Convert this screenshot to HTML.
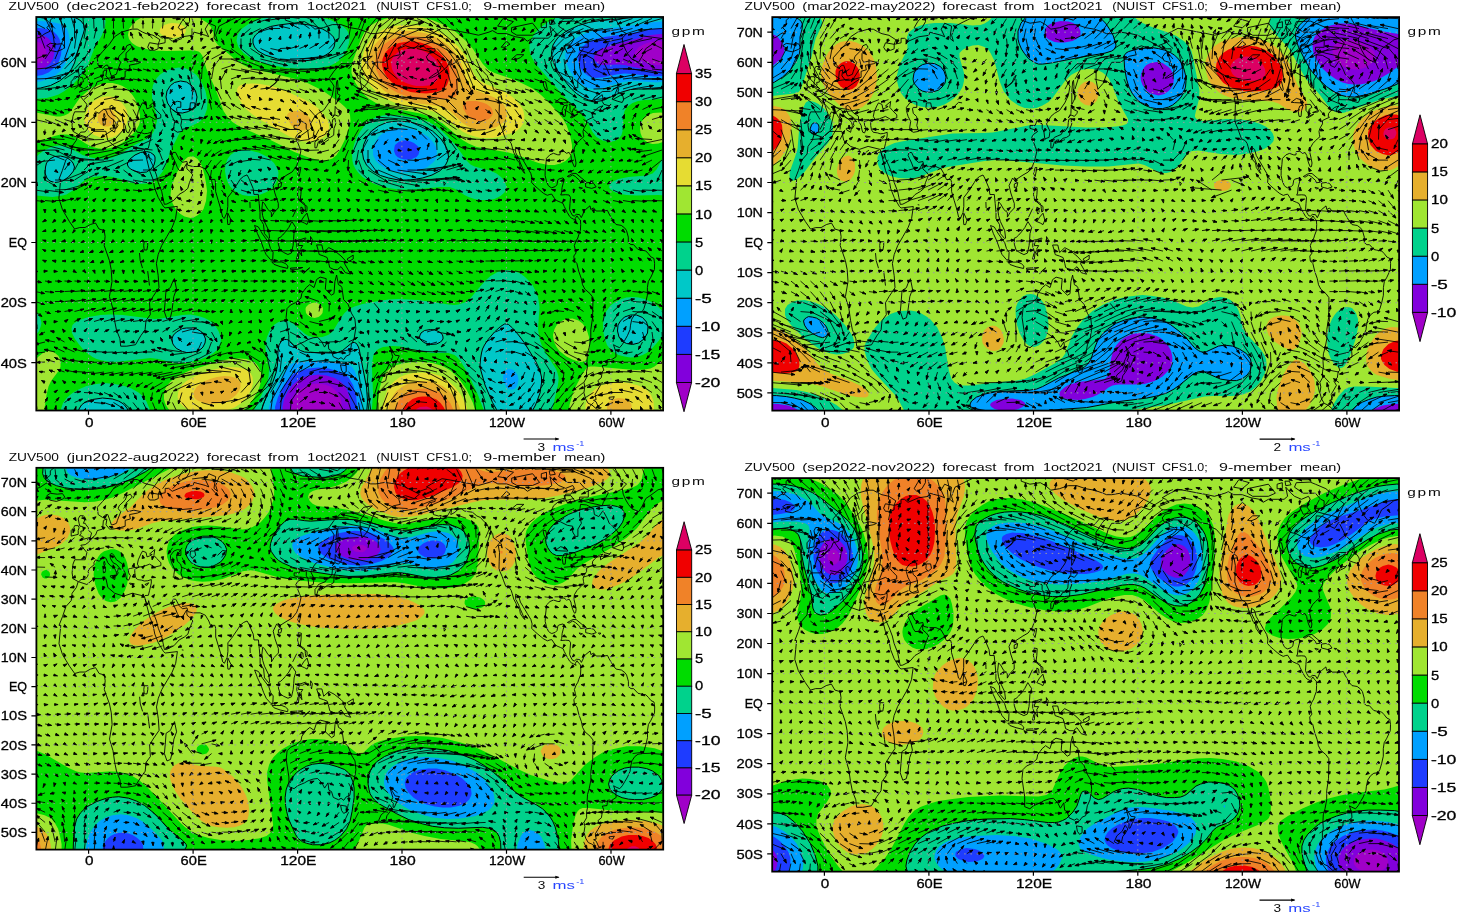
<!DOCTYPE html>
<html lang="en"><head><meta charset="utf-8"><title>ZUV500 forecast from 1oct2021 (NUIST CFS1.0; 9-member mean)</title>
<style>html,body{margin:0;padding:0;background:#fff}body{width:1459px;height:913px;overflow:hidden}svg{display:block}text{font-family:"Liberation Sans", sans-serif}.t{fill:#0a0a0a}.a,.c{stroke:#000;stroke-width:.3px}</style></head>
<body>
<svg width="1459" height="913" viewBox="0 0 1459 913" font-family='"Liberation Sans", sans-serif'>
<defs><clipPath id="cp"><rect x="36.3" y="17" width="626.8" height="393.5"/></clipPath></defs>
<g transform="translate(0 0)">
<g clip-path="url(#cp)">
<rect x="34.3" y="15" width="630.8" height="397.5" fill="#a000c8"/><path d="M30.5 11l638 0l0 33l-4-2l-4-1l-4 0l-6 1l-6 2l-5.5 3l-3.5 4l-1 2l0.5 2l3.5 4l6 3l6 2l5.5 1l4.5 0l4-1l4-2.5l0 353.5l-328 0l1-6l0-6l-1-4.5l-3-5.5l-3-3.5l-4-3l-6-2l-6-1l-6 0.5l-6 2l-5.5 3l-4 4l-2.5 4l-2.5 6l-0.5 6l1 6l-262 0l0-350l6-1l3-1l3-2l3-4l1-4l-1-4l-1-2.5l-2-2l-2-1.5l-4-1.5l-6-0.5z" fill="#8200dc" fill-rule="evenodd"/><path d="M30.5 11l638 0l0 24l-8-1l-10 1l-44 12l-5.5 2l-3.5 2l-2 2l-1.5 4l0.5 3l2 2.5l2 1.5l4 1l16-0.5l6 0.5l22 5l8 1l8-0.5l6-1.5l0 346l-319 0l1-8l-0.5-8l-2.5-8l-3-5.5l-4-4l-6-3.5l-8-2.5l-8-1l-8 1l-6.5 1.5l-5.5 3l-6 5l-4.5 6l-4 8l-1.5 8l0.5 8l-252.5 0l0-344l6-0.5l4-1l4-1.5l4-3l2-2l2.5-4l1-4l0.5-4l-1-4l-1-3.5l-4-5l-4-2.5l-4-1l-10-0.5z" fill="#1e3cff" fill-rule="evenodd"/><path d="M30.5 11l638 0l0 17l-8 0l-8 1l-26 5l-22 3l-8.5 2l-7.5 3l-6 4.5l-3.5 4.5l-1.5 6l1 6.5l1.5 3.5l2.5 4l2 2l4 3l6 2l8-0.5l14-3l8-1l8 0.5l22 2.5l8-0.5l6-1l0 340l-312.5 0l1-10l-1-10l-3-10l-4.5-7.5l-4-3.5l-7.5-3l-8.5-2.5l-10-1l-10 1l-8 2l-6 2.5l-4.5 4l-6 8l-6 12l-3 10l0.5 8l-245 0l0-338.5l6-0.5l6-1l6-2.5l4.5-3.5l4-4l2-4l2-6l0.5-6l-1-6l-1-4l-2.5-4l-2.5-2.5l-4-2.5l-6-1.5l-6-0.5l-8 0zM402.5 140.5l-4 1.5l-3.5 3l-0.5 2l-0.5 4l1.5 4l2 2l3 1.5l4 1l4 0l3.5-0.5l4.5-2l2-2.5l1-3.5l-1-4l-2-2l-2.5-2l-3.5-1.5l-4-1z" fill="#00a0ff" fill-rule="evenodd"/><path d="M30.5 11l638 0l0 10l-14 1l-26 4l-26 3l-10 2l-10 3.5l-8 4.5l-4.5 4l-3.5 6l-1.5 6l0.5 4l1.5 6l3 6l4 6l4.5 5l4 3l4 2.5l4 1l4 0.5l6-0.5l18-5.5l8-1.5l8-0.5l22 1.5l12-1.5l0 334l-307 0l0.5-12l-1-12l-4-14l-2.5-6.5l-2-3l-2-2l-4-1.5l-20-2.5l-10-0.5l-20 1.5l-4 1l-4 3l-6 9l-10.5 21.5l-3 10l-0.5 8l-238 0l0-333l10-0.5l7.5-2.5l6.5-3l6-5l4-6l2.5-6l2-8l0.5-12l-1-6l-1.5-4l-2.5-2.5l-4-2.5l-6-1.5l-6-1l-8-0.5l-10 1zM394.5 128.5l-6 2l-6 3l-4 3.5l-4 6l-1.5 6l0 6l3 6l4 4l6.5 4l5.5 2l6.5 1l8 0.5l8-1l8-2l5-2.5l5-4l2-2l2-4l0.5-6l-1-4l-1.5-3l-2.5-3l-3.5-4l-8-5l-8-3l-10-1zM506.5 370l-2.5 3l-1 4l0.5 4l1 2.5l2 3.5l2 2l2 0.5l2 0l2-0.5l2-2l1.5-4l0.5-4l-1-4l-3-4l-2-1.5l-2-0.5l-2 0z" fill="#00c8c8" fill-rule="evenodd"/><path d="M30.5 11l638 0l0 2.5l-12 1l-28 3.5l-28 2.5l-12 2l-10 3l-12 5.5l-8 6l-3 4l-2.5 4l-1 4l-0.5 4l1 6l2 6l4.5 8l7.5 10l5 6l5 4.5l6 4l6 2.5l8 1.5l6-1l18-8l10-3l8-0.5l20 0l10-1l0 327l-140 0l4-4.5l3-5.5l4.5-12l1.5-10l0-6l-1-4l-2-6l-3-6l-11-18l-6-8l-6-7l-4-3.5l-2-0.5l-2 0l-4 2.5l-6 5.5l-6 7l-4 6l-2 4l-1 4l-1 6l-0.5 6l1 6l4 14l7.5 17.5l4 7l3.5 5.5l-133.5 0l1-14l-1-14l-7-36l-1-4l-2-3.5l-2-1l-2 0l-2 1.5l-8 6.5l-6 2.5l-6 0l-20-0.5l-6-0.5l-4-1.5l-4-2.5l-8-8l-2-0.5l-2 0l-3 1.5l-2.5 4l-1 6l-0.5 14l-1.5 8l-3.5 10l-9.5 22l-1.5 6l-0.5 4l-133.5 0l0.5-2l-0.5-4l-3-4l-2.5-2l-3.5-2l-6-2l-10-1l-10 1.5l-5 1.5l-3.5 2l-2.5 2l-2.5 4l-0.5 3l0 3l-48 0l0-326l10-1l10-2.5l9-4.5l7.5-6l4.5-6l3-6l5-18l4-12l1-4l-0.5-4l-3-4l-3-2l-5.5-2.5l-8-2l-10-1l-12 0l-12 1zM140.5 152.5l-5.5 2.5l-5 4l-2.5 4l0 2l1 2l2 2l4 2l6 1.5l6-0.5l4.5-3l3-4l1-4l0-4l-1-2l-3.5-2.5l-4-1zM180.5 81l-6 1.5l-4 3l-3.5 5.5l-1 6l1.5 6l4 6l5 3.5l6 0.5l6-1.5l4-2.5l2-2.5l1.5-3.5l1-6l-1.5-6l-2.5-4l-2-2l-4.5-3zM278.5 25l-8 1.5l-6 2.5l-4 2l-5 4l-2.5 4l0 4l1.5 4l3.5 4l7 4l12.5 4l13 2l12 0l10-1l10-3l6.5-4l3.5-3.5l1.5-2.5l0.5-2l0.5-4l-1.5-4l-4-4l-7-4l-10-3.5l-10-1.5l-12-0.5zM386.5 122.5l-8 3.5l-7 5l-4.5 6l-3.5 8l-1 8l1 6l3 6l6 6l8 4.5l8 2.5l10 2l12 0l12-2l9.5-3l8.5-4.5l5-5.5l2-4l1-4l-0.5-4l-1-4l-2-4l-4-6l-8.5-8l-10-5.5l-12-3.5l-12-1l-6 0.5zM630.5 315l-6 2l-4 4l-2.5 4l-0.5 6l1.5 6l3 4l4.5 2.5l6 1l6-1.5l5.5-4l3.5-6l0.5-6l-1.5-5l-4-4.5l-6-2.5zM54.5 156.5l-4.5 2.5l-3.5 4l-1 4l-0.5 6l1.5 4l1 2l2.5 2l4.5 1.5l4-0.5l4-1l6-4l5-6l1-4l-1.5-4l-2.5-3l-4-2.5l-6-1.5zM182.5 328.5l-6 3.5l-3 3l-1 2l-0.5 2l0.5 4l1 2l3 3.5l6 3l4 1l4 0l7-1.5l3.5-2l2-2l2-4l0.5-4l-1.5-4l-3.5-4l-4-2l-4-1l-6 0zM424.5 330.5l-3.5 2.5l-1 2l-0.5 2l0.5 2l2 2l3 2l5.5 1.5l6-0.5l4-2l1-1l1.5-2l0-2l-0.5-2l-1.5-2l-3.5-2l-3-1l-4-0.5z" fill="#00d28c" fill-rule="evenodd" stroke="#000" stroke-width="1"/><path d="M99 11l476 0l-10.5 3l-10 4.5l-8 4.5l-6 4.5l-5.5 5.5l-3.5 6l-2 6l0 6l2 6l5 8l28 32l18.5 18l4 6l5.5 11l4 5l6 3.5l6 1.5l6-1l4-2l3-4l1-4l1-16l1-4l2.5-4l5.5-4l5.5-2l6.5-1l24-1.5l0 53.5l-5 5l-7 12.5l-4 4l-6 2l-18 1.5l-10 2l-4.5 2l-3 2l-1.5 2l-0.5 2l1 2l4.5 3l4 1.5l8 1.5l10 0.5l22-0.5l10 1l0 219l-117.5 0l6.5-28l1-6l0-4l-1-4l-1.5-4l-11.5-18l-3-6l-2-6l-1.5-10l1.5-22l-1.5-10l-2.5-6l-3-6l-3.5-4l-4-4l-4.5-3.5l-4-1.5l-4-1.5l-6-0.5l-8 1.5l-8 4.5l-6 5.5l-14 16.5l-6 4.5l-6 2l-4 0.5l-6-0.5l-30-4.5l-20-1l-10 0.5l-10 1.5l-16 3l-8 2.5l-6 3l-4 3.5l-4 5.5l-6 10l-3.5 4.5l-3 2l-5.5 2l-8 0.5l-6-1.5l-4-2.5l-10-9l-6-3.5l-4-0.5l-6 1.5l-4 2.5l-2.5 2.5l-2.5 4l-2.5 6l-1.5 6l0 6l3.5 18l0 4l-0.5 6l-1.5 6l-3.5 8l-12 24l-101 0l-1-6l-3-7.5l-4-5.5l-4-3.5l-8-4.5l-8-2.5l-8-1.5l-10-1l-8 1l-10 2l-8 3.5l-6 3.5l-5 4l-4.5 6l-2 6l-0.5 6l-30 0l0-72l8.5-12l1.5-4l1-4l-1-4l-2-4l-3-4l-5-5l0-111l22 2l10-1.5l4-1l5.5-3.5l10.5-9l4-3l4-1.5l6-1l8-0.5l8 1l8 2l10 3.5l8 1.5l8-0.5l6-2l6-4.5l4.5-6l3-6l4.5-14l9-18l5-4l12-5.5l4-2.5l4-5l2.5-7l0.5-8l-2-10l-3.5-8l-5.5-8l-6-4.5l-6-2.5l-6-0.5l-8 1.5l-6 2.5l-5 3.5l-3.5 4l-3 6l-1 6l0 6l1 6l3.5 12l0.5 6l-1 4l-2 6l-2.5 4l-3 3l-14 7l-16 10l-6 2.5l-6 1l-10 0l-8-1.5l-6-2l-12-7l-6-2l-6-0.5l-6 1l-8 3.5l-6.5 5l-3 4l-4.5 9.5l0-69.5l16-1l6-1.5l6-2l6-3.5l6-4.5l5.5-5.5l5.5-6l6.5-10l6-16l8-14l3-8l0.5-6l-1-4l-2-3zM280.5 15l-12 1.5l-12 3.5l-8 4l-7 5l-4 6l-1 6l2 6l5 6l5 3.5l4 2.5l14 5l20 4l18 1l14-1l12-2.5l4-2l4-2.5l4-4l2.5-4l2-4l2-6l0.5-4l-0.5-4l-1.5-4l-1.5-2l-5.5-4.5l-10-4.5l-16-4l-18-1.5zM388.5 115l-6 0.5l-6 1.5l-4 2l-4 2.5l-4 4l-4 5.5l-3.5 6l-2.5 6l-1.5 6l-1 6l0.5 6l1 4l2 4l3 4l4 4l4 2.5l8 4.5l6 2l8 2l10 1.5l14 0l28-2.5l9 0l5.5 2l9.5 6l4 2l6 2l6 1l8 0l6-1l6-3l4-3.5l1.5-3.5l0-4l-1.5-4l-3.5-4l-4.5-3.5l-5.5-2.5l-16.5-4.5l-4-2l-4-4l-9.5-13.5l-7-8l-8-8l-7.5-6l-8-4l-10-3l-14-2.5zM632.5 297l-6 0.5l-6 2l-6 3l-4 3l-4 5.5l-2 4l-1 4l-0.5 6l0.5 8l1.5 6l2 6l3 4l4.5 3.5l4 2.5l6 1.5l6 1l6-0.5l6-2l4-2l5-4l7-8l6-8l3-6l0.5-4l-0.5-4l-2-4l-5-6l-4.5-4l-5.5-3.5l-6-2.5l-6-1.5zM100.5 315l-12 2l-10 3.5l-4 2.5l-2 2l-1 4l0.5 4l3 6l4.5 6l5 6l8 6l4 2l6 1.5l8 1.5l10-0.5l30-3.5l8 1l16 4l6 0l8-0.5l12-3l10-4.5l3-2l4.5-4l1-2l1.5-4l0.5-4l-1-4l-1.5-4l-2.5-4l-3.5-4l-4-3l-4-2l-6-2l-8-1.5l-8 0.5l-22 3.5l-6 0.5l-32-4l-12-0.5zM238.5 150.5l-4 1.5l-4 3l-3 4l-2 6l-0.5 6l1 6l2 6l2.5 4l4 3.5l4 2.5l4 2l6 1l6 0l6-1.5l6-2.5l4.5-3l5-6l2-6l0.5-4l-1-4l-3.5-6l-6.5-6l-9-4.5l-10-2.5l-6 0zM383 347l9.5-1l8 0.5l24 5.5l8 1l16 0l6 2l2.5 2l3.5 4l8 13.5l9.5 20.5l7.5 20l-114 0l1.5-22l-1-24l0.5-8.5l1-5.5l3-4.5l2-1.5z" fill="#00dc00" fill-rule="evenodd"/><path d="M158 13l12.5-1l10 0.5l10 2l10 4l7 4.5l3.5 4l2 4l2 10l3 4l18.5 15.5l6 4l6 3l6 1.5l41 10l12 4l15 7.5l18 12.5l4.5 4l3.5 4l1.5 4l0.5 6l-2 8l-4 11.5l-4 8l-4 6.5l-4 3.5l-6 2l-8-0.5l-10-2.5l-14-5.5l-24-12l-25.5-11l-8-4l-4.5-3l-5-5l-4-6l-8-22l-9-20l-4-13l-2-3l-2-1.5l-4-1l-4 0l-24 0.5l-14-0.5l-12-3l-4-1.5l-4.5-3l-3-4l-1-4l1-6l3.5-5l4-3.5l6-3.5l8-2.5zM392.5 17l14-1l14 1.5l12 2.5l14 6l10 6.5l9.5 8.5l7 8l9.5 14.5l6 6.5l6 3l18 6l10 4.5l10 5l8 6l8 7.5l8 9l6.5 8l3.5 6l3.5 10l2 10l0 6l-1 4l-1.5 2l-4 4l-5 2.5l-6 1.5l-6 0l-10-2l-21.5-8l-8.5-2.5l-26-4.5l-6-1l-8-3.5l-6-3.5l-20.5-17l-9.5-5.5l-12-4l-24.5-4.5l-11.5-3l-8.5-3l-7.5-4.5l-4-3.5l-5-6l-4-6l-2.5-6l-1.5-4l0-4l0.5-4l1.5-6l7.5-20l3-6l2.5-4l4-3.5l6-3.5l8-3zM108 83l4.5 0l6 1.5l4 1.5l4 2.5l6 6.5l2.5 4l2.5 6l2.5 10l0 6l-1 4l-3.5 6l-3.5 4l-4.5 4l-5.5 4l-5.5 3l-6 2l-6 1l-6-0.5l-6-1.5l-6-3l-12-7.5l-4-1.5l-4-0.5l-6 0l-6 1.5l-18 6l-6 1.5l0-31l8 0.5l18 3.5l4 0l4-1l4-2l2-2l8.5-12.5l4-4l5.5-4.5l4-3l6-2.5l4-1.5zM653 113l7.5-0.5l8 1l0 26.5l-10 3.5l-6 0.5l-3.5-1l-2.5-1.5l-2-1.5l-2.5-3l-1.5-4l-0.5-4l0.5-4l1.5-4l2.5-3.5l2-1.5l4-2zM188 157l2.5-0.5l4 0.5l3 2l3 4l2 4.5l2 7.5l1.5 8l1 8l-1 10l-2.5 8l-3 4l-2.5 2l-3.5 2l-4 1l-6-1.5l-4-2.5l-3.5-3l-2.5-4l-2-4l-2-8l0.5-4l1-6l4.5-11.5l6-11l2-2.5zM312 303l2.5-0.5l4 1l2 1.5l2 2l0.5 2l-0.5 4l-1.5 2l-2.5 2l-4 1l-4-1l-3-2l-1.5-2l-0.5-4l0.5-2l2.5-2.5zM566 319l6.5-0.5l6 2l4 3l4 5.5l2.5 8l0.5 10l-1 6l-1 4l-1 2.5l-2 2l-4 0.5l-4-1l-4-1.5l-6-3l-7-5.5l-3-4l-2-4l-1-4l-0.5-4l1.5-6l2-3.5l2-2.5l4-2.5zM43 353l5.5-2l4 0.5l2.5 1.5l3.5 3l1.5 3l0.5 4l0 4l-2 4l-7.5 10l-2.5 5.5l-2 8.5l-3 20l-13 0l0-50.5l8-8zM668.5 354l0 61l-99.5 0l0.5-10l3.5-12l3.5-8l6-11l4-6l1.5-1l2.5-0.5l4 0l34 3l8 0.5l8-0.5l6-1l4-2l4-3zM229 359l11.5-0.5l6 0.5l4 1.5l6 3.5l2 3l2 4l1 4l0 4l-1.5 6l-1.5 5l-6 10.5l-4 5l-4 4l-8 5.5l-62 0l-4.5-4l-3-4l-2-4l-1-4l0-4l0.5-4l1.5-4l5-6l7.5-5l10-5l28-9zM404.5 363l14-1.5l14 1.5l10 3l8 4.5l8 7.5l8 11.5l6.5 13.5l3.5 12l-100 0l3-26l2-8l2.5-6l2.5-3.5l4-3.5l6-3z" fill="#a0e632" fill-rule="evenodd"/><path d="M164.5 25l4-1.5l4-0.5l6 0.5l3.5 1.5l2.5 2l1 2l0.5 2l-1 2l-1.5 2l-4.5 2l-6.5 1l-6-1l-4.5-2l-2-2l-0.5-2l0.5-2l1.5-2zM402.5 25l14 0.5l12 2.5l6 2l8 4l10 7l6 6l5 6l3.5 6l7.5 16l4 5l6 3.5l16 6.5l6 3l6 4l6 6l3 4l2 4l1 6l-1 6l-2.5 4l-4.5 4l-4.5 2l-11.5 3.5l-8 1.5l-6 0l-6 0l-6-1.5l-6-2l-6-3l-6-4.5l-12-10l-6-3.5l-8-3l-24-4.5l-11-3l-11-5l-8-6l-5-5l-4.5-6l-3.5-6l-1-4l-1-4l0-6l2.5-10l3-6l3.5-5.5l4-4l4-3l4-2.5l6-2.5l6-1.5zM240.5 85l4-1l8-0.5l8 0.5l8 1.5l8 2l9.5 3.5l20.5 9.5l6 3.5l6 4.5l4 4.5l3 4l2.5 4l1 4l0 4l-1.5 4l-3 3.5l-4 2.5l-4 1.5l-6 1l-6 0l-6-1l-10-4.5l-29.5-17l-6.5-4.5l-6.5-5.5l-4.5-6l-2.5-4l-1.5-4l-0.5-6l1.5-2.5zM102 97l4.5-0.5l4 0l4 1l4 2.5l3.5 3l3 4l2 4l0.5 4l0 4l-0.5 4l-3 6l-3.5 3.5l-4 3l-4 2l-4 0.5l-4 0.5l-4-1l-6.5-2.5l-3.5-3l-3-3l-3-6l0-4l0.5-4l3.5-8l3-4l3-2.5l4-2zM229.5 367l9 0.5l6 1.5l3.5 2l2.5 2l2 4l0.5 6l-1 4l-1.5 4l-4 7l-6 5.5l-6 4l-8 3l-10 2l-10 0.5l-8-0.5l-8-2l-6.5-3.5l-4-4l-1.5-3l-1-3l1-6l3.5-6l4.5-4l10-5.5l11.5-4.5l12.5-3zM413.5 373l9-0.5l10 1l8 2.5l8 5l6.5 6l6 8l5 10l2.5 10l-87 0l1.5-10l2-8l2-6l3.5-6l4-4l5.5-4l6.5-2.5zM608.5 383l10-1l10 1l10 2.5l7 3.5l3 2.5l2.5 3.5l2.5 6l0.5 8l-1.5 6l-66 0l-1-4l0-6l2-6l2-4l3.5-4l5-4l4.5-2z" fill="#e6dc32" fill-rule="evenodd"/><path d="M402 31l12.5 0l12 2.5l12 5l10 7l6 6.5l4.5 7l3.5 8l4.5 14l3.5 5.5l3 2.5l3 1.5l18 7l5.5 3.5l4 4l2 4l0.5 6l-1 4l-3 4l-6 4l-8 2.5l-8 0.5l-8-1.5l-6-3l-4-2.5l-12-11.5l-6-3.5l-6-2l-24-3l-12-3l-6-2.5l-6-3l-6-3.5l-4-4l-7-8l-4-8l-1-8l0-4l1.5-6l4.5-8l3.5-4l4.5-3.5l8-4l6-1.5zM104 109l2.5-0.5l4 0.5l2.5 2l2.5 4l0 4l-1 3.5l-3 2.5l-3 1.5l-4 0l-2-1l-2-1l-2.5-3.5l-0.5-4l1-3l2-3zM292.5 111l6 0l4 1l4 2.5l2.5 2.5l1.5 2l1 4l-1 4l-2 2l-4 1.5l-4 0l-4.5-1.5l-5-4l-3.5-6l-0.5-4l1.5-2zM217 377l7.5-1l6 0.5l4 1l4 2.5l2 3l0 4l-1.5 4l-3 4l-5 4l-4 2l-6.5 2l-4 0.5l-6 0.5l-6-1l-6-2l-3-2l-1.5-2l-0.5-4l1-2.5l2-3.5l5-4l3.5-2l5-2zM422 381l8.5 0.5l6 2l6 2.5l6 4.5l4 4.5l4.5 6l2.5 6l2 8l-74 0l1-8l2-6l3-6l3-4l6-4.5l6-3l6-1.5zM614 399l4.5-1l4 0.5l2.5 0.5l3.5 2l2 2l1 2l0 4l-1 2l-2 2.5l-3.5 1.5l-12 0l-2.5-1.5l-2.5-2.5l-1-2l0-4l1-2l2-2z" fill="#e6af2d" fill-rule="evenodd"/><path d="M398.5 37l6-1l6 0l8 0.5l6 1.5l6 2.5l6 3l5 3.5l4.5 4l3.5 4l3.5 6l3.5 10l1 6l0.5 8l-0.5 6l-1 4.5l-2 1.5l-2 1l-10 1l-16 0l-12-1l-8-2l-8.5-3l-7-4l-6.5-5.5l-5-6.5l-3.5-8l-1-8l1.5-6l3-6l5-5l6-4zM467.5 101l9 0l6 1.5l4 1.5l4 3l1.5 2l1 4l-0.5 2l-1.5 2l-2 2l-4.5 2l-6 0l-7-2l-4.5-4l-3.5-6l-0.5-4l0.5-2zM418 389l6.5-0.5l6 1l6 1.5l6 3.5l4.5 4.5l3.5 4.5l2.5 5.5l1.5 6l-60.5 0l1-6l1.5-4l2-4l3-4l7-5l4-1.5z" fill="#f08228" fill-rule="evenodd"/><path d="M399 43l9.5-1.5l6 0l6 1l6 2l5 2.5l8.5 6l3.5 4l2.5 4l2.5 5.5l1 4.5l0 6l-1 4l-1.5 4l-1.5 2l-5 3.5l-6 2l-8 1l-8-0.5l-8-1l-8-3l-7.5-4l-4.5-4l-4-4.5l-3-5.5l-1.5-6l0.5-6l2.5-6l3.5-4l5.5-4zM418 397l4.5-0.5l6 0l4 1.5l4 1.5l4 3.5l3 4l2 4l1 4l-44.5 0l1.5-6l4-6l5-4z" fill="#f00000" fill-rule="evenodd"/><path d="M406 49l8.5-0.5l8 2l6 3l6 5l2 2.5l2 4l1.5 6l-1 6l-2.5 4l-4 3l-4 1.5l-6 0.5l-6 0l-4.5-1l-6-2l-4-2l-5-4l-3-4l-2-4l-1-6l1-4l2.5-3.5l2.5-2.5l3.5-2zM420 407l6.5-0.5l4 1.5l3.5 3l1.5 4l-22.5 0l2-4l1.5-2z" fill="#dc0063" fill-rule="evenodd"/><path transform="scale(.5)" d="M73 811l1 7l-5 0zl-3 14M93 811l1 8l-5-1zl-3 14M112 811l1 8l-4-1zl-2 14M132 812l1 7l-5-1zl-3 13M152 813l0 8l-4-1zl-3 12M171 817l0 7l-4-1zl-3 8M192 822l-4 6l-3-3zM210 830l-5-5l4-2zM230 836l-4-6l4-1zl-3-11M249 840l-3-6l5-1zl-2-15M269 842l-3-7l4-1zl-3-17M290 841l-4-6l4-1zl-4-16M312 841l-5-5l4-2zl-7-16M336 842l-6-4l4-3zl-11-17M363 842l-6-3l3-3zl-18-17M391 840l-7-1l2-4zl-27-15M418 836l-7 0l1-5zl-34-11M443 830l-7 1l0-4zl-40-5M466 823l-7 3l0-5zl-43 2M487 817l-7 4l-1-5zl-44 8M504 811l-6 5l-2-5zl-42 14M516 805l-5 5l-2-4zl-34 20M525 796l-3 7l-3-3zl-24 29M535 786l-1 8l-4-2zl-14 39M547 781l2 8l-5-1zl-6 44M564 786l2 7l-5 0zl-4 39M583 799l2 8l-5-1zl-3 26M604 814l-1 8l-4-2zl-5 11M625 825l-7 3l0-5zM645 829l-8-1l3-4zl-7-4M662 835l-5-5l5-2zl-4-10M679 849l-3-7l5 0zl-1-24M697 868l-2-7l4 0zl0-43M716 884l-3-8l5 1zl1-59M735 889l-2-7l5 0zl1-64M755 887l-2-7l5 0zl1-62M775 878l-2-7l4 0zl1-53M794 868l-2-7l5 1zl1-43M813 857l-2-7l5 0zl2-32M832 842l-2-7l5 1zl2-17M849 824l7 0l-1 4zM870 806l4 7l-5 0zl4 19M890 791l3 7l-5 1zl3 34M909 783l3 7l-4 1zl4 42M928 782l3 7l-4 1zl4 43M947 787l3 7l-4 1zl5 38M965 797l4 6l-5 1zl6 28M983 808l5 5l-4 2zl8 17M1001 819l7 2l-2 4zl10 6M1020 828l6-4l1 5zl10-3M1040 835l3-6l3 3zl10-10M1060 839l2-7l4 3zl9-14M1080 841l1-7l5 2zl9-16M1101 842l1-8l4 2zl8-17M1122 841l0-7l5 2zl6-16M1143 841l0-7l4 1zl5-16M1163 840l0-7l5 1zl4-15M1184 838l-1-8l5 2zl3-13M1204 834l0-7l4 1zl2-9M1224 830l1-7l4 2zM1243 821l6 4l-4 3zM1263 817l4 6l-4 2zl2 8M1281 813l5 6l-5 1zl4 12M1300 811l4 6l-4 1zl4 14M1318 810l5 5l-5 2zl6 15M72 794l1 7l-4-1zl-2 11M95 795l-1 7l-4-2zl-5 10M118 795l-3 7l-3-3zl-8 10M142 796l-5 6l-2-4zl-13 9M165 798l-5 5l-2-4zl-16 7M188 801l-6 4l-1-5zl-20 4M210 807l-7 1l0-4zl-22-2M230 813l-7 0l1-5zl-22-8M248 818l-7-2l2-4zl-21-13M264 821l-7-3l4-3zl-17-16M280 823l-7-4l4-3zl-14-18M295 823l-5-5l4-2zl-9-18M313 825l-5-5l5-2zl-8-20M334 829l-5-6l5-2zl-9-24M357 830l-5-5l4-2zl-12-25M382 827l-6-4l4-3zl-18-22M406 820l-7-2l2-4zl-22-15M428 812l-7 0l1-4zl-25-7M451 805l-7 3l0-5zl-28 0M475 799l-6 3l-1-4zl-32 6M501 790l-6 5l-1-5zl-39 15M525 779l-5 6l-3-5zl-43 26M543 766l-4 7l-3-4zl-42 39M556 757l-2 7l-4-3zl-35 48M568 756l-1 7l-5-2zl-27 49M582 764l-1 7l-4-2zl-22 41M598 778l-2 7l-4-3zl-18 27M615 793l-4 6l-3-4zl-16 12M632 803l-7 3l0-4zl-13 2M650 807l-8 1l1-5zl-12-2M670 813l-7-2l2-4zl-12-8M690 826l-5-5l4-2zl-12-21M709 843l-4-6l4-1zl-12-38M727 859l-4-7l5 0zl-10-54M742 865l-3-7l5 0zl-6-60M756 861l-2-7l5 0zl0-56M769 852l-1-7l5 1zl7-47M783 843l0-8l4 2zl12-38M797 832l2-7l4 3zl18-27M813 819l5-6l3 4zl21-14M832 803l7-2l-1 5zl22 2M852 787l7 3l-3 3zl22 18M874 774l6 5l-4 3zl19 31M897 767l5 6l-5 2zl16 38M920 766l4 6l-4 2zl12 39M941 771l5 6l-5 2zl11 34M962 780l5 6l-5 1zl9 25M981 791l6 4l-4 3zl10 14M1000 802l8 0l-2 4zl11 3M1019 811l5-5l3 4zl11-6M1039 818l2-7l4 3zl11-13M1058 822l2-7l4 3zl11-17M1078 824l1-7l5 2zl11-19M1098 824l1-7l4 2zl11-19M1117 824l2-7l4 2zl11-19M1136 823l2-7l4 3zl12-18M1155 822l2-7l4 3zl12-17M1173 820l3-7l4 3zl14-15M1192 816l4-6l3 4zl14-11M1211 811l6-5l1 4zl15-6M1230 804l8-2l-1 5zl16 1M1251 798l7 1l-2 4zl14 7M1271 793l7 3l-3 4zl14 12M1293 790l6 4l-4 3zl11 15M1314 789l6 5l-4 2zl10 16M66 778l6 4l-4 3zl4 7M91 779l1 7l-4-1zM115 780l-4 6l-3-3zl-5 5M138 781l-5 5l-2-4zl-9 4M162 783l-7 3l-1-4zl-13 2M185 786l-8 2l1-5zl-17-1M206 789l-7 1l1-5zl-18-4M226 793l-8-1l2-4zl-18-8M243 796l-7-2l3-4zl-16-11M258 798l-6-4l4-3zl-11-13M273 799l-5-5l4-3zl-7-14M288 800l-4-7l5-1zl-2-15M302 802l-1-7l5 1zl3-17M318 807l-1-7l5 1zl7-22M335 810l0-7l5 2zl10-25M357 808l-1-7l5 1zl7-23M381 800l-1-7l4 1zl3-15M405 791l-4-6l5-1zM428 785l-7 2l0-4zM448 782l-5 5l-2-4zl-5 3M474 776l-4 6l-3-4zl-12 9M501 764l-3 6l-4-3zl-19 21M528 748l-2 7l-4-3zl-27 37M553 735l-2 7l-4-3zl-32 50M573 731l-1 7l-4-2zl-32 54M590 739l-1 7l-4-2zl-30 46M606 753l-2 7l-4-3zl-26 32M622 767l-4 7l-3-4zl-23 18M638 778l-6 4l-2-4zl-19 7M655 785l-7 2l0-5zl-17 0M676 793l-7-1l2-4zl-18-8M697 804l-7-3l4-3zl-19-19M715 819l-5-5l4-2zl-18-34M731 832l-5-6l5-1zl-14-47M744 836l-4-7l5-1zl-8-51M753 830l-2-7l5 0zl3-45M762 821l0-7l4 1zl14-36M771 813l3-7l4 3zl24-28M783 804l5-5l3 4zl32-19M798 794l6-4l1 4zl36-9M815 781l8-1l-1 4zl39 4M836 769l8 0l-2 5zl38 16M860 759l7 2l-3 4zl33 26M885 753l7 4l-4 3zl28 32M910 753l6 4l-4 3zl22 32M934 757l6 5l-4 2zl18 28M957 765l6 4l-4 3zl14 20M978 774l7 3l-3 3zl13 11M998 784l7-2l0 5zl13 1M1017 793l5-6l2 4zl13-8M1036 800l3-7l4 3zl14-15M1056 804l2-7l4 2zl13-19M1075 805l2-7l4 3zl14-20M1094 806l2-8l4 3zl15-21M1112 805l3-7l4 3zl16-20M1130 804l3-7l3 4zl18-19M1146 803l4-7l3 4zl21-18M1163 800l4-5l3 4zl24-15M1180 797l5-5l2 4zl26-12M1197 791l7-4l1 5zl29-6M1217 785l7-2l0 4zl29 0M1238 779l7-1l-1 5zl27 6M1260 775l8 0l-2 5zl25 10M1284 772l7 2l-2 4zl20 13M1309 771l6 3l-3 3zl15 14M59 761l7 0l-1 5zl11 4M83 761l7 1l-2 5zl7 4M105 761l7 3l-3 4zM125 761l7 3l-3 4zM144 763l7 0l-1 4zM163 766l6-4l2 4zM183 769l4-7l3 4zM202 771l3-7l4 3zl6-6M220 773l3-7l4 3zl7-8M237 774l4-7l3 4zl10-9M254 774l4-6l3 3zl12-9M272 774l4-6l3 4zl14-9M288 775l4-5l3 4zl17-10M301 779l5-6l2 4zl24-14M313 784l4-6l3 4zl32-19M327 786l4-6l3 4zl37-21M347 782l5-5l2 4zl37-17M373 775l6-5l2 5zl30-10M402 767l7-3l0 5zl21-2M428 763l7-2l-1 5zl15 2M449 758l8 1l-3 4zl13 7M471 748l6 5l-4 3zl11 17M497 735l4 6l-5 1zl4 30M527 721l1 7l-4 0zl-6 44M556 714l0 8l-4-2zl-15 51M582 719l-1 7l-4-2zl-22 46M605 731l-2 7l-4-3zl-25 34M627 744l-5 6l-3-4zl-28 21M645 754l-5 5l-2-5zl-26 11M664 763l-6 3l-1-5zl-26 2M685 772l-8 1l1-5zl-27-7M703 781l-7-2l2-4zl-25-16M716 792l-6-4l4-3zl-19-27M728 804l-4-6l4-1zl-11-39M739 804l-2-6l4-1zl-3-39M747 796l0-7l5 1zl9-31M754 788l3-7l4 3zl22-23M763 781l6-5l2 4zl32-16M775 775l6-4l1 5zl40-10M789 768l7-3l1 5zl45-3M807 760l7-2l0 5zl47 5M828 751l8 0l-2 4zl46 14M853 744l7 1l-2 4zl40 21M878 740l7 2l-2 4zl35 25M905 740l6 3l-3 3zl27 25M930 743l7 3l-4 4zl22 22M954 749l6 3l-3 3zl17 16M976 757l7 1l-2 4zl15 8M996 765l7-2l1 4zl15 0M1016 774l5-6l3 4zl14-9M1036 780l3-7l3 3zl14-15M1056 784l2-7l4 3zl13-19M1075 786l2-7l4 2zl14-21M1095 786l2-7l4 2zl14-21M1113 785l2-7l4 2zl15-20M1130 783l3-7l3 4zl18-18M1145 781l4-6l3 4zl22-16M1159 778l6-5l2 4zl28-13M1174 775l6-5l2 5zl32-10M1191 770l6-3l1 4zl35-5M1209 765l7-2l0 5zl37 0M1230 761l7-2l0 5zl35 4M1254 758l7-1l-1 5zl31 7M1280 756l7 0l-2 4zl24 9M1306 754l7 2l-2 4zl18 11M54 746l6-3l1 5zl16-2M78 743l7-1l-1 4zl12 1M98 740l7 0l-2 5zl12 4M115 739l7 0l-2 5zl14 5M130 740l7 0l-1 4zl19 4M146 743l7-2l0 5zl22 1M164 746l6-3l1 5zl24-2M182 748l6-3l1 5zl26-4M200 749l7-3l1 4zl27-5M219 750l7-4l1 5zl28-6M239 750l6-4l1 5zl27-6M259 750l6-4l1 5zl27-6M278 749l7-3l0 5zl27-5M295 750l6-4l1 5zl30-6M306 752l6-3l1 4zl39-8M313 756l6-4l1 5zl51-12M322 759l6-4l1 5zl62-15M341 758l6-4l1 5zl62-14M362 753l6-3l1 5zl61-9M388 747l7-3l0 5zl55-3M413 740l7-1l0 4zl49 4M438 733l7-1l-1 5zl44 11M466 723l7 2l-3 4zl35 21M498 712l6 5l-4 2zl23 32M532 704l3 7l-4 1zl9 40M564 707l1 7l-4 0zl-4 37M596 718l-1 7l-4-2zl-16 26M628 727l-5 6l-2-4zl-29 17M654 734l-6 5l-2-5zl-35 10M675 743l-7 2l0-5zl-37 1M694 751l-7 1l1-5zl-36-7M708 754l-7 1l1-5zl-30-10M715 761l-7-3l3-3zl-18-17M722 776l-3-7l5-1zl-5-32M734 774l-2-7l5 1zl2-30M744 763l1-7l4 3zl12-19M752 756l5-5l3 4zl24-12M763 752l6-4l1 5zl32-8M776 748l7-3l0 5zl39-4M792 744l7-3l0 5zl42 0M810 739l7-2l-1 5zl44 5M831 733l8 0l-2 4zl43 11M855 729l8 0l-2 5zl38 15M881 726l7 2l-2 4zl32 18M907 726l7 2l-2 4zl25 18M933 728l7 3l-3 3zl19 16M958 732l6 3l-3 3zl13 12M981 738l7 2l-3 4zl10 6M1002 746l7-4l0 5zl9-2M1023 753l3-7l3 3zl7-9M1043 759l1-7l4 2zl7-15M1064 764l0-7l4 1zl5-20M1086 766l-2-7l5 1zl3-22M1107 766l-2-7l5 0zl2-22M1126 763l-2-7l5 1zl2-19M1142 760l0-7l5 1zl6-16M1156 757l3-7l3 3zl11-13M1168 754l5-5l2 4zl19-10M1181 751l6-4l1 5zl25-7M1195 747l7-3l0 5zl31-3M1212 744l7-2l0 5zl34 0M1232 743l7-2l-1 4zl33 1M1255 742l8-2l-1 5zl30 2M1282 741l8-1l-1 5zl22 3M1310 740l7 0l-1 4zl14 4M50 730l6-4l1 5zl20-6M73 725l7-3l0 5zl17-1M92 719l8 0l-2 4zl18 5M109 715l7 1l-2 4zl20 9M124 716l8 0l-2 5zl25 8M140 720l8-2l-1 5zl28 4M158 723l7-2l0 5zl30 1M176 725l7-2l0 4zl32-1M195 727l7-3l1 5zl32-3M216 728l6-4l1 5zl31-4M236 728l7-3l1 4zl30-4M257 728l7-4l0 5zl29-4M277 726l7-3l1 5zl28-2M295 724l7-2l0 4zl30 0M307 723l8-3l-1 5zl38 1M316 725l7-2l0 4zl48-1M326 731l6-3l1 5zl58-7M341 737l6-4l1 5zl62-13M360 737l7-4l1 5zl63-13M381 732l6-3l1 5zl62-8M404 727l7-3l0 5zl58-3M429 721l7-2l0 5zl53 3M458 715l7-1l-1 4zl43 9M490 705l7 2l-3 4zl31 19M520 696l6 4l-4 3zl21 28M550 699l5 5l-5 2zl10 25M586 713l-1 7l-4-2zl-6 11M625 719l-6 4l-1-5zl-26 5M657 720l-7 3l0-5zl-38 4M680 724l-7 2l0-5zl-42 0M698 728l-7 2l0-5zl-40-4M709 725l-7 3l0-5zl-31-1M714 729l-7 0l1-4zl-17-5M721 748l-4-6l5-1zl-4-24M733 747l-2-7l5 1zl3-23M744 734l4-6l3 4zl12-10M756 728l7-4l1 5zl20-4M770 726l7-3l0 5zl25-2M785 724l7-3l-1 5zl30 0M800 721l7-2l0 5zl34 3M817 718l7-1l0 5zl37 6M839 716l7-1l-1 5zl35 8M865 714l7 0l-2 4zl28 10M892 712l7 1l-2 4zl21 12M919 711l6 3l-3 3zl13 13M945 711l5 5l-4 3zl7 13M970 714l3 7l-5 1zl1 10M993 719l0 7l-5-2zM1016 725l-7 1l0-4zM1037 732l-6-4l3-3zl-7-8M1059 739l-6-5l4-2zl-9-15M1081 745l-6-5l5-3zl-12-21M1104 748l-6-5l4-2zl-15-24M1127 747l-6-4l4-3zl-18-23M1147 742l-6-3l3-3zl-19-18M1163 736l-7-2l3-4zl-15-12M1175 731l-6-3l3-3zl-8-7M1185 729l0-7l5 1zM1196 725l7-3l0 5zl10-1M1207 723l7-2l0 5zl19 1M1221 723l7-2l0 4zl25 1M1239 725l7-3l0 5zl26-1M1262 728l6-4l1 5zl23-4M1288 729l6-4l2 4zl16-5M1315 727l6-4l2 4zl9-3M47 715l5-5l2 4zl23-11M69 707l6-3l1 5zl21-3M88 699l8-1l-1 5zl22 5M108 694l7 1l-2 4zl21 10M127 694l7 1l-2 4zl22 10M146 697l7 0l-1 5zl22 7M165 701l8-2l-1 5zl23 3M185 703l7-2l0 5zl23 1M205 705l7-3l0 5zl22-1M225 706l7-3l1 5zl22-2M246 706l7-3l0 5zl20-2M267 706l7-3l0 5zl19-2M286 704l7-3l0 5zl19 0M303 699l7-1l-1 5zl22 5M314 695l8 0l-2 4zl31 9M325 698l7-1l-1 5zl39 6M340 710l6-4l1 5zl44-6M363 720l5-5l2 5zl40-16M389 722l5-5l2 4zl34-18M413 717l6-5l1 4zl30-13M435 711l6-4l1 5zl27-7M456 707l7-3l1 5zl26-3M480 703l7-2l-1 5zl21 1M504 694l7 2l-2 4zl17 10M528 682l6 5l-4 3zl13 22M553 688l5 6l-4 2zl7 16M585 709l-7-3l3-4zl-5-5M620 714l-7-1l2-5zl-21-10M650 707l-7 2l1-5zl-31-3M673 705l-7 3l1-5zl-35-1M691 706l-7 2l0-5zl-33-2M705 698l-7 4l-1-5zl-27 6M715 699l-6 4l-1-4zl-18 5M725 721l-5-5l4-2zl-8-17M735 722l-2-7l5 0zl1-18M748 709l5-6l2 4zl8-5M763 704l7-2l0 4zl13 0M778 702l7-2l0 5zl17 2M792 699l7-1l-1 5zl23 5M801 696l7-1l-1 5zl33 8M810 697l8-1l-1 4zl44 7M833 702l7-2l0 5zl41 2M867 703l8-2l-1 4zl26 1M902 698l7 1l-2 5zl11 6M931 695l3 7l-4 0zl1 9M958 694l-2 7l-4-2zl-6 10M983 695l-4 7l-3-4zl-12 9M1007 699l-6 4l-1-4zl-16 5M1030 704l-7 3l0-5zl-19 0M1052 711l-7 0l1-5zl-22-7M1074 718l-8-1l3-4zl-24-14M1096 725l-7-2l3-4zl-27-21M1119 730l-7-3l3-4zl-30-26M1142 728l-7-2l2-4zl-33-24M1162 721l-7-1l2-4zl-34-17M1178 711l-7 1l1-5zl-30-7M1190 704l-7 2l0-4zl-23 0M1201 700l-6 4l-2-4zl-14 4M1210 698l-1 7l-5-2zl-4 6M1220 697l6 4l-3 3zl6 7M1231 700l8-1l-2 5zl15 4M1247 707l7-4l0 5zl18-3M1268 714l5-6l3 5zl17-10M1293 718l3-7l3 3zl11-14M1317 715l2-8l4 3zl7-11M50 698l4-6l3 4zl20-14M70 689l6-4l1 5zl20-5M91 680l7-1l-1 5zl19 4M113 675l8 2l-3 4zl16 9M137 675l7 2l-3 4zl12 9M159 677l7 2l-3 4zl9 7M181 679l7 2l-2 4zl7 5M202 681l7 1l-2 4zM222 683l7-1l-1 4zM241 684l7-3l1 5zM261 685l6-4l2 5zM281 685l6-4l1 5zM301 681l7 2l-2 4zM321 675l5 5l-4 2zl4 9M339 670l5 5l-5 2zl6 14M356 675l7 3l-4 4zl8 9M374 691l5-6l2 4zl10-7M394 705l1-7l4 2zl9-21M414 708l1-8l4 2zl9-24M435 701l0-8l5 2zl8-17M454 694l3-7l3 3zl8-10M474 690l4-6l3 3zl8-6M494 686l6-4l1 4zl7-2M516 678l6 4l-3 3zl5 6M542 667l2 7l-5-1zl-1 17M569 674l-3 7l-4-3zl-9 10M594 697l-7-3l4-4zl-14-13M617 701l-7-3l3-4zl-18-17M638 691l-7 0l2-5zl-19-7M659 686l-7 2l0-5zl-21-2M677 683l-7 3l0-5zl-19 1M695 675l-5 5l-2-4zl-17 9M715 675l-5 5l-2-4zl-18 9M729 694l-7-3l3-4zl-12-10M738 695l-3-6l4-1zl-2-11M750 685l7-4l1 5zM767 682l7-1l-1 5zl9 2M784 680l8 0l-2 4zl11 4M801 674l7 2l-3 4zl14 10M815 667l7 3l-3 4zl19 17M830 673l8 1l-2 4zl24 11M853 690l6-4l1 4zl21-6M882 694l4-6l3 3zl11-10M912 689l-1-7l4 1zM940 678l-5 6l-2-3zl-8 6M965 675l-5 6l-2-4zl-13 9M989 675l-5 6l-2-5zl-18 9M1013 678l-6 4l-2-5zl-22 6M1035 683l-7 2l0-4zl-24 1M1057 689l-7 1l1-5zl-27-5M1078 697l-7-1l2-4zl-28-13M1098 704l-7-2l3-4zl-29-20M1118 709l-7-3l3-3zl-29-25M1136 707l-6-3l3-3zl-27-23M1154 698l-7-1l2-5zl-26-14M1171 686l-7 2l1-5zl-23-2M1187 677l-6 5l-1-5zl-20 7M1202 673l-4 6l-3-4zl-15 11M1216 671l-2 7l-4-3zl-10 13M1228 670l1 8l-4-1zl-2 14M1241 676l6 5l-4 2zl5 8M1257 687l6-5l2 5zl8-3M1277 699l1-7l4 2zl8-15M1298 704l0-7l5 1zl6-20M1319 700l0-7l4 1zl5-16M60 679l2-7l4 2zl10-15M79 670l5-6l2 5zl11-6M101 662l7-1l-1 5zl9 2M125 658l6 4l-4 3zl4 6M150 656l1 8l-5-1zl-1 8M174 657l-3 7l-3-3zl-6 7M197 658l-5 6l-2-4zl-9 6M218 659l-5 5l-2-4zl-10 5M239 660l-6 5l-1-5zl-12 4M259 662l-7 3l-1-5zl-12 2M278 662l-7 4l0-5zl-12 2M297 663l-7 3l0-5zl-11 1M317 660l-7 5l-1-5zl-12 4M339 655l-5 6l-2-4zl-14 9M366 651l-5 6l-3-4zl-21 13M393 656l-6 4l-2-5zl-29 8M414 669l-7 1l0-4zl-30-5M426 682l-7-3l3-3zl-23-18M434 684l-5-5l4-3zl-11-20M444 678l-3-7l5-1zl-1-14M459 672l0-8l5 2zl3-8M476 668l4-6l3 3zl6-4M496 666l6-5l2 4zM519 659l5 5l-5 2zM548 652l-2 7l-4-3zl-7 12M579 658l-6 4l-1-4zl-19 6M601 675l-8-1l3-4zl-21-11M615 678l-7-3l3-3zl-16-14M633 670l-8-1l2-4zl-14-6M651 664l-7 2l0-5zl-13 0M667 660l-6 5l-2-5zl-9 4M686 654l-3 7l-4-3zl-8 10M710 654l-4 6l-3-4zl-13 10M728 666l-8 1l1-5zl-11-2M737 669l-3-7l4-1zM751 662l7 0l-2 4zM768 660l8 1l-3 4zl8 4M788 659l7 2l-2 4zl7 5M812 655l5 6l-5 2zl3 9M845 651l-3 7l-4-3zl-11 13M879 656l-6 4l-1-4zl-25 8M901 669l-8 1l1-5zl-27-5M910 672l-7-1l2-5zl-17-8M922 664l-7 2l0-5zl-9 0M941 658l-4 6l-3-4zl-9 6M964 655l-4 6l-3-4zl-12 9M987 654l-5 6l-3-4zl-16 10M1008 656l-5 5l-2-5zl-17 8M1029 660l-6 4l-1-5zl-18 4M1050 666l-7 2l1-5zl-20-2M1070 674l-7-1l2-5zl-20-10M1088 680l-7-3l3-3zl-19-16M1102 684l-6-5l4-2zl-13-20M1116 681l-5-5l4-2zl-7-17M1131 672l-5-6l5-1zl-3-8M1150 659l-1 7l-4-2zM1170 653l1 8l-5-2zl-3 11M1192 649l0 7l-4-2zl-5 15M1214 646l-1 7l-4-2zl-8 18M1233 646l0 7l-4-2zl-7 18M1252 653l-1 7l-4-2zl-6 11M1271 667l-7-1l2-5zl-6-3M1290 681l-5-7l5-1zl-5-17M1307 686l-3-7l5 0zl-3-22M1325 682l-3-7l5 0zl-1-18M74 657l-4-6l4-2zl-4-14M91 649l-4-6l5-1zM115 643l-7 3l0-5zM136 639l-4 6l-3-4zl-7 4M161 637l-5 6l-2-5zl-12 6M185 637l-6 5l-1-5zl-17 6M208 637l-6 4l-2-4zl-20 6M229 637l-6 5l-1-5zl-21 6M249 638l-6 4l-1-5zl-22 5M268 639l-6 4l-1-5zl-21 4M286 640l-6 3l-1-4zl-20 3M304 640l-6 4l-1-5zl-18 3M323 640l-7 3l-1-4zl-18 3M345 637l-6 5l-2-5zl-20 6M371 635l-6 5l-1-5zl-26 8M398 638l-6 3l-1-4zl-34 5M419 645l-7 2l0-5zl-35-2M430 651l-7 1l1-5zl-27-8M437 652l-8-2l3-4zl-14-9M445 649l-5-5l5-2zl-2-6M458 647l4-7l3 4zM477 645l6-4l1 4zM496 644l7-3l0 5zM518 639l6 4l-4 3zM547 637l-3 6l-4-3zl-6 6M576 640l-6 4l-1-5zl-16 3M597 650l-7 0l1-5zl-17-7M617 656l-7-2l3-4zl-18-13M646 650l-7 1l1-5zl-27-7M666 636l-6 4l-2-4zl-28 7M670 631l-3 7l-4-3zl-12 12M682 633l-1 7l-4-2zl-4 10M704 634l-2 7l-4-2zl-7 9M723 640l-5 6l-2-5zl-6 3M736 638l3 7l-5 0zM752 639l7 4l-4 3zM771 639l7 3l-4 4zM791 640l7 2l-3 4zM813 639l5 5l-5 2zM840 640l-5 6l-2-4zl-6 3M867 641l-6 4l-1-5zl-13 2M888 643l-7 3l0-5zl-14 0M903 643l-7 3l0-5zl-10 0M919 640l-5 5l-2-4zl-6 3M939 636l-3 7l-4-3zl-7 7M960 633l-2 7l-4-3zl-8 10M980 631l-2 7l-4-2zl-9 12M999 633l-2 7l-4-3zl-8 10M1019 637l-5 7l-3-4zl-8 6M1038 644l-7 2l1-5zl-8-1M1058 650l-7-3l3-3zl-8-7M1074 654l-5-5l4-2zl-5-11M1087 656l-1-8l4 1zl2-13M1098 653l4-7l3 4zl11-10M1112 646l6-3l1 4zl16-3M1131 638l7 0l-1 5zl17 5M1155 632l7 3l-3 4zl12 11M1183 628l4 6l-5 1zl4 15M1210 625l1 7l-4-1zl-4 18M1238 625l-2 7l-4-2zl-12 18M1264 632l-5 6l-2-4zl-18 11M1286 646l-7 1l0-4zl-21-3M1304 658l-7-2l3-4zl-19-15M1318 663l-6-4l4-3zl-14-20M1332 660l-5-5l4-2zl-8-17M84 633l-7-2l3-4zl-14-10M101 627l-7 0l2-4zl-11-4M122 623l-7 2l0-4zl-12 0M145 620l-7 4l-1-5zl-16 3M168 618l-6 4l-1-4zl-19 5M191 617l-6 4l-2-4zl-23 6M212 616l-6 5l-1-5zl-24 7M233 616l-6 4l-1-4zl-25 7M253 617l-7 4l-1-5zl-26 6M271 617l-6 4l-1-5zl-24 6M289 618l-7 4l-1-5zl-23 5M306 618l-6 4l-2-4zl-20 5M323 618l-6 5l-1-5zl-18 5M342 618l-6 4l-1-4zl-17 5M363 618l-6 4l-1-5zl-18 5M385 618l-6 4l-1-4zl-21 5M404 621l-7 3l0-5zl-20 2M419 623l-7 2l0-5zl-16 0M431 623l-7 3l0-5zl-8 0M447 621l-5 5l-2-4zM462 618l3 7l-5 0zM479 619l6 4l-4 3zM499 618l5 6l-4 2zM521 618l2 7l-5 0zM545 619l-3 6l-4-3zM569 620l-6 5l-1-5zl-9 3M588 627l-7-1l2-4zl-8-4M604 637l-4-6l4-1zl-5-14M623 633l-5-5l4-2zl-4-10M641 608l1 8l-4-1zl-3 15M659 602l2 7l-4-1zl-1 21M679 611l2 7l-5-1zl-1 12M701 615l-1 8l-4-3zl-4 8M721 618l-3 7l-3-3zl-4 5M739 619l-2 7l-4-3zM758 618l0 8l-5-2zM778 619l-1 7l-4-3zM799 620l-4 6l-3-4zM820 622l-6 4l-2-5zM840 623l-7 3l0-5zM860 623l-7 3l0-5zM880 623l-7 3l0-5zl-6 0M900 622l-7 4l-1-5zl-7 1M920 619l-5 6l-3-4zl-7 4M940 616l-4 6l-3-3zl-8 7M959 612l-2 7l-4-2zl-7 11M978 610l-1 7l-4-2zl-7 13M995 611l0 8l-4-2zl-4 12M1014 617l-1 7l-5-2zl-3 6M1035 624l-7 1l1-5zM1051 628l-4-6l5-1zM1068 630l-1-7l5 0zl1-7M1082 629l4-6l3 3zl7-6M1094 626l7-4l1 5zl15-3M1109 621l7-1l0 4zl19 2M1129 617l7 0l-1 4zl19 6M1153 613l7 2l-3 4zl14 10M1180 611l6 5l-4 2zl7 12M1210 609l1 7l-5-1zl-4 14M1241 609l-4 7l-3-4zl-15 14M1270 615l-6 4l-1-4zl-24 8M1295 625l-8 2l1-5zl-30-2M1312 634l-7 0l1-4zl-27-11M1325 638l-7-2l3-4zl-21-15M1337 636l-6-3l3-4zl-13-13M89 609l-7 0l2-4zl-19-6M107 606l-7 1l1-5zl-17-3M127 603l-6 2l-1-5zl-17 0M149 601l-7 3l0-5zl-20 2M171 599l-6 4l-1-5zl-22 4M192 598l-6 4l-1-5zl-24 5M213 598l-6 3l-1-4zl-25 5M233 597l-6 4l-1-4zl-25 6M252 597l-6 4l-1-4zl-25 6M270 598l-6 4l-1-5zl-23 5M288 598l-6 4l-1-5zl-22 5M305 598l-6 4l-1-4zl-19 5M323 598l-7 4l-1-4zl-18 5M340 598l-6 5l-1-5zl-15 5M359 598l-6 5l-1-5zl-14 5M378 598l-6 5l-1-5zl-14 5M396 598l-5 5l-2-5zl-12 5M414 599l-5 5l-2-5zl-11 4M432 599l-6 5l-2-4zl-9 4M450 599l-5 6l-2-5zl-7 4M469 599l-5 6l-3-4zl-7 4M488 600l-5 5l-2-4zl-6 3M508 600l-6 5l-2-4zl-7 3M528 600l-6 5l-2-4zl-7 3M548 600l-5 5l-2-5zl-7 3M569 600l-6 5l-2-5zl-9 3M586 603l-7 2l0-4zM593 609l3-7l3 4zl6-6M592 607l7-3l1 5zl27-4M610 593l7 0l-2 5zl28 10M647 590l6 4l-3 3zl11 13M680 596l0 7l-5-1zl-2 7M704 599l-5 6l-3-4zl-7 4M724 601l-6 4l-1-5zl-7 2M744 602l-6 3l-1-5zl-8 1M765 602l-7 3l0-5zl-9 1M786 604l-8 1l1-4zl-10-1M806 605l-7 1l1-5zl-11-2M827 605l-8 1l1-4zl-12-2M847 606l-8 1l2-5zl-13-3M867 606l-8 1l1-5zl-13-3M886 605l-7 1l1-4zl-12-2M906 604l-7 2l0-5zl-13-1M925 602l-6 3l-1-5zl-12 1M945 598l-6 5l-2-4zl-13 5M964 594l-5 6l-2-4zl-12 9M982 591l-3 7l-3-3zl-11 12M1000 593l-3 6l-3-3zl-9 10M1018 599l-4 5l-3-4zl-7 4M1037 606l-8-1l2-4zl-7-3M1054 609l-6-4l4-3zl-4-6M1071 609l-4-6l5-1zl-2-6M1085 607l3-7l4 3zM1101 603l7-2l0 4zl8 0M1117 600l8-1l-2 5zl11 3M1137 598l7 0l-2 5zl11 5M1159 596l7 3l-3 3zl8 7M1184 595l5 6l-5 1zl3 8M1212 594l-2 7l-4-2zl-6 9M1241 595l-5 5l-2-4zl-15 8M1269 598l-6 4l-1-5zl-23 5M1294 605l-8 2l1-5zl-29-2M1312 611l-8 0l1-5zl-27-8M1325 613l-7-1l2-4zl-21-10M1339 612l-7-2l2-4zl-15-9M89 587l-7 1l1-5zl-19-4M108 585l-7 1l0-4zl-18-2M128 583l-7 2l0-4zl-18 0M149 582l-7 3l0-5zl-20 1M170 581l-7 3l-1-5zl-21 2M190 581l-7 3l0-5zl-22 2M209 580l-6 3l-1-4zl-21 3M229 580l-7 3l-1-4zl-21 3M247 580l-6 4l-1-5zl-20 3M266 580l-7 4l-1-5zl-19 3M284 580l-7 4l0-5zl-18 3M302 580l-6 4l-1-5zl-16 3M320 580l-6 4l-1-5zl-15 3M339 580l-6 3l-1-4zl-14 3M358 579l-6 4l-2-4zl-13 4M377 579l-6 4l-1-4zl-13 4M396 579l-5 4l-2-4zl-12 4M416 579l-6 4l-1-4zl-13 4M435 579l-6 4l-1-4zl-12 4M455 580l-6 4l-1-5zl-12 3M475 580l-7 4l-1-5zl-13 3M494 581l-6 3l-1-5zl-12 2M514 581l-7 3l0-4zl-13 2M533 581l-6 3l-1-4zl-12 2M553 581l-7 3l-1-4zl-12 2M572 581l-7 4l-1-5zl-12 2M590 582l-7 3l-1-5zl-10 1M605 583l-7 2l0-5zM614 583l6-3l1 5zM634 580l7 2l-2 4zM663 580l-5 6l-3-5zM685 583l-7 2l0-5zl-7 0M706 584l-7 1l1-4zl-9-1M727 585l-7 1l1-5zl-10-2M748 586l-8 0l2-4zl-12-3M769 587l-8 0l2-5zl-13-4M790 588l-8 0l2-5zl-14-5M811 589l-8-1l2-4zl-16-6M831 589l-7 0l2-5zl-16-6M851 589l-7 0l2-4zl-17-6M871 589l-7 0l1-4zl-17-6M891 589l-8 0l2-5zl-17-6M910 588l-8 0l2-5zl-17-5M929 586l-7 1l0-5zl-16-3M948 583l-7 2l0-5zl-16 0M968 579l-6 4l-1-5zl-16 4M988 576l-5 5l-2-5zl-17 7M1008 577l-5 4l-2-4zl-17 6M1028 582l-7 3l-1-5zl-17 1M1045 588l-8 0l2-5zl-15-5M1061 591l-7-2l3-4zl-11-8M1076 590l-7-4l4-3zl-7-7M1092 587l-6-4l4-3zM1103 582l8-1l-1 4zM1124 579l7 3l-3 4zM1144 579l7 3l-4 4zM1165 578l5 5l-4 2zM1188 578l1 7l-5-1zM1212 578l-4 7l-3-4zl-6 5M1237 579l-6 5l-1-5zl-11 4M1262 581l-6 3l-1-4zl-16 2M1285 585l-7 1l0-4zl-20-2M1304 587l-8 1l1-5zl-19-4M1320 589l-7-1l1-4zl-16-6M1336 588l-7 0l2-5zl-12-5M83 565l-7 1l1-5zl-13-3M103 564l-7 2l0-5zl-13-2M123 563l-7 2l0-5zl-13-1M143 563l-8 2l1-5zl-14-1M162 563l-7 2l0-5zl-13-1M181 563l-7 2l1-5zl-13-1M200 563l-7 2l1-5zl-12-1M219 563l-7 2l1-5zl-11-1M238 564l-7 1l0-5zl-11-2M257 563l-7 2l0-5zl-10-1M276 563l-7 2l0-5zl-10-1M295 563l-7 2l0-5zl-9-1M315 562l-7 3l0-5zl-10 0M334 561l-6 4l-1-5zl-9 1M354 561l-6 3l-1-4zl-9 1M375 560l-7 4l-1-5zl-11 2M395 560l-6 4l-1-5zl-11 2M415 560l-6 4l-1-5zl-12 2M435 561l-6 3l-1-5zl-12 1M456 561l-7 3l-1-5zl-13 1M475 562l-6 2l-1-4zl-13 0M495 562l-7 3l0-5zl-13 0M515 562l-7 3l0-5zl-14 0M534 562l-7 3l0-5zl-13 0M553 562l-7 3l0-5zl-12 0M572 563l-7 2l0-5zl-12-1M591 563l-7 2l0-5zl-11-1M609 563l-7 2l0-5zl-10-1M628 564l-8 1l1-5zl-9-2M647 564l-8 1l1-5zl-9-2M666 565l-7 0l1-4zl-8-3M686 566l-7 0l2-5zl-8-4M706 567l-7-1l2-4zl-9-5M726 568l-7-1l3-4zl-9-6M747 569l-7-2l2-4zl-11-7M768 570l-8-2l3-4zl-12-8M789 570l-8-1l3-4zl-13-8M809 571l-7-2l2-4zl-14-9M830 571l-8-2l3-4zl-15-9M850 571l-7-1l2-5zl-16-9M870 571l-8-1l3-5zl-16-9M889 570l-7-1l2-4zl-15-8M908 570l-7-1l2-5zl-15-8M928 568l-8 0l2-5zl-15-6M947 566l-7 1l1-5zl-15-4M968 563l-7 2l0-5zl-16-1M990 560l-7 3l0-4zl-19 2M1012 561l-7 3l0-5zl-21 1M1032 564l-7 2l0-5zl-21-2M1049 568l-8 0l2-4zl-19-6M1063 570l-7-1l2-5zl-13-8M1078 568l-8-2l3-4zl-9-6M1093 565l-7-1l3-4zM1113 560l-5 5l-2-4zM1127 557l4 6l-5 2zM1146 558l5 5l-5 2zM1166 557l4 7l-5 1zM1187 557l2 7l-5 0zM1210 558l-3 7l-3-3zM1231 560l-6 5l-2-4zM1252 561l-6 4l-1-5zl-6 1M1273 563l-7 2l0-5zl-8-1M1292 564l-7 1l1-5zl-7-2M1310 564l-7 0l1-4zM1329 565l-8-1l3-4zM76 543l-7 2l0-5zM95 542l-7 3l0-5zM115 543l-7 2l0-5zM134 543l-7 1l1-4zM153 545l-7-1l2-5zM172 546l-7-4l4-3zM190 547l-5-6l5-1zM208 547l-3-6l5-1zM227 548l-2-7l4-1zM247 548l-3-8l5 1zM267 547l-3-6l4-1zM289 547l-6-5l4-2zM310 544l-7 0l1-5zM330 542l-7 3l0-5zM350 541l-7 4l0-5zM370 541l-7 4l0-5zM391 541l-7 4l0-5zl-7 1M411 541l-6 4l-1-5zl-8 1M432 541l-7 3l0-4zl-9 1M452 542l-7 3l0-5zl-9 0M472 542l-7 3l0-5zl-10 0M492 542l-7 3l0-5zl-10 0M512 542l-7 3l0-5zl-11 0M532 542l-7 3l0-5zl-11 0M552 542l-7 3l0-5zl-11 0M572 542l-7 3l0-5zl-12 0M591 543l-7 2l0-5zl-11-1M611 543l-7 2l0-5zl-12-1M630 544l-7 1l1-4zl-11-2M649 545l-7 1l1-5zl-11-3M668 546l-7 0l2-5zl-10-4M687 547l-7-1l2-4zl-9-5M706 548l-7-2l3-4zl-9-6M726 548l-7-2l2-4zl-9-6M745 549l-7-2l3-4zl-9-7M765 549l-7-2l3-4zl-9-7M785 549l-7-2l3-4zl-9-7M806 549l-8-2l3-4zl-11-7M826 549l-8-2l3-4zl-11-7M846 549l-8-2l3-4zl-12-7M866 549l-8-1l3-5zl-12-7M885 549l-7-2l2-4zl-11-7M905 548l-7-1l2-4zl-12-6M925 547l-7 0l1-4zl-12-5M945 546l-7 0l1-4zl-13-4M966 544l-7 2l1-5zl-14-2M988 542l-7 3l0-5zl-17 0M1010 542l-7 3l0-5zl-19 0M1030 544l-7 1l0-4zl-19-2M1047 545l-7 1l1-4zl-17-3M1063 545l-8 1l1-5zl-13-3M1078 544l-8 1l1-5zl-9-2M1094 542l-7 3l0-5zM1112 538l-3 7l-3-3zM1128 537l3 7l-5 0zM1146 537l5 6l-5 2zM1165 537l5 6l-4 2zM1185 538l5 5l-4 2zM1204 538l5 5l-4 2zM1224 538l5 5l-4 2zM1243 538l6 5l-5 2zM1262 538l6 4l-4 3zM1281 539l7 3l-4 3zM1300 539l7 2l-2 4zM1319 540l7 1l-2 4zM67 518l6 3l-3 4zM85 520l8 1l-3 4zM104 521l8-1l-1 5zM124 522l7-2l0 4zM143 523l6-3l1 4zM161 524l6-4l2 4zl7-2M181 525l5-5l2 5zl7-3M200 526l5-6l2 5zl8-4M220 526l5-6l2 5zl7-4M240 525l6-5l2 4zl7-3M261 524l5-5l2 5zM281 524l6-5l1 5zM300 523l7-4l1 5zM320 522l7-2l0 4zM349 519l-5 6l-2-4zM369 521l-6 4l-1-5zM389 521l-7 4l0-5zM409 521l-7 4l-1-5zM429 521l-7 4l0-5zM449 521l-7 3l0-4zl-6 1M470 521l-7 3l0-4zl-8 1M491 521l-7 3l-1-5zl-9 1M512 521l-7 3l0-5zl-11 1M533 521l-6 3l-1-5zl-12 1M555 521l-7 3l0-5zl-14 1M577 521l-7 3l0-5zl-17 1M599 522l-7 2l0-4zl-19 0M620 523l-7 2l0-5zl-21-1M640 523l-7 2l0-4zl-21-1M659 524l-7 2l1-5zl-21-2M678 525l-7 1l0-5zl-20-3M696 525l-8 1l1-4zl-18-3M713 526l-7 0l1-4zl-16-4M731 526l-8 0l2-4zl-14-4M749 525l-8 1l1-5zl-13-3M767 525l-8 1l2-5zl-11-3M786 525l-8 0l2-4zl-10-3M805 525l-8 0l2-4zl-10-3M824 525l-7 0l1-4zl-9-3M844 525l-7 0l1-4zl-10-3M865 525l-8 0l1-4zl-11-3M885 525l-7 0l1-4zl-11-3M905 525l-7 1l1-5zl-12-3M926 524l-7 1l1-4zl-13-2M947 524l-7 1l0-5zl-15-2M968 523l-7 2l0-5zl-16-1M989 522l-6 2l-1-4zl-18 0M1010 521l-7 3l0-5zl-19 1M1030 521l-7 3l0-5zl-19 1M1048 521l-6 3l-1-5zl-18 1M1065 521l-6 3l-1-5zl-15 1M1082 520l-7 4l0-5zl-13 2M1098 519l-6 5l-1-5zl-9 3M1115 519l-5 5l-2-4zl-6 3M1133 518l-4 7l-3-4zM1150 517l-1 8l-4-3zM1168 517l1 7l-4-1zM1186 517l4 6l-5 1zM1204 516l5 6l-4 2zM1222 516l6 4l-4 3zl4 6M1240 516l6 3l-3 3zl6 6M1258 515l7 3l-3 4zl7 7M1276 515l7 3l-3 4zl9 7M1295 516l7 2l-3 4zl9 6M1313 516l8 1l-3 5zl11 6M66 498l7 3l-3 4zM85 499l7 1l-2 4zM103 501l7-1l-1 4zl7 1M122 502l7-3l0 5zl7 0M140 503l7-3l1 4zl9-1M160 505l6-5l1 5zl8-3M179 505l6-5l1 5zl9-3M199 505l5-4l2 4zl9-3M219 505l6-5l1 5zl8-3M239 505l6-5l2 4zl8-3M260 504l6-4l1 4zl6-2M280 503l6-4l1 5zM300 503l7-4l1 5zM320 502l6-3l1 5zM339 503l7-4l1 5zM359 503l6-4l2 5zM388 505l-7-2l3-4zM409 502l-7 2l0-5zM428 502l-7 2l0-4zM448 501l-7 3l0-4zM470 501l-7 3l-1-5zl-8 1M492 500l-6 4l-1-5zl-10 2M515 500l-6 3l-1-4zl-14 2M539 500l-6 3l-1-5zl-18 2M564 500l-7 3l0-5zl-23 2M588 501l-6 2l-1-4zl-28 1M612 501l-6 3l-1-5zl-32 1M635 502l-7 2l0-4zl-36 0M657 503l-7 2l0-5zl-38-1M676 503l-7 2l0-4zl-38-1M694 503l-8 3l1-5zl-36-1M710 503l-7 2l0-4zl-32-1M725 503l-7 2l0-5zl-28-1M740 503l-7 2l0-5zl-23-1M756 502l-7 2l0-4zl-20 0M772 502l-7 2l0-5zl-16 0M789 501l-7 3l0-5zl-13 1M807 501l-6 3l-1-5zl-12 1M826 501l-6 3l-1-5zl-11 1M846 501l-7 3l0-5zl-12 1M867 501l-7 3l-1-5zl-13 1M888 501l-7 3l0-5zl-14 1M909 501l-7 3l0-5zl-16 1M931 501l-7 3l0-5zl-18 1M953 501l-7 3l0-5zl-21 1M975 501l-7 2l0-4zl-23 1M997 500l-7 3l0-5zl-26 2M1018 500l-7 3l0-5zl-27 2M1038 500l-7 3l0-5zl-27 2M1057 500l-7 3l0-5zl-27 2M1075 500l-7 3l0-5zl-25 2M1092 500l-7 3l0-5zl-23 2M1109 500l-7 3l-1-5zl-20 2M1125 500l-7 3l0-5zl-16 2M1141 499l-6 4l-1-5zl-13 3M1158 499l-6 4l-2-4zl-10 3M1174 498l-5 6l-2-5zl-7 4M1191 498l-3 6l-4-3zM1208 497l0 7l-4-1zM1225 496l4 7l-5 1zM1242 496l6 5l-4 2zl4 6M1260 495l6 4l-4 3zl5 7M1278 495l7 3l-4 4zl7 7M1296 495l7 3l-3 4zl8 7M1315 496l7 2l-3 4zl9 6M67 478l6 3l-3 4zM85 480l7 0l-1 4zM104 482l7-3l0 5zM123 483l7-4l1 5zM143 485l5-6l2 5zl6-3M162 485l5-5l2 4zl6-3M182 486l4-6l3 4zl6-4M202 486l4-6l3 4zl6-4M222 485l4-6l3 4zl5-3M242 485l4-6l3 4zM261 484l5-5l2 4zM280 484l6-5l2 4zM300 484l6-5l1 5zM319 483l6-4l1 5zM339 484l6-5l1 5zM359 484l6-5l1 4zM379 484l5-5l2 4zM399 484l5-5l2 4zM423 487l-2-7l4 0zM448 482l-7 2l0-5zM469 481l-7 3l0-5zl-7 1M493 481l-7 3l0-5zl-11 1M518 480l-7 3l0-4zl-17 2M544 481l-7 2l0-4zl-23 1M570 481l-7 3l0-5zl-29 1M597 482l-7 2l0-5zl-37 0M622 482l-7 3l0-5zl-42 0M646 483l-7 2l0-5zl-47-1M668 483l-7 2l0-4zl-49-1M687 483l-7 2l0-4zl-49-1M704 483l-7 2l0-5zl-46-1M719 482l-7 3l0-5zl-41 0M733 482l-7 2l0-5zl-36 0M746 481l-7 3l0-5zl-29 1M760 481l-7 2l0-5zl-24 1M775 480l-7 3l0-5zl-19 2M791 480l-7 3l0-5zl-15 2M808 480l-7 3l0-5zl-13 2M826 480l-6 3l-1-5zl-11 2M846 480l-7 3l0-4zl-12 2M867 480l-7 3l-1-5zl-13 2M888 480l-7 3l0-5zl-14 2M911 480l-7 3l-1-5zl-18 2M934 480l-7 3l-1-5zl-21 2M957 480l-7 3l0-5zl-25 2M980 480l-7 3l0-5zl-28 2M1002 481l-7 2l0-5zl-31 1M1024 481l-7 2l0-4zl-33 1M1045 481l-7 3l0-5zl-34 1M1064 482l-7 2l0-4zl-34 0M1082 483l-7 2l0-5zl-32-1M1100 483l-8 2l1-5zl-31-1M1116 483l-7 2l0-5zl-27-1M1132 483l-7 2l0-5zl-23-1M1148 483l-7 2l0-5zl-20-1M1163 483l-7 2l1-5zl-15-1M1179 482l-7 2l0-5zl-12 0M1196 481l-7 3l-1-5zl-9 1M1212 480l-6 4l-1-4zM1231 479l-5 6l-3-4zM1247 477l0 7l-4-1zM1263 477l5 5l-4 2zM1282 477l6 4l-4 3zM1301 478l6 3l-3 4zM1320 479l7 2l-3 4zM65 460l8-1l-1 5zM85 463l6-4l1 4zM105 464l5-6l2 5zM125 465l4-6l3 3zM145 466l3-7l3 3zM165 466l2-7l4 3zM185 466l2-7l4 2zM205 466l1-7l4 2zM225 466l0-7l5 1zM245 466l0-7l4 1zM265 466l-1-7l5 1zM284 466l0-7l5 2zM303 466l1-7l4 2zM322 465l2-7l4 4zM341 465l3-7l4 4zM360 465l4-7l3 4zM380 465l4-7l3 4zM400 465l3-7l3 4zM422 467l-1-8l5 1zM447 464l-7-1l2-5zM468 462l-7 2l0-5zM492 461l-7 3l0-5zl-10 0M516 461l-7 3l0-5zl-15 0M542 462l-7 2l0-5zl-21-1M567 462l-7 2l0-4zl-26-1M593 463l-7 2l0-5zl-33-2M618 464l-7 2l0-5zl-38-3M641 464l-7 2l1-5zl-42-3M663 464l-7 2l0-5zl-44-3M682 463l-7 2l0-4zl-44-2M699 463l-7 2l0-5zl-41-2M714 462l-7 2l0-4zl-36-1M728 461l-7 3l0-5zl-31 0M741 461l-7 2l0-4zl-24 0M755 460l-7 3l0-5zl-19 1M769 460l-6 3l-1-5zl-13 1M785 460l-7 3l0-4zl-9 1M802 460l-7 4l0-5zl-7 1M820 460l-6 4l-1-5zM840 460l-7 4l-1-5zM860 460l-6 4l-1-5zl-6 1M882 460l-7 4l0-5zl-8 1M905 460l-7 3l-1-4zl-12 1M928 460l-7 3l0-5zl-15 1M952 461l-7 2l-1-5zl-20 0M975 461l-7 3l0-5zl-23 0M998 462l-7 2l0-5zl-27-1M1020 463l-7 2l0-5zl-29-2M1041 464l-7 2l0-5zl-30-3M1061 465l-8 1l1-4zl-31-4M1079 466l-7 1l1-5zl-29-5M1097 466l-7 1l0-4zl-28-5M1114 467l-8 1l1-5zl-25-6M1130 467l-7 0l1-4zl-21-6M1146 467l-7 0l1-5zl-18-6M1162 466l-7 0l1-4zl-14-5M1179 466l-8-1l2-4zl-12-5M1195 465l-7-1l2-4zl-8-4M1212 465l-7-2l2-4zl-6-4M1230 464l-7-2l3-4zM1250 465l-7-3l3-4zM1268 466l-6-5l4-2zM1287 466l-5-5l4-2zM1306 466l-4-6l4-1zM1326 466l-5-5l5-2zM65 443l6-5l2 5zM85 444l5-6l3 4zM105 445l4-7l3 4zM125 445l4-7l3 4zM145 445l3-7l4 3zM165 446l2-8l4 3zM186 446l0-7l5 1zM207 446l-2-7l5 1zM229 446l-5-6l5-1zM249 446l-5-5l4-3zM269 445l-6-4l4-3zM289 445l-6-4l4-3zM308 446l-5-5l4-2zM324 446l-1-7l5 1zM340 443l5-5l2 5zM359 443l6-5l1 5zM378 445l4-6l3 4zl6-4M398 446l4-7l3 4zl5-5M421 446l1-7l4 2zM444 446l-4-6l4-1zM467 443l-7 0l1-5zM489 442l-7 2l0-5zl-7-1M512 442l-8 2l1-5zl-11-1M535 442l-7 2l0-5zl-14-1M558 442l-7 2l0-4zl-17-1M581 443l-7 2l0-5zl-21-2M604 443l-7 2l0-5zl-24-2M626 443l-8 2l1-5zl-27-2M646 443l-7 2l0-5zl-27-2M665 442l-7 2l0-4zl-27-1M682 442l-7 2l0-5zl-24-1M698 441l-7 2l0-4zl-20 0M713 440l-7 3l0-5zl-16 1M727 440l-6 3l-1-5zl-10 1M742 440l-6 4l-1-5zM761 439l-5 5l-3-4zM771 438l7 2l-2 4zM790 440l7-1l-1 5zM810 440l7-1l-1 5zM829 440l7-1l0 5zM849 440l7-1l-1 5zM870 438l6 3l-3 3zM898 440l-6 4l-1-5zM919 441l-7 3l0-5zM943 441l-7 3l0-5zl-11 0M966 442l-7 2l0-5zl-14-1M989 443l-7 1l0-4zl-18-2M1010 443l-7 2l1-5zl-19-2M1031 444l-7 2l0-5zl-20-3M1050 445l-7 1l1-4zl-20-4M1069 446l-8 1l2-5zl-19-5M1086 447l-7 0l2-5zl-17-6M1104 447l-8 0l2-5zl-15-6M1121 448l-8-2l3-4zl-12-7M1138 448l-7-2l2-4zl-10-7M1155 448l-7-3l3-4zl-7-7M1172 447l-6-4l4-3zl-5-6M1190 447l-5-5l4-2zl-3-6M1209 446l-5-5l4-2zM1228 446l-5-6l5-1zM1247 446l-4-6l5-1zM1267 446l-5-6l5-1zM1287 446l-5-5l4-2zM1307 445l-6-4l4-3zM1328 445l-7-3l3-4zM69 426l0-8l4 2zM90 426l-3-7l5 0zM112 426l-5-6l4-2zM132 425l-6-4l4-3zM149 426l-3-7l5 0zM165 425l3-7l3 3zM183 424l5-6l3 4zM213 420l-7 4l-1-5zM232 421l-7 2l0-4zM252 422l-8 1l1-5zM271 423l-7-1l2-4zM290 424l-7-2l3-4zM304 416l4 6l-4 1zM321 418l7 2l-3 4zM338 417l7 1l-2 5zl7 4M354 419l7-1l-1 5zl10 2M372 423l6-3l1 4zl12-2M394 427l4-6l3 4zl9-6M418 427l2-6l4 3zl5-6M442 426l-2-7l5 0zM467 423l-7-1l2-4zM489 421l-7 2l0-4zl-7 0M511 421l-7 2l0-4zl-10 0M532 421l-7 2l0-5zl-11 0M552 421l-7 2l0-5zl-11 0M572 421l-7 2l0-5zl-12 0M592 421l-7 2l0-4zl-12 0M611 421l-7 2l0-5zl-12 0M630 420l-6 3l-1-5zl-11 1M649 420l-7 3l0-5zl-11 1M666 419l-6 4l-1-5zl-8 2M683 419l-6 5l-1-5zM701 417l-3 7l-4-4zM714 417l6 4l-4 3zM731 419l8 0l-2 5zM749 420l7-1l-1 4zl7 1M767 420l7-2l-1 5zl9 1M785 420l7-2l0 5zl10 1M804 420l7-2l0 5zl11 1M825 420l7-2l-1 5zl9 1M846 420l7-2l0 5zl8 1M868 421l7-2l0 4zM888 421l7-2l0 4zM918 421l-7 2l0-5zM939 422l-8 1l1-5zl-7-1M962 422l-7 2l0-5zl-10-1M984 422l-7 2l0-5zl-13-1M1005 422l-8 2l1-5zl-14-1M1024 422l-7 2l0-5zl-13-1M1042 423l-7 1l1-5zl-12-2M1060 423l-8 1l1-5zl-10-2M1077 424l-8 0l2-5zl-8-3M1094 425l-7-3l3-3zM1112 425l-6-4l4-3zM1130 426l-5-6l5-1zM1148 426l-3-7l5 0zM1168 426l-3-7l5 0zM1188 426l-4-6l5-1zM1209 426l-5-6l4-2zM1230 425l-7-4l4-3zM1251 425l-7-2l3-4zl-5-4M1272 425l-7-2l2-4zl-7-4M1293 424l-8 0l2-5zl-8-3M1313 424l-7 0l1-5zl-9-3M1334 423l-7 1l1-5zl-10-2M89 403l-7 2l0-5zl-19-2M111 403l-7 2l1-5zl-21-2M132 401l-7 2l0-5zl-22 0M148 397l-6 4l-1-5zl-19 4M161 396l-6 5l-2-5zl-12 5M175 396l-5 6l-2-4zl-7 5M192 397l-4 7l-3-4zM211 397l-3 7l-3-4zM232 398l-5 6l-3-4zM252 399l-6 5l-2-5zM272 400l-7 3l-1-4zM291 400l-6 3l-1-4zM309 397l-3 7l-4-3zM324 394l3 6l-4 1zl1 7M338 392l6 4l-4 3zl7 9M354 395l8 1l-3 4zl10 6M373 402l7-3l0 5zl11-1M395 409l3-7l4 4zl8-8M420 411l0-8l4 1zl3-10M446 408l-5-5l4-2zl-3-7M472 405l-8-1l2-4zl-10-4M496 403l-7 1l0-5zl-14-2M518 400l-7 3l0-5zl-17 1M537 399l-6 3l-1-5zl-16 2M555 398l-6 3l-1-4zl-14 3M572 397l-6 5l-2-5zl-12 4M589 398l-6 4l-2-4zl-9 3M606 398l-5 5l-2-5zl-7 3M624 398l-5 5l-2-4zM642 397l-3 7l-3-4zM660 396l0 7l-5-2zM676 396l4 6l-4 1zM693 397l7 3l-3 4zM712 399l7 0l-2 5zM731 400l8-1l-1 4zM751 400l7-2l0 5zM770 401l7-3l0 5zM790 401l7-3l0 5zM810 399l7 0l-1 5zM830 399l7 0l-2 5zM849 400l7-1l-1 4zM875 406l-4-6l4-2zM898 403l-8-1l3-4zM918 402l-7 1l1-5zM941 403l-7 0l1-4zl-9-2M963 402l-7 2l1-5zl-11-1M984 401l-7 2l0-4zl-13 0M1004 400l-7 3l0-5zl-13 1M1022 399l-7 4l-1-5zl-11 2M1039 399l-7 4l-1-5zl-9 2M1055 399l-6 4l-1-4zM1074 399l-5 5l-2-5zM1092 397l-2 7l-4-3zM1104 404l5-6l2 4zM1125 405l2-7l4 2zM1148 406l-3-7l5 0zM1171 405l-7-4l4-3zM1194 405l-7-1l3-4zl-7-4M1220 406l-8-1l2-4zl-14-5M1245 405l-7 1l1-5zl-19-4M1270 405l-7 1l1-5zl-24-4M1293 403l-7 2l0-5zl-28-2M1314 402l-7 2l0-5zl-29-1M1334 402l-7 2l0-5zl-30-1M1355 402l-7 2l0-5zl-31-1M97 384l-7 2l0-5zl-27-4M127 385l-8 2l1-5zl-37-5M154 378l-7 3l0-5zl-44 2M169 369l-6 4l-1-5zl-40 11M176 366l-5 6l-3-5zl-27 14M184 370l-4 6l-3-4zl-16 10M199 374l-5 6l-2-4zl-11 6M217 377l-6 5l-2-5zl-9 3M237 379l-6 3l-1-4zl-10 1M260 381l-7 2l0-5zl-13-1M284 382l-7 2l0-5zl-18-2M306 379l-7 3l0-5zl-20 1M321 375l-6 4l-1-4zl-16 5M333 370l-2 7l-4-3zl-8 10M345 369l2 7l-4-1zl0 11M361 373l5 6l-4 2zl3 7M380 384l4-6l3 3zM402 392l-1-7l4 0zl1-12M426 395l-4-6l5-1zl-3-15M452 393l-6-4l4-3zl-9-13M477 390l-7-2l3-4zl-15-10M502 386l-8 0l2-4zl-20-6M524 382l-7 2l0-5zl-23-2M542 378l-6 3l-1-5zl-21 2M559 375l-6 5l-2-5zl-18 5M574 375l-5 5l-2-5zl-14 5M590 375l-5 6l-3-5zl-10 5M606 376l-4 6l-3-4zl-7 4M623 377l-3 6l-4-4zM641 376l-1 7l-5-2zM659 375l1 8l-5-1zM676 375l4 7l-4 1zM700 376l-1 7l-5-2zM722 383l-8-1l2-4zM748 384l-8 0l2-4zl-12-4M777 385l-8 1l1-5zl-21-5M805 385l-7 1l1-4zl-29-5M830 383l-7 2l1-5zl-35-3M851 381l-7 2l0-5zl-36-1M867 379l-6 3l-1-5zl-33 1M881 379l-7 3l-1-5zl-27 1M893 381l-7 2l0-5zl-19-1M907 383l-7 1l1-5zl-14-3M925 384l-8 0l2-4zl-12-4M944 385l-8 0l2-5zl-12-5M964 384l-8 0l1-4zl-12-4M983 382l-7 1l0-4zl-12-2M1001 379l-7 4l0-5zl-10 1M1018 377l-5 5l-2-4zl-7 3M1035 376l-4 7l-3-4zM1051 376l1 7l-5-2zM1068 375l4 7l-5 1zM1085 377l7 3l-3 3zM1103 379l8 0l-1 4zM1124 383l5-5l2 4zM1147 386l-1-8l4 1zM1170 386l-5-5l4-2zM1194 387l-6-3l3-3zl-7-7M1219 388l-7-1l2-4zl-13-8M1244 388l-7-1l1-4zl-18-8M1268 386l-7 1l1-5zl-22-6M1291 383l-7 2l0-5zl-26-3M1313 381l-8 2l1-4zl-28-1M1334 381l-7 3l0-5zl-30-1M1360 385l-8 1l1-5zl-36-5M75 372l-5-6l4-2zl-5-12M113 373l-7-1l2-4zl-23-13M148 361l-7 2l0-5zl-38-1M171 343l-6 5l-2-4zl-42 17M184 338l-5 6l-2-4zl-35 22M197 346l-5 5l-2-4zl-29 14M214 353l-6 4l-1-4zl-26 7M233 358l-7 3l0-5zl-25 2M253 362l-7 2l0-5zl-26-2M277 367l-7 1l1-5zl-30-7M304 367l-7 1l1-4zl-38-7M327 360l-7 3l0-5zl-41 0M338 350l-6 4l-1-4zl-33 10M343 344l-3 7l-4-4zl-18 16M352 346l-1 7l-5-2zl-7 14M367 353l0 8l-5-2zl-3 7M386 365l-5-6l5-1zM406 375l-4-6l5-1zl-3-15M427 379l-4-6l5-1zl-4-19M449 378l-4-6l4-1zl-6-18M472 375l-6-4l4-3zl-10-15M495 370l-7-2l3-4zl-13-10M516 364l-7 1l1-5zl-15-4M535 358l-6 4l-1-5zl-14 2M553 355l-6 5l-2-5zl-12 5M569 353l-4 7l-3-4zl-9 7M585 354l-3 7l-3-3zl-5 6M602 356l-1 7l-5-3zM619 355l2 7l-5 0zM636 356l5 5l-4 2zM653 358l8 1l-2 4zM677 365l-1-7l4 1zM704 366l-7-3l3-3zl-7-6M736 371l-7-1l2-5zl-19-11M772 375l-7-1l2-4zl-36-15M808 375l-7 0l1-4zl-52-15M839 372l-8 1l1-5zl-63-12M859 366l-7 2l0-5zl-64-6M879 361l-7 2l0-5zl-64-1M898 357l-7 2l0-4zl-64 3M913 354l-6 3l-1-4zl-59 6M919 355l-7 4l-1-5zl-45 5M923 359l-7 3l0-5zl-30 1M930 363l-7 1l1-4zl-17-3M942 365l-7-1l2-4zl-10-5M958 365l-7-2l3-4zl-6-5M976 363l-7-2l2-4zM995 356l-3 7l-4-3zM1008 356l6 5l-5 2zM1026 355l6 4l-3 3zl4 5M1044 355l6 3l-3 3zl6 5M1062 356l7 1l-2 4zl7 4M1081 357l7 0l-1 5zl8 3M1101 360l7-2l-1 5zl8 0M1121 362l6-4l1 5zl7-2M1141 364l4-5l3 4zl7-4M1160 366l4-6l3 4zl7-6M1179 368l3-7l4 4zl8-8M1197 368l4-6l3 4zl9-8M1215 368l4-6l3 4zl11-8M1233 366l5-5l2 5zl13-6M1252 364l6-4l2 5zl13-4M1274 363l6-4l1 5zl11-3M1300 367l2-7l4 2zl4-7M1332 374l-6-5l5-2zl-8-14M63 358l0-8l5 2zl7-18M90 361l-3-7l5 0zl0-21M116 345l-7-2l3-4zl-6-5M140 324l-2 7l-4-3zl-11 16M161 318l-1 7l-4-2zl-12 22M181 327l-3 6l-3-3zl-13 13M201 335l-6 5l-2-5zl-13 5M220 339l-7 3l-1-5zl-12 1M239 345l-7 0l2-5zl-12-5M264 353l-7-3l2-4zl-17-13M291 353l-8-1l3-4zl-25-13M314 340l-7 2l0-5zl-28 0M328 323l-4 6l-3-3zl-23 17M337 317l-1 8l-4-3zl-12 23M349 322l0 8l-4-1zl-4 18M365 334l2 7l-5-1zl-1 6M384 346l-3-7l5 0zM402 356l-2-7l5 0zl1-16M420 360l-1-7l4 1zl3-20M438 360l-1-7l5 1zl5-20M457 357l0-7l4 1zl5-17M477 352l0-7l5 2zl5-12M496 345l3-6l4 3zl5-5M516 339l7-1l-1 5zM535 334l7 4l-4 3zl6 6M554 333l6 3l-3 4zl6 7M572 334l7 2l-3 4zl8 6M590 335l7 1l-2 5zl9 5M608 337l7 0l-1 4zl11 3M627 339l7-2l0 5zl11 1M648 342l6-4l1 5zl10-2M673 347l2-7l4 3zl5-7M704 355l-5-6l4-2zl-7-15M740 362l-7-3l4-4zl-23-22M776 364l-7-1l2-4zl-40-24M807 361l-8 0l2-5zl-51-21M832 355l-8 0l1-4zl-56-15M853 348l-7 1l1-5zl-58-8M875 341l-7 2l0-5zl-60-1M895 334l-6 3l-1-4zl-61 6M912 329l-6 4l-1-5zl-58 11M922 327l-6 4l-1-4zl-48 13M926 330l-6 5l-1-5zl-33 10M929 336l-6 4l-1-4zl-16 4M937 342l-7 0l1-5zM948 343l4-6l3 4zM963 341l6-3l1 5zl8-1M979 338l7-1l0 5zl12 2M997 336l7 0l-1 4zl14 4M1015 334l7 1l-1 4zl15 6M1034 334l7 1l-1 4zl16 6M1054 336l7-1l-1 5zl15 4M1074 338l7-1l-1 4zl15 2M1095 340l7-2l0 5zl14 0M1116 343l6-4l1 5zl12-3M1136 344l6-4l2 4zl12-4M1157 345l5-5l2 4zl10-5M1176 346l5-6l2 5zl11-6M1194 346l6-5l2 4zl12-6M1212 345l6-4l1 4zl14-5M1229 345l6-5l2 5zl17-5M1247 344l7-4l1 5zl18-4M1267 345l6-4l2 5zl18-5M1289 352l4-6l3 3zl15-12M1314 363l1-7l4 2zl10-23M51 334l4-6l3 4zl19-14M62 338l5-6l2 4zl28-18M74 324l6-3l1 5zl36-4M91 305l7 0l-2 5zl38 15M111 300l7 1l-2 4zl38 20M128 307l8 0l-2 5zl40 13M143 315l7-2l-1 5zl45 5M159 320l7-2l0 5zl49 0M180 328l7-3l1 4zl47-8M205 338l6-5l2 4zl42-18M231 337l6-5l2 4zl35-17M257 321l7-2l0 4zl29-1M286 304l7 2l-3 4zl19 16M316 297l5 6l-4 1zl9 23M341 301l4 7l-5 1zl4 19M360 313l6 5l-4 2zl4 7M379 326l3-7l3 3zl5-6M396 334l1-7l4 2zl7-14M411 338l2-7l4 2zl12-18M426 338l3-7l4 3zl17-18M442 335l4-6l3 4zl20-15M458 331l6-6l2 5zl24-11M476 324l7-3l1 4zl25-4M496 318l7-2l-1 5zl25 2M516 314l7-1l-1 5zl25 6M536 312l7 0l-1 5zl24 8M555 313l8-1l-1 5zl25 7M575 314l7-1l-1 5zl24 6M594 316l7-1l0 5zl25 4M615 319l7-2l0 5zl23 1M638 324l7-4l1 5zl20-4M665 332l4-7l3 4zl13-12M696 341l-2-7l5 1zl1-21M727 348l-4-6l4-1zl-10-28M756 347l-6-4l4-3zl-20-27M780 340l-7-3l3-3zl-24-20M799 331l-8-1l2-4zl-23-11M816 325l-7 1l1-5zl-21-5M837 321l-7 2l0-5zl-22-1M861 315l-6 4l-1-5zl-27 5M883 307l-5 5l-2-4zl-29 13M900 301l-4 6l-3-4zl-26 19M910 301l-3 7l-3-3zl-17 19M917 307l0 7l-4-1zl-4 13M925 314l7 3l-3 3zl7 6M936 318l7-1l0 4zl16 2M951 318l7-1l0 4zl20 2M969 317l7-2l-1 5zl22 3M988 315l7-1l-1 5zl23 5M1008 314l8-1l-2 5zl22 6M1029 314l7 0l-1 4zl21 6M1050 316l7-1l-1 5zl19 4M1071 318l7-1l0 4zl18 2M1092 321l7-3l0 5zl17-1M1114 323l6-4l1 5zl14-3M1136 324l6-4l1 4zl12-4M1159 325l4-6l3 5zl8-5M1181 325l4-7l3 4zl6-5M1202 324l4-7l3 4zM1221 322l5-5l2 4zM1238 322l6-4l1 4zl8-2M1254 322l6-4l1 5zl11-2M1269 324l6-4l1 4zl16-4M1284 330l5-5l2 4zl20-10M1298 341l3-6l3 4zl26-21M40 307l7-4l1 5zl30-7M50 310l6-4l2 4zl40-10M62 301l7-3l0 5zl48-1M82 288l7 0l-1 4zl47 12M106 284l7 0l-1 4zl43 16M125 287l8 0l-2 4zl43 13M139 293l7-2l-1 5zl49 7M153 300l7-2l0 5zl55 0M171 310l6-3l1 4zl56-10M190 319l6-5l2 5zl57-19M208 318l6-5l2 5zl58-18M231 306l6-3l1 5zl55-6M266 296l8-2l-1 5zl39 4M311 288l7 3l-3 4zl14 12M343 283l3 6l-5 1zl2 17M362 292l4 6l-4 1zl2 8M379 304l4-7l3 4zl5-4M395 311l2-7l4 2zl8-11M409 313l3-6l4 3zl14-13M423 313l4-6l3 4zl20-13M436 311l6-5l2 4zl26-11M451 306l6-3l1 4zl31-6M467 301l7-2l0 4zl34-1M485 296l8-1l-1 4zl36 4M505 293l7-1l-1 5zl36 7M524 291l8 0l-1 4zl36 9M543 292l7-1l-1 4zl37 8M561 294l8-1l-1 4zl38 6M584 297l7-1l0 4zl35 3M609 301l7-3l1 5zl29-1M635 306l6-4l2 4zl23-6M661 314l4-6l3 4zl17-14M687 324l0-7l5 2zl10-24M712 329l-1-7l4 1zl5-29M736 326l-2-7l5 0zl0-26M760 317l-4-7l5-1zl-4-17M782 307l-6-4l3-3zl-6-7M803 302l-7 0l1-4zl-8-2M823 300l-7 2l0-5zl-8 0M841 295l-4 6l-3-4zl-7 5M858 286l0 7l-4-1zl-4 14M873 277l3 7l-5 0zl1 23M887 275l4 6l-5 1zl6 25M898 279l6 5l-4 2zl15 21M910 288l8 1l-3 4zl22 12M925 294l7-1l-1 5zl27 6M942 296l7-1l0 4zl29 4M963 296l7-1l0 4zl28 4M986 296l7-2l0 5zl25 4M1010 295l7-1l-1 5zl20 5M1032 296l8-1l-1 5zl18 4M1054 297l8-1l-1 5zl15 3M1076 300l7-3l0 5zl13 0M1098 302l6-4l1 5zl11-2M1119 304l6-5l2 4zl9-4M1142 306l3-7l4 3zl6-6M1166 307l-1-8l5 1zl1-7M1191 306l-6-5l4-3zl-4-6M1213 303l-8-1l3-5zl-7-3M1231 299l-6 3l-1-5zM1243 295l6 5l-4 2zM1255 296l7 0l-1 5zl10 4M1264 298l7-2l0 5zl21 2M1273 304l7-3l0 5zl31-4M1283 314l6-5l2 5zl41-14M41 284l6-4l1 5zl29-5M54 288l6-4l1 5zl36-9M71 284l7-4l1 5zl39-5M95 277l7-2l-1 4zl34 2M120 271l7 0l-1 4zl29 8M139 269l7 0l-1 4zl29 10M152 271l7-1l-1 5zl36 8M165 280l7-3l0 5zl43-1M183 292l6-5l1 5zl44-13M204 299l6-5l2 4zl43-20M225 297l6-5l2 5zl41-18M248 291l6-4l2 4zl38-12M279 291l5-5l2 4zl26-12M315 283l6-5l1 5zl10-4M346 266l2 8l-5-1zl-1 13M369 271l-2 8l-4-3zl-5 8M388 283l-7-3l3-4zM402 287l-1-8l5 1zl1-8M414 288l4-7l3 4zl9-9M427 287l5-5l2 4zl16-8M440 285l6-4l1 5zl22-6M454 282l7-3l0 5zl28-3M469 278l7-2l0 5zl32 1M485 275l8-2l-1 5zl36 4M503 273l8-2l-1 5zl38 6M521 271l8-1l-1 5zl39 8M537 270l7-1l-1 5zl43 9M553 275l7-1l0 4zl46 4M580 284l7-3l1 5zl39-5M613 287l6-4l2 4zl25-8M643 289l4-5l3 4zl15-10M666 296l2-8l4 3zl12-17M686 303l1-7l4 2zl11-24M704 308l0-8l5 2zl13-29M722 305l2-7l4 2zl14-26M744 297l2-7l4 3zl12-18M768 289l3-7l3 3zl8-10M791 282l4-6l3 4zM810 277l7 1l-2 4zM824 271l7 3l-3 3zl10 8M837 262l6 3l-3 4zl17 17M851 254l6 3l-4 4zl23 25M866 251l6 3l-3 4zl27 28M881 255l7 3l-2 3zl32 24M897 264l7 0l-2 5zl35 15M914 272l7-1l-1 5zl38 7M935 278l7-2l-1 4zl36 1M960 280l7-2l0 5zl31-1M988 281l7-3l1 5zl23-2M1016 280l7-2l1 4zl14-1M1042 280l7-3l0 5zl8-1M1065 282l5-6l2 5zM1087 284l0-7l5 1zM1109 285l-3-7l5-1zM1131 287l-5-6l5-1zl-3-8M1154 289l-6-5l4-2zl-6-10M1177 291l-6-4l3-3zl-10-12M1200 289l-7-2l3-4zl-13-10M1221 283l-7 1l1-5zl-15-4M1237 276l-6 4l-1-4zl-11 3M1250 272l-1 7l-5-2zl-4 7M1258 269l6 4l-4 3zl7 10M1265 269l7 1l-2 4zl20 10M1271 277l7-2l0 5zl33 2M1281 288l7-4l1 5zl43-9M73 264l-6-5l5-2zM89 270l-2-7l5 1zl1-11M106 269l0-7l5 1zl4-10M124 264l3-6l4 3zl5-5M142 257l8 0l-2 4zl7 2M157 249l7 3l-4 4zl11 10M168 249l8 1l-3 4zl20 10M182 260l7-3l0 5zl26-1M202 275l4-6l3 4zl25-16M226 283l2-7l4 4zl21-24M251 281l2-7l4 3zl15-22M275 276l1-7l4 2zl11-17M297 277l1-7l4 2zl8-18M319 271l1-7l4 2zl6-12M348 255l-3 7l-3-3zM378 255l-6 5l-1-5zl-14 4M399 260l-8 2l1-5zl-15-1M411 261l-7 1l1-5zl-8-2M420 263l2-7l4 3zM432 261l6-3l1 4zl11-2M444 260l7-3l0 5zl18-1M458 258l7-2l0 5zl24 1M473 255l7-1l-1 5zl28 4M489 254l7-1l0 4zl32 5M508 253l7-1l-1 5zl33 6M527 251l8-1l-1 5zl33 8M546 248l7 0l-1 5zl34 11M566 259l7-2l0 5zl33 0M595 276l4-6l3 4zl24-17M628 278l1-8l4 3zl10-19M656 274l-2-7l5 1zl2-15M677 275l-2-7l5 0zl1-16M693 279l-1-7l5 1zl4-20M704 282l1-7l4 2zl13-23M714 282l3-7l4 4zl22-23M727 277l5-5l2 4zl29-18M743 270l6-4l2 4zl33-11M761 263l7-3l1 5zl34-4M779 256l7-2l-1 5zl36 3M795 248l8 0l-2 4zl39 11M813 240l8 1l-2 4zl41 19M834 233l7 2l-2 4zl40 26M856 231l7 2l-3 4zl37 28M876 234l7 2l-3 4zl37 25M893 241l8 1l-2 5zl39 18M912 252l7-1l-1 5zl40 7M935 262l7-3l0 5zl36-3M963 269l6-5l2 5zl28-10M995 271l4-6l3 3zl16-12M1025 269l1-7l4 2zl5-10M1053 267l-5-6l4-1zl-3-8M1077 266l-7-3l3-3zl-8-7M1099 267l-7-3l3-3zl-10-8M1121 268l-7-2l3-4zl-12-9M1142 270l-7-2l3-4zl-14-11M1163 273l-7-3l3-4zl-15-14M1183 274l-7-3l3-4zl-16-15M1201 271l-7-3l3-3zl-14-12M1218 263l-8 0l2-4zl-12-4M1233 255l-4 5l-3-4zl-7 4M1249 249l0 7l-4-2zl-3 10M1265 244l3 7l-5 0zl0 15M1281 243l4 7l-4 1zl4 16M1297 251l7 4l-4 3zl7 8M1314 263l5-4l2 4zl10-4M104 247l-7 0l1-4zl-34-8M121 252l-7-1l2-4zl-31-13M136 250l-7 0l1-5zl-26-11M149 245l-7 0l1-5zl-20-6M163 235l-7 5l-1-5zl-14 4M177 226l-2 7l-4-2zl-9 13M192 226l0 7l-4-1zl-4 13M213 238l-7 4l-1-5zM228 257l-3-7l5 0zl-1-18M248 266l-3-7l5 0zl-1-27M269 264l-3-7l4 0zl-3-25M290 258l-4-6l5-1zl-4-19M310 257l-4-6l4-2zl-5-18M330 254l-4-6l4-1zl-5-15M358 246l-7-1l2-5zl-13-7M387 240l-7 2l0-5zl-23-1M405 235l-6 4l-1-5zl-21 4M415 232l-5 6l-2-4zl-12 7M423 232l2 7l-4 0zl0 7M432 233l8 2l-3 4zl11 6M445 233l7 0l-1 5zl17 6M459 233l7-1l-1 5zl23 6M475 232l8 0l-1 4zl26 7M494 233l7-1l-1 5zl27 6M515 235l8-1l-1 4zl26 4M540 235l8-1l-1 5zl20 4M570 234l7 1l-2 4zl10 5M600 245l-3-6l4-1zM625 262l-4-6l4-2zl-6-23M644 262l-4-6l5-1zl-6-23M665 256l-5-6l4-2zl-7-17M683 253l-4-5l4-2zl-5-14M698 253l-3-7l5 0zl-1-14M709 253l1-7l4 2zl8-14M716 253l4-6l3 4zl20-14M722 251l5-5l2 5zl34-12M729 246l7-3l0 4zl47-7M739 240l7-2l0 4zl56-1M752 234l8-2l-1 5zl63 5M771 228l8-1l-1 5zl63 11M796 223l8-1l-2 5zl58 16M826 217l7 1l-2 4zl48 22M856 213l7 2l-3 4zl37 26M883 213l7 3l-3 4zl30 26M907 220l7 2l-3 4zl25 19M929 232l7 0l-1 5zl23 7M953 247l5-5l2 4zl18-8M979 256l2-7l4 3zl12-17M1007 259l-1-7l5 1zl4-20M1034 256l-4-6l5-1zl-4-17M1060 252l-7-4l4-3zl-10-13M1083 249l-7-2l3-4zl-14-10M1105 249l-8-2l3-4zl-16-10M1126 250l-7-2l3-4zl-17-11M1148 252l-7-2l2-4zl-20-13M1168 253l-7-2l3-4zl-20-14M1186 252l-7-2l3-4zl-19-13M1200 248l-7-2l3-4zl-13-9M1214 241l-8 0l1-4zl-8-2M1229 234l-1 7l-4-2zM1249 229l0 8l-5-2zl-3 10M1272 226l-1 8l-4-3zl-7 13M1299 226l-3 6l-3-3zl-14 13M1327 232l-6 4l-2-4zl-23 7M1350 241l-8 2l1-5zl-26-2M97 226l-7 1l1-5zl-27-7M113 228l-7 0l2-5zl-23-9M128 226l-7 0l1-5zl-18-7M144 220l-7 2l0-5zl-15-1M163 212l-6 5l-2-4zl-14 7M184 204l-3 6l-3-3zl-16 15M208 204l-4 6l-3-4zl-20 15M231 216l-7 3l0-4zl-23 3M249 233l-7-2l3-4zl-22-14M264 242l-6-4l3-3zl-17-23M277 240l-5-5l4-2zl-11-21M294 236l-5-5l4-2zl-8-17M313 236l-5-6l4-2zl-8-17M336 236l-6-5l4-2zl-11-17M361 231l-7-2l3-4zl-16-12M385 219l-7 2l0-5zl-21 0M400 206l-4 6l-3-4zl-16 13M410 198l0 8l-4-2zl-7 21M419 199l4 6l-5 1zl4 20M430 203l6 4l-4 3zl13 16M444 206l7 2l-2 4zl18 13M462 207l7 2l-2 4zl20 12M481 209l8 1l-2 5zl20 10M503 213l8 0l-2 4zl18 6M527 217l7-1l0 4zl14 2M554 221l6-5l1 5zl6-2M585 223l-7-3l3-3zl-5-4M615 230l-7-2l2-4zl-16-11M635 237l-6-3l3-3zl-16-18M649 237l-6-5l4-3zl-11-18M664 232l-5-5l4-2zl-6-13M680 229l-4-6l5-2zl-2-10M696 226l-1-7l4 1zl1-7M708 224l5-6l3 4zl9-5M717 221l7-3l1 5zl19-2M722 218l7-3l0 5zl34 1M724 213l8-1l-1 4zl52 6M732 210l7-1l-1 4zl63 9M751 210l8-2l-1 5zl64 9M771 210l7-2l0 5zl63 9M791 208l7-1l-1 5zl63 11M817 205l7-1l-1 5zl57 14M854 200l8 1l-2 5zl39 19M892 198l7 3l-4 4zl21 21M927 202l5 6l-5 1zl5 17M957 213l-3 7l-3-4zl-5 6M982 227l-7-2l3-4zl-11-8M1004 238l-6-5l4-3zl-13-19M1024 240l-6-5l4-2zl-13-21M1043 237l-6-4l4-3zl-13-18M1063 232l-6-3l3-4zl-13-13M1084 228l-7-1l2-4zl-15-9M1105 228l-7-1l2-5zl-16-9M1127 230l-7-2l2-4zl-18-11M1150 232l-8-2l3-4zl-22-13M1171 232l-7-2l2-4zl-23-13M1191 228l-8 0l2-4zl-24-9M1207 222l-8 1l1-4zl-20-3M1221 215l-7 4l-1-4zl-15 4M1236 211l-4 6l-3-4zl-10 8M1255 209l-3 7l-4-3zl-9 10M1278 209l-4 7l-3-4zl-13 10M1304 210l-5 5l-2-4zl-19 9M1330 213l-6 4l-1-4zl-26 6M1351 217l-7 3l0-5zl-27 2M91 202l-8 1l1-4zl-21-3M107 202l-7 1l1-5zl-17-3M123 199l-7 2l0-5zl-13 0M140 195l-6 5l-2-5zl-11 4M160 190l-4 6l-3-4zl-11 9M185 184l-4 7l-3-4zl-17 15M213 185l-5 5l-3-4zl-25 14M238 193l-7 4l-1-5zl-30 6M256 205l-7 1l1-5zl-29-6M268 212l-7-2l3-4zl-21-13M279 212l-6-3l3-4zl-13-13M293 211l-6-5l5-3zl-7-12M310 213l-4-6l4-1zl-5-14M330 216l-5-6l5-2zl-5-17M350 210l-5-5l4-2zl-5-11M369 194l-3 6l-3-3zl-5 5M386 175l2 8l-5-1zl-2 24M401 166l3 7l-5 0zl2 33M415 167l4 6l-4 2zl8 32M431 174l6 5l-5 2zl12 25M451 180l5 5l-4 2zl11 19M472 184l6 5l-4 3zl10 15M495 189l6 4l-4 3zl6 10M519 194l5 5l-5 2zM546 199l-8 2l1-5zM568 204l-7-2l2-4zl-8-5M592 207l-7-2l2-4zl-12-8M614 209l-7-2l3-4zl-15-10M631 210l-6-3l3-3zl-12-11M646 209l-6-5l4-2zl-8-10M660 206l-4-6l5-2zl-2-7M675 203l1-7l5 2zM690 200l7-4l0 5zl7-1M702 195l7-1l-1 5zl15 4M709 188l8 0l-2 5zl27 11M712 181l8 0l-2 5zl44 18M715 176l8 1l-2 4zl61 23M734 180l7 0l-1 4zl61 19M752 185l8-1l-1 4zl63 14M771 189l7-1l0 4zl63 10M790 192l7-2l0 5zl64 7M815 194l7-2l0 5zl59 5M854 193l7-1l-1 5zl39 6M897 192l8 1l-2 4zl16 7M940 193l-4 6l-3-4zl-8 6M977 198l-7 2l0-4zl-25 1M1003 206l-8 0l2-4zl-32-7M1021 212l-8-1l2-4zl-30-13M1035 214l-7-2l2-4zl-24-15M1049 211l-7-2l3-4zl-19-12M1066 207l-8-1l3-4zl-16-8M1084 205l-7-1l2-4zl-15-6M1105 206l-7-1l2-4zl-16-7M1127 209l-7-1l2-4zl-18-10M1151 212l-8-2l3-4zl-23-13M1174 211l-7 0l2-5zl-26-12M1196 206l-7 1l1-5zl-29-7M1215 197l-7 3l0-5zl-28 2M1232 190l-5 4l-2-4zl-26 9M1249 186l-5 6l-2-5zl-23 13M1268 187l-5 6l-3-5zl-22 12M1289 190l-6 4l-2-4zl-24 9M1312 191l-6 5l-2-5zl-27 8M1334 192l-6 4l-1-5zl-30 7M1354 192l-7 4l-1-5zl-30 7M104 178l-7 3l0-5zl-34 0M120 174l-6 4l-1-5zl-30 4M134 171l-6 4l-2-4zl-24 7M147 169l-5 5l-2-4zl-18 9M164 167l-4 6l-3-4zl-15 11M186 166l-4 6l-3-4zl-18 12M211 167l-5 5l-3-4zl-23 11M234 173l-6 3l-1-4zl-26 5M253 179l-7 2l0-4zl-26-1M267 183l-7 1l1-5zl-20-5M280 184l-7 0l2-5zl-14-6M294 185l-7-2l4-4zl-8-7M309 190l-4-6l4-2zl-4-12M324 193l-2-8l5 1zl1-15M340 187l1-8l4 3zl5-9M357 170l6 3l-4 4zl7 8M376 151l4 6l-4 1zl8 27M398 141l3 6l-5 1zl5 37M418 142l4 7l-5 1zl5 36M440 152l3 7l-5 0zl3 26M465 162l1 7l-5-1zl-3 16M491 167l-3 7l-3-3zl-9 11M516 171l-5 5l-3-4zl-15 7M539 176l-6 3l-1-5zl-18 2M562 180l-8 2l1-5zl-21-2M582 184l-7 0l1-4zl-22-6M601 185l-8 0l2-4zl-21-7M618 185l-8 0l2-4zl-19-7M633 184l-7 0l2-5zl-14-6M647 183l-7-1l2-5zl-9-5M663 181l-8-1l3-5zM673 177l7-1l-1 5zM690 174l7 1l-2 4zl7 4M700 165l7 2l-3 4zl17 13M705 154l7 2l-3 4zl31 24M709 145l7 2l-2 4zl47 33M721 145l7 2l-3 4zl55 33M737 151l7 1l-2 4zl58 27M757 160l7-1l-1 5zl58 18M782 168l7-1l-1 5zl52 10M806 176l7-2l0 5zl48 2M833 183l7-3l0 5zl41-5M865 189l6-5l2 5zl28-11M904 192l2-7l4 2zl9-14M944 190l-7-3l4-4zl-12-12M979 187l-8 0l2-4zl-27-9M1004 186l-7 1l1-5zl-33-8M1022 186l-7 1l1-5zl-31-8M1036 186l-7 1l1-5zl-25-8M1051 185l-8 0l2-5zl-21-7M1067 183l-7 1l1-5zl-17-5M1086 183l-7 1l1-5zl-17-5M1107 186l-7 0l2-5zl-18-8M1130 191l-8-2l3-4zl-21-13M1153 195l-7-2l3-4zl-25-17M1177 195l-8-2l3-4zl-29-17M1200 188l-8 0l2-4zl-33-10M1222 177l-7 3l0-5zl-35 1M1243 168l-7 4l-1-4zl-37 10M1263 165l-6 4l-1-4zl-37 13M1284 167l-6 4l-1-4zl-38 11M1307 171l-7 4l-1-5zl-42 7M1330 174l-6 3l-1-5zl-45 4M1353 173l-6 3l-1-5zl-49 5M1373 169l-7 4l-1-5zl-49 9M122 156l-7 3l0-5zl-52 2M137 146l-6 4l-1-4zl-47 12M148 140l-5 5l-2-4zl-38 18M158 139l-4 6l-3-4zl-29 19M171 142l-5 6l-2-4zl-22 16M188 146l-5 5l-2-4zl-20 12M208 150l-5 5l-2-5zl-20 8M230 154l-7 4l-1-5zl-22 4M249 158l-7 2l0-5zl-22 0M266 160l-7 2l1-5zl-19-2M283 161l-7 1l0-5zl-17-3M299 163l-7 0l1-5zl-13-5M314 166l-7-3l4-3zl-9-8M328 168l-4-6l4-1zl-3-10M341 163l2-7l4 3zM358 149l6 5l-4 2zl6 9M380 134l3 6l-4 1zl4 24M405 124l2 7l-5 0zl-2 34M429 125l1 7l-4 0zl-6 33M454 138l-1 8l-5-3zl-11 20M482 151l-6 5l-2-5zl-20 7M510 155l-7 3l0-4zl-28 3M535 157l-7 3l0-5zl-34 1M558 160l-7 2l0-5zl-37-2M579 162l-7 2l1-5zl-38-4M599 163l-8 2l1-5zl-39-5M616 163l-8 1l1-4zl-36-5M631 162l-8 1l1-4zl-32-4M644 160l-7 2l1-5zl-25-2M658 159l-7 2l0-5zl-20-1M671 158l-7 2l0-4zl-13 0M685 155l-6 5l-1-4zl-7 3M697 148l3 7l-5 0zl0 10M707 136l5 5l-5 2zl10 22M715 122l6 5l-5 2zl21 36M726 116l6 4l-4 3zl30 42M744 122l6 4l-4 3zl32 36M768 135l7 2l-4 4zl27 23M794 146l7 2l-2 4zl21 12M819 153l7 0l-1 4zl15 5M840 160l6-4l1 5zl14-2M861 171l3-7l3 3zl13-13M886 183l-1-7l5 1zl7-25M915 190l-3-6l5-1zl-2-32M946 188l-5-6l4-2zl-14-30M973 178l-6-3l3-4zl-21-20M996 169l-7-1l2-4zl-25-11M1014 164l-7 1l1-5zl-23-6M1031 163l-7 1l1-5zl-20-5M1048 163l-7 0l1-4zl-18-5M1067 163l-7 0l1-4zl-17-5M1088 165l-8 0l2-5zl-19-7M1109 170l-7-2l2-4zl-20-12M1131 176l-7-2l3-4zl-22-18M1154 181l-7-3l3-3zl-26-23M1176 181l-7-2l3-4zl-28-23M1199 174l-7-1l2-4zl-32-16M1223 163l-8 1l1-4zl-36-5M1247 153l-7 3l0-5zl-41 5M1271 149l-6 4l-1-5zl-45 9M1296 152l-7 3l0-5zl-50 6M1321 157l-7 3l0-5zl-56 1M1347 160l-7 3l0-5zl-62-2M1368 158l-7 2l0-5zl-64 0M1387 150l-6 3l-1-5zl-63 8M121 134l-6 3l-1-5zl-51 4M137 117l-5 5l-2-4zl-47 21M149 106l-4 7l-3-4zl-39 32M159 106l-3 7l-4-3zl-30 32M171 114l-3 7l-3-4zl-22 24M187 123l-4 6l-3-3zl-19 15M205 131l-5 5l-2-5zl-17 7M225 136l-7 3l0-5zl-17 2M245 139l-7 2l0-5zl-18-1M264 140l-7 2l1-5zl-17-2M283 141l-7 1l0-5zl-17-3M301 142l-7 0l1-4zl-15-4M318 143l-7 0l2-5zl-13-5M333 144l-7-2l3-4zl-8-6M349 140l-7-1l2-4zM367 132l-1 7l-4-2zl-3 6M391 121l-1 8l-4-2zl-7 17M417 112l-1 8l-4-3zl-14 26M444 112l-2 7l-4-3zl-21 26M470 129l-5 4l-2-4zl-27 9M498 144l-8 2l1-5zl-36-6M525 147l-7 1l1-5zl-43-9M552 145l-7 2l0-5zl-51-7M577 146l-7 1l0-4zl-56-8M600 146l-7 1l0-4zl-59-8M620 144l-7 2l1-5zl-60-6M638 141l-7 2l0-5zl-58-3M653 138l-7 2l0-5zl-54 0M667 135l-7 3l0-5zl-48 3M678 133l-6 4l-1-5zl-40 5M689 133l-6 3l-1-5zl-31 5M699 130l-5 5l-2-5zl-21 8M710 122l-3 7l-3-3zl-13 16M721 107l1 8l-5-1zl-4 31M734 95l3 7l-5 0zl2 43M751 94l3 7l-5 0zl5 44M772 106l3 6l-5 1zl4 32M795 122l2 7l-4 0zl0 16M818 134l-2 7l-4-3zM839 136l-6 5l-1-5zM859 143l-7-4l4-3zl-5-5M881 158l-5-6l5-2zl-7-20M904 175l-4-6l5-1zl-11-37M928 184l-5-6l5-1zl-15-46M949 179l-5-5l5-2zl-17-41M969 165l-6-5l4-2zl-17-27M987 152l-7-3l3-4zl-16-14M1005 145l-8-1l2-5zl-14-7M1023 143l-7 0l2-5zl-12-5M1042 144l-7-1l2-5zl-12-6M1062 145l-7-1l3-4zl-12-7M1084 149l-7-2l3-4zl-15-11M1105 155l-7-4l4-3zl-16-17M1126 162l-6-4l4-3zl-17-24M1147 167l-6-4l4-3zl-19-29M1168 168l-6-5l4-2zl-20-30M1190 161l-7-3l4-3zl-23-23M1213 150l-7-1l2-4zl-26-12M1238 140l-7 2l1-4zl-32-2M1264 137l-7 2l0-4zl-38 1M1290 140l-7 2l1-5zl-44-2M1316 147l-7 1l1-5zl-51-9M1342 150l-7 1l1-5zl-57-12M1366 144l-8 2l1-5zl-62-6M1385 129l-7 4l0-5zl-61 9M93 110l-6 5l-2-5zl-23 8M111 87l-2 7l-4-2zl-21 31M129 73l-1 8l-4-2zl-19 45M145 74l0 7l-4-1zl-16 44M163 85l-1 7l-4-2zl-14 33M181 98l-2 7l-4-2zl-13 20M200 109l-4 6l-3-4zl-12 9M219 115l-7 4l-1-5zl-11 3M238 118l-7 2l0-5zl-11 0M257 119l-8 2l1-5zl-10-1M276 120l-8 1l1-5zl-10-2M294 120l-7 0l1-4zl-8-2M313 120l-8 0l2-4zl-8-2M330 120l-7-1l2-4zM350 118l-7 2l0-5zM369 114l-4 6l-3-4zl-5 4M394 109l-4 6l-3-3zl-10 9M421 102l-4 7l-3-4zl-18 16M451 103l-5 5l-3-4zl-28 15M479 118l-7 3l0-5zl-36 0M504 134l-8 0l2-5zl-42-16M528 136l-8 0l2-5zl-46-18M552 134l-7 0l1-5zl-51-16M575 131l-8 1l2-5zl-54-13M595 127l-8 1l1-4zl-54-9M612 122l-7 2l0-5zl-52-4M629 117l-7 3l0-5zl-49 1M646 113l-7 3l0-5zl-47 5M664 109l-7 4l-1-5zl-45 9M680 106l-6 4l-1-5zl-42 12M695 103l-6 5l-2-4zl-37 15M707 100l-4 6l-3-5zl-29 18M720 92l-3 7l-4-4zl-23 26M734 79l-1 7l-4-2zl-17 39M752 69l0 8l-5-2zl-16 49M772 72l0 7l-5-2zl-16 46M792 86l-1 7l-4-2zl-16 32M810 102l-3 7l-3-3zl-15 16M828 114l-7 4l-1-4zl-13 4M847 120l-7 1l1-4zl-13-2M871 131l-7-2l3-4zl-17-13M896 148l-6-4l4-3zl-22-30M919 164l-5-5l4-2zl-26-46M937 170l-5-6l4-2zl-24-52M951 160l-5-5l4-2zl-19-42M963 143l-5-5l4-2zl-11-25M977 130l-5-5l5-2zl-6-12M995 124l-6-5l4-2zl-4-6M1013 123l-5-5l4-3zM1033 124l-5-6l4-2zl-3-6M1053 127l-5-6l5-2zl-3-9M1073 131l-4-6l5-1zl-4-13M1093 137l-4-6l5-1zl-4-19M1113 144l-4-6l5-1zl-4-26M1132 149l-3-6l4-1zl-4-31M1150 150l-3-7l5 0zl-2-32M1170 145l-3-7l5-1zl-3-27M1192 135l-5-6l5-1zl-5-17M1215 126l-7-3l4-3zl-9-8M1240 123l-8 0l2-5zl-14-5M1264 126l-8-1l2-4zl-18-8M1287 133l-7-2l2-4zl-22-15M1309 136l-7-3l3-3zl-24-18M1330 127l-8 0l2-4zl-26-9M1349 108l-6 5l-2-5zl-25 10M54 86l7 2l-3 4zl16 11M77 62l5 6l-5 1zl13 35M103 47l3 7l-4 0zl7 50M129 47l3 7l-5 0zl0 50M154 59l1 7l-5-1zl-5 38M175 72l1 8l-5-2zl-7 25M195 83l-1 7l-4-2zl-7 14M213 89l-2 7l-4-2zl-5 8M230 92l-1 7l-4-2zl-3 5M247 92l2 7l-5 0zM264 93l5 5l-4 2zM282 94l7 3l-4 3zM300 94l7 2l-2 4zl5 3M318 95l7 0l-1 4zl7 2M337 96l7-1l-1 5zl8 1M359 96l7-1l-1 5zM385 92l1 8l-5-2zM412 93l-5 5l-2-4zl-9 4M441 94l-7 4l-1-5zl-18 3M467 105l-7 1l1-5zl-24-8M489 117l-7-2l3-4zl-27-20M508 119l-7-2l3-4zl-26-22M528 115l-7-2l2-4zl-27-18M547 109l-8-1l2-4zl-26-12M564 102l-7 1l1-5zl-23-5M581 96l-7 3l-1-5zl-21 1M597 92l-6 4l-1-4zl-17 5M616 90l-5 5l-2-4zl-17 7M637 87l-5 5l-2-4zl-18 10M658 82l-4 6l-3-3zl-20 15M677 77l-3 7l-3-4zl-19 20M696 71l-2 7l-4-2zl-18 26M715 63l-1 8l-4-3zl-18 34M737 53l-1 8l-4-2zl-20 44M762 47l-1 7l-5-2zl-26 50M787 49l-2 7l-4-2zl-31 48M809 61l-3 7l-3-3zl-33 36M828 77l-4 6l-3-4zl-33 20M847 92l-7 3l0-4zl-32 5M868 105l-8 1l1-5zl-34-8M891 121l-8-2l3-4zl-37-24M912 137l-6-3l3-4zl-38-40M929 147l-6-4l4-3zl-36-50M939 144l-5-5l4-2zl-26-47M946 130l-5-5l5-2zl-14-33M956 115l-4-7l5-1zl-4-18M970 104l-1-7l5 1zl1-7M987 100l4-6l3 4zM1005 100l5-5l3 4zM1024 102l4-6l3 4zl6-5M1043 105l3-7l4 3zl7-8M1062 110l1-7l5 2zl7-13M1080 116l1-7l4 2zl9-19M1098 122l0-7l5 2zl11-25M1114 126l1-7l5 2zl14-29M1131 127l1-7l4 2zl17-30M1148 123l2-7l4 3zl19-26M1166 115l4-7l3 4zl21-18M1187 107l5-5l2 4zl19-10M1208 104l6-5l1 5zl18-7M1229 107l4-5l3 4zl17-10M1248 113l3-6l4 3zl17-16M1266 116l3-7l3 4zl19-19M1284 107l5-5l2 4zl20-10M1304 87l7 1l-2 4zl20 10M31 66l7 0l-1 4zl39 11M58 46l6 3l-3 4zl32 31M89 33l5 5l-4 2zl21 44M120 31l4 7l-5 1zl9 46M149 38l2 7l-4 0zl0 39M173 47l1 8l-4-1zl-5 30M193 55l1 7l-5-1zl-5 22M211 59l1 7l-5-1zl-3 18M227 61l3 7l-5 0zl0 16M244 63l4 6l-5 1zl3 14M261 64l5 6l-5 1zl5 13M278 65l6 5l-4 2zl8 12M295 65l6 4l-3 3zl10 12M309 65l7 2l-3 4zl16 12M323 73l8-1l-1 5zl22 4M346 84l6-5l2 5zl18-7M375 86l3-6l3 3zl9-9M402 83l-1-7l5 1zM426 83l-5-5l4-2zl-3-6M448 89l-5-6l4-2zl-5-12M466 96l-4-7l5-1zl-4-19M482 97l-2-7l4 0zl0-20M500 94l-2-7l5 0zl1-17M519 87l-1-7l5 1zl2-10M538 82l1-7l4 2zM561 72l1 7l-5-1zM582 69l0 8l-4-2zl-2 8M602 68l0 7l-4-1zl-3 9M620 65l2 7l-5 0zl-1 12M638 59l3 7l-5 1zl0 18M657 54l3 7l-5 0zl1 23M679 49l2 7l-5 0zl-1 28M703 44l1 7l-5-1zl-6 33M731 38l0 7l-4-1zl-14 39M762 33l-1 8l-5-3zl-26 44M793 34l-3 7l-3-3zl-37 43M821 43l-4 6l-3-4zl-45 34M845 57l-5 5l-2-5zl-50 20M867 74l-7 2l0-4zl-52 3M887 91l-7 0l1-4zl-53-14M905 106l-7-1l2-4zl-51-29M919 117l-7-3l3-4zl-45-40M928 118l-7-4l4-3zl-35-41M933 109l-6-5l4-2zl-20-32M940 96l-5-6l5-2zl-8-19M952 85l-3-7l5 0zl0-8M967 79l5-5l2 5zM985 77l7-2l0 5zM1003 78l7-3l1 5zl8-1M1022 80l6-5l1 5zl8-3M1040 83l5-6l2 4zl10-6M1058 87l3-6l3 4zl11-10M1074 92l3-6l4 3zl15-15M1090 97l3-7l4 3zl19-20M1105 100l3-7l4 4zl23-23M1120 100l4-6l3 4zl28-23M1135 97l4-6l3 4zl32-20M1151 91l6-5l1 5zl36-14M1169 85l6-3l1 4zl37-8M1188 83l6-4l1 5zl38-6M1206 85l6-4l1 5zl40-8M1223 90l6-4l1 5zl42-13M1239 93l6-4l2 4zl46-16M1257 87l6-4l1 5zl47-10M1279 71l7-2l-1 5zl45 6M28 52l7-2l0 5zl42 5M53 38l7 1l-2 5zl37 19M82 28l7 4l-4 3zl28 29M112 24l5 5l-4 3zl17 33M140 25l4 6l-4 1zl9 32M165 27l3 7l-5 1zl3 30M187 30l3 7l-5 0zl1 27M207 32l3 7l-5 0zl1 25M227 34l2 7l-5 0zl0 23M246 36l3 7l-5 0zl1 21M266 39l3 7l-5 0zl0 18M286 41l2 7l-4 0zl0 16M306 38l2 7l-4 0zl-1 19M327 36l2 7l-5 0zl-2 21M347 52l-1 7l-4-2zM366 76l-3-7l4-1zl-2-19M384 79l-3-7l5 0zl0-22M402 71l-1-7l4 0zl1-14M421 67l-1-7l5 1zl2-10M438 68l1-7l4 1zl5-11M453 71l2-7l4 2zl9-14M467 73l3-7l4 3zl15-16M482 73l4-7l3 4zl19-16M498 69l5-5l2 4zl23-12M517 64l6-5l1 5zl24-7M538 57l7-2l0 5zl22 0M559 52l7-1l-1 5zl21 5M579 47l8 1l-2 5zl20 10M599 43l7 2l-2 4zl20 14M620 38l7 4l-4 3zl18 19M643 35l6 5l-4 2zl15 22M669 34l4 6l-4 2zl9 23M696 35l3 7l-5 0zl1 22M726 34l0 7l-5-2zl-9 23M757 31l-2 7l-4-3zl-21 26M789 31l-4 6l-3-4zl-33 26M818 35l-5 6l-2-5zl-42 22M845 46l-7 4l-1-5zl-50 11M867 59l-7 2l0-4zl-52-2M886 73l-8 0l2-4zl-52-16M899 83l-7-1l2-5zl-45-26M909 86l-7-2l3-4zl-35-29M917 82l-7-3l4-3zl-24-25M926 74l-7-4l4-3zl-13-17M938 66l-6-5l4-3zl-6-9M954 62l-5-5l4-3zM969 62l1-8l4 2zM986 56l7-1l-1 5zM1005 58l7-4l1 5zM1026 60l5-6l2 4zM1044 62l4-7l3 4zl6-5M1061 65l4-7l3 4zl8-8M1078 69l3-7l3 3zl11-12M1093 72l4-7l3 4zl16-15M1108 74l4-7l3 4zl20-17M1122 74l5-6l3 4zl26-17M1137 71l5-5l2 4zl30-14M1153 67l6-4l1 5zl34-10M1169 63l7-3l1 5zl37-6M1187 62l7-3l0 4zl39-5M1205 64l6-4l1 5zl41-7M1222 68l6-4l1 5zl43-11M1238 72l6-4l1 4zl47-15M1256 70l6-4l1 4zl48-13M1277 60l7-3l0 5zl47-3M37 37l6-2l1 4zl33 0M57 30l7-1l-1 5zl33 7M80 24l7 0l-2 5zl30 13M104 19l8 2l-3 4zl25 18M129 16l7 4l-4 3zl20 21M153 14l6 5l-4 3zl15 23M177 14l5 5l-4 2zl11 23M200 14l5 6l-5 2zl8 23M223 16l4 7l-5 1zl4 21M245 19l3 7l-4 0zl2 18M268 23l1 7l-4-1zl-2 14M289 26l1 7l-5-1zl-3 11M312 27l-2 7l-4-3zl-7 10M337 28l-4 6l-3-4zl-12 9M361 38l-8 2l1-5zl-16-1M377 52l-6-4l3-3zl-13-15M389 54l-5-6l5-1zl-5-17M402 50l-1-7l4 0zl1-13M419 47l0-7l5 2zl4-10M436 46l2-7l4 3zl7-9M453 45l3-6l3 3zl9-8M468 46l5-6l2 4zl14-9M483 47l5-6l2 4zl18-10M498 46l5-5l2 5zl23-9M514 45l6-5l1 5zl27-8M531 41l7-3l1 5zl29-4M551 37l7-2l0 5zl29 0M572 33l8-1l-1 4zl27 4M596 30l7-1l-1 5zl23 7M621 27l7 2l-2 4zl17 10M647 27l7 3l-3 4zl11 10M673 29l6 5l-4 2zl5 8M700 31l-1 7l-4-2zl-3 6M725 31l-4 6l-3-4zl-8 6M751 30l-5 5l-2-4zl-15 7M777 29l-6 5l-1-5zl-21 8M803 32l-7 3l-1-4zl-27 5M827 37l-7 3l0-5zl-32 0M848 45l-7 1l1-5zl-33-8M866 52l-8-1l2-5zl-32-15M881 55l-8-2l3-4zl-27-18M894 54l-7-2l3-4zl-20-17M907 51l-6-4l3-3zl-14-14M923 46l-7-3l3-4zl-10-9M940 42l-7-2l3-4zl-8-5M958 40l-7-1l2-4zl-6-3M977 39l-7 0l1-5zM996 38l-7 1l1-5zM1015 39l-7-1l2-4zM1034 41l-7-4l4-3zM1051 42l-4-6l5-1zM1069 44l-2-7l5 0zl0-7M1086 46l0-7l4 1zl3-9M1102 48l1-8l5 3zl7-11M1117 48l3-6l4 3zl11-11M1133 48l4-6l3 4zl15-11M1149 47l5-6l2 4zl18-10M1165 44l6-4l1 4zl22-7M1182 42l6-4l1 5zl24-5M1200 42l6-4l1 5zl26-5M1218 44l6-4l1 4zl28-7M1235 48l6-5l2 4zl30-11M1252 51l6-5l2 4zl33-14M1270 52l5-5l2 4zl34-15M1289 47l6-4l1 5zl35-10" fill="#000" stroke="#000" stroke-width="1.7" stroke-linejoin="miter"/><path d="M78.1 134.3l8.7 3l7-6l12.1 0l1.8 9l6.9 6l8.8 3l8.7-3l12.1 3l0.9 3.1l4.4 18l3.5 9l1.7 9l3.5 9l5.2 9l1.7 1.5l12.2-1.5l-1.7 12.1l-3.5 9l-5.2 9l-5.2 9l-3.5 9l-1.8 9l1.8 12.1l0.8 12l-6 9l-3.5 6l0.8 12l-4.3 6l-0.9 9.1l-4.3 6l-5.3 9l-8.7 1.5l-6.1 0l-0.8-7.5l-3.5-9l-1.8-9.1l-1.7-12l-3.5-12l2.6-15l-0.8-12l-1.8-9.1l-5.2-15l0.9-9l-0.9-6l-5.2-1.5l-3.5-6l-5.2 1.5l-5.2 3l-5.3 0l-5.2 1.5l-5.2-7.5l-3.5-6l-3.5-6l-3.5-11.2l0.9-9.9l0.9-9l-1.8 0l3.5-9l3.5-10.5l5.2-6l0.9-7.6l4.3-6l1.8-6M78.1 134.3l-5.2-3l-0.9-6l0.9-9l1.7-4.5l10.5 0l1.7-7.5l-6.1-7.5l4.4-0.6l3.4-2.4l3.5-4.6l3.5-3l1.7-4.5l5.3-1.5l0.8-9l3.5-1.5l-0.9 6l3.5 4.5l3.5 0l7-1.5l5.2-1.5l0-6l5.2-1.5l-0.9-4.5l7.9-1.5l3.5-1.5l-7-1.5l-6.1 1.5l-1.7-3l0-6l6.1-6l-1.8-3l-3.5 1.5l-1.7 4.5l-6.1 6l-0.9 3l2.6 3l-3.4 9l-0.9 3l-3.5 1.5l-1.7 0l-0.9-3l-2.6-7.5l-1.8 0l-3.4 3l-4.4-3l-0.9-7.5l5.3-6l6.9-7.5l5.2-7.5l7-4.6l10.5-3l5.2 0l5.2 3l3.5 1.5l7 1.6l6.9 4.5l-1.7 4.5l-8.7-1.5l-1.8 4.5l1.8 3l5.2 0l3.5-1.5l0-4.5l6.9-1.5l0-4.5l3.5 0l3.5 3l10.5-4.5l10.4-1.5l0.9-3.1l11.3 3.1l3.5 1.5l-3.5-7.6l3.5-6l6.9 3l-1.7 12.1l3.5 3l-1.8-6l3.5-9.1l8.7-4.5l10.5-5.1M285.3 16.5l0 3.6l8.7 3l10.4-1.5l5.3 3l5.2 4.5l8.7-1.5l8.7-3l8.7 0l8.7 3l8.7 1.5l8.7 3l3.5 1.5l5.2 0l8.7-1.5l10.5 1.5l6.9 1.6l8.7 4.5l8.7 4.5l-5.2 4.5l-8.7-3l-3.5 1.5l-3.4 1.5l1.7 6l-7 1.5l-8.7 6l-8.7 0l-3.5 6l-1.7 6l-3.5 9l-5.2 6l-1.8-9l0-9l7-10.5l5.2-4.5l-8.7 1.5l-5.2 6l-8.7 0l-8.7 0l-7 7.5l-5.2 7.5l3.5 4.5l1.7 3l-1.7 9.1l-3.5 7.5l-5.2 7.5l-5.2 3l-3.5 3l-3.5 6l-0.9 1.5l3.5 7.5l-0.9 6l-4.3 1.5l-0.9-7.5l-1.7-3l0-4.5l-5.3-3l-1.7 4.5l-5.2 0l0 3l5.2 1.5l2.6 1.5l-4.3 3l-1.8 3l3.5 9l1.7 4.6l-1.7 7.5l-2.6 7.5l-4.4 6l-5.2 3l-6.9 4.5l0 3l-3.5-4.5l-3.5 7.5l1.7 7.5l3.5 10.5l0 4.5l-4.3 4.6l-2.6 4.5l0-4.5l-3.5-3l-3.5-6.1l-1.8-1.5l-0.8 7.6l0.8 6l1.8 6l4.3 9l0.9 7.5l-0.9 0.6l-4.3-5.1l-0.9-9l-3.5-6l0-6l-0.8-9.1l-0.9-9l-4.4 0l-0.8-6l-4.4-10.5l-1.7-3l-3.5 1.5l-3.5 3l-1.7 3l-7 10.5l-3.5 4.5l0 9l-0.8 6.1l-2.7 6l-1.7-1.5l-1.7-7.5l-2.7-9.1l-2.6-9l0-9l-0.8-3l-4.4 0l-1.7-4.5l-3.5-6l-5.2-2.4l-7 0l-5.2-1.2l-0.9-3.9l-4.3 0.9l-3.5-3l-3.5-6.9l-2.6 0l-0.9 3l3.5 7.5l1.7 4.5l1.8 3l3.5 0l4-6.9l0.3 5.4l3.5 3l2.3 3l-3.2 7.5l-1.7 6l-3.5 3l-5.2 3l-5.3 6l-6.9 3.6l-2.6 0.3l-1.4-6.9l-1.2-6l-3.5-9l-1.8-7.5l-3.4-9l-3.5-7.5l-0.9-4.5l-0.9 4.5l-1.7-3l-0.9-3M144.8 148.7l3.5-0.3l1.2-5.1l1.7-7.5l0-3.6l-3.5 1.2l-3.5 0.3l-2.6-0.9l-4.3-0.6l-1.8-2.4l-0.8-4.5l0-3.6l4.3-2.4l4.4-0.6l6.1-2.4l5.2 3l6.1-1.5l0-3l-4.4-4.5l-2.6-3l0.9-6l-5.2 4.5l2.6 0.6l-2.6 1.5l-2.6 0.9l-0.9-4.5l-3.5-1.5l-1.7 3l-2.6 6l-0.9 4.5l1.7 3l-5.2 0.6l-3.5 0.9l-2.1 0.6l0.4 3.9l1.7 3l-1.7 4.5l-1.8-0.6l-0.8-2.4l-0.9-4.5l-2.6-4.5l0-4.5l-6.1-4.5l-2.6-4.5l-1.8-2.1l-2.1 1.2l0.4 3.9l2.6 4.5l3.5 1.8l4.3 5.1l-2.6-0.9l-0.8 3l0.8 1.5l-1.7 3l-0.5 0l0.5-3l-0.9-3l-2.6-3l-2.6-1.5l-2.6-3l-1.8-4.5l-2-1.2l-2.3 1.8l-2.6 2.4l-3.5-1.5l-1.7 3l0.3 2.1l-4.7 3.9l-1.4 3l0.5 2.4l-1.2 3l-2.2 2.7l-4.4 0.3l-1.7 2.1M422.8 45.4l7-2.7l3.5-1.5l-3.5-3l-3.5-1.5l5.2-3.1l10.5-5.4l8.7 1.5l12.2 2.4l6.9 1.2l8.7 1.9l10.5-3.1l3.5-1.5l5.2 3l8.7 0l8.7 3.1l8.7 1.5l3.5 3l5.2-3l8.7 0l7 0l3.5-3l-1.8-9.1l5.3 6l3.4 3.1l7 3l7-3l1.7 3l-3.5 6l-5.2 0l-1.7 6l-5.3 1.5l-5.2 4.5l-2.6 6l0.9 3.9l2.6 5.1l6.1 1.5l6.9 3.6l5.3 0.9l0 6l2.6 4.5l2.6 0l0-7.5l3.5-6l-1.8-7.5l0-4.5l0.9-7.5l6.1 0.6l7 3.9l0.8 6l4.4 2.1l3.5-5.1l0.8-0.9l4.4 8.4l1.7 4.5l5.2 4.5l3.5 4.5l0.6 3l-2.3 1.5l-5.2 3.6l-8.7 0.3l-3.5 2.8l-3.5 2.4l-3.5 4.8l1.8-0.3l8.7-6.6l0.8 3.6l-0.8 3l1.7 3l5.2 1.5l1.8-1.5l-1.8 2.4l-4.3 2.1l-4.4 3l0-3l2.6-3l-4.3 1.5l-3.5 3l-2.6 3l-0.4 3l1.3 0.9l-3.5 1.5l-3.5 1.8l0 3.3l-2.6 4.5l-0.9 3l0.4 3l0.5 2.4l-2.6 2.1l-1.8 1.8l-2.6 2.7l-2.6 4.5l-0.5 4.6l1.4 6l0.8 4.5l-0.5 3.6l-1.2 0.3l-1.7-3.9l-1.3-4.5l-0.5-3l-1.7-3l-2.6 0.9l-2.6-2.1l-3.5 0.3l-0.5 3.3l-2.1 0l-4.4-1.5l-3.5 1.5l-3.5 3.6l-0.5 6l-0.7 6l-0.1 5.1l1.3 5.4l1.8 4.5l1.7 1.5l1.8 0.9l3.5-1.2l1.7-1.8l0.9-4.8l0.8-0.9l4.4-1.2l1.2 1.5l-1.2 4.5l-0.9 3.6l-0.5 5.4l-0.9 2.1l4.9-0.3l3.5 0.3l1.4 2.4l-0.5 6l-0.4 6.1l1.2 3l1.8 3l1.7 0.6l2.1-1.8l3.1 0.3l1.8 3l1.7-3.6l0.9-3l1.7-1.5l4.4-3.7l0.8 3.7l2.7-1.6l2.6 3.1l4.3 0l3.5 0l3.5-0.6l1.7 3.6l1.8 3l2.6 4.5l2.6 3l5.2 0.9l3.5 2.7l1.7 2.4l1.8 6.6l0 5.4l2.6 2.1l2.6 0l4.4 4.8l2.6 0.6l5.2 0.9l2.6 2.7l2.6 3.3l3 1.5l0.7 5.1l-0.2 6.1l-3.5 7.5l-2.6 4.5l-0.9 6l0 7.5l-1.7 7.5l-1.8 6l-1.7 3l-4.3 0.6l-3.2 2.4l-2.9 4.5l-1.3 6.1l-0.5 4.5l-2.6 6l-2.6 4.5l-2.6 4.5l-2.6 3l-3.5-1.5l-2.6-1.5l2.2 6.9l0.4 5.1l-3.5 2.4l-5.2 0.6l-0.5 5.4l-4.7 0.6l1.7 4.5l-1.7 1.5l-0.9 6l-3.5 3l2.6 4.6l-2.6 4.5l-2.6 4.5l0.9 5.4l-2.6 0.6l2.6 1.5l2.6 6l2.6 0l-4.4 1.5l-5.2-4.5l-3.5-1.5l-2.6-4.5l-1.7-6l0.9-6l-0.9-4.5l2.6-4.6l0-6l0.9-4.5l-0.4-6l0.4-7.5l1.7-6l1.7-9l0-9l1.8-12.1l0.3-15l0-5.1l-2.9-3.9l-5.2-4.5l-2.3-4.5l-1.2-6l-2.6-7.5l-1.8-7.6l-2.6-3l-0.5-4.5l2.2-3l-0.8-3.6l-0.9-3.9l1.7-4.5l1.8-3l0.9-3l1.7-4.5l0.3-6l-0.3-4.5l-1.7-1.5l-1.8-2.7l-1.7 2.7l0.8 2.1l-2.6-1.5l-2.2-1.2l-1.6-1.5l-2.3-3.9l-1.4-2.7l-1.7-3.4l-1.2-3l-2.6-1.2l-3.5-1.5l-2.3-2.1l-2.9-4.5l-1.8 0.3l-2.6 0.9l-3.5-1.8l-2.6-2.1l-3.5-3l-3.4-3l-2.7-3l0.4-4.5l-1.2-4.5l-3.5-6l-2.6-4.5l-1.8-3l-2.6-4.5l-1.7-6.1l-3-2.1l0 5.2l3 6l1.7 4.5l2.6 6l1.8 4.5l-1.4-1.5l-3-4.5l-0.8-4.5l-2.7-3l-0.8-3l-2.3-4.5l-1.7-6.1l-0.9-3l-2.1-3l-3.5-1.5l-2.2-6l-1.3-3.9l-2.2-5.1l-0.9-3l0.2-7.5l0.3-9l-1.2-7.2l3-0.3l0.8 3l-0.8-4.5l-3.5-3l-4.4-3.1l-0.8-4.5l-3.5-4.5l-1.8-4.5l-4.3-4.5l-2.6-3l-3.5-1.5l-4.4-3.9l-4.3-0.6l-3.5-0.6l-3.5-2.4l-3.5 0.6l-2.6 3l-4.3 2.4l0.9-6l-4.4 7.5l-3.5 3l-3.5 3l-4.3 3l-4.4 2.1l-2.6 0.3l4.4-3.3l3.5-2.1l3.4-3l0.9-3.6l-2.6 0.6l-5.2-1.5l0-3l-5.2-1.5l-1.8-3.9l1.8-2.1l0.8-1.5l6.1-1.5l0-3l-3.5 0l-5.2 0l-3.5-3.3M-12.5 16.5l1.8 3.6l3.5 6l1.7 4.5l5.2 3l-4.3 4.6l0.9 6l2.6 6l2.6 4.5l3.5 4.5l6.9 3l3.5-6l3.5-7.5l5.2-3.6l7-5.4l8.7-2.4l5.2-3.7l5.2-2.4l-3.5-3.6l3.5-3l0-4.5l4.4-3.6M614.3 16.5l1.8 3.6l3.5 6l1.7 4.5l5.2 3l-4.3 4.6l0.9 6l2.6 6l2.6 4.5l3.5 4.5l6.9 3l3.5-6l3.5-7.5l5.2-3.6l7-5.4l8.7-2.4l5.2-3.7l5.2-2.4l-3.5-3.6l3.5-3l0-4.5l4.4-3.6M46.7 45.7l3.5-2.4l7 0.9l5.2-0.6l2.3 3.6l-2.3 2.1l-6.1 2.4l-4.3-0.9l-2.6-0.6l0.8-2.4l-3.5-2.1M79 92.3l4.3-1.6l7-2.1l1.2-4.5l-3-2.4l-0.3-3l-2.3-3l-0.8-1.5l-1.8 0l1.8-4.5l-3.5-0.6l1.7-2.7l-3.5 0l-1.7 3.3l0.9 4.5l0.8 3l2.6 0.3l0.9 2.7l0 1.8l-2.6 0.3l0.3 2.4l-1.5 2.1l2.9 0.9l0.9 0.9l-4.3 3.7M78.1 85.6l-7 1.8l0-5.7l2.6-3l0.9-2.1l3.5 0l0.9 2.1l-0.9 3l0 3.9M314.9 147.8l1.7 0l1.8-6l5.2-0.6l3.5-3l3.4-0.9l3.2-2.1l0.3-6.9l1.8-4.5l-0.9-5.4l-2.1 0.9l-0.5 3l-0.4 4.5l-3.1 4.5l-2.1 0l-1.4 3l-3.5 1.5l-3.4 1.5l-1.8 3l-1.7 2.1l0 5.4M332.3 117.8l2.6-4.5l0.3-6.9l2.3 3l4 1.8l-0.5 2.1l-2.6 3l-3.5-1.5l-2.6 3M335.8 104.3l0-12l0.8-10.6l0.9-1.5l0.5 6l-0.5 7.6l2.6 1.5l-2.6 6l-1.7 3M299.2 167.4l1.7 0l-1.7 9l-1.7-3l1.7-6M278.3 183.9l3.5-1.5l-0.9 4.5l-2.6 0.6l0-3.6M298.3 186.9l3 0.6l-0.4 6.9l-0.8 6l4.3 3l0 1.5l-3.5-3l-2.2-1.5l-1.2-6l0.8-7.5M300.9 221.5l2.7-4.5l3.4-3.9l1.8 6.9l-1.8 4.5l-2.6-1.5l-3.5-1.5M300.9 207l1.8 0.9l0.5 4.6l-1.4 1.5l-0.9-3l0-4M305 204.9l2 1.5l0 4.6l-1.2 0.9l-0.5-3.3l-0.3-3.7M292.6 217l4-8.4M278.3 238l1.8-0.6l2.6-2.4l2.6-3l3.5-4.5l3.1-6l3.8 6l-1.7 6l-0.4 6l-0.5 6l-1.7 7.5l-3.5 1.5l-4.4-2.1l-3.4-2.4l-1.8-6l0-6M254.5 225.4l3.8 1.5l4.3 7.2l6.1 8.4l1.8 6l2.6 3.6l-0.4 7.8l-2.2-0.3l-4.4-5.1l-2.6-6l-2.6-7.5l-3.5-7.5l-2.9-8.1M271.9 262l4.7 0l5.2 0l3.5 1.5l2.6 2.5l-0.4 2.4l-7.4-1.8l-6.1-2.2l-2.1-2.4M296.6 259l1.7-7.5l-1.7-6l0.9-5.4l3.4-0.6l4.4-1.5l0.9 0.6l-3.5 2.4l-3.5 0l-0.9 4.5l4.4 0l-1.8 3l0.9 7.5l-2.6-4.5l-0.9 7.5l-1.7 0M303.6 273.5l6.1-5.7l-3.5 2.7l-2.6 3M290.5 268.1l5.2-0.3l7-0.3l-5.2 1.8l-7 0l0-1.2M310.5 236.5l1.8 3l-0.9 5.4l-0.9-3.9l0-4.5M316.6 244.9l5.2 0l1.8 7.5l5.2-4.8l5.2 2.7l7 5.7l4.3 4.5l-0.8 3l6.1 10.6l-5.3-1.5l-4.3-6l-3.5 3l-3.5 0l-4.3-2.1l-0.9-4l-1.7-6l-3.5-1.5l-4.4-1.5l-0.8-3.6l-1.8-6M347.1 259l6.1-3.9l0 3.9l-4.4 2.4l-1.7-2.4M287 308.6l-0.9 9l2.7 18.1l0 9.9l5.2 2.1l3.5-3l6.9-3l3.5-2.1l5.2-1.8l4.4-0.6l4.3 4.5l2.7 5.4l3.4-5.4l0.9 7.5l2.6 1.5l1.8 6l5.2 2.4l2.6-1.5l2.6 2.1l2.6-3.6l3.5-1.5l1.7-9.9l2.7-6l1.7-10.5l-0.9-9.1l-3.5-6l-3.4-9l-4.4-4.5l-1.7-12l-0.9-1.5l-2.6-1.5l-1.8-9.6l-1.7 6.6l-0.9 12l-2.6 1.5l-6.1-6l0.9-10.5l-6.1-1.5l-3.5 2.4l-2.6 8.1l-4.3-3l-3.5 3l-4.4 6l-0.9 4.5l-5.2 4.5l-5.2 2.4l-3.5 3.6M340.5 364.8l5.7 0.9l0 6l-2.6 1.5l-2.1-3l-1-5.4M389.7 346.2l2.7 4.5l2.6 4.5l4.3 0.6l-2.6 5.4l-2.6 6l-1.2-0.6l0.3-3.9l-2.1-2.1l1.6-3.9l-3-10.5M389.2 364.2l2.8 3.6l-2.3 3.9l-2.9 3.9l-1.1 5.1l-3.8 1.9l-3.5-1.9l2.6-6l5.3-4.5l2.9-6M174.4 278.6l2.1 10.5l-2.7 7.5l-2 15l-1.4 6l-3.5 1.5l-2.6-7.5l0.8-9l0.9-12l4.4-3l1.7-4.5l2.3-4.5M227.8 213.1l3.2 6.9l-1.4 4.5l-1.8 0l-0.5-6l0.5-5.4M567.3 176.4l5.3-3l3.4 0l5.3 4.5l4.8 3.9l-5.7 0.9l-0.9-2.4l-4.3-3.9l-2.6-1.5l-3.5 2.1l-1.8-0.6M585.6 183l4.4-0.6l3.5 0.9l2.6 3.6l-4.4 1.5l-3.5-0.9l-2.6-0.6l0-3.9M579 187.2l3.5 0.9l-2.1 0.9l-1.4-1.8M598.3 187.2l2.6 0.3l-1.4 1.2l-1.2-1.5M170.4 107.3l3.4-4.5l3.5-1.5l3.5 0.6l0 5.4l-3.5 0l-0.8 1.5l0.8 4.5l3.2 3l1.2 4.5l-0.9 4.5l1.8 6l-5.3 0.9l-3.5-2.4l0-3l0.9-5.4l-2.6-5.1l-0.9-3l-0.8-3l0-3M190.4 102.8l4.3 0l0.9 4.5l-3.5 3l-2.1-3l0.4-4.5M269.6 87.7l3.5-3l5.2-4.5l1.8-5.1l-1.8 2.1l-2.6 6l-6.1 4.5M217.4 107.3l5.2-5.1l3.5 0.6M555.2 102.2l5.2-3.9l5.2 1.5l2.3 3l-4 0l-5.3-0.3l-3.4-0.3M563 116.3l2.1 0l0.5-6l1.7-5.4l-3.4 0.9l-1.8 4.5l0.9 6M569.1 104.3l5.2 0l1.7 3l-2.6 1.5l-1.4 3.9l-2-2.4l0-4.5l-0.9-1.5M570.3 117.2l7.5-3.3l-1.8 1.5l-4.3 2.4l-1.4-0.6M576.6 112.4l5.9-2.1l-0.4 1.5l-4.3 0.6l-1.2 0M546.4 90.7l-2.6-4.5l-0.8-4.5l2.6 0l1.7 7.5l-0.9 1.5M501.2 47.2l5.2-6l3.5 3l-5.2 3l-3.5 0M511.6 59.2l5.2-4.5l7 0l-3.5 3l-5.2 2.1l-3.5-0.6M144.2 241.6l3.5 0l0 3.9l-0.8 4.5l-2.7 0l-0.5-4.5l0.5-3.9M139.5 253l0.7 7.5l2.3 7.6M147.7 271.1l0.9 7.5l0.9 6.9M603 53.2l5.3-10.5l-11.4-9.1l-6.9-6l-10.5-4.5l-5.2-2.1l-13.9 0.6l-1.8 4.5l8.7 6l5.3 0l6.9 0l5.3 6.1l3.4 1.5l0 7.5l-8.7 0l0 3l10.5 3l6.9 1.5l5.3 1.5l0.8-3M511.6 27.6l20.9-4.5l7 9l-7 3.1l-15.7 0l-5.2-3.1l0-4.5M497.7 26.1l5.2-7.5l10.5 3l-7 6l-8.7-1.5M563.9 45.7l6.9 0l4.4 6l-7.9 1.5l-3.4-7.5M612.1 99.2l3.1-5.4l2.6-6.4l0.9 1.8l-0.9 3.1l3.5 1.5l1.8 3l0.5 3l-1.4 2.7l-4.4-1.2l-5.7-2.1M186 16.5l-4.3 5.1l-3.5 6l2.6 2.4l5.2-2.4l3.5-6l0-5.1M110.3 128.3l5.2-0.6l-0.9 4.5l-4.3-2.7l0-1.2M103 119.3l2.4 0l-0.3 5.4l-1.8 0.6l-0.3-6M104.2 113.3l0.9 3l-0.9 1.8l-0.7-2.7l0.7-2.1M129.4 135.8l4.9 0.9l-4 0.6l-0.9-1.5M144.8 137.3l3.8-1.8l-1.7 2.7l-2.1-0.9M443.7 181.8l1.8 1.5l-1.3 2.1l-0.5-3.6M320.1 140.3l2.6-0.6l-0.9 2.7l-2.6 0.9l0.9-3M374.1 303.2l5.2 6.3M541.2 23.1l5.2-1.5l0 6l-5.2 0l0-4.5M549.1 20.1l4.3 0l1.8 3.6l-5.3 0.9l-0.8-4.5M555.2 16.5l6.9 2.1l10.5 0l3.4-2.1M609.1 397.3l5.2-0.6l-1.7 3l-3.5-0.9l0-1.5M327.1 16.5l5.2 2.1l5.2 1.5l3.5-3.6M173 34.6l2.6 0.6l-0.9 0.9l-1.7-1.5M181.7 204.6l1.7 0.3M249.9 201.9l0.2 6" fill="none" stroke="#000" stroke-width="0.9" stroke-linejoin="round"/>
<path d="M88.5 19.5V410.5M193 19.5V410.5M297.5 19.5V410.5M401.9 19.5V410.5M506.4 19.5V410.5M610.9 19.5V410.5" stroke="#9a98a4" stroke-width="1" stroke-dasharray="1.5 3.55" fill="none"/><path d="M40.8 62.2H663.1M40.8 122.3H663.1M40.8 182.4H663.1M40.8 242.5H663.1M40.8 302.6H663.1M40.8 362.7H663.1" stroke="#9a98a4" stroke-width="1" stroke-dasharray="1.5 4.75" fill="none"/>
</g>
<rect x="36.3" y="17" width="626.8" height="393.5" fill="none" stroke="#000" stroke-width="1.8"/><text x="84.9" y="426.8" font-size="13" textLength="8.5" lengthAdjust="spacingAndGlyphs" class="a">0</text><text x="180.5" y="426.8" font-size="13" textLength="26.2" lengthAdjust="spacingAndGlyphs" class="a">60E</text><text x="280.1" y="426.8" font-size="13" textLength="36.1" lengthAdjust="spacingAndGlyphs" class="a">120E</text><text x="389.5" y="426.8" font-size="13" textLength="26.2" lengthAdjust="spacingAndGlyphs" class="a">180</text><text x="489" y="426.8" font-size="13" textLength="36.1" lengthAdjust="spacingAndGlyphs" class="a">120W</text><text x="598.4" y="426.8" font-size="13" textLength="26.2" lengthAdjust="spacingAndGlyphs" class="a">60W</text><text x="0.7" y="66.9" font-size="13" textLength="26.2" lengthAdjust="spacingAndGlyphs" class="a">60N</text><text x="0.7" y="127.1" font-size="13" textLength="26.2" lengthAdjust="spacingAndGlyphs" class="a">40N</text><text x="0.7" y="187.2" font-size="13" textLength="26.2" lengthAdjust="spacingAndGlyphs" class="a">20N</text><text x="8.8" y="247.3" font-size="13" textLength="18.1" lengthAdjust="spacingAndGlyphs" class="a">EQ</text><text x="0.7" y="307.4" font-size="13" textLength="26.2" lengthAdjust="spacingAndGlyphs" class="a">20S</text><text x="0.7" y="367.5" font-size="13" textLength="26.2" lengthAdjust="spacingAndGlyphs" class="a">40S</text><path d="M88.5 410.5v4.2M193 410.5v4.2M297.5 410.5v4.2M401.9 410.5v4.2M506.4 410.5v4.2M610.9 410.5v4.2M36.3 62.2h-5M36.3 122.3h-5M36.3 182.4h-5M36.3 242.5h-5M36.3 302.6h-5M36.3 362.7h-5" stroke="#000" stroke-width="1.2" fill="none"/>
<g stroke="#000" stroke-width="0.9" stroke-linejoin="miter"><path d="M676.4 73.7L684 44.5L691.6 73.7Z" fill="#dc0063"/><rect x="676.4" y="73.7" width="15.2" height="28.1" fill="#f00000"/><rect x="676.4" y="101.8" width="15.2" height="28.1" fill="#f08228"/><rect x="676.4" y="129.9" width="15.2" height="28.1" fill="#e6af2d"/><rect x="676.4" y="157.9" width="15.2" height="28.1" fill="#e6dc32"/><rect x="676.4" y="186" width="15.2" height="28.1" fill="#a0e632"/><rect x="676.4" y="214.1" width="15.2" height="28.1" fill="#00dc00"/><rect x="676.4" y="242.1" width="15.2" height="28.1" fill="#00d28c"/><rect x="676.4" y="270.2" width="15.2" height="28.1" fill="#00c8c8"/><rect x="676.4" y="298.3" width="15.2" height="28.1" fill="#00a0ff"/><rect x="676.4" y="326.3" width="15.2" height="28.1" fill="#1e3cff"/><rect x="676.4" y="354.4" width="15.2" height="28.1" fill="#8200dc"/><path d="M676.4 382.5L684 411.7L691.6 382.5Z" fill="#a000c8"/></g><text x="695" y="78.1" font-size="12.3" textLength="16.8" lengthAdjust="spacingAndGlyphs" class="c">35</text><text x="695" y="106.2" font-size="12.3" textLength="16.8" lengthAdjust="spacingAndGlyphs" class="c">30</text><text x="695" y="134.3" font-size="12.3" textLength="16.8" lengthAdjust="spacingAndGlyphs" class="c">25</text><text x="695" y="162.3" font-size="12.3" textLength="16.8" lengthAdjust="spacingAndGlyphs" class="c">20</text><text x="695" y="190.4" font-size="12.3" textLength="16.8" lengthAdjust="spacingAndGlyphs" class="c">15</text><text x="695" y="218.5" font-size="12.3" textLength="16.8" lengthAdjust="spacingAndGlyphs" class="c">10</text><text x="695" y="246.5" font-size="12.3" textLength="8.2" lengthAdjust="spacingAndGlyphs" class="c">5</text><text x="695" y="274.6" font-size="12.3" textLength="8.2" lengthAdjust="spacingAndGlyphs" class="c">0</text><text x="695" y="302.7" font-size="12.3" textLength="16.8" lengthAdjust="spacingAndGlyphs" class="c">-5</text><text x="695" y="330.7" font-size="12.3" textLength="25.4" lengthAdjust="spacingAndGlyphs" class="c">-10</text><text x="695" y="358.8" font-size="12.3" textLength="25.4" lengthAdjust="spacingAndGlyphs" class="c">-15</text><text x="695" y="386.9" font-size="12.3" textLength="25.4" lengthAdjust="spacingAndGlyphs" class="c">-20</text><text x="671.4" y="35.2" font-size="10.6" textLength="35.2" lengthAdjust="spacingAndGlyphs" class="t" letter-spacing="1.2">gpm</text>
<text class="t" y="10" font-size="10.4" xml:space="preserve"><tspan x="8.6" textLength="50.3" lengthAdjust="spacingAndGlyphs">ZUV500</tspan> <tspan x="66.3" textLength="133" lengthAdjust="spacingAndGlyphs">(dec2021-feb2022)</tspan> <tspan x="206.6" textLength="54.1" lengthAdjust="spacingAndGlyphs">forecast</tspan> <tspan x="268" textLength="30.6" lengthAdjust="spacingAndGlyphs">from</tspan> <tspan x="307.1" textLength="59.5" lengthAdjust="spacingAndGlyphs">1oct2021</tspan> <tspan x="376.2" textLength="43" lengthAdjust="spacingAndGlyphs">(NUIST</tspan> <tspan x="426.2" textLength="45.6" lengthAdjust="spacingAndGlyphs">CFS1.0;</tspan> <tspan x="483.2" textLength="73.1" lengthAdjust="spacingAndGlyphs">9-member</tspan> <tspan x="564.1" textLength="41.1" lengthAdjust="spacingAndGlyphs">mean)</tspan></text>
<path d="M523.6 439H558.6" stroke="#000" stroke-width="1.1" fill="none"/><path d="M559.4 439l-4.2 -1.6v3.2z" fill="#000"/><text x="537.6" y="450.7" font-size="11.8" textLength="7.6" lengthAdjust="spacingAndGlyphs" class="t">3</text><text x="552.4" y="450.7" font-size="11.5" fill="#2846ff" textLength="22.4" lengthAdjust="spacingAndGlyphs">ms</text><text x="576.2" y="445.6" font-size="7.4" fill="#2846ff" textLength="8.2" lengthAdjust="spacingAndGlyphs">-1</text>
</g>
<g transform="translate(736 0.1)">
<g clip-path="url(#cp)">
<rect x="34.3" y="15" width="630.8" height="397.5" fill="#a000c8"/><path d="M30.5 11l638 0l0 404l-638 0zM606.5 40.5l-4 1.5l-4 3l-1 2l-1 4l0.5 4l1.5 4l3.5 4l2.5 2l4 2l5.5 2l4.5 0.5l4 0l4-1l4-1.5l4-3l2.5-3l2-4l-0.5-4l-1-2l-4.5-4l-6.5-3.5l-6.5-2.5l-7.5-1z" fill="#8200dc" fill-rule="evenodd"/><path d="M30.5 11l638 0l0 26l-2-1.5l-4-1.5l-18-3l-24-6l-10-1.5l-8 0l-10 2.5l-4 2l-5 3l-5 6l-1.5 4l-0.5 4l0.5 6l2 6l3.5 6l4.5 6l5.5 5l7 5l7 3.5l6 1.5l6 0.5l6 0l7-1.5l7-2l8-4l6-3.5l16-11.5l0 341.5l-12 0.5l-10 1.5l-8.5 3.5l-3.5 3l-2.5 3l-565 0l-2.5-3l-4-3l-8-3.5l-10-1.5l-12-0.5l0-333l9.5-7.5l4.5-4l3.5-6l0.5-4l-2-6l-4-5l-2-2l-4-2l-6-1zM266.5 399l-6 1l-4 2l-1.5 1l-1 2l1.5 2l3 2l4 1l10 1l10-2l4-2l2.5-2l0-2l-2.5-2l-2-1l-8-1.5zM324.5 21l-8 2l-4 2l-2 2l-1 2l-1 4l1.5 4l2 2l6.5 3l4 0.5l6 0l8-1.5l4-2l2.5-2l1.5-2l0-4l-2-4l-2-2l-3.5-2l-4.5-1.5zM402.5 333l-6 1l-7 3l-5 3.5l-4 4.5l-2.5 4l-1.5 4l-1.5 6l-1.5 12l-1 4l-2 2.5l-2 1.5l-4 0.5l-14 1.5l-8 1l-10 3l-4 2.5l-4 3.5l-1 2l0 2l1 1.5l4 2l6 1l8 0.5l6.5-1l7.5-2l4.5-2l7-4l4.5-3.5l4-2l6-1l16 0l10-0.5l10-3l8-4.5l6-6l2-3.5l1.5-4l0.5-4l-0.5-4l-1-4l-2-4l-5-6l-3.5-3l-4-2l-8-2.5zM414.5 63l-4 2l-2 2l-2.5 4l-1.5 6l0.5 4l1.5 4l4 5.5l3 2.5l3 1l6 1.5l6-1.5l4-3l2-2l2.5-4l1-6l-1.5-6.5l-2-3.5l-2-2l-6-4l-6-1z" fill="#00a0ff" fill-rule="evenodd"/><path d="M30.5 11l267.5 0l-7.5 5.5l-5.5 6.5l-1.5 4l-1.5 4l0 4l0 4l1 4l2.5 6l3 4.5l4 5l6 4l4 1.5l4 0l8-1l28-5.5l26.5-4.5l6.5-2l3-2l1-2l0.5-2l-1-4l-2-6l-3.5-6l-4-6l-4-4l-5-4.5l-6-3.5l231 0l-5 2l-6 2.5l-8 6.5l-3 3l-2.5 4l-1.5 4l0 4l1 4l2 6l7 14l4.5 8l6.5 8l10 9.5l8 5.5l6 3l6 1.5l8 0.5l12-2.5l18-5.5l10.5-4l9.5-5l0 315.5l-10 0l-10 0.5l-8 1l-8 2.5l-6 2.5l-6 3.5l-4 4.5l-3 5l-318.5 0l19.5-5l36-2.5l32-6l28-3.5l12-2.5l8-2.5l7.5-4l5.5-4l13-10.5l6-3l2 0l4 0.5l16 7l10 1.5l6 0l6-2l4.5-3.5l3-4l1.5-6l-1-6l-4-5.5l-7-4.5l-7-3l-8-1l-6 1l-12 5.5l-4 0.5l-2-0.5l-2-1l-4-3l-9-10.5l-6.5-6l-8.5-6.5l-6-3l-8-2.5l-6-1.5l-8-0.5l-10 1l-8 2l-8 3l-9 6l-6 6l-4 6l-2.5 6l-4 12l-2.5 4l-4 4l-3.5 2l-22.5 9l-16 8.5l-6 2.5l-10 1.5l-20 0.5l-12 1l-10 2l-8 3l-5 4l-1 2l-0.5 2l0.5 2l4 4l8 4l-161 0l-2.5-4l-4-4l-6-4l-6.5-3l-8-2l-8-1.5l-10-1l-10 0l0-309.5l8-4l8-5l8-7.5l4.5-6.5l3-6l1.5-4l0.5-4l0-12l2-8l0.5-4l-0.5-2l-1-2l-2.5-2l-4-2l-6-1.5l-6-0.5l-16 0.5zM72.5 316.5l-2 1l-2 1.5l-1 2l1 4l2.5 4l5.5 4.5l6 3l4 1l2-0.5l2-1l1.5-3l0-2l-1.5-4l-3-4l-3-2.5l-4-2.5l-4-1zM78.5 122.5l-2 1l-1 1.5l-1.5 4l0.5 2l1 2l1 1l2 0.5l2-1l2-2l0.5-4.5l-0.5-2.5l-2-1.5zM192.5 63l-6 1.5l-4 2.5l-2 2l-2.5 4l-1 6l1 4l1.5 2l3.5 4l3.5 2l4 1l6 0l6-2l3.5-3l3-4l1-6l-2-6l-3.5-4.5l-6-3zM402.5 48.5l-10 3l-2.5 1.5l-1.5 2l-0.5 2l0.5 10l2 12l2.5 8l3 6l4.5 6l4 3.5l4 2.5l6 2.5l6 1l6 0l6-1.5l4-2l5-4l3.5-4l2.5-4l2-6l0.5-6l-0.5-6l-1.5-6l-2.5-6l-3-4l-4-4l-4-2.5l-6-2.5l-6-1.5l-6-1l-6 0.5zM623 11l45.5 0l0 4l-16 0.5l-8-0.5z" fill="#00d28c" fill-rule="evenodd" stroke="#000" stroke-width="1"/><path d="M76.5 11l186 0l-10 10l-4 2.5l-4 1.5l-8 0.5l-22-2.5l-16 0l-8 1l-6 1.5l-6 2.5l-4 3l-2 2l-1.5 4l0.5 10l-1 4l-7 14l-1.5 6l-1 4l0 6l1.5 6l2.5 6l3 4l4.5 4l6 3.5l6 2l6 1l6 0l6-1l6-2l6-3.5l5-4l3.5-4l3.5-6l1.5-6l0-8l-4.5-16l0-4l3-3l4-2.5l6-2l6-0.5l6 2l4 3l2 3l4 8l5 20l4 10l3 4l4 5l8 5.5l6 2.5l6 0.5l6-0.5l6-2.5l6-3.5l4-4l12.5-17l6-6l5.5-3l4-2l6-1l6 0l6 1.5l4 2l3 2.5l3 3l3.5 7l7 18l9 16l0 2l-0.5 2l-1 1l-4 1.5l-6 1l-14 1l-16 0l-46-2.5l-10 0l-38 7.5l-10 0.5l-30 0.5l-46 7l-12 2.5l-9 4l-5 4.5l-3 5.5l0 6l1 3l1.5 3l4.5 4l6 3l8 2l8 0.5l8-0.5l6-1.5l18-7l9-2.5l37-6l12-1l12 0.5l54 5l24 1l22 0l30-3l6 1.5l14 7l4 1l4 0l4-1l4.5-3l4-4l7.5-10l4-3.5l2-0.5l6-0.5l22 3.5l16 1l15-2l7-2l5.5-2l4.5-2.5l3.5-3.5l1.5-2l0.5-4l-1.5-4l-2-2.5l-4-3.5l-6-3l-9-3l-11-1.5l-14-0.5l-22 2l-4-0.5l-4-1.5l-1.5-2l0-2l4-16l0.5-8l-6.5-34l-1.5-6l-2-4l-5-5.5l-8-5.5l-10-4l-16-5.5l-8-3.5l-6-4l-9-8l147.5 0l-4 6l-1.5 4l0 4l1.5 4l17.5 19l5.5 9l8.5 16l3.5 6l14 16l8.5 11.5l4 3.5l2 1.5l4 1l4 0.5l4-1l34-12.5l12-2.5l12-2l0 293.5l-38-2l-12 0l-6 1l-4 2l-6 6.5l-5.5 9l-4 10l-227.5 0l22-4l43-6l38-8.5l8-0.5l20 0l10-1.5l8-3l6-5l4.5-5.5l4-8l1.5-6l0-4l-0.5-4l-1.5-4l-4-6l-15-16l-3-6l-2.5-12l-2-6l-3.5-5.5l-4-3.5l-6-2.5l-4-0.5l-4 0.5l-6 2l-12 7l-6 1l-6-1l-14-6l-10-3l-10-1.5l-10-1l-14 1.5l-14 3l-12 5.5l-10 6l-9 8l-7.5 10l-4.5 8l-6 16l-3 4.5l-7 5.5l-22 12l-9 4l-8 1.5l-48 5l-6 0l-4-0.5l-4-2.5l-3-3.5l-2.5-8l-4-24l-3-10l-5-10l-6.5-7.5l-4-3l-6-3.5l-4-1.5l-6-1l-10 0.5l-6 1.5l-4 1.5l-8 5.5l-4 4l-4.5 5.5l-8.5 14l-1 4l0 4l3 10l4 8l5 6l18.5 20l4 6l5.5 10l3 4l-60.5 0l-3-4l-7.5-6l-11-6l-11-4.5l-8-2.5l-10-2l-30-2.5l0-291l28-3l4-1.5l2.5-3l10.5-32l4-18l6.5-14l0-4l-2-4l-3.5-3.5zM290.5 294.5l-4.5 2.5l-1.5 2l-3 4l-1.5 4l-0.5 4l0.5 8l1 6l2.5 8l5 9l4 3.5l2 1l4 0.5l4-1.5l2-1.5l3-3l2.5-4l1.5-4l1-6l-0.5-10l-2.5-10l-2-4l-3-4l-2-2l-4-2.5l-4-0.5zM610.5 307l-4 1l-2 1l-4 3.5l-2 2.5l-2.5 4l-2.5 6l-1.5 6l-1 6l0.5 10l1 6l2 5l4 6.5l4 3l2 0.5l2-0.5l2-1.5l4-6.5l6.5-18.5l2-8l1-6l0-8l-2-6l-3.5-4.5l-2-1zM74.5 101l-2 0l-2 1l-1 1l-2 4l-2 6l-2 12l-2 24l-2.5 8l-5 14l-0.5 4l0.5 4l0.5 1l2 0.5l2 0l4-2.5l6-6l11-15l12.5-14l3.5-6l1-4l0.5-4l-0.5-6l-1.5-4l-3.5-6l-3-4l-6-5l-4-2zM60.5 300.5l-4 1.5l-5 3l-2.5 4l0 2l0 4l1.5 4l4.5 6l12 12l7.5 6l8 5.5l6 3l6 2l6 1l6-0.5l6-2l4-3l1.5-2l0.5-4l-1.5-6l-3.5-6l-4.5-6l-9.5-10l-9-7l-6-3l-6-2.5l-10-2.5z" fill="#a0e632" fill-rule="evenodd"/><path d="M503.5 37l7 0l6 0.5l10 2.5l6 2.5l4.5 2.5l5 4l4 4l3.5 4l3.5 6l8.5 22l8.5 14l1 4l0 2l-1 2l-1.5 2.5l-4 2.5l-6 0l-6-2l-10-6.5l-6-2l-6-0.5l-20-0.5l-12-2l-6-1.5l-6-2.5l-4-2.5l-4-4l-5.5-7l-1.5-4l-1.5-6l-0.5-6l0-4l3-7.5l4.5-6.5l7.5-5l10-3.5zM110 41l4.5 0l6 1.5l6 3l4 3.5l4 4l3 6l2 6l1 6l0.5 8l-1 6l-1.5 6l-3 6l-4.5 6l-4.5 4l-6 2.5l-4 0.5l-4 0l-4-1.5l-4-2.5l-6-5.5l-5-5.5l-4-6l-3-6l-1.5-6l0-6l1.5-6l2-6l4-7l4-4.5l4-3.5l4-2zM352 81l4.5 1l3.5 3l2 4l0.5 4l-0.5 4l-1.5 4l-4 3.5l-4 1l-4-1l-4-3l-2.5-4.5l-0.5-4l0.5-4l2.5-4l4-3zM30.5 105.5l8 0.5l6 1.5l4 2l3 3.5l2.5 4l1 4l0.5 6l-1 8l-1 6l-2.5 6l-2.5 5.5l-4 5.5l-4 4.5l-4 3l-6 3.5zM648 107l10.5-1.5l10 1l0 54.5l-4 3.5l-6 4l-4 1.5l-6 0.5l-6-0.5l-6-2.5l-6-3.5l-4-3.5l-4-4.5l-3-5l-2-6l-0.5-6l0.5-6l1.5-4l3.5-6l3.5-4l5-4l5.5-3.5l6-2.5zM107.5 157l3-1l2-0.5l2 1l2.5 2.5l1.5 2.5l0.5 3.5l0 6l-1.5 4l-3 4.5l-4 2l-4-0.5l-2-1l-2.5-3l-1-4l0-4l1.5-5.5l2-3.5zM481 181l5.5-1.5l5.5 1.5l2 2l1 2l-0.5 2l-1.5 2l-2.5 1.5l-4 0.5l-4-0.5l-2.5-1.5l-2-2l0-2l0.5-2zM538 317l6.5-1.5l4 0l4 0.5l6 3l4 4l2.5 6l0.5 4l-0.5 4l-2.5 7.5l-2 3l-2 1.5l-2 1l-2 0l-8-3l-8-5.5l-6-6.5l-2-6l0-4l2-4l2-2zM30.5 327l4 0l6 1.5l6 2.5l6 3.5l8 6l7 6.5l5.5 6l9.5 12l4 4l8 4.5l20 7.5l8.5 4l3.5 2l4.5 4l1.5 2l0 2l0 0.5l-1.5 1.5l-2.5 0.5l-8-0.5l-9.5-2l-24.5-8.5l-10-2.5l-10-1.5l-26-1.5l-10-1.5zM252 327l4.5-1.5l4 1l4 3l2 3.5l1.5 6l-0.5 4l-2 4l-3 3l-4 1l-4-0.5l-4-2.5l-2-2l-2-3l-0.5-4l0.5-4.5l2-4.5zM656 327l6.5 0.5l6 1.5l0 52l-16-2.5l-11.5-3.5l-3.5-2l-3-3l-2.5-3l-1.5-4l-0.5-6l1-6l2.5-6l3.5-6l3.5-4.5l6-4.5l4-2zM558.5 360l2-0.5l4 1.5l4 2.5l4.5 5.5l3.5 5.5l2 6.5l0.5 6l-0.5 6l-2 6l-3 6l-4.5 6l-4.5 4l-20 0l-2.5-4l-1-6l-0.5-8l1.5-8l2.5-8l4-8.5l4-6.5zM451 411l15.5-0.5l12 0.5l12 1.5l10 2.5l-76.5 0l12.5-2z" fill="#e6af2d" fill-rule="evenodd"/><path d="M499.5 47l11-1.5l10 1l8 3l8 5l6 7l2 4l2 5.5l0.5 4l-0.5 4l-0.5 2l-1.5 3l-4 3.5l-6 2l-10 1.5l-10 0.5l-8-0.5l-8-2l-6-3l-5-3l-3.5-4l-3.5-6l-0.5-6l0.5-4l3-6l3.5-4l5.5-3.5zM105 63l3.5-1.5l2-0.5l4 0.5l4 2.5l2 2l2 3l1.5 6l-1 6l-2.5 5l-4 3l-4 1l-4-1l-4-2.5l-4-5.5l-1-6l0-4l1.5-4zM30.5 114.5l6 1l3 1.5l2.5 2l2.5 2.5l1.5 3.5l0.5 6l-1 8l-3 6l-3.5 4l-2.5 2.5l-6 3zM650 115l6.5-0.5l4 0l4 1.5l4 2.5l0 27.5l-2.5 3l-3.5 3l-4 2l-4 1l-4 0l-4-1l-6.5-3l-2-2l-3.5-4l-1.5-4l-1-4l0-4l1-4l3.5-6l6-4.5zM38.5 340l6 1l6 2.5l6 5l3.5 4.5l3 6l0.5 6l-1 4l-2 2l-2 1l-8 1.5l-10-0.5l-10-2.5l0-29zM659 341l5.5-1l4 0.5l0 33l-8-2l-7-2.5l-5-4l-2.5-4l-1-2l0-4l2.5-6l5-5z" fill="#f00000" fill-rule="evenodd"/><path d="M505 57l5.5-0.5l5.5 0.5l5 2l2.5 2l3.5 4l2 4l0.5 4l-0.5 2l-1.5 2l-3 2l-4 1.5l-8 0.5l-8-1.5l-6-3.5l-2-2l-1.5-3l-0.5-4l0.5-2l1-2l2.5-2.5l2-1.5zM656.5 127.5l2 1l1.5 2.5l0.5 2l-0.5 2l-1.5 3l-2 1l-4 0.5l-2-0.5l-2-2l-1-2l0-2l0.5-2l1.5-2l3-1.5zM30.5 127.5l2 1.5l1 2l0 2l-1 4l-2 2z" fill="#dc0063" fill-rule="evenodd"/><path transform="scale(.5)" d="M71 820l1 7l-4 0zM87 832l0-7l5 2zl3-7M102 843l1-8l4 2zl8-18M117 850l1-7l4 2zl12-25M133 854l1-7l4 2zl16-29M151 854l1-7l4 3zl17-29M171 852l1-8l4 3zl17-27M193 846l2-7l4 3zl15-21M217 840l2-7l4 3zl10-15M243 834l1-8l4 2zl4-9M270 829l-7-3l4-4zM291 821l-3 6l-3-4zl-5 4M312 816l-2 7l-4-3zl-7 9M329 814l0 8l-5-2zl-4 11M345 817l2 8l-5-1zl0 8M360 822l7 2l-3 4zM380 829l3-6l4 3zM399 830l3-6l3 3zl4-5M417 826l6-3l1 5zl6-1M431 819l7 1l-2 5zl12 6M442 812l7 2l-2 4zl20 13M451 808l8 2l-3 4zl31 17M460 810l8 0l-2 4zl41 15M473 816l7-1l-1 5zl48 9M490 825l7-2l0 5zl51 0M512 834l6-4l1 5zl48-9M537 838l6-5l2 5zl43-13M563 836l6-4l1 4zl36-11M586 831l7-4l1 5zl33-6M607 824l7-2l0 5zl31 1M626 820l7-1l-1 5zl32 5M645 819l7-1l0 5zl33 6M666 821l8-2l-1 5zl31 4M689 822l7-1l-1 4zl28 3M711 824l7-2l-1 5zl25 1M730 825l7-2l0 4zl26 0M747 827l7-3l0 5zl29-2M762 830l7-3l0 4zl33-5M776 833l7-3l1 4zl39-8M791 836l6-4l2 5zl43-11M808 839l6-5l1 5zl46-14M827 839l6-4l2 4zl47-14M849 838l6-4l1 5zl44-13M872 837l7-5l1 5zl41-12M898 834l6-4l1 5zl34-9M924 833l6-5l1 5zl28-8M950 831l7-4l1 5zl21-6M978 830l5-5l2 5zl13-5M1005 830l4-7l3 4zl6-5M1033 830l-6-5l4-2zM1060 830l-8-1l3-4zl-10-5M1087 831l-8 0l2-5zl-18-6M1113 829l-8 1l1-4zl-24-4M1137 823l-7 3l-1-5zl-28 2M1157 814l-5 5l-2-5zl-29 11M1175 807l-4 6l-3-4zl-27 18M1191 804l-3 6l-3-3zl-24 21M1208 804l-3 7l-3-4zl-21 21M1227 805l-3 7l-3-4zl-21 20M1249 804l-4 7l-3-4zl-23 21M1271 803l-3 7l-4-4zl-25 22M1295 804l-5 6l-2-4zl-30 21M1318 807l-5 5l-2-4zl-33 18M1341 814l-6 4l-2-5zl-37 11M1362 823l-7 2l0-4zl-38 2M103 805l-7 2l0-4zl-33 0M121 813l-8 1l1-5zl-31-8M136 821l-7-2l2-4zl-26-16M150 827l-6-4l3-3zl-21-22M165 830l-6-5l4-2zl-16-25M183 830l-6-5l4-2zl-15-25M203 827l-6-4l4-3zl-15-22M225 823l-6-4l3-3zl-17-18M247 816l-7-1l2-4zl-20-11M267 809l-7 1l1-5zl-20-4M284 801l-6 4l-2-5zl-18 4M297 793l-3 7l-4-3zl-11 12M308 788l1 7l-4 0zl-3 17M320 789l4 6l-4 1zl5 16M334 796l7 3l-3 3zl11 9M353 806l6-3l1 5zl11-1M374 815l3-7l4 3zl10-10M398 816l1-7l4 2zl5-11M422 810l-1-7l5 1zM447 800l-3 7l-4-3zl-4 5M472 790l-2 8l-4-3zl-10 15M497 785l-2 7l-4-3zl-15 20M521 786l-3 7l-3-4zl-20 19M545 794l-5 5l-2-4zl-24 11M567 804l-7 3l0-5zl-26 1M585 813l-7 0l1-4zl-25-8M600 816l-7-1l2-4zl-20-11M611 812l-7-1l2-4zl-12-7M619 800l2 7l-4 0zM626 796l7 2l-3 4zl12 9M634 792l7 1l-2 5zl24 13M646 794l8 0l-2 5zl32 11M664 799l7-1l-1 4zl33 6M684 802l8-2l-1 5zl33 3M706 803l7-2l0 5zl30 2M726 803l7-2l0 5zl30 2M744 803l7-2l-1 5zl32 2M760 806l6-2l1 4zl35-1M775 811l7-4l1 5zl40-6M793 816l6-4l1 4zl41-11M812 820l6-5l1 5zl42-15M834 821l5-4l2 4zl40-16M857 821l6-5l2 4zl36-16M882 819l5-5l2 4zl31-14M907 816l5-5l2 4zl25-11M931 813l6-5l2 5zl21-8M955 811l6-4l2 4zl16-6M980 812l5-6l2 4zl11-7M1005 813l2-7l4 3zl6-8M1032 815l-4-7l5 0zl-2-10M1058 817l-6-4l4-3zl-8-12M1083 819l-7-3l4-4zl-14-14M1107 817l-7-2l2-4zl-18-12M1128 809l-7 1l1-4zl-19-4M1147 798l-6 5l-1-5zl-19 7M1164 788l-3 7l-4-3zl-16 17M1180 784l-2 7l-4-2zl-13 21M1198 785l-1 7l-5-2zl-11 20M1219 787l-2 7l-4-2zl-13 18M1245 788l-4 7l-3-4zl-19 17M1273 787l-5 6l-2-4zl-27 18M1302 788l-5 5l-2-5zl-37 17M1332 790l-6 5l-1-5zl-47 15M1360 795l-6 4l-1-5zl-56 10M1386 802l-7 2l0-4zl-62 3M124 789l-8 2l1-5zl-54-4M143 792l-7 2l1-5zl-53-7M159 796l-7 0l1-4zl-49-11M174 799l-7 0l1-5zl-45-14M189 801l-8 0l2-5zl-40-16M203 801l-7 0l2-5zl-35-16M217 799l-8-1l3-4zl-29-14M228 793l-7 0l1-5zl-20-8M237 785l-8 2l1-4zl-10 0M244 777l5 6l-5 2zl3 8M253 770l6 4l-3 3zl13 15M266 765l7 3l-4 4zl20 20M284 764l7 3l-4 4zl21 21M306 769l7 2l-3 4zl19 16M331 778l7 1l-2 4zl14 7M356 790l5-6l2 4zl8-5M381 798l-1-7l5 1zl3-13M407 800l-4-6l5-1zl-4-15M434 796l-7-4l3-3zl-11-11M463 787l-7 2l0-5zl-20-2M495 780l-6 3l-1-5zl-33 5M529 776l-6 3l-1-4zl-47 9M562 776l-6 3l-1-5zl-61 9M585 780l-7 3l0-5zl-64 5M605 784l-7 3l-1-5zl-64 1M624 786l-7 3l0-5zl-64-1M643 784l-7 2l0-5zl-63 1M650 775l-6 4l-1-5zl-51 10M657 765l-5 6l-2-5zl-38 20M665 758l-3 7l-3-4zl-27 27M676 758l-2 7l-4-3zl-18 27M688 764l-1 8l-4-3zl-10 21M702 773l-1 8l-4-2zl-5 12M715 780l5 6l-5 1zM729 783l8-1l-2 5zl7 2M743 783l8-1l-1 5zl13 2M758 784l7-2l0 5zl18 1M774 787l7-3l0 4zl21-2M792 791l6-4l1 5zl23-6M812 796l5-5l2 4zl22-11M834 800l4-7l3 4zl20-15M857 801l3-7l4 4zl17-16M881 800l2-7l4 3zl12-15M903 796l3-7l4 3zl10-11M923 792l4-6l3 4zl9-7M940 789l6-4l2 4zl12-4M956 790l6-5l2 5zl15-5M973 794l6-6l2 5zl18-9M994 799l4-6l3 3zl17-14M1018 804l2-7l4 2zl12-19M1042 806l0-7l5 2zl8-21M1066 807l-1-8l4 1zl3-22M1087 802l-1-7l4 0zl2-17M1107 792l-1-7l5 1zl2-7M1125 778l5 6l-4 2zl3 7M1144 767l3 6l-4 1zl4 18M1162 763l4 6l-5 1zl5 22M1182 765l4 7l-5 1zl5 20M1206 771l3 7l-5 0zl0 14M1235 775l-3 7l-4-3zl-9 10M1267 776l-6 5l-1-4zl-21 9M1301 776l-7 4l-1-4zl-36 9M1334 777l-6 4l-1-5zl-49 8M1366 779l-7 3l0-5zl-62 6M1388 781l-7 3l0-5zl-64 4M131 770l-7 2l0-5zl-61-5M151 767l-7 3l0-5zl-61-2M164 766l-7 2l0-5zl-54-1M171 766l-7 2l0-4zl-42-1M174 767l-7 2l0-5zl-25-2M175 766l-7 1l1-5zl-7-1M177 763l7-1l0 4zl11 2M182 758l8 0l-2 4zl26 7M193 753l7 0l-1 5zl34 12M210 749l7 1l-1 4zl37 16M233 746l7 2l-2 4zl33 19M260 746l7 2l-3 4zl26 19M288 747l7 4l-3 3zl17 18M317 752l6 5l-4 2zl8 13M343 760l4 6l-4 1zM368 770l-6-4l4-3zl-4-5M389 778l-5-5l5-2zl-5-13M409 781l-4-6l4-1zl-6-16M430 779l-5-5l4-2zl-7-14M453 775l-7-4l3-3zl-10-10M478 770l-8 0l2-5zl-16-5M505 767l-7 1l0-4zl-23-2M532 765l-7 2l0-5zl-31 0M558 763l-7 3l0-5zl-37 2M580 762l-6 3l-1-5zl-39 3M601 758l-7 4l-1-5zl-41 7M620 753l-6 4l-1-5zl-40 12M642 745l-5 5l-2-5zl-43 20M666 737l-4 5l-3-4zl-47 28M692 732l-4 6l-3-4zl-54 33M714 734l-5 6l-2-4zl-56 31M737 740l-6 5l-2-5zl-59 25M750 747l-6 5l-1-5zl-53 18M758 753l-6 5l-2-5zl-41 12M763 756l-6 5l-2-5zl-27 9M768 757l-5 6l-2-4zl-12 8M776 759l2 7l-5 0zM787 762l8 0l-2 5zl8 3M802 768l7-4l1 4zl13-3M820 773l5-5l3 4zl14-8M840 778l4-7l3 4zl14-13M862 780l2-7l4 3zl12-15M882 779l3-7l3 3zl11-14M901 775l4-6l3 3zl12-10M917 770l6-5l1 5zl15-5M929 766l7-2l0 4zl23-1M941 768l6-3l1 5zl30-3M955 776l6-5l1 5zl36-11M974 785l5-5l2 4zl37-20M998 792l4-7l3 4zl32-27M1024 793l3-7l4 4zl26-28M1049 790l2-7l4 3zl20-25M1070 783l4-6l3 3zl19-18M1090 772l6-5l1 5zl19-7M1110 759l7 0l-2 4zl18 6M1130 748l7 3l-4 4zl18 17M1150 744l7 4l-4 3zl17 21M1171 748l7 4l-4 3zl16 17M1195 757l7 2l-3 4zl11 8M1221 763l7 0l-1 4zM1256 765l-7 2l0-5zl-10 0M1290 764l-7 2l0-4zl-25 1M1326 763l-7 2l-1-4zl-41 2M1360 761l-7 3l0-5zl-56 4M1388 759l-7 3l0-5zl-64 6M118 749l-7 2l0-5zl-48-5M132 740l-6 3l-1-5zl-42 4M138 732l-5 5l-2-4zl-28 12M138 728l-2 8l-4-2zl-9 16M136 728l6 4l-3 3zl13 16M139 730l7 1l-2 4zl29 14M150 732l7 0l-1 4zl38 12M169 732l8 0l-2 4zl39 12M194 731l8 0l-2 5zl33 13M222 729l7 2l-3 4zl25 15M248 728l7 3l-3 3zl18 16M274 728l6 4l-4 3zl12 16M298 729l5 6l-4 2zl7 15M321 734l5 6l-5 2zl4 10M342 740l6 5l-4 2zM363 751l-1-7l5 1zl1-7M381 759l-1-8l5 1zl3-15M398 761l0-7l4 2zl5-17M414 760l2-7l4 2zl9-16M433 756l2-7l4 3zl10-12M454 752l3-7l4 4zl8-8M477 748l4-6l3 4zM505 740l-3 7l-4-3zM526 740l-4 7l-3-4zl-5 4M549 737l-4 6l-3-3zl-8 7M571 734l-3 6l-4-3zl-11 10M596 731l-4 6l-3-3zl-16 13M626 728l-5 6l-2-4zl-27 16M659 724l-5 5l-3-4zl-40 20M692 721l-5 5l-2-5zl-54 23M718 721l-6 5l-2-5zl-60 23M738 722l-6 5l-2-4zl-60 22M757 722l-5 5l-2-4zl-60 22M768 723l-6 5l-2-5zl-51 21M772 724l-5 5l-2-4zl-36 20M777 725l-4 7l-3-4zl-21 19M783 729l-1 7l-4-2zl-7 15M793 735l4 7l-5 1zl2 9M806 744l7-2l0 5zl9 0M822 752l5-6l2 5zl12-8M840 759l3-7l3 4zl14-15M859 763l2-7l4 3zl15-19M878 762l3-7l3 3zl15-18M896 757l5-6l2 3zl17-13M913 749l7-4l1 5zl19-5M928 743l7-2l0 5zl24 1M943 745l7-3l0 5zl28-1M960 754l6-4l1 5zl31-10M980 767l4-6l3 4zl31-23M1003 776l3-7l3 4zl27-32M1026 778l2-7l4 2zl24-34M1048 773l2-7l4 3zl21-29M1067 765l3-6l3 3zl22-21M1084 754l5-5l2 5zl25-10M1102 742l7-1l0 4zl26 2M1122 732l7 1l-2 4zl26 12M1142 727l7 2l-3 4zl25 17M1161 729l7 2l-2 4zl26 15M1181 739l8-1l-1 5zl25 5M1207 748l6-4l1 5zl19-4M1238 750l4-6l3 4zl8-6M1273 749l-8-2l3-4zl-8-5M1308 748l-8 1l1-5zl-23-4M1341 745l-7 2l0-4zl-37-1M1370 739l-7 3l0-5zl-46 5M85 728l-8 0l2-4zl-15-4M98 713l-2 7l-4-3zl-8 11M108 701l3 7l-5 0zl2 23M115 695l5 5l-4 2zl14 29M122 696l6 3l-3 4zl27 28M133 702l8 1l-3 4zl35 22M152 708l7 1l-2 4zl36 16M177 713l7 0l-1 5zl31 11M204 713l7 1l-2 4zl23 11M228 711l7 2l-2 4zl19 13M250 709l6 3l-3 4zl16 15M269 710l7 3l-3 3zl17 14M289 714l7 1l-2 4zl16 10M309 720l8-1l-2 5zl16 4M329 727l7-4l0 5zl16-3M348 734l5-6l2 4zl16-10M366 738l4-6l3 4zl18-14M384 739l4-6l3 4zl19-15M403 736l5-5l2 4zl20-12M423 732l6-5l2 5zl20-8M447 728l6-4l1 5zl15-4M474 726l7-4l1 5zl8-2M505 721l-3 6l-4-3zM529 717l-3 6l-4-3zl-8 7M550 713l-3 7l-3-3zl-9 11M569 712l-3 7l-3-2zl-9 12M590 714l-4 7l-3-3zl-10 10M617 716l-6 5l-2-4zl-18 8M647 714l-6 5l-2-5zl-28 10M676 709l-6 5l-1-4zl-38 15M701 704l-5 5l-2-4zl-43 20M722 700l-5 5l-2-4zl-44 24M739 697l-5 5l-2-4zl-42 27M752 695l-4 6l-3-4zl-35 29M763 695l-3 7l-4-4zl-27 29M773 698l-2 7l-4-3zl-17 26M785 704l-1 8l-4-2zl-9 20M798 714l0 7l-4-1zl-3 10M809 724l8-2l-1 5zM829 734l1-7l4 2zl5-10M847 742l0-8l5 2zl7-18M866 745l0-7l4 1zl8-21M885 743l1-7l4 2zl8-19M906 737l1-7l4 2zl7-13M927 727l5-5l2 4zM948 720l7 4l-4 3zM968 720l6 4l-4 3zM991 734l-2-7l5 0zl0-10M1011 749l-3-7l5 0zl0-25M1028 759l-2-7l5 0zl2-35M1044 761l-2-7l5 1zl6-37M1058 756l0-8l5 2zl11-32M1071 746l2-6l4 3zl18-22M1083 735l6-5l2 5zl26-11M1097 724l8-2l-1 4zl31 0M1115 713l7 0l-1 5zl33 11M1134 705l7 2l-2 4zl33 19M1152 705l7 1l-2 5zl35 19M1171 716l7-1l-1 5zl35 8M1194 729l7-3l0 4zl32-5M1223 735l5-5l2 4zl23-11M1254 735l3-6l4 3zl11-11M1284 735l-2-8l5 1zl1-11M1311 730l-6-2l3-4zl-7-6M1335 720l-6 5l-1-5zl-11 4M49 707l7-4l1 5zl21-3M63 690l7 1l-2 4zl27 14M76 675l6 2l-3 4zl34 29M86 666l6 3l-3 3zl43 38M96 668l7 2l-3 4zl53 36M110 679l8 0l-2 5zl58 25M136 693l7-1l-1 5zl52 11M167 701l7-2l0 5zl41 3M196 701l7-1l0 4zl31 3M220 698l7-1l-1 5zl27 6M241 695l7 0l-2 5zl25 9M260 696l8 0l-2 4zl26 8M280 699l7-1l0 5zl25 5M301 704l7-2l0 4zl24 0M322 709l6-4l1 5zl23-5M342 713l6-5l2 5zl22-9M363 715l5-5l2 4zl21-11M383 714l5-5l3 4zl20-10M404 711l6-5l2 5zl19-7M427 708l6-4l1 5zl16-4M453 708l5-5l2 5zl9-4M482 710l-3-7l5 0zM514 707l-8 1l1-5zl-13-3M539 697l-5 5l-2-5zl-18 7M556 689l-3 7l-4-4zl-15 15M568 689l-1 7l-4-2zl-8 15M583 695l0 7l-5-1zl-3 9M606 701l-6 5l-1-4zl-7 3M634 700l-6 4l-2-4zl-15 4M661 693l-5 6l-2-5zl-23 11M685 686l-5 6l-3-4zl-27 18M706 680l-4 7l-3-4zl-28 24M725 676l-3 7l-4-3zl-28 28M743 675l-2 6l-4-3zl-26 29M761 675l-2 7l-4-3zl-25 29M779 679l-3 7l-3-3zl-23 25M797 686l-4 7l-3-4zl-21 18M815 695l-6 5l-1-4zl-20 9M832 705l-7 2l1-5zl-17-1M850 713l-8-1l3-4zl-16-9M867 720l-7-4l4-3zl-13-16M884 723l-6-5l5-3zl-10-19M902 721l-5-5l4-2zl-9-17M922 716l-7-4l4-3zl-9-12M943 708l-8 0l2-5zl-11-4M965 704l-7 2l0-4zl-13 0M989 708l-7 1l1-5zl-18-4M1014 719l-8-2l3-4zl-23-15M1033 732l-6-4l4-3zl-22-28M1047 740l-5-5l4-2zl-17-36M1058 741l-4-7l5-1zl-8-37M1070 734l-2-7l4 0zl-1-30M1082 722l0-7l5 2zl7-18M1092 709l6-4l1 4zl17-5M1103 699l7-1l-1 4zl25 5M1118 690l7 1l-2 4zl30 14M1137 682l7 2l-3 4zl30 22M1157 681l7 2l-3 4zl30 23M1176 694l7 0l-1 4zl30 10M1197 711l6-4l1 5zl29-7M1221 720l4-5l3 4zl25-16M1244 721l4-7l3 4zl21-17M1265 718l5-6l3 4zl20-14M1285 712l5-4l2 4zl19-8M1303 701l8-2l-1 5zl21 3M18 682l7-2l0 5zl52 2M28 667l8-1l-2 5zl62 17M51 657l8 1l-2 4zl59 27M72 655l7 1l-2 4zl57 29M89 660l8 0l-2 5zl60 24M105 673l8-2l-1 5zl63 11M132 691l6-3l1 5zl56-7M169 699l6-5l1 5zl39-15M198 694l6-4l1 4zl29-10M221 686l7-3l0 5zl26-2M242 681l7-1l0 5zl24 3M263 680l7-1l0 5zl23 4M285 682l7-2l0 5zl20 2M307 685l6-3l1 5zl18-1M328 688l6-4l1 5zl17-4M349 691l5-5l2 4zl15-7M369 692l5-5l2 4zl15-8M389 692l5-6l3 4zl14-8M410 690l5-5l2 4zl13-6M431 690l5-6l2 5zl12-6M453 692l4-6l3 3zl9-8M478 697l0-8l4 2zl4-13M504 693l-4-6l4-2zl-3-9M528 677l-4 7l-3-4zl-7 7M546 662l0 8l-4-1zl-5 22M560 661l2 7l-4 0zl0 23M576 671l4 6l-4 2zl4 13M600 689l-3-7l5 0zM629 687l-8 0l2-5zl-10-3M658 679l-7 4l-1-5zl-20 5M683 671l-5 5l-2-4zl-25 13M706 665l-4 6l-3-4zl-28 19M729 662l-4 6l-3-4zl-32 22M752 660l-5 6l-2-4zl-35 24M774 660l-4 6l-3-4zl-38 24M796 663l-5 5l-2-4zl-40 21M817 667l-5 5l-2-4zl-41 17M837 674l-7 4l-1-5zl-42 10M854 681l-7 3l0-5zl-39 3M870 689l-7 1l0-5zl-36-5M884 695l-7 0l1-5zl-30-11M898 699l-7-2l2-4zl-24-15M912 699l-7-2l3-4zl-19-15M927 697l-7-3l3-4zl-14-13M943 691l-7-2l2-4zl-11-7M959 689l-7-2l3-4zl-7-5M981 696l-6-4l3-3zl-10-12M1007 707l-6-5l4-2zl-16-23M1031 714l-6-5l4-2zl-20-30M1049 717l-5-5l4-3zl-19-33M1064 716l-5-6l4-2zl-14-32M1080 709l-5-6l4-2zl-11-25M1095 694l-5-4l4-3zl-6-10M1107 679l4 6l-4 1zM1118 671l6 4l-3 3zl10 13M1133 667l7 4l-4 3zl15 17M1153 662l6 5l-4 2zl14 22M1174 662l6 5l-5 2zl13 22M1193 674l7 2l-3 4zl13 10M1210 693l5-6l2 5zl16-9M1227 702l3-6l4 3zl19-18M1243 700l4-6l3 4zl22-16M1255 695l6-5l2 4zl30-11M1266 688l7-3l0 5zl38-4M1278 677l7-1l-1 4zl46 7M10 657l7-2l-1 5zl60 7M28 647l8-1l-2 5zl62 17M50 639l8 1l-2 4zl60 25M71 638l7 0l-2 5zl58 26M87 647l7 0l-1 4zl62 17M129 675l6-4l1 4zl39-11M169 693l1-7l4 3zl19-29M196 693l0-8l5 2zl12-29M215 681l2-7l4 3zl12-17M232 670l6-5l2 4zl15-6M252 664l7-3l0 5zl14 0M273 662l7-2l0 5zl13 2M295 663l7-2l-1 5zl10 1M315 665l7-3l1 4zl10-1M335 669l5-6l3 4zl10-5M355 672l3-7l3 4zl9-8M373 673l4-6l3 3zl11-9M392 672l4-6l3 4zl11-8M411 671l4-6l3 4zl12-7M430 670l5-5l2 4zl13-6M449 672l5-6l3 4zl13-8M467 676l4-7l3 4zl15-12M485 671l5-5l2 4zl16-7M507 655l7 2l-2 4zl14 9M533 639l5 6l-5 2zl8 25M559 637l2 7l-4 0zl1 27M582 651l1 8l-5-1zl-2 13M608 671l-7-3l3-3zl-9-7M637 676l-7-2l3-4zl-18-12M665 667l-7 2l1-5zl-27-3M691 658l-7 3l-1-5zl-33 6M714 651l-6 5l-1-5zl-36 13M737 647l-5 5l-2-4zl-40 17M760 644l-5 5l-2-4zl-43 20M783 643l-5 5l-2-5zl-47 21M805 643l-5 5l-2-4zl-49 21M826 646l-6 5l-1-5zl-50 18M845 652l-6 4l-1-5zl-50 12M862 658l-7 3l0-4zl-47 6M877 665l-7 3l0-5zl-43-1M890 672l-8 1l2-5zl-36-8M902 677l-7-1l2-4zl-28-13M915 679l-8-2l3-4zl-22-15M928 676l-7-3l3-3zl-15-12M940 669l-7-2l2-4zl-8-5M951 669l-1-7l4 0zM969 678l-1-8l5 1zl2-14M996 691l-4-7l5-1zl-5-27M1023 693l-5-5l5-2zl-12-29M1044 691l-5-5l4-2zl-14-27M1060 690l-5-6l5-1zl-10-26M1074 684l-4-6l5-1zl-5-20M1089 670l-2-7l4 0zl0-6M1104 655l6 6l-5 2zl5 9M1121 649l5 5l-4 2zl7 15M1140 648l6 5l-5 3zl8 16M1162 646l5 6l-5 1zl5 18M1185 644l3 7l-5 0zl2 20M1205 653l3 7l-4 0zl1 11M1220 670l3-7l4 4zl6-6M1232 678l3-6l4 3zl14-14M1244 675l5-6l2 5zl21-11M1254 668l7-3l1 5zl31-4M1264 663l7-3l0 5zl40 1M1274 654l7-1l-1 5zl50 10M31 636l7-1l-1 5zl39 7M45 627l7 0l-1 5zl45 16M69 620l7 2l-2 4zl41 23M106 627l7 2l-2 4zl23 16M151 650l-5-6l5-2zl-2-7M188 673l-6-5l4-2zl-20-30M208 680l-6-5l5-2zl-20-37M216 671l-4-6l4-1zl-8-28M224 659l-1-8l5 1zl3-16M239 650l4-7l3 4zl8-7M257 646l7-4l1 4zl9-3M278 645l6-4l1 5zl8-2M299 646l5-5l2 5zl6-3M319 649l4-7l3 4zl6-6M339 651l2-7l4 3zl6-8M358 652l2-7l4 3zl6-9M377 652l2-7l4 3zl7-9M396 650l4-6l3 3zl7-7M416 647l5-5l2 4zl7-4M436 645l6-4l1 5zl7-2M455 646l6-5l2 5zl7-3M471 649l6-6l2 5zl11-6M487 647l6-4l1 4zl14-4M509 637l7 1l-2 4zl12 6M540 625l2 7l-5 0zl1 18M571 622l-1 7l-4-2zl-11 21M599 636l-6 5l-1-5zl-19 7M624 658l-8-1l3-5zl-25-15M647 664l-7-3l3-3zl-28-21M669 652l-7 1l1-5zl-31-9M690 640l-6 3l-1-4zl-32 3M711 633l-6 4l-1-4zl-33 10M733 628l-6 5l-2-4zl-36 15M755 625l-5 5l-3-4zl-38 18M777 624l-5 5l-2-4zl-41 19M800 625l-6 5l-2-5zl-44 18M821 628l-5 5l-2-5zl-45 15M842 633l-6 4l-1-5zl-47 10M860 639l-6 3l-1-5zl-45 4M877 645l-7 2l0-5zl-43-2M892 650l-7 1l1-5zl-38-7M906 653l-7 1l1-5zl-32-10M920 654l-7 0l2-5zl-27-11M935 649l-8 1l2-5zl-22-6M949 640l-6 4l-1-5zl-17 3M964 638l-5 5l-2-4zl-12 5M982 654l-7-3l4-4zl-11-11M1003 671l-5-5l4-2zl-12-28M1023 673l-5-6l5-1zl-12-30M1038 667l-4-6l4-1zl-8-24M1047 664l-1-7l5 0zl3-21M1054 660l3-7l4 3zl15-17M1065 649l6-4l1 5zl24-6M1083 637l8-1l-1 5zl26 6M1108 632l7 1l-2 4zl20 11M1134 631l7 3l-3 4zl14 12M1160 629l5 5l-4 2zl7 14M1186 626l3 7l-5 0zl1 17M1209 632l1 7l-5-1zl-3 11M1227 649l-4-7l5-1zM1239 655l2-7l4 2zl7-12M1252 653l5-6l2 4zl13-10M1266 647l7-4l1 5zl19-4M1281 642l7-2l-1 5zl23 1M1296 635l7 0l-1 4zl28 8M59 619l7 0l-1 5zl11 4M82 614l6 4l-3 3zl8 9M115 614l-1 7l-4-2zl-5 9M156 625l-7 2l0-5zl-27-2M191 643l-8-1l2-5zl-42-20M208 654l-7-3l3-3zl-40-31M211 653l-6-4l4-3zl-23-30M214 644l-5-6l5-1zl-6-21M223 636l0-7l4 1zl4-13M240 632l2-7l4 3zl7-9M261 630l2-7l4 3zl5-7M283 629l1-7l4 2zl3-6M305 629l-2-7l5 0zM327 629l-4-6l4-1zl-2-6M348 629l-5-5l4-2zl-3-6M368 628l-6-4l4-3zl-4-5M388 627l-7-3l3-4zM408 625l-7 0l1-5zM428 622l-6 4l-1-5zM448 621l-6 5l-2-5zM467 622l-6 4l-1-5zM486 626l-7-2l2-4zM502 628l-3-6l4-1zM526 621l-6 5l-2-4zM551 614l-4 6l-3-3zl-10 9M582 609l-4 6l-3-4zl-22 14M610 620l-7 3l0-5zl-30 3M631 638l-7-1l2-4zl-32-15M646 642l-7-2l3-4zl-27-19M662 631l-7 0l1-5zl-24-8M680 619l-6 4l-1-5zl-22 4M700 613l-5 5l-2-5zl-22 10M721 610l-4 5l-3-4zl-24 13M744 609l-5 5l-2-4zl-27 14M768 609l-6 5l-2-4zl-32 14M792 610l-6 5l-2-5zl-36 13M815 613l-6 4l-1-5zl-39 10M838 616l-7 3l-1-4zl-43 7M858 619l-7 3l0-5zl-43 4M877 622l-7 3l0-5zl-43 1M893 625l-7 2l0-5zl-39-2M909 626l-7 2l0-5zl-35-3M924 626l-8 2l1-5zl-31-3M940 622l-7 3l0-5zl-27 1M960 614l-6 5l-2-5zl-28 9M983 614l-6 4l-2-4zl-31 9M1003 631l-7 1l1-5zl-32-8M1016 649l-7-3l4-4zl-25-26M1024 649l-5-5l4-2zl-13-26M1031 641l-2-6l4-1zl-1-18M1038 636l3-7l4 3zl12-13M1045 632l6-5l1 5zl24-9M1057 625l6-3l1 5zl32-2M1077 618l7-1l-1 5zl32 5M1104 615l7 0l-1 5zl24 8M1132 615l7 1l-2 4zl16 8M1160 613l6 4l-4 3zl7 10M1189 611l1 7l-5-1zl-2 12M1216 615l-4 6l-3-3zl-10 8M1237 627l-8 0l2-5zl-11-4M1252 635l-6-5l5-2zl-6-12M1266 634l-3-7l5 0zl-1-11M1283 628l0-7l5 2zM1299 623l7-2l0 5zM1321 616l5 5l-5 2zl3 7M75 600l-5 6l-2-4zM98 601l-6 4l-1-5zl-8 2M130 606l-7 1l0-5zl-20-3M161 615l-8 0l2-5zl-32-12M182 624l-8-2l3-4zl-33-21M192 628l-7-4l4-3zl-24-25M199 625l-6-5l5-2zl-11-22M210 620l-4-7l5 0zl-2-17M227 616l-2-7l5 0zl0-13M248 612l-3-6l5-1zl-1-9M271 610l-6-5l4-2zl-5-7M294 607l-7-1l2-4zl-8-4M317 606l-7 0l1-4zl-12-3M339 605l-7 1l0-5zl-14-2M360 604l-7 2l0-5zl-15-1M379 603l-7 2l0-5zl-15 0M397 602l-7 3l0-5zl-13 1M415 601l-7 4l0-5zl-12 2M433 601l-7 4l-1-5zl-10 2M451 601l-7 4l-1-5zl-8 2M469 603l-7 2l0-4zl-7 0M487 605l-8-1l2-4zM505 607l-7-4l4-3zM526 604l-7 1l1-5zM551 598l-5 5l-2-4zl-10 5M581 593l-5 5l-2-4zl-21 10M610 599l-7 4l-1-5zl-30 4M629 613l-7 0l2-4zl-30-10M642 616l-8-1l3-4zl-23-13M655 608l-8 0l2-5zl-17-5M672 600l-6 4l-1-5zl-14 3M693 596l-6 5l-2-4zl-15 7M715 595l-6 5l-2-5zl-18 8M738 594l-6 5l-2-4zl-21 9M761 594l-6 5l-1-5zl-25 9M784 594l-6 5l-1-5zl-28 9M807 595l-6 4l-1-5zl-31 8M829 595l-6 4l-1-4zl-34 8M849 596l-6 4l-1-5zl-34 7M867 597l-6 4l-1-5zl-33 6M883 599l-6 3l-1-4zl-29 4M899 601l-7 3l0-5zl-25 2M914 602l-7 3l0-5zl-21 1M931 601l-7 3l0-5zl-18 2M954 597l-6 4l-2-4zl-22 6M982 598l-7 4l-1-5zl-30 5M1005 610l-8 1l1-5zl-34-7M1015 621l-7-3l3-3zl-24-18M1020 619l-6-5l4-2zl-9-16M1027 611l0-7l5 2zl3-8M1039 606l6-4l2 4zl11-3M1053 603l7-3l0 5zl16 0M1070 600l7-1l0 4zl19 3M1092 598l7 0l-1 4zl17 5M1117 599l7 0l-1 4zl11 4M1143 600l7 2l-2 4zM1170 599l-2 7l-4-3zM1197 599l-5 5l-2-5zl-10 4M1224 601l-6 3l-1-5zl-18 2M1246 608l-8 1l2-5zl-20-5M1261 613l-7-2l3-4zl-15-10M1274 611l-6-3l3-3zl-9-8M1290 606l-8-2l3-4zM1309 600l-5 6l-2-4zM1329 596l-2 7l-4-3zl-5 7M78 583l-7 2l0-5zl-8 0M101 587l-8 0l2-5zl-11-4M126 592l-8-1l3-4zl-16-9M148 598l-7-2l3-4zl-19-15M166 602l-6-4l3-3zl-17-19M182 602l-6-5l4-2zl-14-19M198 599l-6-5l5-2zl-10-16M217 595l-6-4l4-3zl-9-12M238 591l-7-2l3-4zl-11-8M260 588l-7-1l1-4zl-13-5M282 585l-7 1l0-5zl-16-2M303 582l-7 3l0-5zl-17 1M323 581l-7 3l0-5zl-18 2M342 581l-7 3l0-5zl-17 2M360 581l-7 3l0-5zl-15 2M377 581l-7 3l-1-4zl-13 2M393 581l-7 4l0-5zl-9 2M409 581l-6 4l-2-4zM427 579l-4 7l-3-4zM442 577l3 7l-5 1zM458 580l7 2l-3 4zM477 582l7-2l-1 5zM497 585l5-5l2 4zM526 583l-7 2l0-5zM547 579l-5 6l-2-5zl-6 4M576 576l-5 5l-2-4zl-16 7M605 581l-7 3l0-5zl-25 2M625 590l-7 0l1-4zl-26-7M638 592l-7-1l2-4zl-19-9M651 587l-7 0l1-5zl-13-4M668 582l-7 3l0-5zl-10 1M687 579l-5 5l-2-5zl-9 4M707 578l-5 5l-2-4zl-10 5M728 576l-5 6l-2-4zl-11 7M749 576l-5 5l-3-4zl-13 7M769 575l-5 6l-2-5zl-13 8M790 575l-5 5l-3-4zl-14 8M809 575l-5 5l-2-4zl-14 8M828 575l-5 6l-2-4zl-13 8M846 577l-5 5l-2-4zl-12 6M864 578l-6 5l-2-4zl-10 5M881 580l-6 5l-2-5zl-7 3M898 582l-6 3l-1-4zM918 582l-7 3l0-4zM940 581l-6 4l-1-5zl-8 2M967 580l-6 4l-1-5zl-15 3M991 585l-7 1l0-5zl-20-2M1005 588l-7 0l2-5zl-14-5M1015 586l-7-2l3-4zM1026 580l7 1l-2 5zM1046 579l7 3l-4 4zM1064 578l7 3l-3 4zl5 5M1085 579l7 3l-3 3zM1105 579l6 3l-3 4zM1133 583l-7 2l1-5zM1154 585l-8 0l2-5zM1178 585l-7 1l0-5zl-11-2M1203 583l-7 2l0-4zl-16 0M1228 583l-7 2l0-5zl-22 0M1249 585l-7 2l0-5zl-23-2M1264 587l-7 1l1-5zl-18-4M1277 585l-7 1l1-5zl-12-2M1292 582l-7 3l-1-5zl-7 1M1309 579l-4 6l-3-3zM1329 578l-4 7l-3-4zl-5 5M85 565l-7 1l1-4zl-15-3M105 570l-8-1l2-4zl-15-8M125 574l-7-2l3-4zl-15-12M145 576l-7-3l3-3zl-16-14M164 576l-7-3l4-3zl-15-14M183 574l-7-2l3-4zl-15-12M203 571l-8-1l3-5zl-15-9M223 567l-8 1l2-5zl-15-5M242 564l-7 2l1-5zl-15-2M262 562l-7 3l0-5zl-15 0M280 561l-6 3l-1-5zl-14 1M299 560l-7 4l-1-5zl-13 2M317 561l-7 3l-1-5zl-12 1M334 561l-7 4l-1-5zl-9 1M351 561l-7 4l-1-5zM369 560l-5 5l-2-4zM384 557l2 7l-5 0zM401 558l5 5l-4 2zM420 558l6 4l-4 3zM439 557l6 5l-4 2zl4 5M459 558l6 4l-4 3zM479 558l6 5l-4 2zM501 557l3 7l-5 0zM526 563l-7 2l1-5zM547 563l-7 2l0-5zl-6-1M573 562l-7 3l0-5zl-13 0M598 564l-8 2l1-5zl-18-2M616 568l-7 0l1-4zl-17-6M630 568l-8-1l2-4zl-11-6M643 564l-7 0l2-4zM658 557l2 7l-4 0zM675 558l6 5l-4 2zM692 557l7 4l-4 3zl5 5M710 557l7 3l-3 3zl7 5M729 557l7 2l-3 4zl7 5M748 557l8 2l-3 4zl8 5M768 558l8 2l-3 4zl8 4M789 558l7 2l-3 4zl6 4M809 558l7 3l-3 4zl6 4M830 559l7 2l-3 4zM850 559l7 3l-4 3zM870 558l6 4l-3 3zM890 558l6 5l-4 2zM911 557l4 7l-4 1zM934 558l0 7l-5-2zM957 558l-4 6l-3-3zl-5 4M978 559l-5 5l-2-4zl-7 3M996 560l-5 5l-2-4zM1012 557l0 8l-4-1zM1028 558l5 5l-4 2zM1046 559l7 3l-4 3zM1065 559l7 3l-3 3zM1085 559l7 3l-3 3zM1104 560l7 1l-2 4zM1133 564l-7 0l1-4zM1154 564l-7 1l1-5zl-6-2M1178 564l-7 1l1-4zl-11-2M1203 562l-7 3l0-5zl-16 0M1228 561l-7 3l-1-5zl-22 1M1249 561l-7 3l0-5zl-23 1M1267 562l-7 3l0-5zl-21 0M1283 562l-7 2l-1-4zl-18 0M1298 560l-6 4l-1-5zl-13 2M1315 560l-6 4l-1-5zl-11 2M1333 560l-6 4l-1-4zl-9 2M86 545l-7 1l0-5zl-16-3M104 547l-7 0l1-4zl-14-5M123 549l-8-1l3-4zl-13-7M142 549l-8-1l3-4zl-13-7M161 548l-8-1l3-4zl-12-6M180 546l-7 0l1-4zl-12-4M199 544l-7 1l1-4zl-11-2M218 543l-7 2l0-5zl-10-1M237 542l-7 2l0-4zl-10 0M256 541l-7 3l-1-4zl-9 1M274 541l-7 4l0-5zl-8 1M292 541l-6 4l-1-5zl-6 1M311 541l-7 4l-1-5zM330 540l-6 5l-2-4zM347 538l-1 7l-4-3zM365 537l1 7l-4 0zM383 536l3 7l-5 0zM403 535l3 7l-5 0zl0 7M423 535l2 7l-4 0zl0 7M444 536l1 7l-5-1zl-1 6M465 538l-2 7l-4-3zM487 540l-6 5l-2-4zM508 543l-8 2l1-5zM528 545l-7 0l2-5zl-7-3M549 546l-8-1l2-4zl-8-4M569 545l-7 0l1-4zl-9-3M588 544l-7 1l1-5zl-8-2M604 544l-7 0l1-5zM614 542l7-2l0 5zM632 540l7 0l-2 4zl6 2M646 538l8 0l-2 5zl12 4M662 538l7 0l-1 4zl16 4M679 539l7-1l-1 5zl18 3M696 541l7-2l0 5zl21 1M714 542l7-2l0 4zl22 0M734 543l7-3l0 5zl22-1M755 542l7-2l0 5zl21 0M777 541l7-2l0 5zl18 1M800 540l7-1l-1 4zl15 2M823 538l7 0l-2 5zl11 4M845 536l7 2l-2 4zl9 6M867 535l7 4l-4 3zl7 7M889 535l5 5l-4 2zl4 7M910 535l5 6l-5 2zl3 7M930 536l5 6l-5 2zl2 6M950 537l5 6l-5 2zM969 537l5 6l-4 2zM988 538l6 4l-4 3zM1006 539l7 2l-2 4zM1025 539l7 2l-2 4zM1044 539l8 2l-3 4zl6 3M1064 539l7 2l-3 4zl5 3M1085 539l7 2l-3 4zM1105 538l7 4l-4 3zM1130 538l0 7l-5-2zM1153 541l-6 4l-2-5zM1177 541l-7 3l0-4zl-10 1M1201 541l-6 3l-1-5zl-14 1M1226 541l-7 3l-1-5zl-20 1M1248 541l-7 3l0-5zl-22 1M1268 541l-7 3l0-5zl-22 1M1286 541l-7 2l0-4zl-21 1M1303 540l-7 3l-1-5zl-18 2M1319 539l-6 4l-1-5zl-15 3M1336 539l-6 4l-2-4zl-12 3M76 520l-6 5l-1-5zM95 522l-7 2l0-4zM115 523l-8 1l2-5zM135 524l-8 0l2-5zM155 524l-7 0l1-4zl-6-2M176 524l-8 1l1-5zl-8-2M196 523l-7 2l1-5zl-8-1M217 522l-7 2l0-4zl-9 0M236 522l-6 2l-1-4zl-9 0M256 521l-7 3l0-5zl-9 1M275 521l-7 3l0-5zl-9 1M293 520l-6 4l-1-4zl-7 2M312 520l-6 4l-2-4zl-7 2M330 519l-5 6l-2-4zM348 518l-2 7l-4-3zM366 517l0 7l-4-2zM385 516l1 7l-5-1zM405 516l1 7l-5-1zl-2 6M426 517l-1 7l-5-2zM447 518l-3 6l-4-3zM469 520l-6 4l-1-4zl-7 2M491 522l-6 2l-1-4zl-9 0M513 523l-7 2l0-5zl-12-1M534 524l-8 1l1-5zl-13-2M553 523l-7 2l0-5zl-12-1M571 522l-7 3l1-5zl-11 0M588 521l-6 3l-1-5zl-8 1M604 520l-5 5l-2-4zM617 517l5 6l-5 1zM632 519l7 1l-1 4zl6 3M646 520l7-1l0 5zl12 2M660 522l7-2l0 4zl18 0M675 524l6-3l1 5zl22-2M690 525l7-3l0 5zl27-3M706 526l7-3l1 4zl30-4M724 525l7-3l1 5zl32-3M744 523l7-3l1 5zl32-1M766 520l7-2l0 5zl29 2M789 518l8-2l-1 5zl26 4M813 515l7 0l-1 5zl21 7M837 514l7 1l-2 4zl17 8M860 514l7 1l-2 4zl14 8M882 515l7 2l-2 4zl11 7M904 516l7 2l-3 4zl9 6M925 518l8 1l-3 5zl7 4M947 519l7 2l-2 4zM967 519l7 2l-3 4zM990 517l4 6l-5 1zM1013 518l-1 7l-4-3zM1035 517l-3 6l-3-3zl-5 5M1058 516l-4 6l-3-4zl-8 6M1079 515l-4 6l-3-4zl-10 7M1100 516l-5 6l-2-5zl-11 6M1120 517l-5 5l-2-4zl-11 5M1140 519l-6 4l-1-4zl-12 3M1161 521l-7 3l0-5zl-13 1M1182 523l-8 2l1-5zl-15-1M1202 523l-7 2l1-5zl-15-1M1223 522l-7 3l0-5zl-17 0M1244 521l-7 3l0-5zl-18 1M1263 519l-7 4l0-5zl-17 3M1281 518l-6 4l-2-5zl-16 4M1298 516l-6 5l-1-4zl-13 6M1314 516l-4 6l-3-4zl-10 6M1330 516l-3 7l-3-4zl-6 6M69 497l4 6l-4 1zM93 497l-2 8l-4-3zM115 503l-8 1l1-5zM135 504l-7 0l1-5zl-6-2M158 504l-8 1l1-5zl-9-2M180 503l-8 2l1-5zl-12-1M201 502l-7 2l0-4zl-13 0M221 501l-6 3l-1-5zl-13 1M241 500l-7 3l0-4zl-14 2M259 499l-6 4l-1-5zl-12 3M277 499l-6 4l-1-4zl-11 3M294 500l-6 4l-1-5zl-8 2M310 500l-5 5l-2-5zM329 498l-4 7l-3-4zM342 498l6 4l-4 3zM360 499l7 2l-2 4zM379 499l7 2l-2 4zM399 499l7 2l-3 4zM420 498l6 4l-4 3zM443 497l2 7l-5-1zM467 499l-5 6l-3-4zM491 499l-6 4l-2-4zl-9 3M514 499l-6 4l-1-5zl-13 3M537 500l-7 3l0-5zl-16 2M558 500l-7 3l0-5zl-17 2M578 500l-7 3l-1-5zl-18 2M595 500l-6 3l-1-5zl-15 2M612 500l-7 4l-1-5zl-13 2M626 501l-6 3l-1-5zl-7 1M644 503l-8 1l1-5zM653 503l6-4l1 5zM665 505l6-4l1 4zl13-3M677 505l6-3l1 5zl20-3M689 506l7-4l1 5zl28-4M703 505l7-3l0 5zl33-3M719 503l7-2l0 4zl37-1M737 501l7-2l0 5zl39 1M758 499l7-2l0 5zl37 3M781 497l7-1l-1 4zl34 5M805 496l8-1l-1 5zl29 6M830 496l8-1l-1 5zl24 6M856 496l7 0l-2 5zl18 6M880 497l8 0l-2 5zl13 5M905 498l7 1l-2 4zl8 4M928 498l7 3l-3 4zM955 498l-3 7l-3-4zM980 498l-5 5l-2-4zl-9 4M1007 497l-6 4l-2-4zl-16 5M1033 496l-6 4l-1-5zl-22 6M1059 495l-7 4l-1-5zl-29 7M1083 495l-7 4l-1-5zl-33 7M1104 496l-6 3l-1-4zl-35 6M1124 497l-7 4l-1-5zl-35 5M1141 500l-7 3l0-5zl-32 2M1156 502l-7 2l0-5zl-28 0M1172 503l-7 2l0-5zl-24-1M1187 503l-7 2l1-5zl-20-1M1204 502l-7 2l0-4zl-17 0M1221 500l-6 3l-1-4zl-15 2M1239 498l-6 4l-1-4zl-13 4M1258 496l-6 6l-2-5zl-12 6M1276 496l-5 5l-2-4zl-11 6M1294 496l-5 6l-2-4zl-9 6M1312 497l-5 6l-2-4zl-8 5M1329 500l-5 5l-2-5zM75 479l-5 6l-2-5zM96 482l-7 2l1-5zl-6 0M119 483l-7 1l1-4zl-9-1M141 483l-7 2l1-5zl-12-1M163 483l-7 1l0-4zl-14-1M183 481l-7 3l0-5zl-15 1M203 480l-7 3l0-5zl-15 2M221 479l-6 4l-1-5zl-13 3M239 479l-6 4l-1-5zl-12 3M256 480l-7 4l0-5zl-9 2M272 482l-7 2l0-5zM290 485l-7-3l3-3zM303 486l1-7l4 2zM320 485l4-6l3 4zM337 484l6-4l2 4zl8-2M355 483l7-4l1 5zl9-1M375 480l7-1l0 5zl9 2M396 478l7 1l-2 4zl7 4M418 476l7 4l-4 3zl5 6M441 475l4 7l-5 0zl2 7M465 475l-1 7l-4-2zl-3 7M490 476l-5 6l-3-4zl-8 6M513 477l-5 5l-2-5zl-12 5M536 479l-6 3l-1-4zl-15 3M557 480l-6 3l-1-5zl-16 2M577 481l-7 3l0-5zl-17 1M595 482l-7 2l0-5zl-15 0M612 482l-7 2l0-5zl-13 0M627 482l-7 2l0-5zl-8 0M644 482l-8 2l1-5zM653 483l6-4l1 5zM668 483l7-3l0 4zl10-1M681 483l7-3l0 5zl16-1M695 483l6-3l1 5zl22-1M710 483l6-2l1 4zl26-1M727 483l6-3l1 5zl29-1M746 482l7-3l0 5zl30 0M767 481l7-2l0 4zl28 1M791 479l7-1l-1 4zl24 3M815 478l8-1l-1 5zl19 4M841 478l7-1l-1 5zl13 4M866 478l8 1l-3 4zl8 4M891 477l5 6l-5 1zM917 478l-4 6l-3-3zM942 478l-6 5l-1-5zl-10 4M967 478l-6 4l-1-5zl-15 4M993 477l-6 4l-1-5zl-22 5M1019 477l-6 4l-1-5zl-28 5M1045 477l-7 3l0-4zl-34 5M1070 477l-7 3l0-4zl-40 5M1093 478l-7 3l-1-5zl-43 4M1113 479l-7 3l0-5zl-44 3M1130 480l-6 3l-1-5zl-41 2M1146 481l-7 2l0-4zl-37 1M1160 481l-7 3l0-5zl-32 1M1175 481l-7 3l-1-5zl-27 1M1190 481l-7 2l-1-5zl-23 1M1206 479l-7 4l0-5zl-19 3M1224 478l-7 4l-1-5zl-18 4M1243 478l-7 4l-1-5zl-17 4M1262 478l-6 4l-1-5zl-16 4M1282 479l-7 3l-1-4zl-17 3M1301 481l-7 3l0-5zl-16 1M1320 484l-7 1l1-4zl-16-2M1339 487l-8 0l2-5zl-15-5M78 460l-7 4l0-5zl-8 1M99 461l-7 3l0-5zl-9 0M120 461l-7 3l0-5zl-10 0M140 460l-7 3l0-4zl-11 1M159 460l-6 3l-1-5zl-10 1M178 459l-6 4l-1-5zl-10 2M197 460l-6 3l-1-4zl-9 1M215 461l-7 3l0-5zl-7 0M233 463l-8 0l1-4zM250 465l-6-3l3-4zM268 467l-4-6l4-1zM285 468l-2-7l5 0zl1-7M304 468l-1-7l5 1zl1-7M322 467l1-8l5 3zM341 465l3-7l4 4zM359 460l8-1l-2 5zM382 457l5 5l-5 2zM403 455l3 7l-5 0zl0 6M425 454l1 7l-5-1zl-2 7M447 453l-1 8l-5-3zl-4 8M469 455l-3 6l-4-3zl-7 6M491 456l-5 6l-2-4zl-9 5M512 458l-6 5l-1-5zl-11 3M533 460l-7 3l-1-5zl-12 1M552 460l-7 3l0-4zl-11 1M571 460l-7 3l0-4zl-11 1M589 460l-7 3l-1-4zl-9 1M605 459l-5 5l-2-5zl-6 2M623 458l-4 6l-3-3zM638 456l3 7l-5 0zM653 459l8 1l-2 4zM671 461l7-2l-1 5zl7 0M687 463l7-4l1 5zl10-2M705 464l6-4l2 5zl12-3M724 465l6-4l1 4zl12-4M744 465l6-4l1 4zl12-4M765 464l6-4l1 4zl11-3M787 462l7-3l0 5zl8-1M810 459l7 1l-2 4zM833 456l4 7l-5 1zM857 456l-2 8l-4-3zM880 456l-4 6l-3-3zl-6 5M903 457l-6 5l-2-4zl-10 4M925 458l-6 4l-1-5zl-12 3M947 459l-6 3l-1-4zl-15 2M969 460l-6 3l-1-5zl-17 1M992 461l-7 2l0-4zl-21 0M1015 461l-7 2l-1-4zl-24 0M1037 460l-7 3l0-5zl-26 1M1060 460l-7 3l0-5zl-30 1M1081 459l-6 3l-1-5zl-31 2M1102 458l-7 3l0-4zl-33 3M1121 458l-7 3l0-4zl-32 3M1139 458l-7 3l0-4zl-30 3M1157 459l-7 3l0-5zl-29 2M1175 459l-7 3l0-5zl-27 2M1193 459l-6 3l-1-4zl-26 2M1213 460l-7 3l0-5zl-26 1M1233 461l-7 2l-1-4zl-27 0M1253 462l-7 2l0-5zl-27-1M1273 463l-7 2l0-5zl-27-2M1292 465l-7 2l1-5zl-27-4M1311 467l-7 1l1-5zl-26-6M1329 469l-8 0l2-4zl-25-8M1345 471l-7-1l2-4zl-21-10M75 438l-4 6l-3-4zM95 438l-4 5l-3-4zl-5 3M115 438l-4 5l-3-4zl-5 3M135 439l-6 5l-2-5zM154 440l-6 4l-1-5zM174 441l-7 2l0-4zM194 443l-7 0l1-4zl-6-2M214 445l-7-2l2-4zl-6-4M234 446l-7-2l3-4zl-7-5M253 448l-6-3l3-4zl-6-7M273 448l-7-3l4-3zl-7-7M292 448l-6-4l3-3zl-6-7M312 446l-7-2l3-4zl-7-5M333 443l-8 1l2-5zl-8-2M353 440l-7 3l0-4zl-8 1M373 437l-6 5l-2-4zl-9 4M391 435l-4 6l-3-3zl-7 6M410 434l-3 7l-3-4zl-7 7M429 434l-3 7l-3-3zl-6 7M449 435l-3 6l-4-3zl-6 6M469 436l-4 6l-3-4zl-7 5M489 437l-5 6l-3-4zl-7 4M508 438l-5 5l-2-4zl-7 3M528 438l-5 5l-2-4zl-7 3M547 437l-5 6l-2-4zl-6 4M566 436l-4 7l-3-4zl-6 5M585 436l-3 6l-4-3zl-5 5M603 436l-2 7l-4-3zl-4 5M622 436l-2 8l-4-3zM641 436l-1 8l-4-2zM660 436l0 8l-5-2zM675 446l1-8l5 3zM695 446l1-7l4 2zM715 446l0-7l5 1zM734 446l1-7l4 1zM754 446l1-7l4 2zM772 445l3-7l3 4zM797 436l0 8l-5-2zM817 437l-1 7l-4-3zM838 436l-2 7l-4-3zl-4 5M859 436l-3 7l-3-4zl-5 5M880 437l-5 6l-2-4zl-6 4M901 439l-7 4l-1-4zl-8 2M921 442l-7 2l0-5zl-8-1M942 443l-8 1l1-5zl-10-2M962 444l-7 1l1-5zl-10-3M984 443l-8 2l1-5zl-13-2M1005 442l-7 2l0-5zl-14-1M1027 440l-7 3l0-5zl-16 1M1049 438l-7 3l0-4zl-19 3M1071 436l-6 4l-2-5zl-21 5M1093 435l-7 4l-1-4zl-24 6M1114 436l-6 4l-1-5zl-25 5M1135 437l-7 3l0-4zl-26 4M1156 439l-7 3l0-5zl-28 2M1176 441l-7 2l0-5zl-28 0M1197 442l-7 2l0-4zl-30-1M1217 444l-7 1l0-4zl-30-3M1237 444l-8 2l1-5zl-31-3M1256 445l-7 2l0-5zl-30-4M1274 446l-7 1l1-4zl-28-5M1292 448l-7 0l1-4zl-27-7M1309 450l-7 0l1-5zl-24-9M1326 452l-7-1l2-4zl-22-11M1343 453l-8-2l3-4zl-19-12M73 416l-1 8l-4-2zM96 418l-5 5l-2-4zl-6 3M118 417l-5 5l-2-4zl-8 4M138 419l-7 4l-1-5zl-9 2M157 421l-7 2l0-4zl-8 0M177 423l-7 1l1-5zl-9-2M197 424l-7 0l1-5zl-9-3M217 425l-7-1l1-4zl-9-4M237 425l-7 0l2-5zl-10-4M257 426l-7-1l2-4zl-10-5M277 425l-7 0l2-4zl-11-4M298 424l-7 1l1-5zl-12-3M321 422l-8 2l1-5zl-16-1M344 419l-6 3l-1-5zl-19 2M367 416l-6 4l-1-5zl-22 5M386 413l-5 5l-2-5zl-22 8M402 412l-6 5l-2-4zl-18 9M415 412l-4 6l-3-3zl-12 9M430 413l-3 7l-3-3zl-7 8M447 413l-1 8l-5-3zl-4 8M466 414l-1 7l-4-2zl-4 7M487 414l-2 7l-4-3zl-5 7M508 414l-3 7l-4-3zl-7 7M529 414l-4 7l-3-4zl-8 7M549 415l-4 6l-3-4zl-8 6M569 415l-5 6l-2-4zl-9 6M588 416l-4 5l-3-4zl-8 5M607 417l-5 5l-2-4zl-8 4M625 418l-5 5l-2-4zl-6 3M643 419l-6 5l-1-5zM663 421l-7 2l0-5zM680 426l-5-5l4-3zM694 425l2-7l4 3zM712 424l5-6l3 4zM731 422l7-4l0 5zM751 420l7-1l-1 5zM770 418l8 1l-2 5zM790 417l7 3l-2 3zM811 417l7 3l-4 4zM831 417l6 4l-3 3zM851 417l6 4l-4 3zM878 424l-7-2l2-4zM897 424l-7-2l3-4zM917 425l-7-3l3-4zM939 425l-7-2l2-4zl-7-4M960 423l-7 1l1-5zl-8-2M982 421l-7 2l0-4zl-11 0M1004 419l-7 3l-1-5zl-13 2M1025 416l-6 5l-1-5zl-14 5M1046 414l-5 5l-2-4zl-16 7M1068 414l-6 5l-2-5zl-18 7M1088 415l-5 4l-2-5zl-19 6M1109 416l-6 4l-1-5zl-20 5M1130 418l-7 4l-1-5zl-21 3M1150 420l-7 3l0-5zl-22 1M1170 422l-7 2l0-5zl-22-1M1190 423l-7 2l0-5zl-23-2M1209 423l-7 2l1-5zl-22-2M1229 424l-8 1l1-5zl-23-3M1247 424l-7 1l1-4zl-21-3M1266 425l-8 1l1-5zl-20-4M1284 427l-8 0l2-4zl-19-6M1301 431l-7-1l3-5zl-16-10M1320 436l-7-3l4-4zl-16-15M1340 438l-6-3l3-4zl-16-17M74 404l-6-3l3-3zM100 401l-7 2l0-5zl-10 0M125 396l-6 5l-1-5zl-15 5M144 395l-6 5l-1-5zl-15 6M161 397l-6 5l-2-5zl-12 4M178 399l-7 3l-1-4zl-10 2M193 398l-5 5l-2-4zM209 396l0 7l-4-1zM226 406l-1-7l5 0zM250 405l-6-4l4-3zM272 405l-7-2l3-4zl-6-4M296 404l-8 0l2-5zl-10-3M323 401l-7 2l0-4zl-18 0M352 396l-7 4l0-5zl-27 5M379 391l-6 4l-1-4zl-34 10M400 388l-6 4l-1-4zl-36 13M413 387l-5 5l-2-5zl-29 14M423 387l-4 6l-3-4zl-20 14M435 388l-3 7l-4-3zl-12 13M451 390l-3 7l-3-3zl-8 11M470 391l-3 7l-4-3zl-8 10M490 393l-3 6l-3-3zl-8 8M511 394l-4 6l-3-4zl-10 7M531 396l-5 5l-2-4zl-10 5M551 397l-6 4l-1-4zl-10 4M569 397l-5 5l-2-5zl-9 4M587 397l-5 5l-2-4zl-7 4M604 398l-4 5l-3-4zM621 396l-1 7l-4-2zM636 396l5 5l-4 2zM653 398l7 1l-2 4zM670 399l7-1l-1 5zl8 2M687 399l7-1l0 5zl10 2M705 400l7-2l0 5zl12 1M724 400l7-2l0 5zl12 1M744 400l7-2l0 5zl12 1M764 400l7-2l0 5zl12 1M786 400l7-2l-1 5zl9 1M808 401l7-3l0 5zl7 0M829 402l7-4l0 5zM855 406l-4-7l5 0zM878 403l-7-1l2-4zM898 403l-7-1l1-4zM919 402l-7 1l1-5zl-6-1M939 401l-7 2l0-5zl-7 0M956 398l-4 6l-3-4zM968 396l6 5l-3 3zM994 397l-2 7l-4-3zM1019 395l-5 6l-2-4zl-8 6M1039 394l-4 6l-3-4zl-9 7M1058 394l-4 6l-3-3zl-8 7M1077 395l-4 6l-3-4zl-8 6M1097 396l-5 6l-2-4zl-8 5M1116 397l-5 5l-2-4zl-7 4M1137 398l-7 5l-1-5zl-9 3M1157 399l-7 4l0-5zl-9 2M1178 400l-7 3l-1-5zl-11 1M1199 400l-7 3l-1-5zl-12 1M1219 401l-7 2l0-5zl-13 0M1240 402l-7 2l0-5zl-14-1M1260 405l-7 0l1-4zl-14-4M1280 408l-7-1l2-4zl-15-7M1299 413l-7-2l4-4zl-14-12M1319 419l-6-4l4-3zl-15-18M1342 422l-6-3l4-4zl-18-21M64 385l4-6l3 4zl6-5M94 383l-7-1l3-4zM121 374l-5 5l-2-4zl-11 6M142 368l-4 7l-3-3zl-13 12M156 370l-2 7l-4-3zl-7 10M170 372l1 7l-5-1zl-2 8M180 371l7 4l-4 3zl8 9M188 376l8-1l-2 5zl20 4M206 387l6-4l2 4zl21-7M237 391l3-7l4 3zl10-11M267 388l-3-6l5-1zl-1-8M295 386l-8-2l3-4zl-9-6M323 382l-7 2l1-5zl-18-2M352 377l-6 3l-1-4zl-27 3M379 371l-6 4l-2-4zl-34 9M399 366l-6 5l-2-4zl-35 14M413 365l-5 5l-3-4zl-29 15M424 366l-4 6l-3-4zl-21 14M437 368l-4 6l-3-3zl-14 12M453 371l-4 6l-3-3zl-10 9M471 374l-4 6l-3-4zl-9 6M489 376l-4 6l-3-5zl-7 4M508 378l-5 5l-2-5zl-7 2M526 379l-6 4l-1-4zM545 378l-5 5l-2-4zM561 375l1 8l-5-1zM577 376l6 5l-5 2zM594 375l7 3l-4 4zl5 5M611 375l7 2l-3 4zl8 5M629 375l8 1l-3 5zl9 5M649 376l7 1l-2 4zl9 4M670 378l7 0l-1 4zl8 2M692 380l7-2l-1 5zM712 382l6-4l1 4zM739 385l-6-5l4-2zM761 383l-8-1l3-4zM781 382l-8 0l2-4zM800 381l-7 2l1-5zM820 381l-7 2l1-5zM843 381l-7 2l0-5zl-9-1M865 380l-6 3l-1-5zl-11 0M884 378l-7 4l-1-5zl-10 2M900 379l-6 4l-2-5zl-7 1M918 379l-6 4l-2-4zM930 374l5 6l-5 1zl2 6M921 360l7 2l-2 4zl31 20M908 375l7-2l0 5zl63 5M951 395l6-5l2 5zl40-15M1000 381l7-3l0 5zl11-1M1025 373l6 5l-4 2zl5 7M1044 372l6 4l-4 3zl6 8M1064 372l6 4l-4 3zl5 8M1084 372l6 5l-4 2zl5 8M1106 373l4 6l-4 1zl3 7M1128 374l3 7l-5 0zl0 6M1150 376l-1 7l-4-2zM1173 377l-5 6l-2-4zl-6 3M1196 379l-7 3l-1-4zl-9 1M1218 381l-7 2l0-5zl-12-1M1240 382l-8 2l1-5zl-14-2M1260 384l-8 1l2-5zl-14-4M1278 387l-7-1l2-4zl-13-7M1296 391l-7-3l4-4zl-11-11M1315 397l-6-5l4-3zl-11-17M1337 401l-6-5l4-3zl-13-21M41 364l7-3l1 5zl29-4M72 366l6-5l2 5zl18-6M107 356l6 4l-4 3zM135 346l-1 7l-4-2zl-6 14M153 345l0 7l-4-1zl-4 15M167 347l3 7l-5 1zl1 13M179 344l5 5l-4 2zl9 16M186 349l7 1l-2 4zl22 11M202 371l6-5l2 4zl25-11M235 379l2-8l4 3zl12-19M271 371l-5-5l4-2zl-5-11M301 367l-7-1l1-4zl-15-7M329 363l-7 2l1-5zl-24-3M355 358l-6 3l-1-5zl-30 2M377 352l-6 4l-1-5zl-32 8M394 348l-5 5l-2-5zl-30 12M408 346l-5 6l-2-4zl-24 14M421 348l-5 6l-3-4zl-18 12M435 351l-4 6l-3-3zl-12 9M450 355l-4 6l-3-4zl-7 5M467 357l-4 6l-3-4zM486 358l-5 5l-2-4zM505 357l-3 6l-4-3zM519 355l5 6l-5 2zM538 356l5 4l-4 3zM557 355l6 5l-4 3zM576 354l6 5l-4 2zl4 6M595 354l6 4l-4 3zl4 6M615 354l6 5l-4 3zl4 6M637 355l4 6l-4 2zM662 357l-4 6l-3-4zM686 361l-7 2l0-5zl-8-1M712 362l-7 2l0-5zl-15-2M738 363l-8 2l1-5zl-21-3M762 363l-8 1l1-4zl-26-3M783 361l-8 2l1-4zl-27-1M800 360l-7 2l0-5zl-24 0M816 359l-6 3l-1-5zl-21 1M833 360l-7 3l0-5zl-18 0M855 362l-8 2l1-5zl-21-2M876 359l-7 3l0-5zl-22 1M889 354l-6 5l-2-5zl-15 6M897 355l-2 7l-4-3zM908 358l7 1l-2 4zM931 354l4 7l-5 1zM975 341l-4 6l-3-3zl-23 19M1023 354l-7 3l-1-5zl-52 6M1017 371l-7-1l1-4zl-26-11M1006 357l7 2l-3 4zM1020 349l6 3l-3 3zl10 11M1040 347l6 4l-4 3zl10 13M1061 348l6 4l-4 3zl8 12M1082 349l6 5l-4 2zl7 11M1104 351l6 6l-5 2zl5 9M1127 354l4 6l-5 1zl1 6M1150 356l-1 7l-4-2zM1173 358l-6 5l-2-5zM1195 359l-6 3l-1-4zl-8 1M1216 359l-7 3l0-4zl-10 1M1235 359l-6 3l-1-4zl-9 1M1253 358l-7 5l-1-5zl-7 2M1270 357l-5 6l-3-4zM1280 363l5-6l3 5zM1298 369l2-7l4 3zl6-9M1318 377l0-8l5 2zl6-17M22 348l6-4l1 5zl48-8M55 355l5-5l2 5zl35-15M96 347l5-5l2 4zl14-7M134 331l-1 7l-4-2zl-5 9M159 323l-1 7l-5-2zl-10 17M176 323l-1 7l-4-2zl-8 17M193 317l1 8l-5-1zl-5 23M208 320l3 7l-5 0zl0 20M223 347l2-7l4 2zl4-7M244 361l-1-7l4 0zl3-21M271 354l-5-6l5-2zl-5-14M296 348l-7-2l3-4zl-10-8M321 346l-8-1l2-4zl-16-6M343 341l-7 2l1-5zl-18-1M364 335l-6 4l-2-5zl-19 5M382 330l-5 5l-2-4zl-18 10M400 329l-4 6l-3-4zl-16 11M419 331l-5 5l-3-4zl-16 9M438 333l-5 5l-2-4zl-15 7M458 335l-6 5l-1-5zl-15 5M476 337l-6 4l-1-5zl-14 3M494 337l-6 4l-1-5zl-12 3M512 337l-6 4l-1-4zl-11 3M531 337l-6 4l-1-4zl-10 3M551 337l-6 4l-1-4zl-10 3M572 337l-6 4l-1-5zl-12 3M593 336l-6 5l-1-5zl-13 4M614 337l-7 4l0-5zl-15 3M635 338l-7 3l0-4zl-16 2M656 340l-7 2l0-4zl-18 0M678 341l-7 2l0-4zl-20-1M700 342l-7 2l0-5zl-22-2M722 342l-7 2l0-5zl-25-2M743 341l-7 2l0-4zl-26-1M763 340l-7 2l0-5zl-27 0M781 338l-7 3l0-5zl-25 2M798 336l-7 4l-1-5zl-22 4M813 337l-6 4l-1-5zl-18 3M832 342l-8 2l1-5zl-17-2M855 348l-7 0l2-5zl-21-8M879 341l-7 2l0-5zl-25-1M891 329l-4 6l-3-4zl-17 11M899 330l-2 7l-4-2zl-6 10M911 335l5 6l-5 1zM929 336l6 4l-4 3zM954 334l0 7l-5-1zl-2 6M978 331l-2 7l-4-3zl-7 9M994 329l0 8l-4-1zl-3 11M1008 327l4 6l-5 1zl3 13M1026 326l4 6l-4 1zl4 14M1045 326l5 6l-5 2zl5 14M1064 328l5 6l-4 2zl5 12M1084 331l5 5l-4 2zl5 9M1104 334l6 4l-4 3zl5 6M1125 336l6 4l-4 3zM1145 335l6 6l-5 2zM1168 335l2 7l-5 0zM1189 335l0 8l-5-2zM1209 333l0 8l-5-2zl-3 7M1226 330l3 7l-5 0zl0 10M1241 328l5 6l-5 1zl5 12M1253 328l7 3l-4 4zl12 12M1265 333l7 0l-2 4zl20 7M1280 343l6-3l1 5zl24-3M1301 357l5-6l3 4zl23-17M16 334l6-4l2 5zl54-14M49 347l5-6l2 4zl41-27M91 341l3-7l3 3zl19-21M134 319l-6 4l-1-5zM166 301l-3 7l-3-3zl-17 19M185 296l-2 7l-4-2zl-17 24M202 293l-1 8l-4-3zl-14 27M225 296l-2 7l-4-3zl-17 24M241 320l-7 2l0-5zl-14 0M248 337l-3-7l5 0zl-1-17M259 334l1-7l4 2zl7-14M275 331l3-7l3 4zl11-11M292 329l4-6l3 4zl13-9M311 325l6-5l1 5zl14-5M332 318l8-1l-1 5zl13 2M357 313l7 3l-4 4zl7 7M384 312l2 7l-5 0zl0 8M413 313l-4 6l-3-4zl-10 7M442 315l-6 4l-1-5zl-19 5M468 315l-7 4l-1-5zl-25 5M490 315l-7 3l-1-4zl-28 5M509 316l-7 3l-1-5zl-27 4M527 317l-7 3l0-4zl-26 3M546 319l-7 3l0-5zl-25 1M566 321l-7 2l1-5zl-25-1M587 321l-7 2l0-5zl-27-1M607 321l-7 2l1-5zl-27-1M628 320l-8 3l1-5zl-29 0M647 321l-7 2l0-5zl-28-1M667 321l-7 2l0-5zl-29-1M686 321l-7 2l1-4zl-28-1M706 321l-7 2l0-4zl-28-1M726 321l-7 2l0-5zl-29-1M745 320l-7 2l0-4zl-28 0M764 318l-7 3l0-5zl-28 2M782 317l-6 3l-1-5zl-26 3M800 316l-7 3l-1-5zl-24 4M817 317l-7 3l-1-5zl-22 3M835 324l-8 1l1-5zl-20-4M856 331l-8-1l3-4zl-22-11M876 320l-7 2l0-5zl-22 0M892 301l-3 7l-4-4zl-18 19M906 302l-2 7l-4-3zl-13 18M923 311l-4 6l-3-3zl-10 9M942 314l-5 6l-2-5zl-10 6M962 313l-4 6l-3-4zl-10 7M982 311l-4 6l-3-3zl-11 9M1001 309l-3 7l-4-3zl-10 11M1018 308l-2 8l-4-3zl-7 12M1034 308l0 8l-5-2zl-4 12M1050 310l2 7l-5 0zl0 10M1066 312l5 5l-5 2zl3 8M1083 313l6 4l-3 3zl6 7M1101 315l7 2l-3 4zl8 5M1121 315l7 2l-3 4zl7 5M1142 315l7 3l-3 3zl6 5M1164 313l5 6l-4 2zl3 7M1187 311l2 7l-5 0zl0 9M1208 308l1 7l-4-1zl-2 12M1226 303l2 7l-4 0zl0 17M1240 300l4 6l-5 1zl6 20M1250 299l6 5l-4 2zl15 21M1260 306l7 1l-2 4zl25 14M1274 320l7-3l0 5zl30 0M1296 338l4-6l3 4zl28-18M24 318l6-5l2 4zl46-18M52 334l4-7l3 4zl38-34M88 332l2-7l4 3zl22-32M131 310l-3-6l4-1zl-2-10M171 284l-4 6l-3-4zl-22 16M193 272l-2 6l-4-3zl-25 28M204 272l-1 8l-4-3zl-16 28M222 280l-3 7l-3-3zl-14 20M239 296l-6 4l-2-4zl-12 4M246 309l-2-7l5 1zl1-9M252 310l4-6l3 4zl14-10M262 309l6-5l2 5zl24-9M276 307l6-4l1 5zl29-7M292 303l7-3l1 5zl33-3M313 299l7-3l0 5zl32 1M338 296l7-2l-1 5zl26 4M366 296l7-1l-1 5zl18 4M394 298l7-1l-1 5zl9 2M418 299l7-2l-1 5zM448 298l-6 4l-2-4zM470 298l-7 4l-1-5zl-8 2M492 298l-7 4l0-5zl-10 2M513 300l-7 2l1-4zl-12 0M534 302l-7 1l1-4zl-13-2M554 303l-7 1l1-5zl-13-3M573 302l-7 1l1-5zl-13-2M592 301l-7 2l1-5zl-12-1M611 300l-7 2l0-5zl-12 0M629 300l-7 2l0-5zl-10 0M648 300l-7 2l0-5zl-10 0M667 302l-7 0l1-4zl-9-2M687 303l-8 0l2-5zl-9-3M707 303l-8 0l2-5zl-10-3M727 302l-7 1l1-5zl-10-2M748 300l-7 2l0-5zl-12 0M769 297l-7 4l-1-5zl-13 3M789 295l-6 4l-1-4zl-13 5M809 294l-5 5l-2-5zl-14 6M828 300l-7 2l0-5zl-13 0M843 306l-7-2l3-4zl-9-6M859 295l-4 7l-3-4zl-5 5M879 278l0 7l-4-1zl-5 22M901 281l0 7l-5-2zl-8 19M923 292l-4 6l-3-4zl-10 8M942 297l-6 4l-1-5zl-10 3M962 298l-7 3l0-4zl-10 2M981 297l-6 4l-2-4zl-10 3M999 295l-5 6l-2-4zl-8 5M1016 293l-3 7l-4-3zl-5 7M1032 292l1 7l-5-1zl-2 8M1048 291l4 7l-5 1zl2 9M1064 292l6 4l-4 3zl5 8M1082 293l7 3l-3 3zl7 7M1102 294l7 3l-3 3zl7 6M1124 294l6 4l-4 3zl4 6M1147 294l3 7l-5 0zM1172 293l-2 7l-4-2zl-5 7M1196 291l-4 7l-3-4zl-9 9M1218 287l-3 6l-3-3zl-12 13M1237 280l-1 7l-5-2zl-11 20M1250 273l2 7l-5-1zl-4 27M1260 270l3 7l-4 1zl5 30M1268 277l6 5l-4 3zl17 23M1281 295l7-1l-1 5zl23 5M1300 317l4-6l3 4zl24-17M48 297l4-6l3 4zl22-18M70 316l1-7l4 2zl20-37M95 321l0-7l5 2zl15-42M132 308l-3-7l5-1zl-3-29M175 277l-7 3l0-5zl-26 2M201 250l-4 6l-3-3zl-33 29M208 247l-2 8l-4-3zl-20 32M217 261l-1 7l-4-2zl-9 18M233 274l-3 6l-4-3zl-6 5M243 283l3-7l4 4zM256 283l6-5l2 5zl10-4M269 282l7-4l0 5zl17-3M283 281l7-3l0 5zl22-2M299 279l7-2l0 4zl26 0M317 277l7-2l0 5zl28 2M337 278l7-2l0 4zl27 1M358 280l7-3l0 5zl26-1M377 282l7-3l1 5zl26-3M397 284l7-4l0 5zl26-5M418 283l6-3l1 5zl25-4M441 282l7-3l0 5zl21-3M465 282l7-4l0 5zl17-3M489 282l6-4l1 5zl12-3M512 282l6-4l1 4zl9-3M533 281l6-4l1 5zl8-2M552 280l7-3l1 5zl8-1M571 279l7-2l0 5zl9 0M590 279l7-2l0 5zl9 0M608 281l7-4l0 5zl11-2M626 282l7-4l1 5zl12-3M645 284l5-4l2 4zl13-5M663 285l6-5l2 5zl15-6M683 285l5-5l2 5zl14-6M703 283l6-4l1 5zl14-4M724 280l7-3l0 5zl12-1M747 276l7 0l-2 5zl9 3M770 273l6 3l-4 3zl6 6M793 271l4 6l-5 2zl2 8M813 275l5 5l-5 2zM827 280l7-3l0 5zl7-1M841 274l7 0l-2 5zl13 5M862 265l6 4l-4 3zl12 14M887 270l5 4l-4 3zl6 9M907 279l7-2l0 5zM926 284l4-6l3 4zl6-5M943 285l5-6l2 4zl9-6M961 283l6-5l2 5zl10-4M980 280l7-3l0 5zl11-1M999 276l8 0l-2 4zl12 3M1019 274l8 1l-3 4zl11 5M1040 272l7 3l-3 3zl10 7M1061 273l7 2l-3 4zl8 6M1083 274l7 3l-3 4zl6 5M1105 276l6 3l-3 3zM1131 275l-2 7l-4-2zM1154 279l-7 3l0-5zl-6 0M1180 277l-7 4l-1-5zl-13 2M1204 273l-6 5l-1-5zl-17 6M1227 267l-5 5l-3-4zl-21 12M1246 256l-3 7l-3-3zl-20 23M1262 246l-1 7l-4-2zl-16 33M1274 241l1 7l-5-1zl-9 38M1286 249l2 7l-5 0zl-1 30M1299 270l6 5l-4 2zl5 9M1316 297l1-7l4 2zl8-18M90 276l-7-3l3-3zl-20-17M104 295l-5-6l5-1zl-14-36M117 305l-4-7l5-1zl-7-46M134 300l-3-7l5-1zl-5-41M160 269l-7-3l3-3zl-11-10M183 229l-1 7l-4-2zl-15 30M198 219l1 8l-5-1zl-10 40M211 236l1 7l-5-1zl-3 23M226 250l3 6l-5 1zl1 9M241 256l7 1l-2 4zl6 3M257 257l7-1l-1 5zl9 2M273 258l7-2l0 5zl13 1M290 258l7-2l-1 5zl15 1M307 258l7-2l0 5zl18 1M325 259l7-3l0 5zl20 0M345 259l7-2l0 5zl19 0M365 261l6-3l1 4zl19-2M384 262l6-4l1 5zl19-3M403 262l6-3l1 5zl20-3M423 262l7-3l1 4zl20-3M446 262l6-4l1 5zl16-3M469 261l7-3l1 5zl13-2M493 261l6-4l1 5zl8-2M516 261l6-5l1 5zM536 262l4-6l3 4zM557 264l2-8l4 3zM577 264l1-7l5 2zM596 263l3-7l3 3zM615 263l3-7l3 4zM631 264l5-6l2 4zl7-5M648 264l5-5l2 4zl10-5M664 264l6-5l1 5zl14-5M680 263l7-4l1 5zl17-4M699 261l7-3l1 4zl18-2M721 258l7-2l-1 5zl15 1M743 255l8 0l-2 5zl13 4M767 254l7 1l-2 5zl9 5M792 254l6 5l-4 2zM815 254l2 7l-5 0zM829 259l7-2l0 5zM848 257l7 0l-2 5zl6 2M866 254l7 2l-3 4zl8 5M885 257l8 0l-2 4zl8 2M901 263l6-5l2 5zl12-4M915 266l6-5l2 4zl17-7M930 266l6-4l1 4zl22-7M946 265l6-4l1 5zl25-6M964 262l7-3l1 5zl27-3M985 260l7-3l0 5zl26-1M1007 259l7-2l0 4zl23 0M1031 259l7-3l0 5zl19 0M1054 259l7-2l0 5zl15 0M1076 260l7-3l0 5zl13-1M1098 262l6-4l2 4zl11-3M1122 264l4-6l3 3zl6-5M1149 264l-4-6l5-1zM1176 261l-7 1l1-5zl-9-2M1203 254l-6 5l-1-5zl-16 5M1228 245l-5 6l-2-4zl-22 14M1251 233l-3 7l-3-3zl-25 26M1273 222l-2 7l-4-3zl-27 37M1294 218l-2 7l-4-3zl-29 41M1314 227l-3 7l-4-3zl-29 32M1332 250l-6 5l-1-5zl-28 9M1348 278l-7-2l3-4zl-24-19M129 253l-7 0l1-4zl-59-14M136 266l-7-1l2-4zl-46-27M136 273l-6-4l4-3zl-26-34M133 271l-3-7l5 0zl-4-32M136 247l5-6l2 4zl13-8M151 210l6 5l-4 2zl17 29M174 199l4 5l-4 2zl14 40M193 214l5 4l-4 3zl15 25M209 229l7 1l-2 4zl18 10M226 237l8-2l-1 5zl21 2M246 240l7-3l0 5zl20-1M267 241l6-3l1 4zl19-2M287 241l7-3l1 4zl18-2M309 240l7-3l0 5zl16-1M333 240l7-3l0 5zl12-1M357 239l7-2l0 4zl7 0M379 237l7 0l-2 5zM403 234l3 6l-5 1zM425 234l-1 8l-4-2zM447 237l-5 5l-2-4zM467 240l-7 1l1-5zM488 241l-7 0l2-4zl-6-2M511 243l-8-1l2-4zl-10-4M533 244l-7 0l2-5zl-12-5M555 245l-8 0l2-5zl-14-6M575 245l-7 0l2-5zl-15-6M595 244l-8 0l2-5zl-15-5M612 243l-7 0l1-5zl-13-4M628 241l-7 1l1-5zl-9-2M643 241l-7 0l2-5zM654 243l4-7l3 3zM670 238l8-1l-1 4zl8 1M684 238l7-2l0 5zl13 1M704 240l7-3l0 5zl13-1M729 240l7-3l1 4zl7-1M751 239l7-2l0 4zM782 240l-7 1l0-5zM809 241l-7 1l1-4zl-14-2M836 241l-8 2l1-5zl-21-2M858 240l-7 2l0-5zl-24-1M875 236l-7 3l0-4zl-21 3M889 233l-5 5l-2-5zl-15 6M902 234l-5 6l-3-4zl-9 5M908 236l7 2l-2 4zM921 242l6-4l2 4zl11-3M933 245l6-5l1 5zl19-6M947 246l6-4l1 5zl24-7M963 247l6-4l1 4zl28-8M982 247l6-4l1 4zl29-8M1003 247l6-4l1 4zl27-8M1025 246l6-4l1 5zl25-7M1047 244l6-4l1 5zl22-5M1066 242l7-3l1 5zl23-3M1086 242l7-3l1 5zl23-3M1110 245l5-4l2 4zl18-6M1139 247l3-7l4 4zl9-8M1171 244l-6-4l4-3zM1203 237l-7 3l0-5zl-16 2M1232 227l-5 6l-2-5zl-26 12M1260 217l-4 6l-3-4zl-34 22M1288 208l-4 6l-3-4zl-42 31M1317 204l-5 6l-2-4zl-52 35M1343 213l-5 5l-2-5zl-58 26M1365 232l-7 3l0-5zl-61 7M1379 254l-8 1l2-5zl-55-15M134 222l-7 2l0-4zl-64-3M142 230l-7 1l1-5zl-52-11M138 232l-7 0l2-5zl-28-13M131 230l-4-6l5-1zl-2-11M127 216l7-2l-1 5zl22 3M136 193l7 2l-3 4zl32 26M155 185l7 3l-4 4zl33 34M173 197l7 2l-2 4zl35 22M190 214l8-2l-1 5zl37 5M212 224l6-3l1 4zl35-5M237 227l6-5l1 5zl29-8M262 225l7-4l1 4zl24-6M288 222l7-3l1 4zl17-3M316 221l6-4l1 5zl9-2M344 224l-2-7l5 0zM374 218l-7 3l0-5zl-10 1M401 215l-7 4l-1-5zl-17 4M422 212l-5 5l-2-5zl-19 7M440 213l-6 4l-1-4zl-17 6M456 216l-6 4l-1-5zl-13 3M474 220l-7 2l0-5zl-12-1M493 224l-7-1l2-4zl-11-5M513 227l-7-2l3-4zl-12-8M534 228l-7-2l3-4zl-13-9M555 228l-7-2l3-4zl-14-9M576 226l-7-1l2-4zl-16-7M595 223l-7 1l1-5zl-15-4M613 220l-7 2l1-5zl-14-1M630 217l-6 4l-1-5zl-11 2M646 216l-6 5l-1-5zl-8 3M660 213l0 7l-4-1zM670 210l7 4l-4 3zl8 9M681 215l8-1l-2 5zl16 4M704 226l5-6l2 4zl13-7M737 228l-3-7l5 0zl-1-9M768 225l-8-1l3-4zl-12-6M797 225l-8 1l2-5zl-21-6M826 227l-8 0l2-5zl-31-8M854 225l-7 1l0-5zl-39-6M877 219l-7 2l0-5zl-43 0M894 211l-6 4l-1-5zl-40 8M905 206l-5 5l-2-4zl-31 13M913 207l-5 6l-3-4zl-20 12M919 212l-3 7l-4-3zl-6 7M926 219l7-3l0 5zM936 224l6-4l1 4zl16-5M947 228l6-5l2 4zl24-9M960 229l6-4l2 4zl31-10M976 230l6-4l1 4zl35-11M995 230l6-5l2 5zl35-11M1018 227l6-4l2 5zl32-8M1042 222l7-3l0 5zl27-3M1065 217l8-2l-1 5zl24 2M1088 218l7-2l0 4zl21 1M1114 225l6-5l1 4zl14-6M1145 232l-1-7l5 1zl3-13M1178 232l-6-4l4-3zl-11-13M1211 225l-7 0l1-4zl-24-6M1241 215l-7 3l0-5zl-35 4M1269 205l-6 4l-1-4zl-43 14M1297 197l-5 5l-2-5zl-51 22M1324 193l-5 5l-2-4zl-59 26M1346 199l-6 4l-2-4zl-61 20M1368 210l-7 3l-1-5zl-64 9M1383 223l-8 2l1-5zl-59-4M124 190l-7 4l-1-5zl-54 9M128 194l-7 3l0-5zl-38 5M128 195l-6 4l-1-5zl-18 4M127 194l5 5l-4 2zM128 188l7 1l-2 4zl21 11M136 175l7 2l-3 4zl32 24M150 169l7 3l-3 4zl38 30M165 180l8 1l-2 4zl43 19M184 198l7-2l0 4zl43 1M208 210l6-4l1 4zl39-11M235 212l6-5l1 4zl31-13M263 208l6-5l1 4zl23-9M290 204l6-4l2 4zl15-5M320 204l3-6l3 3zl5-5M351 205l-7-3l4-3zl-6-6M382 203l-7 1l1-5zl-18-4M409 197l-7 2l0-4zl-25 2M428 190l-5 4l-2-4zl-25 9M441 188l-5 6l-2-5zl-18 11M453 192l-5 6l-2-4zl-10 7M467 199l-7 2l1-5zM484 204l-5-5l5-2zM504 207l-4-6l4-1zl-3-8M525 209l-5-6l5-2zl-4-10M547 209l-6-5l4-3zl-6-10M569 206l-7-2l3-4zl-9-7M591 203l-8-1l2-4zl-11-4M611 199l-7 2l0-5zl-12 0M630 196l-6 4l-2-5zl-11 3M648 194l-5 5l-2-4zl-10 5M664 187l-1 7l-4-2zl-6 12M675 179l4 7l-5 0zl3 20M687 189l7 3l-3 4zl10 10M710 212l1-8l4 3zl7-13M741 215l-4-6l5-1zl-5-16M771 209l-7-2l3-4zl-15-10M798 208l-7 0l2-5zl-22-9M825 211l-7-1l2-4zl-30-12M852 208l-8 1l1-5zl-37-9M874 199l-7 3l0-5zl-40 0M891 188l-6 4l-2-4zl-37 11M901 180l-4 6l-3-4zl-27 19M909 180l-3 7l-4-3zl-16 19M915 186l1 8l-4-2zl-2 13M922 193l8 1l-3 5zl10 6M929 197l7-2l-1 5zl23 2M934 199l7-2l0 4zl37 0M942 200l7-2l0 5zl49-1M954 203l7-3l0 5zl57-4M972 206l7-4l1 5zl58-7M998 206l7-3l0 5zl52-7M1029 203l7-3l1 5zl40-4M1065 199l6-3l1 5zl24 0M1100 200l6-3l1 4zl9-1M1133 210l-5-6l5-2zl-5-11M1163 219l-6-4l4-3zl-15-20M1191 220l-7-3l3-4zl-24-21M1216 211l-7 0l2-5zl-29-12M1241 200l-8 2l1-5zl-35-1M1264 190l-6 4l-1-5zl-38 9M1288 181l-6 5l-2-4zl-42 18M1312 176l-5 5l-3-4zl-47 23M1334 177l-5 5l-2-5zl-49 22M1351 183l-6 4l-1-4zl-47 16M1363 191l-7 4l-1-5zl-39 8M107 163l-6 5l-2-4zl-37 15M116 165l-5 5l-2-4zl-26 13M123 166l-3 6l-4-3zl-13 12M129 165l2 7l-5 0zl0 13M134 160l6 4l-4 3zl15 18M142 151l7 3l-4 3zl26 27M154 147l7 3l-3 3zl34 31M169 158l8 1l-3 5zl39 20M188 179l7-2l0 4zl39-1M210 194l5-5l2 5zl37-16M234 197l5-5l2 4zl32-19M259 193l5-5l2 4zl27-15M284 191l5-6l3 4zl21-13M311 194l3-7l4 3zl14-16M340 197l0-7l4 1zl5-19M370 193l-5-6l5-1zl-6-15M396 180l-7 1l0-4zl-12-2M415 165l-2 7l-4-3zl-12 13M430 159l0 7l-5-1zl-7 19M444 163l2 7l-5 0zl-1 15M459 172l6 6l-5 2zl3 6M477 181l5-6l3 4zM499 186l0-7l4 1zl2-8M521 190l-2-7l4 0zl0-12M544 191l-4-6l4-1zl-3-13M566 189l-5-5l4-2zl-6-11M588 185l-7-2l3-4zl-8-7M608 180l-7 1l1-5zl-9-2M628 176l-6 4l-1-5zl-9 2M648 171l-5 6l-2-3zl-10 7M667 161l-1 7l-4-2zl-9 17M687 149l0 8l-5-2zl-9 29M707 162l-1 7l-5-2zl-10 16M727 191l-7-4l4-3zl-10-13M746 197l-5-5l4-3zl-10-19M766 190l-6-4l4-3zl-10-12M789 192l-7-4l3-3zl-13-14M812 197l-7-4l4-3zl-17-19M835 195l-7-3l3-3zl-20-17M856 183l-7 1l1-5zl-22-5M874 167l-5 6l-2-5zl-20 11M888 155l-1 7l-4-2zl-14 23M901 151l0 8l-5-1zl-8 27M911 154l3 7l-5 0zl2 24M917 157l6 5l-3 2zl15 21M921 158l7 2l-2 4zl31 20M926 159l7 1l-2 4zl45 19M935 165l7-1l-1 5zl56 13M951 173l7-2l0 5zl60 5M971 182l7-3l0 5zl59-4M994 189l7-3l1 4zl56-11M1023 193l6-4l1 4zl46-15M1059 194l5-5l2 4zl30-16M1101 196l0-7l5 2zl8-18M1139 201l-5-5l4-2zl-11-23M1169 204l-6-4l4-3zl-21-26M1191 201l-7-3l4-4zl-24-23M1210 191l-8-1l3-4zl-23-13M1229 180l-8 2l1-5zl-23-2M1248 170l-5 5l-2-5zl-22 8M1269 162l-5 6l-2-4zl-23 16M1290 157l-4 7l-3-4zl-25 21M1310 156l-4 7l-3-4zl-25 22M1327 159l-3 6l-3-4zl-23 19M1342 163l-4 6l-3-4zl-18 15M99 140l-4 6l-3-4zl-29 18M113 140l-4 6l-3-4zl-23 18M123 138l-2 7l-4-3zl-13 20M132 135l1 7l-5 0zl-3 23M139 130l5 6l-5 1zl10 28M149 123l5 5l-4 3zl19 35M162 123l6 4l-4 3zl26 35M179 137l7 3l-3 3zl29 21M197 162l6-3l1 4zl30-4M215 180l5-6l2 4zl32-22M235 184l4-6l3 3zl31-26M256 180l4-7l3 4zl30-22M278 177l4-6l3 4zl27-19M300 180l4-6l3 4zl25-22M323 184l3-7l3 3zl22-26M347 177l3-6l3 3zl17-19M370 159l7-3l0 5zl14-1M393 139l5 5l-4 2zl10 19M415 131l4 6l-4 1zl8 27M436 136l4 7l-4 1zl7 22M457 149l6 5l-5 2zl5 9M477 161l5-6l3 4zM499 168l-1-7l5 1zl2-10M519 173l-1-7l4 1zl2-15M539 175l-2-7l5 0zl2-17M560 173l-2-7l4 0zl0-15M580 167l-3-6l5-1zl0-9M602 162l-6-4l4-3zM621 153l-1 8l-4-3zM642 147l0 8l-4-2zl-4 11M666 138l-1 8l-4-2zl-8 20M694 129l-1 8l-4-3zl-16 29M724 140l-5 6l-3-4zl-27 18M742 164l-7 1l1-5zl-25-6M753 171l-7-2l3-4zl-17-13M767 169l-7-3l4-3zl-11-11M784 175l-5-5l4-2zl-8-17M803 181l-5-6l5-1zl-8-23M821 178l-4-5l4-2zl-6-20M840 164l-7-4l4-3zl-6-6M858 144l0 7l-4-1zl-4 14M877 128l1 7l-5 0zl-3 30M894 121l2 7l-5 0zl-1 37M908 119l4 7l-5 1zl5 39M919 118l4 6l-4 2zl13 40M928 119l5 4l-4 3zl24 39M939 126l7 3l-4 3zl32 32M956 139l7 1l-2 4zl35 19M978 152l7-1l-1 5zl33 6M999 162l7-3l1 5zl31-4M1018 170l6-4l2 4zl32-12M1038 180l4-6l3 4zl31-22M1064 188l3-7l3 3zl25-30M1097 194l0-8l5 2zl12-36M1131 193l-3-7l5 0zl-3-35M1159 187l-4-5l4-2zl-11-29M1180 179l-6-5l4-3zl-13-21M1198 169l-7-3l4-4zl-11-11M1216 160l-7 1l0-5zl-10-2M1235 151l-4 7l-3-4zl-9 7M1254 145l-2 7l-4-3zl-8 13M1273 140l0 7l-5-2zl-8 18M1293 137l0 7l-5-2zl-8 21M1312 136l0 7l-4-2zl-8 22M1331 135l0 8l-5-2zl-7 23M93 118l-4 7l-3-4zl-23 20M110 114l-3 7l-4-3zl-20 24M123 109l-1 8l-5-2zl-13 29M133 105l1 8l-5-1zl-4 33M143 102l3 7l-4 1zl6 36M156 100l5 6l-5 2zl12 38M174 105l5 5l-4 2zl14 33M195 122l6 4l-4 3zl13 16M214 146l5-6l2 4zl13-8M231 163l2-7l4 2zl16-25M248 166l2-7l4 2zl18-28M265 159l4-6l3 3zl21-21M284 155l4-6l3 3zl21-17M301 157l4-7l3 4zl24-19M317 159l4-6l3 4zl28-21M333 153l5-5l2 4zl31-15M352 137l7-2l0 5zl32 1M375 120l8 2l-3 4zl28 18M402 114l7 4l-4 3zl21 24M429 120l6 4l-4 3zl14 18M453 133l8 1l-3 4zl9 5M475 144l4-7l3 4zl7-6M494 151l1-7l5 2zl7-13M513 155l1-8l4 3zl8-17M531 155l2-7l4 2zl10-17M551 152l2-7l4 3zl9-14M572 146l3-7l4 4zl8-8M594 138l7-3l0 5zM619 132l2 7l-5 0zM644 127l-1 7l-4-2zl-6 11M671 123l-3 6l-3-3zl-13 15M701 119l-4 6l-3-4zl-23 19M731 125l-5 4l-2-4zl-34 13M752 137l-7 2l0-4zl-35 1M764 142l-7 1l1-5zl-28-4M777 144l-8 0l2-4zl-21-6M790 151l-7-3l3-4zl-14-13M802 156l-4-5l4-2zl-7-18M814 153l-2-7l5 0zl1-15M827 139l7-3l1 4zl7-1M844 120l5 5l-4 2zl10 18M863 105l5 6l-5 1zl11 33M884 97l4 7l-5 1zl9 41M904 94l4 6l-5 1zl9 44M923 90l4 7l-5 1zl9 48M940 91l4 7l-5 1zl12 47M957 102l5 6l-5 2zl14 36M974 119l7 4l-4 3zl17 19M993 135l7-2l-1 5zl18 3M1012 142l7-4l1 5zl18-4M1032 147l5-5l2 4zl18-9M1054 160l2-7l4 2zl15-22M1078 175l0-7l4 1zl11-37M1104 185l-2-7l5 0zl5-47M1129 183l-3-7l5 0zl-1-45M1151 173l-3-7l4-1zl-3-35M1169 161l-3-7l5 0zl-2-23M1187 152l-3-8l5 1zl0-14M1204 143l1-7l4 2zM1221 135l7 1l-2 4zM1238 126l6 5l-4 2zl8 12M1256 119l5 6l-4 2zl9 19M1275 115l5 6l-4 1zl10 23M1297 112l4 6l-5 1zl7 26M1318 109l4 6l-5 1zl6 29M82 100l-2 7l-4-2zl-12 18M103 93l-1 7l-5-2zl-13 25M120 84l0 8l-5-2zl-10 34M135 80l1 7l-5-1zl-6 38M150 80l2 7l-4 0zl-1 38M170 83l2 7l-5 0zl-2 35M193 91l1 7l-5-1zl-5 27M216 106l-2 7l-4-3zl-8 12M237 125l-8-3l3-3zl-10-7M252 138l-4-6l5-2zl-5-20M266 138l-2-7l5 0zl0-20M281 132l0-8l4 2zl5-14M296 127l3-6l4 3zl9-9M311 128l4-6l3 4zl14-10M324 131l4-6l3 4zl21-13M336 129l6-5l2 4zl28-11M353 119l7-3l0 5zl31-1M375 109l8 0l-2 4zl28 9M402 105l7 1l-3 4zl21 13M428 109l8 2l-3 4zl15 9M452 117l7-2l0 5zl10 1M473 124l4-6l3 4zl9-6M492 129l3-7l3 3zl9-11M511 132l2-7l4 2zl10-14M531 133l2-7l4 2zl10-15M553 131l1-7l4 2zl7-13M576 128l0-8l5 2zl4-10M602 122l-6-4l4-3zM630 117l-7 3l-1-5zl-11 1M657 113l-6 4l-1-5zl-19 5M684 110l-6 4l-1-4zl-26 8M711 108l-6 4l-1-5zl-33 10M736 108l-6 4l-1-5zl-39 10M756 110l-7 4l-1-5zl-39 8M770 111l-6 4l-1-5zl-34 7M782 114l-6 3l-1-5zl-26 4M792 119l-7 2l1-5zl-16-1M800 125l-6-5l4-2zl-5-7M807 124l4-6l3 3zl8-6M817 115l8-1l-1 5zl17 3M832 102l7 2l-3 4zl22 16M852 91l6 4l-3 3zl22 27M876 85l5 5l-4 2zl17 33M901 81l5 6l-5 1zl12 37M929 75l3 7l-5 1zl3 43M955 72l2 8l-5-1zl-3 46M978 79l1 7l-5-1zl-7 39M995 93l2 7l-5-1zl-4 25M1010 108l3 7l-5 0zl1 10M1026 120l5-5l2 4zM1049 131l-2-7l5 0zl1-13M1074 148l-3-7l4-1zl-5-30M1097 165l-3-7l4-1zl-8-47M1115 174l-3-7l5-1zl-6-56M1129 170l-2-7l4 0zl-1-52M1141 158l-1-8l5 1zl7-40M1155 146l0-8l5 2zl12-28M1169 135l3-6l4 3zl18-17M1184 125l6-4l1 4zl22-7M1199 114l7-1l0 4zl27 4M1215 104l7 1l-2 4zl31 14M1232 97l7 2l-3 4zl33 21M1252 94l7 2l-3 4zl33 24M1275 93l7 3l-3 4zl29 25M1300 90l7 4l-4 3zl24 28M71 87l2 7l-5-1zl-1 10M94 77l1 7l-5-1zl-4 20M116 64l1 8l-5-1zl-6 33M137 58l1 8l-4-1zl-8 39M159 60l0 7l-4-1zl-10 37M182 66l-1 7l-4-2zl-14 31M206 74l-3 7l-4-3zl-18 23M228 86l-5 6l-2-4zl-20 11M247 100l-7 1l0-4zl-20-3M261 109l-7-3l3-4zl-14-12M273 110l-5-5l4-3zl-7-13M287 106l-3-6l4-1zl-1-9M302 104l1-7l4 2zl3-7M318 105l3-6l4 3zl7-8M334 108l4-7l3 4zl11-11M351 107l4-6l3 4zl13-10M370 102l6-4l1 4zl14-5M392 95l8-1l-1 5zl11 2M417 91l7 4l-4 3zl6 6M441 92l4 6l-4 1zM462 92l2 7l-4 0zM482 103l-3-7l5 0zM501 104l-2-7l5 0zl0-7M520 109l-2-7l5 0zl1-12M540 113l-2-7l5 0zl1-16M563 115l-4-6l5-1zl-3-18M587 115l-5-6l4-2zl-7-18M612 111l-6-3l3-4zl-13-14M639 106l-8-1l2-4zl-20-9M665 100l-8 2l1-5zl-27-3M689 94l-7 3l0-4zl-31 3M712 89l-7 4l-1-5zl-34 8M732 85l-6 5l-2-5zl-35 12M749 82l-5 6l-2-5zl-32 15M764 81l-5 6l-3-4zl-28 16M777 84l-5 5l-3-4zl-21 13M787 89l-4 6l-3-4zl-11 8M798 93l-2 7l-4-3zM806 98l7-3l0 5zl9-1M818 94l7-1l-1 5zl16 3M834 87l7 1l-2 4zl20 10M855 79l7 3l-4 4zl19 18M879 75l6 5l-4 2zl14 22M906 72l4 6l-5 2zl7 25M935 67l2 7l-5 0zl-3 30M966 62l0 7l-5-2zl-14 35M996 62l-2 7l-4-3zl-25 35M1022 70l-4 7l-3-4zl-31 27M1042 85l-6 5l-2-4zl-31 12M1060 103l-7 1l0-5zl-30-6M1078 121l-7-3l3-4zl-28-24M1094 138l-6-4l4-3zl-25-41M1105 151l-4-6l4-1zl-16-54M1111 154l-2-7l5 0zl-2-57M1116 147l-1-7l5 1zl12-50M1123 136l2-7l4 3zl25-39M1134 126l4-7l3 4zl33-29M1148 115l5-5l2 4zl39-18M1162 104l7-4l0 5zl44-7M1178 92l7-2l-1 5zl48 5M1194 82l8 0l-2 5zl52 15M1213 77l8 1l-2 4zl52 20M1234 78l8 0l-2 5zl51 19M1258 80l7 0l-1 4zl46 17M1283 76l8 2l-2 4zl41 21M75 72l-3 7l-4-3zl-5 5M99 61l-1 7l-4-2zl-9 16M124 46l-1 7l-4-2zl-14 31M147 37l-1 8l-4-2zl-18 40M167 39l-1 7l-4-2zl-18 38M187 46l-2 7l-4-2zl-19 31M206 56l-3 7l-3-3zl-18 21M225 67l-5 6l-3-4zl-17 10M241 77l-7 3l0-5zl-14 0M256 84l-7-2l3-4zl-9-7M269 86l-4-6l4-1zl-3-9M285 86l-2-8l5 1zl1-9M302 85l0-7l5 2zl3-8M321 87l0-8l5 2zl4-10M340 88l0-8l5 2zl5-11M359 87l1-8l5 3zl5-10M380 82l2-7l4 3zl4-5M399 75l7 1l-2 4zM425 72l0 7l-5-2zM447 70l-1 7l-5-2zl-4 7M467 71l-2 7l-4-3zl-5 6M487 75l-6 5l-2-4zM505 82l-6-4l4-3zM524 89l-4-6l5-1zl-3-12M543 96l-3-6l5-1zl-2-19M564 101l-4-7l5-1zl-4-24M585 101l-4-6l5-1zl-5-24M608 98l-5-5l4-2zl-9-21M632 92l-7-4l4-3zl-13-15M655 83l-7 0l1-4zl-17-6M678 75l-7 3l0-5zl-20 2M699 67l-5 5l-2-4zl-21 10M719 61l-4 6l-3-4zl-22 16M738 57l-4 7l-3-4zl-21 20M755 56l-3 7l-3-3zl-19 21M772 59l-3 7l-4-4zl-16 18M788 64l-3 7l-4-4zl-12 13M802 70l-3 7l-3-4zl-7 7M817 72l-1 8l-4-2zM832 73l5 5l-4 2zM849 68l6 5l-5 3zl5 9M869 64l5 6l-5 1zl5 13M890 62l4 6l-5 1zl3 15M912 61l3 7l-5 0zl1 16M934 61l2 7l-5-1zl-2 16M959 59l0 8l-5-2zl-7 18M986 60l-3 6l-3-3zl-15 17M1012 65l-4 5l-3-4zl-21 12M1036 75l-7 3l0-5zl-25 2M1055 90l-7-1l2-4zl-25-13M1069 105l-6-5l4-2zl-19-28M1079 117l-4-7l5-1zl-10-40M1085 123l-1-7l4 0zl4-46M1091 122l0-7l5 2zl18-45M1099 118l2-7l4 3zl29-41M1110 111l3-6l3 3zl38-34M1123 104l5-6l3 4zl44-27M1138 94l6-4l2 4zl49-17M1154 83l7-3l1 5zl52-6M1172 73l7-2l0 5zl54 4M1191 64l7-1l-1 5zl55 13M1212 60l7 0l-1 5zl53 17M1234 62l8 0l-2 4zl51 15M1258 65l8-1l-2 5zl46 12M1284 61l8 1l-2 4zl40 16M77 59l-7 0l1-4zl-7-2M102 47l-4 6l-3-3zl-12 10M126 29l-2 7l-4-3zl-16 28M147 15l0 8l-5-2zl-18 42M166 14l-1 7l-4-1zl-17 43M183 23l-1 7l-4-1zl-15 34M200 36l-2 7l-4-2zl-12 21M217 48l-3 7l-3-4zl-9 9M235 57l-7 2l0-4zl-8 0M252 62l-7-3l4-3zl-5-5M269 63l-5-5l5-2zl-3-6M286 63l-3-7l5 0zM304 63l-1-8l5 1zM322 63l1-7l4 2zl3-6M339 64l3-7l4 3zl6-7M357 63l4-6l3 3zl7-6M375 61l5-5l2 4zl9-4M394 57l7-2l0 4zl9 0M414 53l7 1l-1 4zl9 4M435 51l7 3l-3 3zl8 6M456 52l7 3l-3 3zl6 5M476 56l8-1l-1 5zM496 62l3-6l4 3zl5-5M516 70l0-8l4 2zl5-13M535 77l-1-8l5 2zl6-20M554 82l-1-7l5 1zl6-25M574 84l-1-7l5 1zl6-27M595 82l-1-8l5 1zl4-25M618 76l-2-7l4 0zl1-19M641 67l-4-6l5-1zl-3-10M664 57l-7 2l0-4zl-6 0M688 48l-4 6l-3-3zl-10 9M710 40l-2 7l-4-3zl-13 17M732 36l-2 7l-4-3zl-15 21M753 34l-2 7l-4-3zl-17 23M774 35l-3 7l-4-3zl-18 22M793 39l-3 7l-4-4zl-17 18M811 44l-4 6l-3-3zl-16 13M827 48l-4 6l-3-4zl-12 9M843 49l-4 7l-3-4zl-9 8M859 48l-1 8l-4-3zl-5 9M876 47l1 8l-5-2zl-2 10M893 47l3 7l-5 0zl0 10M911 49l4 6l-5 1zl2 8M928 51l6 4l-4 3zl4 6M945 53l8 2l-3 4zl7 4M964 56l8-1l-1 4zl7 1M985 60l5-5l2 4zl6-3M1005 66l2-7l4 2zl6-9M1024 74l0-8l5 2zl6-17M1041 82l0-8l5 2zl9-25M1056 88l0-7l5 2zl13-31M1069 92l2-7l4 2zl20-35M1083 94l2-8l4 3zl26-37M1098 93l2-7l4 3zl30-36M1113 90l3-7l3 4zl35-33M1128 84l4-6l3 4zl39-27M1143 75l6-5l2 5zl44-18M1160 64l6-3l1 5zl46-7M1177 54l7-2l0 5zl49 3M1196 46l7-1l-1 4zl50 11M1216 43l8-1l-2 5zl49 14M1239 46l7-1l-1 5zl46 11M1263 50l7-1l-1 5zl41 7M1288 49l8-1l-1 5zl36 8M52 41l7-4l1 4zl18-4M70 31l7 0l-1 4zl20 6M91 14l6 4l-4 3zl19 23M115 0l5 6l-5 2zl14 37M141-2l4 6l-5 1zl8 39M167 6l3 7l-5 0zl1 31M191 19l1 7l-4-1zl-3 18M213 30l-2 7l-4-3zl-5 7M233 36l-7 3l0-5zM252 39l-7-1l1-4zM271 39l-7-1l2-4zM291 39l-8-1l2-4zM307 42l-4-6l4-2zM320 39l6-5l2 4zM339 39l6-5l1 5zM355 40l6-5l2 5zl9-3M372 39l6-3l1 4zl12-2M389 38l7-3l0 5zl14-1M408 36l7-2l0 5zl15 1M428 35l7-2l-1 5zl15 2M448 35l8-1l-1 4zl14 2M469 37l7-2l0 4zl13 0M490 42l5-5l2 4zl11-5M510 48l3-7l4 4zl11-11M530 55l1-7l4 2zl11-18M549 62l1-8l4 2zl11-25M569 65l0-7l5 2zl11-28M589 65l0-7l5 1zl10-28M611 61l0-8l4 2zl8-24M633 52l0-8l5 2zl5-15M656 42l0-8l5 2zM680 29l0 8l-4-2zl-2 8M704 19l0 8l-5-2zl-7 18M727 13l0 7l-5-2zl-10 24M750 10l-1 7l-5-2zl-14 27M771 11l-1 7l-5-3zl-15 26M791 14l-2 7l-4-2zl-15 23M809 20l-2 7l-4-4zl-14 17M826 25l-3 6l-4-3zl-11 12M842 28l-3 7l-3-3zl-8 9M858 31l-2 7l-4-3zl-4 6M874 32l2 7l-5-1zM890 32l6 5l-4 2zM908 34l7 1l-2 5zM925 35l8-1l-1 5zl7 2M943 37l7-3l0 5zl9 0M962 40l6-5l1 5zl9-3M981 43l5-6l2 4zl10-6M1001 48l3-7l3 3zl10-11M1021 53l1-7l4 2zl9-16M1040 59l0-7l5 2zl10-22M1058 65l0-8l5 2zl11-28M1075 69l1-7l4 2zl14-32M1091 72l1-7l5 2zl18-35M1107 72l1-7l4 2zl21-35M1121 68l3-6l3 3zl27-31M1135 62l4-6l3 3zl32-25M1149 52l6-5l1 5zl38-15M1164 41l7-3l0 5zl42-4M1180 30l7-1l0 5zl46 7M1198 23l7-1l-1 5zl48 14M1216 21l7 0l-1 4zl49 16M1234 25l8 0l-1 4zl51 12M1252 33l7-2l0 5zl52 4M1270 35l7-2l0 4zl54 2" fill="#000" stroke="#000" stroke-width="1.7" stroke-linejoin="miter"/><path d="M78.1 134.3l8.7 3l7-6l12.1 0l1.8 9l6.9 6l8.8 3l8.7-3l12.1 3l0.9 3.1l4.4 18l3.5 9l1.7 9l3.5 9l5.2 9l1.7 1.5l12.2-1.5l-1.7 12.1l-3.5 9l-5.2 9l-5.2 9l-3.5 9l-1.8 9l1.8 12.1l0.8 12l-6 9l-3.5 6l0.8 12l-4.3 6l-0.9 9.1l-4.3 6l-5.3 9l-8.7 1.5l-6.1 0l-0.8-7.5l-3.5-9l-1.8-9.1l-1.7-12l-3.5-12l2.6-15l-0.8-12l-1.8-9.1l-5.2-15l0.9-9l-0.9-6l-5.2-1.5l-3.5-6l-5.2 1.5l-5.2 3l-5.3 0l-5.2 1.5l-5.2-7.5l-3.5-6l-3.5-6l-3.5-11.2l0.9-9.9l0.9-9l-1.8 0l3.5-9l3.5-10.5l5.2-6l0.9-7.6l4.3-6l1.8-6M78.1 134.3l-5.2-3l-0.9-6l0.9-9l1.7-4.5l10.5 0l1.7-7.5l-6.1-7.5l4.4-0.6l3.4-2.4l3.5-4.6l3.5-3l1.7-4.5l5.3-1.5l0.8-9l3.5-1.5l-0.9 6l3.5 4.5l3.5 0l7-1.5l5.2-1.5l0-6l5.2-1.5l-0.9-4.5l7.9-1.5l3.5-1.5l-7-1.5l-6.1 1.5l-1.7-3l0-6l6.1-6l-1.8-3l-3.5 1.5l-1.7 4.5l-6.1 6l-0.9 3l2.6 3l-3.4 9l-0.9 3l-3.5 1.5l-1.7 0l-0.9-3l-2.6-7.5l-1.8 0l-3.4 3l-4.4-3l-0.9-7.5l5.3-6l6.9-7.5l5.2-7.5l7-4.6l10.5-3l5.2 0l5.2 3l3.5 1.5l7 1.6l6.9 4.5l-1.7 4.5l-8.7-1.5l-1.8 4.5l1.8 3l5.2 0l3.5-1.5l0-4.5l6.9-1.5l0-4.5l3.5 0l3.5 3l10.5-4.5l10.4-1.5l0.9-3.1l11.3 3.1l3.5 1.5l-3.5-7.6l3.5-6l6.9 3l-1.7 12.1l3.5 3l-1.8-6l3.5-9.1l8.7-4.5l10.5-5.1M285.3 16.5l0 3.6l8.7 3l10.4-1.5l5.3 3l5.2 4.5l8.7-1.5l8.7-3l8.7 0l8.7 3l8.7 1.5l8.7 3l3.5 1.5l5.2 0l8.7-1.5l10.5 1.5l6.9 1.6l8.7 4.5l8.7 4.5l-5.2 4.5l-8.7-3l-3.5 1.5l-3.4 1.5l1.7 6l-7 1.5l-8.7 6l-8.7 0l-3.5 6l-1.7 6l-3.5 9l-5.2 6l-1.8-9l0-9l7-10.5l5.2-4.5l-8.7 1.5l-5.2 6l-8.7 0l-8.7 0l-7 7.5l-5.2 7.5l3.5 4.5l1.7 3l-1.7 9.1l-3.5 7.5l-5.2 7.5l-5.2 3l-3.5 3l-3.5 6l-0.9 1.5l3.5 7.5l-0.9 6l-4.3 1.5l-0.9-7.5l-1.7-3l0-4.5l-5.3-3l-1.7 4.5l-5.2 0l0 3l5.2 1.5l2.6 1.5l-4.3 3l-1.8 3l3.5 9l1.7 4.6l-1.7 7.5l-2.6 7.5l-4.4 6l-5.2 3l-6.9 4.5l0 3l-3.5-4.5l-3.5 7.5l1.7 7.5l3.5 10.5l0 4.5l-4.3 4.6l-2.6 4.5l0-4.5l-3.5-3l-3.5-6.1l-1.8-1.5l-0.8 7.6l0.8 6l1.8 6l4.3 9l0.9 7.5l-0.9 0.6l-4.3-5.1l-0.9-9l-3.5-6l0-6l-0.8-9.1l-0.9-9l-4.4 0l-0.8-6l-4.4-10.5l-1.7-3l-3.5 1.5l-3.5 3l-1.7 3l-7 10.5l-3.5 4.5l0 9l-0.8 6.1l-2.7 6l-1.7-1.5l-1.7-7.5l-2.7-9.1l-2.6-9l0-9l-0.8-3l-4.4 0l-1.7-4.5l-3.5-6l-5.2-2.4l-7 0l-5.2-1.2l-0.9-3.9l-4.3 0.9l-3.5-3l-3.5-6.9l-2.6 0l-0.9 3l3.5 7.5l1.7 4.5l1.8 3l3.5 0l4-6.9l0.3 5.4l3.5 3l2.3 3l-3.2 7.5l-1.7 6l-3.5 3l-5.2 3l-5.3 6l-6.9 3.6l-2.6 0.3l-1.4-6.9l-1.2-6l-3.5-9l-1.8-7.5l-3.4-9l-3.5-7.5l-0.9-4.5l-0.9 4.5l-1.7-3l-0.9-3M144.8 148.7l3.5-0.3l1.2-5.1l1.7-7.5l0-3.6l-3.5 1.2l-3.5 0.3l-2.6-0.9l-4.3-0.6l-1.8-2.4l-0.8-4.5l0-3.6l4.3-2.4l4.4-0.6l6.1-2.4l5.2 3l6.1-1.5l0-3l-4.4-4.5l-2.6-3l0.9-6l-5.2 4.5l2.6 0.6l-2.6 1.5l-2.6 0.9l-0.9-4.5l-3.5-1.5l-1.7 3l-2.6 6l-0.9 4.5l1.7 3l-5.2 0.6l-3.5 0.9l-2.1 0.6l0.4 3.9l1.7 3l-1.7 4.5l-1.8-0.6l-0.8-2.4l-0.9-4.5l-2.6-4.5l0-4.5l-6.1-4.5l-2.6-4.5l-1.8-2.1l-2.1 1.2l0.4 3.9l2.6 4.5l3.5 1.8l4.3 5.1l-2.6-0.9l-0.8 3l0.8 1.5l-1.7 3l-0.5 0l0.5-3l-0.9-3l-2.6-3l-2.6-1.5l-2.6-3l-1.8-4.5l-2-1.2l-2.3 1.8l-2.6 2.4l-3.5-1.5l-1.7 3l0.3 2.1l-4.7 3.9l-1.4 3l0.5 2.4l-1.2 3l-2.2 2.7l-4.4 0.3l-1.7 2.1M422.8 45.4l7-2.7l3.5-1.5l-3.5-3l-3.5-1.5l5.2-3.1l10.5-5.4l8.7 1.5l12.2 2.4l6.9 1.2l8.7 1.9l10.5-3.1l3.5-1.5l5.2 3l8.7 0l8.7 3.1l8.7 1.5l3.5 3l5.2-3l8.7 0l7 0l3.5-3l-1.8-9.1l5.3 6l3.4 3.1l7 3l7-3l1.7 3l-3.5 6l-5.2 0l-1.7 6l-5.3 1.5l-5.2 4.5l-2.6 6l0.9 3.9l2.6 5.1l6.1 1.5l6.9 3.6l5.3 0.9l0 6l2.6 4.5l2.6 0l0-7.5l3.5-6l-1.8-7.5l0-4.5l0.9-7.5l6.1 0.6l7 3.9l0.8 6l4.4 2.1l3.5-5.1l0.8-0.9l4.4 8.4l1.7 4.5l5.2 4.5l3.5 4.5l0.6 3l-2.3 1.5l-5.2 3.6l-8.7 0.3l-3.5 2.8l-3.5 2.4l-3.5 4.8l1.8-0.3l8.7-6.6l0.8 3.6l-0.8 3l1.7 3l5.2 1.5l1.8-1.5l-1.8 2.4l-4.3 2.1l-4.4 3l0-3l2.6-3l-4.3 1.5l-3.5 3l-2.6 3l-0.4 3l1.3 0.9l-3.5 1.5l-3.5 1.8l0 3.3l-2.6 4.5l-0.9 3l0.4 3l0.5 2.4l-2.6 2.1l-1.8 1.8l-2.6 2.7l-2.6 4.5l-0.5 4.6l1.4 6l0.8 4.5l-0.5 3.6l-1.2 0.3l-1.7-3.9l-1.3-4.5l-0.5-3l-1.7-3l-2.6 0.9l-2.6-2.1l-3.5 0.3l-0.5 3.3l-2.1 0l-4.4-1.5l-3.5 1.5l-3.5 3.6l-0.5 6l-0.7 6l-0.1 5.1l1.3 5.4l1.8 4.5l1.7 1.5l1.8 0.9l3.5-1.2l1.7-1.8l0.9-4.8l0.8-0.9l4.4-1.2l1.2 1.5l-1.2 4.5l-0.9 3.6l-0.5 5.4l-0.9 2.1l4.9-0.3l3.5 0.3l1.4 2.4l-0.5 6l-0.4 6.1l1.2 3l1.8 3l1.7 0.6l2.1-1.8l3.1 0.3l1.8 3l1.7-3.6l0.9-3l1.7-1.5l4.4-3.7l0.8 3.7l2.7-1.6l2.6 3.1l4.3 0l3.5 0l3.5-0.6l1.7 3.6l1.8 3l2.6 4.5l2.6 3l5.2 0.9l3.5 2.7l1.7 2.4l1.8 6.6l0 5.4l2.6 2.1l2.6 0l4.4 4.8l2.6 0.6l5.2 0.9l2.6 2.7l2.6 3.3l3 1.5l0.7 5.1l-0.2 6.1l-3.5 7.5l-2.6 4.5l-0.9 6l0 7.5l-1.7 7.5l-1.8 6l-1.7 3l-4.3 0.6l-3.2 2.4l-2.9 4.5l-1.3 6.1l-0.5 4.5l-2.6 6l-2.6 4.5l-2.6 4.5l-2.6 3l-3.5-1.5l-2.6-1.5l2.2 6.9l0.4 5.1l-3.5 2.4l-5.2 0.6l-0.5 5.4l-4.7 0.6l1.7 4.5l-1.7 1.5l-0.9 6l-3.5 3l2.6 4.6l-2.6 4.5l-2.6 4.5l0.9 5.4l-2.6 0.6l2.6 1.5l2.6 6l2.6 0l-4.4 1.5l-5.2-4.5l-3.5-1.5l-2.6-4.5l-1.7-6l0.9-6l-0.9-4.5l2.6-4.6l0-6l0.9-4.5l-0.4-6l0.4-7.5l1.7-6l1.7-9l0-9l1.8-12.1l0.3-15l0-5.1l-2.9-3.9l-5.2-4.5l-2.3-4.5l-1.2-6l-2.6-7.5l-1.8-7.6l-2.6-3l-0.5-4.5l2.2-3l-0.8-3.6l-0.9-3.9l1.7-4.5l1.8-3l0.9-3l1.7-4.5l0.3-6l-0.3-4.5l-1.7-1.5l-1.8-2.7l-1.7 2.7l0.8 2.1l-2.6-1.5l-2.2-1.2l-1.6-1.5l-2.3-3.9l-1.4-2.7l-1.7-3.4l-1.2-3l-2.6-1.2l-3.5-1.5l-2.3-2.1l-2.9-4.5l-1.8 0.3l-2.6 0.9l-3.5-1.8l-2.6-2.1l-3.5-3l-3.4-3l-2.7-3l0.4-4.5l-1.2-4.5l-3.5-6l-2.6-4.5l-1.8-3l-2.6-4.5l-1.7-6.1l-3-2.1l0 5.2l3 6l1.7 4.5l2.6 6l1.8 4.5l-1.4-1.5l-3-4.5l-0.8-4.5l-2.7-3l-0.8-3l-2.3-4.5l-1.7-6.1l-0.9-3l-2.1-3l-3.5-1.5l-2.2-6l-1.3-3.9l-2.2-5.1l-0.9-3l0.2-7.5l0.3-9l-1.2-7.2l3-0.3l0.8 3l-0.8-4.5l-3.5-3l-4.4-3.1l-0.8-4.5l-3.5-4.5l-1.8-4.5l-4.3-4.5l-2.6-3l-3.5-1.5l-4.4-3.9l-4.3-0.6l-3.5-0.6l-3.5-2.4l-3.5 0.6l-2.6 3l-4.3 2.4l0.9-6l-4.4 7.5l-3.5 3l-3.5 3l-4.3 3l-4.4 2.1l-2.6 0.3l4.4-3.3l3.5-2.1l3.4-3l0.9-3.6l-2.6 0.6l-5.2-1.5l0-3l-5.2-1.5l-1.8-3.9l1.8-2.1l0.8-1.5l6.1-1.5l0-3l-3.5 0l-5.2 0l-3.5-3.3M-12.5 16.5l1.8 3.6l3.5 6l1.7 4.5l5.2 3l-4.3 4.6l0.9 6l2.6 6l2.6 4.5l3.5 4.5l6.9 3l3.5-6l3.5-7.5l5.2-3.6l7-5.4l8.7-2.4l5.2-3.7l5.2-2.4l-3.5-3.6l3.5-3l0-4.5l4.4-3.6M614.3 16.5l1.8 3.6l3.5 6l1.7 4.5l5.2 3l-4.3 4.6l0.9 6l2.6 6l2.6 4.5l3.5 4.5l6.9 3l3.5-6l3.5-7.5l5.2-3.6l7-5.4l8.7-2.4l5.2-3.7l5.2-2.4l-3.5-3.6l3.5-3l0-4.5l4.4-3.6M46.7 45.7l3.5-2.4l7 0.9l5.2-0.6l2.3 3.6l-2.3 2.1l-6.1 2.4l-4.3-0.9l-2.6-0.6l0.8-2.4l-3.5-2.1M79 92.3l4.3-1.6l7-2.1l1.2-4.5l-3-2.4l-0.3-3l-2.3-3l-0.8-1.5l-1.8 0l1.8-4.5l-3.5-0.6l1.7-2.7l-3.5 0l-1.7 3.3l0.9 4.5l0.8 3l2.6 0.3l0.9 2.7l0 1.8l-2.6 0.3l0.3 2.4l-1.5 2.1l2.9 0.9l0.9 0.9l-4.3 3.7M78.1 85.6l-7 1.8l0-5.7l2.6-3l0.9-2.1l3.5 0l0.9 2.1l-0.9 3l0 3.9M314.9 147.8l1.7 0l1.8-6l5.2-0.6l3.5-3l3.4-0.9l3.2-2.1l0.3-6.9l1.8-4.5l-0.9-5.4l-2.1 0.9l-0.5 3l-0.4 4.5l-3.1 4.5l-2.1 0l-1.4 3l-3.5 1.5l-3.4 1.5l-1.8 3l-1.7 2.1l0 5.4M332.3 117.8l2.6-4.5l0.3-6.9l2.3 3l4 1.8l-0.5 2.1l-2.6 3l-3.5-1.5l-2.6 3M335.8 104.3l0-12l0.8-10.6l0.9-1.5l0.5 6l-0.5 7.6l2.6 1.5l-2.6 6l-1.7 3M299.2 167.4l1.7 0l-1.7 9l-1.7-3l1.7-6M278.3 183.9l3.5-1.5l-0.9 4.5l-2.6 0.6l0-3.6M298.3 186.9l3 0.6l-0.4 6.9l-0.8 6l4.3 3l0 1.5l-3.5-3l-2.2-1.5l-1.2-6l0.8-7.5M300.9 221.5l2.7-4.5l3.4-3.9l1.8 6.9l-1.8 4.5l-2.6-1.5l-3.5-1.5M300.9 207l1.8 0.9l0.5 4.6l-1.4 1.5l-0.9-3l0-4M305 204.9l2 1.5l0 4.6l-1.2 0.9l-0.5-3.3l-0.3-3.7M292.6 217l4-8.4M278.3 238l1.8-0.6l2.6-2.4l2.6-3l3.5-4.5l3.1-6l3.8 6l-1.7 6l-0.4 6l-0.5 6l-1.7 7.5l-3.5 1.5l-4.4-2.1l-3.4-2.4l-1.8-6l0-6M254.5 225.4l3.8 1.5l4.3 7.2l6.1 8.4l1.8 6l2.6 3.6l-0.4 7.8l-2.2-0.3l-4.4-5.1l-2.6-6l-2.6-7.5l-3.5-7.5l-2.9-8.1M271.9 262l4.7 0l5.2 0l3.5 1.5l2.6 2.5l-0.4 2.4l-7.4-1.8l-6.1-2.2l-2.1-2.4M296.6 259l1.7-7.5l-1.7-6l0.9-5.4l3.4-0.6l4.4-1.5l0.9 0.6l-3.5 2.4l-3.5 0l-0.9 4.5l4.4 0l-1.8 3l0.9 7.5l-2.6-4.5l-0.9 7.5l-1.7 0M303.6 273.5l6.1-5.7l-3.5 2.7l-2.6 3M290.5 268.1l5.2-0.3l7-0.3l-5.2 1.8l-7 0l0-1.2M310.5 236.5l1.8 3l-0.9 5.4l-0.9-3.9l0-4.5M316.6 244.9l5.2 0l1.8 7.5l5.2-4.8l5.2 2.7l7 5.7l4.3 4.5l-0.8 3l6.1 10.6l-5.3-1.5l-4.3-6l-3.5 3l-3.5 0l-4.3-2.1l-0.9-4l-1.7-6l-3.5-1.5l-4.4-1.5l-0.8-3.6l-1.8-6M347.1 259l6.1-3.9l0 3.9l-4.4 2.4l-1.7-2.4M287 308.6l-0.9 9l2.7 18.1l0 9.9l5.2 2.1l3.5-3l6.9-3l3.5-2.1l5.2-1.8l4.4-0.6l4.3 4.5l2.7 5.4l3.4-5.4l0.9 7.5l2.6 1.5l1.8 6l5.2 2.4l2.6-1.5l2.6 2.1l2.6-3.6l3.5-1.5l1.7-9.9l2.7-6l1.7-10.5l-0.9-9.1l-3.5-6l-3.4-9l-4.4-4.5l-1.7-12l-0.9-1.5l-2.6-1.5l-1.8-9.6l-1.7 6.6l-0.9 12l-2.6 1.5l-6.1-6l0.9-10.5l-6.1-1.5l-3.5 2.4l-2.6 8.1l-4.3-3l-3.5 3l-4.4 6l-0.9 4.5l-5.2 4.5l-5.2 2.4l-3.5 3.6M340.5 364.8l5.7 0.9l0 6l-2.6 1.5l-2.1-3l-1-5.4M389.7 346.2l2.7 4.5l2.6 4.5l4.3 0.6l-2.6 5.4l-2.6 6l-1.2-0.6l0.3-3.9l-2.1-2.1l1.6-3.9l-3-10.5M389.2 364.2l2.8 3.6l-2.3 3.9l-2.9 3.9l-1.1 5.1l-3.8 1.9l-3.5-1.9l2.6-6l5.3-4.5l2.9-6M174.4 278.6l2.1 10.5l-2.7 7.5l-2 15l-1.4 6l-3.5 1.5l-2.6-7.5l0.8-9l0.9-12l4.4-3l1.7-4.5l2.3-4.5M227.8 213.1l3.2 6.9l-1.4 4.5l-1.8 0l-0.5-6l0.5-5.4M567.3 176.4l5.3-3l3.4 0l5.3 4.5l4.8 3.9l-5.7 0.9l-0.9-2.4l-4.3-3.9l-2.6-1.5l-3.5 2.1l-1.8-0.6M585.6 183l4.4-0.6l3.5 0.9l2.6 3.6l-4.4 1.5l-3.5-0.9l-2.6-0.6l0-3.9M579 187.2l3.5 0.9l-2.1 0.9l-1.4-1.8M598.3 187.2l2.6 0.3l-1.4 1.2l-1.2-1.5M170.4 107.3l3.4-4.5l3.5-1.5l3.5 0.6l0 5.4l-3.5 0l-0.8 1.5l0.8 4.5l3.2 3l1.2 4.5l-0.9 4.5l1.8 6l-5.3 0.9l-3.5-2.4l0-3l0.9-5.4l-2.6-5.1l-0.9-3l-0.8-3l0-3M190.4 102.8l4.3 0l0.9 4.5l-3.5 3l-2.1-3l0.4-4.5M269.6 87.7l3.5-3l5.2-4.5l1.8-5.1l-1.8 2.1l-2.6 6l-6.1 4.5M217.4 107.3l5.2-5.1l3.5 0.6M555.2 102.2l5.2-3.9l5.2 1.5l2.3 3l-4 0l-5.3-0.3l-3.4-0.3M563 116.3l2.1 0l0.5-6l1.7-5.4l-3.4 0.9l-1.8 4.5l0.9 6M569.1 104.3l5.2 0l1.7 3l-2.6 1.5l-1.4 3.9l-2-2.4l0-4.5l-0.9-1.5M570.3 117.2l7.5-3.3l-1.8 1.5l-4.3 2.4l-1.4-0.6M576.6 112.4l5.9-2.1l-0.4 1.5l-4.3 0.6l-1.2 0M546.4 90.7l-2.6-4.5l-0.8-4.5l2.6 0l1.7 7.5l-0.9 1.5M501.2 47.2l5.2-6l3.5 3l-5.2 3l-3.5 0M511.6 59.2l5.2-4.5l7 0l-3.5 3l-5.2 2.1l-3.5-0.6M144.2 241.6l3.5 0l0 3.9l-0.8 4.5l-2.7 0l-0.5-4.5l0.5-3.9M139.5 253l0.7 7.5l2.3 7.6M147.7 271.1l0.9 7.5l0.9 6.9M603 53.2l5.3-10.5l-11.4-9.1l-6.9-6l-10.5-4.5l-5.2-2.1l-13.9 0.6l-1.8 4.5l8.7 6l5.3 0l6.9 0l5.3 6.1l3.4 1.5l0 7.5l-8.7 0l0 3l10.5 3l6.9 1.5l5.3 1.5l0.8-3M511.6 27.6l20.9-4.5l7 9l-7 3.1l-15.7 0l-5.2-3.1l0-4.5M497.7 26.1l5.2-7.5l10.5 3l-7 6l-8.7-1.5M563.9 45.7l6.9 0l4.4 6l-7.9 1.5l-3.4-7.5M612.1 99.2l3.1-5.4l2.6-6.4l0.9 1.8l-0.9 3.1l3.5 1.5l1.8 3l0.5 3l-1.4 2.7l-4.4-1.2l-5.7-2.1M186 16.5l-4.3 5.1l-3.5 6l2.6 2.4l5.2-2.4l3.5-6l0-5.1M110.3 128.3l5.2-0.6l-0.9 4.5l-4.3-2.7l0-1.2M103 119.3l2.4 0l-0.3 5.4l-1.8 0.6l-0.3-6M104.2 113.3l0.9 3l-0.9 1.8l-0.7-2.7l0.7-2.1M129.4 135.8l4.9 0.9l-4 0.6l-0.9-1.5M144.8 137.3l3.8-1.8l-1.7 2.7l-2.1-0.9M443.7 181.8l1.8 1.5l-1.3 2.1l-0.5-3.6M320.1 140.3l2.6-0.6l-0.9 2.7l-2.6 0.9l0.9-3M374.1 303.2l5.2 6.3M541.2 23.1l5.2-1.5l0 6l-5.2 0l0-4.5M549.1 20.1l4.3 0l1.8 3.6l-5.3 0.9l-0.8-4.5M555.2 16.5l6.9 2.1l10.5 0l3.4-2.1M609.1 397.3l5.2-0.6l-1.7 3l-3.5-0.9l0-1.5M327.1 16.5l5.2 2.1l5.2 1.5l3.5-3.6M173 34.6l2.6 0.6l-0.9 0.9l-1.7-1.5M181.7 204.6l1.7 0.3M249.9 201.9l0.2 6" fill="none" stroke="#000" stroke-width="0.9" stroke-linejoin="round"/>
<path d="M88.5 19.5V410.5M193 19.5V410.5M297.5 19.5V410.5M401.9 19.5V410.5M506.4 19.5V410.5M610.9 19.5V410.5" stroke="#9a98a4" stroke-width="1" stroke-dasharray="1.5 3.55" fill="none"/><path d="M40.8 32.1H663.1M40.8 62.2H663.1M40.8 92.3H663.1M40.8 122.3H663.1M40.8 152.4H663.1M40.8 182.4H663.1M40.8 212.5H663.1M40.8 242.5H663.1M40.8 272.6H663.1M40.8 302.6H663.1M40.8 332.7H663.1M40.8 362.7H663.1M40.8 392.8H663.1" stroke="#9a98a4" stroke-width="1" stroke-dasharray="1.5 4.75" fill="none"/>
</g>
<rect x="36.3" y="17" width="626.8" height="393.5" fill="none" stroke="#000" stroke-width="1.8"/><text x="84.9" y="426.8" font-size="13" textLength="8.5" lengthAdjust="spacingAndGlyphs" class="a">0</text><text x="180.5" y="426.8" font-size="13" textLength="26.2" lengthAdjust="spacingAndGlyphs" class="a">60E</text><text x="280.1" y="426.8" font-size="13" textLength="36.1" lengthAdjust="spacingAndGlyphs" class="a">120E</text><text x="389.5" y="426.8" font-size="13" textLength="26.2" lengthAdjust="spacingAndGlyphs" class="a">180</text><text x="489" y="426.8" font-size="13" textLength="36.1" lengthAdjust="spacingAndGlyphs" class="a">120W</text><text x="598.4" y="426.8" font-size="13" textLength="26.2" lengthAdjust="spacingAndGlyphs" class="a">60W</text><text x="0.7" y="36.9" font-size="13" textLength="26.2" lengthAdjust="spacingAndGlyphs" class="a">70N</text><text x="0.7" y="66.9" font-size="13" textLength="26.2" lengthAdjust="spacingAndGlyphs" class="a">60N</text><text x="0.7" y="97" font-size="13" textLength="26.2" lengthAdjust="spacingAndGlyphs" class="a">50N</text><text x="0.7" y="127.1" font-size="13" textLength="26.2" lengthAdjust="spacingAndGlyphs" class="a">40N</text><text x="0.7" y="157.1" font-size="13" textLength="26.2" lengthAdjust="spacingAndGlyphs" class="a">30N</text><text x="0.7" y="187.2" font-size="13" textLength="26.2" lengthAdjust="spacingAndGlyphs" class="a">20N</text><text x="0.7" y="217.2" font-size="13" textLength="26.2" lengthAdjust="spacingAndGlyphs" class="a">10N</text><text x="8.8" y="247.3" font-size="13" textLength="18.1" lengthAdjust="spacingAndGlyphs" class="a">EQ</text><text x="0.7" y="277.3" font-size="13" textLength="26.2" lengthAdjust="spacingAndGlyphs" class="a">10S</text><text x="0.7" y="307.4" font-size="13" textLength="26.2" lengthAdjust="spacingAndGlyphs" class="a">20S</text><text x="0.7" y="337.4" font-size="13" textLength="26.2" lengthAdjust="spacingAndGlyphs" class="a">30S</text><text x="0.7" y="367.5" font-size="13" textLength="26.2" lengthAdjust="spacingAndGlyphs" class="a">40S</text><text x="0.7" y="397.5" font-size="13" textLength="26.2" lengthAdjust="spacingAndGlyphs" class="a">50S</text><path d="M88.5 410.5v4.2M193 410.5v4.2M297.5 410.5v4.2M401.9 410.5v4.2M506.4 410.5v4.2M610.9 410.5v4.2M36.3 32.1h-5M36.3 62.2h-5M36.3 92.3h-5M36.3 122.3h-5M36.3 152.4h-5M36.3 182.4h-5M36.3 212.5h-5M36.3 242.5h-5M36.3 272.6h-5M36.3 302.6h-5M36.3 332.7h-5M36.3 362.7h-5M36.3 392.8h-5" stroke="#000" stroke-width="1.2" fill="none"/>
<g stroke="#000" stroke-width="0.9" stroke-linejoin="miter"><path d="M676.4 143.9L684 114.7L691.6 143.9Z" fill="#dc0063"/><rect x="676.4" y="143.9" width="15.2" height="28.1" fill="#f00000"/><rect x="676.4" y="172" width="15.2" height="28.1" fill="#e6af2d"/><rect x="676.4" y="200" width="15.2" height="28.1" fill="#a0e632"/><rect x="676.4" y="228.1" width="15.2" height="28.1" fill="#00d28c"/><rect x="676.4" y="256.2" width="15.2" height="28.1" fill="#00a0ff"/><rect x="676.4" y="284.2" width="15.2" height="28.1" fill="#8200dc"/><path d="M676.4 312.3L684 341.5L691.6 312.3Z" fill="#a000c8"/></g><text x="695" y="148.3" font-size="12.3" textLength="16.8" lengthAdjust="spacingAndGlyphs" class="c">20</text><text x="695" y="176.4" font-size="12.3" textLength="16.8" lengthAdjust="spacingAndGlyphs" class="c">15</text><text x="695" y="204.4" font-size="12.3" textLength="16.8" lengthAdjust="spacingAndGlyphs" class="c">10</text><text x="695" y="232.5" font-size="12.3" textLength="8.2" lengthAdjust="spacingAndGlyphs" class="c">5</text><text x="695" y="260.6" font-size="12.3" textLength="8.2" lengthAdjust="spacingAndGlyphs" class="c">0</text><text x="695" y="288.6" font-size="12.3" textLength="16.8" lengthAdjust="spacingAndGlyphs" class="c">-5</text><text x="695" y="316.7" font-size="12.3" textLength="25.4" lengthAdjust="spacingAndGlyphs" class="c">-10</text><text x="671.4" y="35.2" font-size="10.6" textLength="35.2" lengthAdjust="spacingAndGlyphs" class="t" letter-spacing="1.2">gpm</text>
<text class="t" y="10" font-size="10.4" xml:space="preserve"><tspan x="8.6" textLength="50.3" lengthAdjust="spacingAndGlyphs">ZUV500</tspan> <tspan x="66.3" textLength="133" lengthAdjust="spacingAndGlyphs">(mar2022-may2022)</tspan> <tspan x="206.6" textLength="54.1" lengthAdjust="spacingAndGlyphs">forecast</tspan> <tspan x="268" textLength="30.6" lengthAdjust="spacingAndGlyphs">from</tspan> <tspan x="307.1" textLength="59.5" lengthAdjust="spacingAndGlyphs">1oct2021</tspan> <tspan x="376.2" textLength="43" lengthAdjust="spacingAndGlyphs">(NUIST</tspan> <tspan x="426.2" textLength="45.6" lengthAdjust="spacingAndGlyphs">CFS1.0;</tspan> <tspan x="483.2" textLength="73.1" lengthAdjust="spacingAndGlyphs">9-member</tspan> <tspan x="564.1" textLength="41.1" lengthAdjust="spacingAndGlyphs">mean)</tspan></text>
<path d="M523.6 439H558.6" stroke="#000" stroke-width="1.1" fill="none"/><path d="M559.4 439l-4.2 -1.6v3.2z" fill="#000"/><text x="537.6" y="450.7" font-size="11.8" textLength="7.6" lengthAdjust="spacingAndGlyphs" class="t">2</text><text x="552.4" y="450.7" font-size="11.5" fill="#2846ff" textLength="22.4" lengthAdjust="spacingAndGlyphs">ms</text><text x="576.2" y="445.6" font-size="7.4" fill="#2846ff" textLength="8.2" lengthAdjust="spacingAndGlyphs">-1</text>
</g>
<g transform="translate(0.1 451.3) scale(1 0.9703)">
<g clip-path="url(#cp)">
<rect x="34.3" y="15" width="630.8" height="397.5" fill="#a000c8"/><path d="M30.5 11l638 0l0 404l-638 0zM354.5 97l-2.5 2l0.5 2l2 2l2 0.5l6 0.5l2-1l2-2l0-2l-2.5-2l-1.5-0.5l-4-0.5z" fill="#8200dc" fill-rule="evenodd"/><path d="M30.5 11l638 0l0 404l-638 0zM348.5 89l-6 2l-3 2l-2.5 2l-2 4l1 4l1.5 2l6 4l5.5 2l5.5 1l10 0l4.5-1l5-2l3-2l3-4l0.5-2l-1-4l-3-3.5l-4-2.5l-6-2.5l-6-0.5l-6 0z" fill="#1e3cff" fill-rule="evenodd"/><path d="M30.5 11l638 0l0 404l-527 0l1.5-4l0-4l-0.5-2.5l-2.5-3.5l-3.5-3l-4-2.5l-4-1.5l-6-1l-4 0.5l-4 1l-4 2l-3 2.5l-3 4l-1.5 4l-0.5 4l0.5 4l-72.5 0zM346.5 83l-8 1.5l-6.5 2.5l-5.5 3l-5 3l-1.5 2l-2 4l1 4l1.5 2l5 4l3.5 2l9.5 3.5l10 2.5l12 1l10-1.5l11-3.5l7-4l2-2l3-4l0-2l-0.5-2l-3-4l-5-4l-8.5-4.5l-6-2.5l-8-1.5l-8-0.5zM428.5 92.5l-5.5 2.5l-4.5 4l-1 2l0.5 2l1 2l2 2l3.5 2l6 1.5l6-0.5l3.5-1l3-2l1.5-2l1.5-4l-1-4l-1.5-2l-3-2l-4-1l-4 0zM428.5 327l-8 1l-6 2l-5 3l-3.5 4l-1.5 4l1 6l3 5l5 5l6 4l7 3l8 2l8 1l8 0l8-1.5l6-2.5l4.5-4l2-4l0.5-2l-0.5-4l-3-6l-6-6l-6.5-4l-10-4l-9-2z" fill="#00a0ff" fill-rule="evenodd"/><path d="M30.5 11l39.5 0l-2 2l-2 4l1 4l1.5 2l2.5 2l5.5 2l6 1.5l8 0.5l14-1l14-4l6-3l6.5-4l4.5-4l1-2l175 0l0.5 2l2.5 2.5l4 1.5l6 0.5l4-0.5l4-1.5l2-2.5l0.5-2l333.5 0l0 404l-122 0l-2-10l-3.5-8l-4.5-4.5l-2-1l-4-1l-4 0.5l-2 1l-2 2l-2 3l-3 8l-1.5 10l-355 0l2.5-6l0.5-4l-1-2l-2.5-4l-10-10.5l-8-7l-6-3.5l-8-3l-8-1l-8 1l-6 2l-7 4l-5 5l-4 6l-3 7l-1.5 8l-0.5 8l-55 0zM344.5 77l-10 1.5l-10 2l-18 5l-8 3l-4 2.5l-1.5 2l-1 4l1 4l2.5 4l5.5 4l13 6l10.5 3l12 3l10 1.5l10 0.5l8 0l8-1l22-5.5l6-1l8 0.5l18 4.5l6 1l6-0.5l8-2.5l5.5-3.5l3.5-4l3-6l0.5-4l-0.5-4l-2-6l-4-4l-4-2.5l-4-1l-6-1l-7.5 0.5l-20.5 5.5l-8 0.5l-8-1.5l-17.5-6.5l-10.5-3l-10-1zM424.5 315l-14 1.5l-10 3.5l-8.5 5l-4 4l-2.5 4l-1.5 6l0 4l1 4l2.5 4l3 4l8.5 8l9.5 6l12 5l12 3.5l14 1.5l14-0.5l14-2.5l10-4l4-2l3-3l2.5-4l0.5-4l-0.5-4l-1-4l-2-4l-4.5-6l-5.5-6l-4.5-4l-10-6l-14-6l-14-3z" fill="#00d28c" fill-rule="evenodd"/><path d="M30.5 11l16 0l-3.5 6l-0.5 6l1.5 4l1.5 2l5.5 4l5.5 2.5l8 2l10 1.5l10 0.5l10-0.5l10-1.5l8-2l10-3l12-5.5l11-6l8.5-6l4.5-4l132 0l-0.5 4l0.5 2.5l2 3.5l2.5 2l7.5 2.5l18 1.5l10-0.5l6-2l4-1.5l4-3l3-3l1-2l1-4l319 0l0 404l-109 0l-1.5-16l-3-12l-2.5-6l-2.5-4l-3.5-4.5l-4-4l-6-4l-16-9l-6-5l-21-19.5l-9-7l-10-6l-12-5l-14-4.5l-14-2l-12-1l-14 1l-12 3l-12 5l-8 5.5l-4 5l-2 4l-1.5 4l-1 6l0 4l1 6l1 4l2.5 4l2 2.5l4 3.5l18 10.5l12 6l14 4.5l10 2.5l12 1.5l14 0.5l24-1l6 1l4 1l4 3l2.5 4.5l1.5 6l0.5 12l-320 0l4.5-6l1-2l-0.5-2l-3.5-4l-12-10l-16.5-18l-9.5-8l-8-4.5l-8-3l-10-1.5l-6 0.5l-6 1l-10 3.5l-10 5.5l-6 6l-4 6.5l-2 8l-1 10l-0.5 18l-42.5 0l0-61l4-4l1.5-3l0-2l-1-6l-2.5-4l-2-2zM196.5 89l-4 2l-2.5 2l-3 4l-1.5 4l0 4l1.5 4l2.5 4l2 2l5 3l3.5 1l4.5 0.5l4 0l4-1l4-2l4-2.5l2.5-3l2.5-4l1-6l-1.5-4l-3-4l-5.5-3.5l-6-2l-8 0zM288.5 70l-4 2.5l-4 4l-4 5l-3.5 5.5l-2.5 8l-0.5 4l1 4l4 6l3.5 3.5l4 2.5l10 4.5l16 4l22 3.5l18 2l18-0.5l24-3l8-0.5l8 1l20 4l8 0.5l6-0.5l10-2.5l8-4.5l6-6l2-4l2-6l1-6l-0.5-6l-0.5-4l-2-4l-2.5-4l-3.5-3l-4-2l-6-2l-8-0.5l-8 0.5l-24 5l-8 0.5l-10-1.5l-22-6.5l-16-3l-16-0.5l-28 2l-6-0.5l-10-1.5zM594.5 57l-14 3l-12 5l-10 6l-6.5 6l-3 4l-2 4l-1.5 6l0.5 4l1.5 4l2.5 4l2.5 2.5l4 2l6 0l10-2.5l16-6l8.5-4l7.5-4l7.5-6l6.5-6l4-6l2-6l-0.5-4l-1-2l-1.5-2l-4-2l-7-1.5l-8 0.5zM312.5 322.5l-6 2l-6 3.5l-4 3l-5 6l-3.5 6l-2 6l-1 8l0.5 8l1 6l2 8l7 16l2.5 4l4.5 3.5l4 1.5l6 1.5l8 0l8-1.5l6-3l6-4.5l6-7.5l3.5-8l2-10l2-14l0-10l-1-6l-2.5-6l-2-3.5l-4-3.5l-7.5-3l-8.5-2.5l-8-1zM624.5 326.5l-6 2.5l-4 3l-3 3l-2 4l-1 4l1 4l2.5 4l4.5 3.5l5.5 2.5l6.5 1.5l6 0.5l8 0l8-2l5-2l3-2l3.5-4l1-4l-1.5-6l-3-5l-6-4.5l-6-2.5l-8-1.5l-8 0z" fill="#00dc00" fill-rule="evenodd" stroke="#000" stroke-width="1"/><path d="M183.5 11l87.5 0l0 8l3 20l0 6l-1 6l-2 6l-2.5 6l-4 5.5l-4 4.5l-8 5l-4 1.5l-6 1l-26-3.5l-8-0.5l-8 0.5l-8 1l-8 2.5l-5.5 2.5l-5.5 4l-3.5 4l-2.5 6l-1 6l0.5 6l2 6l3.5 6l6 6l6 3.5l6 2.5l6 1l6 0.5l8-0.5l12-2.5l20-8l8-1l6 1l24 7l20 3l24 2l24 0.5l46-1l10 1l22 4.5l14 1l12-1l10-3l8-5l3-3.5l2.5-4l1.5-8l2-32l-1-6.5l-2-3l-3-2.5l-3.5-2l-5.5-2l-6-1l-8-0.5l-14 1.5l-28 5.5l-8 0.5l-6-1l-8-2l-24-7.5l-14-4l-12-2l-15-1.5l-5-1l-4-2l-3-3l-1.5-4l0.5-2l1-2l3-2l4-1.5l12-2l8-2l10-4.5l6-4.5l4-4.5l3-5l2.5-6l283.5 0l-4 18l-2.5 4l-2 2l-4 2l-6.5 2l-32 7l-20 5l-14 5l-12 5l-6.5 4l-5.5 4l-4.5 4l-3 4l-2.5 4l-1 4l0 8l2 14l2 10l2 6l3 4.5l5 5.5l5 3l6 1.5l4 0.5l4-1l4-1.5l4-2.5l10.5-12l5.5-4.5l28-16.5l16-11l10.5-10l13.5-18.5l4-4.5l6-4l8-2l0 75l-0.5 2l0.5 1.5l0 182.5l-14-5l-14-2l-14 0l-14 3l-10 3.5l-8 5l-9.5 7.5l-14.5 16.5l-4 2.5l-4 0.5l-12-2.5l-20-6.5l-14-6.5l-26-14.5l-14-7l-16-5.5l-18-4.5l-14-1.5l-12-0.5l-12 0.5l-14 2l-10 2.5l-6 2.5l-4 2.5l-8 8l-2 0.5l-2 0l-2-1l-6-5l-4-2.5l-6-2l-10-3l-6-1.5l-8-0.5l-6 0l-8 1.5l-10 3l-10.5 6l-4.5 4l-4 4l-2.5 4l-2 4l-2 8l0 8l6 46l-0.5 4l-2 4l-4 3.5l-8 2.5l-10 1.5l-14 1l-14-1l-12-2l-10-3l-9-4.5l-5-4l-4-4l-20-22.5l-14-15l-8-7l-8-5l-6-2l-8-1.5l-8 0l-22 1.5l-6-0.5l-4-1l-8-3.5l-22-13.5l-8-3.5l-8-2.5l0-253.5l6-2.5l8-1l10 0.5l30 2l10-0.5l10-2l8-2.5l10-4.5l32-17zM200.5 302.5l-2 1l-1.5 1.5l-0.5 2l0.5 2l1 2l2.5 1l2 0.5l4-1l2-2.5l0.5-2l-1-2l-1.5-2l-2-1zM468.5 150.5l-3.5 2.5l-0.5 2l0 2l1 2l3 2l4 1.5l4 0l5.5-1.5l2.5-2l0.5-2l0-2l-1.5-2l-3-2l-6-1.5zM44.5 122.5l-2 1l-1 1.5l-0.5 2l1.5 3l2 1l2 0l3-2l0.5-2l-0.5-2l-1.5-2l-1.5-1zM110.5 101l-6.5 2l-3.5 2.5l-2.5 3.5l-3.5 8l-1 10l1.5 10l3.5 9.5l2 3l4 4l2 1l4 1l4-0.5l2-1l4-3l2.5-4l2-4l2-6l1.5-10l-0.5-6l-1-6l-1.5-4l-2-4l-1.5-2l-3.5-2.5l-4-1.5zM579.5 369l3-1.5l6 0l26 3l42 1.5l12 2l0 41l-97 0l-0.5-14l2-16l2.5-10l2-4zM30.5 372l4 0.5l10 2.5l6 3l4 4.5l3.5 6.5l2 8l1.5 8l0 10l-31 0zM367 385l7.5-1.5l8 0l6 1.5l24 8.5l12 3l16 3l22 2l8 1.5l4.5 2l2.5 2l3 4l1 4l-133 0l4-3.5l3-4.5l3.5-6l5.5-13.5zM230 413l12.5-1l14 0.5l12 0.5l11 2l-60.5 0z" fill="#a0e632" fill-rule="evenodd"/><path d="M375.5 11l219 0l6 2l6 4l2 2l1 4l0 2l-1 2l-2 2l-6.5 4l-16 6l-25.5 6.5l-14 3l-12 1l-38 0.5l-12 0.5l-10 2l-52 13.5l-10 1.5l-8 0.5l-6-0.5l-6-1.5l-13-5l-9.5-6l-4.5-4l-2.5-4l-1-4l1.5-6zM192 21l12.5-1.5l14 0l12 2l10 4l4 2l4 3.5l4 6l1.5 4l0 4l-1.5 6l-3 4l-5 4.5l-7.5 3.5l-8.5 2.5l-12 1.5l-56 5l-8 2l-16 6l-8 1.5l-10 0l-2.5-0.5l-4-2l-1-2l0-2l2.5-4l4.5-4l13-10l11-12l7-6l9-6l10.5-5l12-4zM41 67l5.5-1.5l6 0l6 1l4 2l3.5 2.5l3 4l1 4l0 4l-2.5 6l-3.5 4l-3.5 3l-8 4l-16 6.5l-6 3.5l0-36l6-4.5zM668.5 67l0 37.5l-10 5l-22.5 17.5l-7.5 5l-8 4.5l-8 3.5l-8 2.5l-6 0l-4.5-1.5l-1.5-2l-0.5-2l0.5-4l2-4l4.5-6l9.5-8l32-21.5l6-6l12-14.5l4-3zM498 85l2.5-0.5l4 0.5l4 1.5l2 2l3.5 6.5l2 8l-0.5 8l-1.5 4l-1.5 3l-4 4l-2 1l-4 1l-6-1.5l-4-2.5l-2-2.5l-2-4l-1.5-6.5l0.5-8l2-6l3-4l2-2zM341.5 147l35.5 0l11.5 1l8 1.5l11.5 3.5l4.5 2l7.5 4l4 4l0.5 2l0 2l-1.5 2l-2 2l-4.5 3l-8.5 3l-9.5 2.5l-12 2l-14 1.5l-14 0.5l-14 0l-26-2l-12-2l-11.5-2.5l-8.5-3l-6.5-3l-5-4l-2-4l0-2l1.5-2l2-2l6-3l8-2.5l20-3zM179 157l5.5-0.5l6 0l4 1.5l1 1l1 2l0 4l-2.5 4l-3 4l-6.5 6l-8 6l-8 5l-8 4.5l-8 3l-8 2l-6 1l-4-0.5l-3-1l-1-1l-1.5-3l0.5-2l1.5-4l4.5-6l8-8l9-6.5l8-4.5l10-4.5zM544.5 303l6-1.5l4 0.5l2.5 1l2.5 2l1 2l0 4l-1 2l-3 3l-4 1l-4 0l-4-1.5l-2.5-2.5l-1.5-4l2-4zM179 321l5.5-0.5l14 3.5l18 1l4 1l4 2.5l8 6.5l5.5 6l4 6l4 8l2 6l1 8l-0.5 6l-1 4l-3 4l-4 2.5l-6 2l-8 0.5l-8-0.5l-6-1l-6-2.5l-5-3l-5-4.5l-8-8.5l-9-11l-5-8l-3.5-8l-1.5-6l1-6l2-3.5l2-2zM615 381l15.5-1l14 1l12 2l8.5 4l3.5 2.5l0 25.5l-85 0l0-8l1-6l2.5-6l3-4l4.5-3.5l6-3l6-2zM30.5 383.5l7.5 3.5l4.5 3l4 4.5l2.5 4.5l1.5 6l0.5 4l0 6l-20.5 0z" fill="#e6af2d" fill-rule="evenodd"/><path d="M392.5 11l73.5 0l12.5 7.5l4 1.5l4 1l8 0l28-2.5l20 0.5l10 1l8 2l4.5 3l0.5 2l-1 2l-2 1.5l-6 2.5l-8 1.5l-8 1l-18 0l-30-2.5l-8 0.5l-8 2.5l-23 11l-20 8l-15 4l-8 1.5l-6 0l-8-1.5l-8.5-4l-3.5-3l-3-3l-3-6l-0.5-6l2-8l4.5-8zM185 31l9.5-1.5l8 0l8 1l8 2l5 2.5l5 4l2 4l-0.5 4l-2.5 4l-5.5 4l-7.5 3l-12 2l-12 1l-12-0.5l-10-2l-4-1.5l-3-2l-1.5-2l-1-4l1.5-4l3-4l5-3.5l4.5-2.5zM500 103l0.5-0.5l2 0.5l0 2l-2 0.5zM619 389l11.5-1.5l10 0.5l8 1.5l8 3.5l5.5 4l4 6l2 6l-0.5 6l-72 0l0-4l0.5-4l1.5-4l3-4.5l4-3.5l4-2.5l6-2.5zM30.5 393.5l4 3l2.5 2.5l2.5 4l1.5 6l0 6l-10.5 0z" fill="#f08228" fill-rule="evenodd"/><path d="M426.5 13l16-1l6 1l5.5 2l4.5 3l2.5 3l1.5 4l-0.5 4l-3.5 4l-6 4l-18.5 8l-11.5 4l-6 1.5l-6 0l-6-1l-5-2.5l-4-4l-1.5-6l0.5-6l3.5-6l4.5-4.5l6-3.5l8-2.5zM192 41l4.5 0l4 0.5l3 1.5l1 2l-1 2l-1 0.5l-3 1.5l-3 0.5l-8-0.5l-4-2l0-2l1.5-2zM621.5 397l7-1.5l8 0l6 1l6 2l4 3l3 3.5l1.5 4l-0.5 6l-48 0l-0.5-2l0.5-4l1.5-4l4.5-4.5z" fill="#f00000" fill-rule="evenodd"/><path d="M631.5 407l3.5 0l3.5 1.5l1.5 2.5l-0.5 2l-2.5 2l-7.5 0l-1-0.5l-1.5-1.5l-0.5-2l1-2z" fill="#dc0063" fill-rule="evenodd"/><path transform="scale(.5)" d="M77 797l1 7l-5-1zl-7 28M96 794l1 7l-5-1zl-6 31M114 794l2 7l-5-1zl-4 31M133 795l2 7l-5 0zl-4 30M152 797l2 7l-5-1zl-3 28M171 799l2 7l-5 0zl-3 26M190 802l2 7l-5 0zl-2 23M208 807l2 7l-4 0zl0 18M227 813l2 7l-4 0zl0 12M245 820l4 5l-4 2zM261 827l6-4l2 4zM279 832l4-7l3 4zl7-7M296 835l3-7l4 3zl9-10M313 836l4-7l3 4zl12-11M330 835l4-6l3 4zl15-10M347 833l5-5l2 5zl17-8M365 831l6-4l1 4zl19-6M383 828l7-3l1 5zl20-3M402 826l7-3l0 5zl21-1M422 824l7-2l0 5zl21 1M442 822l7-1l-1 5zl20 3M462 820l7 0l-1 4zl20 5M483 819l7 0l-1 5zl18 6M504 818l7 1l-2 4zl17 7M524 817l8 1l-3 5zl17 8M544 816l7 1l-2 5zl16 9M563 815l8 2l-3 4zl17 10M583 817l7 1l-2 4zl16 8M603 821l7-1l-1 5zl16 4M624 826l7-3l0 5zl14-1M645 831l6-5l2 4zl13-6M668 836l3-7l3 3zl10-11M691 839l1-7l4 2zl6-14M715 838l-2-7l5 1zl2-13M736 833l-2-7l5 0zl0-8M756 832l-2-7l4 0zl0-7M775 830l-1-7l4 1zM792 830l2-7l4 2zM810 828l5-6l2 5zM828 826l7-3l0 5zM846 825l7-2l0 5zl8 0M863 824l8-1l-1 4zl11 1M882 824l7-2l-1 5zl11 1M901 823l7-1l-1 5zl12 2M920 822l8-1l-2 5zl12 3M941 818l7 2l-2 4zl11 7M963 813l6 4l-4 3zl8 12M985 807l4 6l-4 2zl6 18M1007 804l4 6l-5 1zl4 21M1030 806l2 7l-4 0zl0 19M1052 814l1 7l-5-1zl-2 11M1075 826l-8 1l1-4zM1096 838l-5-5l4-3zl-7-13M1118 844l-5-5l4-2zl-9-19M1139 846l-5-5l4-2zl-11-21M1161 845l-6-4l4-3zl-13-20M1182 845l-6-4l4-3zl-15-20M1204 845l-7-3l4-4zl-17-20M1225 845l-6-3l3-3zl-19-20M1246 843l-7-3l3-4zl-20-18M1267 836l-8-1l2-5zl-21-11M1286 825l-7 3l0-5zl-21 0M1305 814l-4 5l-3-4zl-20 11M1324 804l-3 7l-4-4zl-20 21M1342 797l-2 8l-4-3zl-18 28M57 779l5 5l-4 2zl13 26M80 777l5 6l-5 1zl10 28M104 777l4 6l-5 1zl6 28M127 778l3 7l-5 0zl2 27M148 780l3 7l-5 0zl1 25M170 782l2 7l-5 0zl-2 23M190 785l2 7l-5 0zl-2 20M210 789l1 7l-4 0zl-2 16M230 795l0 7l-4-1zl-3 10M249 800l-1 8l-4-2zM271 808l-7-2l2-4zM287 811l-4-7l5-1zM306 813l-3-7l5 0zl-1-8M325 814l-2-7l5 0zl0-9M345 814l-3-7l5 0zl0-9M366 813l-4-6l5-2zl-2-8M388 811l-6-4l4-3zl-4-6M409 809l-7-2l2-4zl-6-4M430 806l-7 2l0-5zl-7-1M450 804l-6 3l-1-4zl-7 1M469 802l-5 5l-2-4zl-7 3M488 800l-4 6l-3-3zl-6 5M506 799l-2 7l-4-3zl-5 6M523 798l0 7l-4-1zl-2 7M539 796l3 6l-4 1zl2 9M554 794l5 5l-4 2zl6 11M569 793l6 4l-3 3zl11 12M585 796l7 2l-3 4zl14 9M603 801l7-1l-1 5zl16 4M621 807l7-3l1 4zl17-2M641 813l5-5l2 4zl17-8M661 818l4-6l3 3zl17-13M683 823l2-7l4 3zl14-18M707 822l1-7l4 2zl10-17M728 814l3-7l4 3zl8-9M748 812l3-6l4 4zl8-7M767 810l5-6l2 5zl9-5M785 808l6-4l1 4zl10-3M802 806l7-3l0 5zl13-1M818 805l7-3l0 5zl16 0M835 804l7-2l0 5zl19 1M852 803l8-1l-1 4zl22 2M871 803l7-1l0 4zl22 2M891 803l7-1l-1 4zl22 2M912 802l7-1l-1 5zl20 3M934 800l8-1l-2 5zl18 5M958 795l7 2l-3 4zl13 10M983 790l5 5l-4 2zl8 15M1008 786l3 7l-4 0zl3 19M1033 787l1 8l-5-1zl-3 18M1057 794l-2 7l-4-2zl-7 11M1079 805l-7 2l0-4zl-10 0M1100 814l-7-2l3-4zl-11-9M1120 820l-6-4l3-3zl-11-15M1138 821l-5-4l4-3zl-10-16M1157 820l-6-4l4-3zl-9-15M1174 820l-5-6l4-2zl-7-15M1190 820l-4-6l5-2zl-3-15M1206 820l-2-7l5 0zl0-15M1222 817l0-7l5 1zl4-12M1239 811l4-6l3 3zl7-6M1257 802l7 0l-1 5zl8 3M1277 792l6 5l-4 3zl8 13M1299 784l4 6l-4 2zl5 21M1323 779l2 7l-4 0zl1 26M46 766l7 2l-3 4zl24 19M73 764l6 3l-4 3zl17 21M99 763l5 5l-4 2zl11 22M124 764l4 6l-5 1zl5 21M148 765l2 6l-4 1zl1 20M170 766l2 7l-5 0zl-2 19M192 769l1 7l-5-1zl-4 16M213 773l-1 7l-4-2zl-5 12M234 778l-3 7l-4-4zl-7 7M254 784l-6 3l-1-5zl-7 1M274 789l-7-1l2-4zl-8-4M294 794l-7-4l4-3zl-8-9M314 797l-6-4l4-3zl-9-12M336 799l-7-5l4-2zl-11-14M358 799l-7-4l4-3zl-13-14M380 797l-7-2l3-4zl-16-12M403 795l-7-1l2-4zl-19-10M424 792l-7 0l1-5zl-21-7M445 788l-8 2l1-5zl-22-3M464 785l-7 3l0-5zl-21 0M483 783l-7 3l-1-5zl-21 2M500 780l-6 4l-1-4zl-18 5M517 779l-6 5l-2-5zl-16 6M532 777l-5 6l-3-4zl-11 8M545 774l0 8l-5-2zl-4 11M558 772l3 6l-4 1zl2 13M571 772l6 5l-4 3zl9 13M586 776l7 2l-2 4zl13 9M603 782l8-1l-1 5zl16 3M622 788l6-4l1 5zl16-3M639 793l6-5l2 4zl19-8M657 798l5-6l3 4zl21-13M677 805l3-7l4 4zl20-20M700 805l3-7l4 3zl17-20M720 793l6-5l2 4zl16-8M739 792l5-5l2 4zl17-7M756 788l7-3l1 4zl20-3M772 785l7-2l0 5zl23 0M787 784l7-2l0 4zl28 1M802 783l7-2l0 5zl32 2M818 783l8-2l-1 4zl36 2M836 783l7-2l0 5zl38 2M856 784l7-2l0 5zl37 1M877 785l7-2l0 5zl36 0M900 785l7-2l0 5zl32 0M924 784l8-3l-1 5zl28 1M951 780l7-1l-1 5zl20 5M978 775l7 2l-3 4zl13 10M1006 771l4 6l-4 2zl5 14M1033 772l1 7l-5-1zl-3 13M1058 777l-3 6l-4-3zl-8 8M1080 785l-7 2l1-4zl-11 0M1100 793l-7-2l3-4zl-11-8M1118 798l-6-4l4-3zl-9-13M1135 798l-6-5l5-2zl-7-13M1150 797l-4-7l5-1zl-2-12M1164 795l0-8l5 2zl3-10M1177 794l4-7l3 4zl10-9M1190 793l5-5l2 4zl16-8M1202 791l7-4l1 4zl24-6M1217 786l6-2l1 4zl29-1M1234 781l7-2l0 5zl31 4M1255 774l8 0l-2 5zl30 11M1280 769l7 1l-3 4zl24 16M1307 765l6 4l-4 3zl17 20M46 753l7 0l-2 5zl24 12M72 750l7 3l-3 4zl18 15M99 749l6 4l-4 3zl11 16M125 748l4 6l-5 1zl4 17M149 748l2 7l-5 0zl0 17M172 749l1 7l-5-1zl-4 16M195 751l-1 7l-4-2zl-7 14M217 755l-3 7l-4-4zl-9 10M238 760l-6 5l-2-4zl-11 5M258 765l-7 2l0-4zl-11 0M278 771l-7-1l2-5zl-12-6M298 776l-7-3l3-4zl-12-11M319 779l-7-3l4-3zl-14-14M340 782l-7-4l4-3zl-15-17M361 782l-7-4l4-3zl-16-17M381 780l-6-3l3-4zl-17-15M401 776l-7-1l3-4zl-17-11M420 773l-7-1l2-5zl-17-8M438 769l-7 0l1-4zl-15-4M457 766l-7 2l0-5zl-14-1M476 763l-7 3l-1-4zl-14 2M494 761l-6 5l-2-5zl-12 4M511 760l-5 5l-2-4zl-10 5M527 757l-3 7l-3-3zl-6 8M542 755l1 7l-4-1zl-1 10M556 753l5 6l-5 1zl4 12M571 754l7 4l-4 3zl9 11M589 760l7 1l-2 4zl10 5M607 766l7-3l0 5zl12-1M626 770l5-5l2 4zl12-5M644 773l4-6l3 5zl14-8M661 777l4-6l3 4zl17-12M679 786l3-7l4 3zl18-21M701 787l2-7l4 2zl16-22M718 770l6-4l1 4zl18-5M733 769l7-4l0 5zl23-4M748 764l7-2l0 5zl28 1M762 761l7-2l0 5zl33 4M776 760l7-2l0 5zl39 5M792 761l7-2l0 5zl42 4M810 762l7-2l0 5zl44 3M830 764l7-2l0 5zl44 1M852 767l7-3l0 5zl41-2M874 768l7-3l0 5zl39-3M898 769l6-3l1 5zl34-4M923 768l6-3l1 5zl29-3M949 766l7-3l0 5zl22-1M977 762l8-1l-1 5zl14 3M1006 758l6 5l-4 2zl5 7M1034 758l-1 7l-4-3zl-4 7M1060 761l-6 5l-1-5zl-10 4M1083 767l-8 1l1-5zl-14-2M1102 773l-7-2l2-4zl-13-8M1118 776l-6-4l4-3zl-9-11M1133 776l-5-5l4-2zl-5-11M1147 774l-2-7l5 0zl1-9M1160 771l3-6l3 4zl7-6M1171 769l6-4l2 5zl16-4M1183 768l7-3l0 4zl23-3M1195 766l7-2l0 4zl31-1M1209 764l7-2l0 5zl37 1M1226 762l7-2l0 5zl39 3M1247 759l7-2l0 5zl38 6M1272 756l7-1l-1 5zl32 9M1300 754l7 0l-2 5zl24 11M47 739l8-1l-1 5zl23 5M73 736l8 1l-3 4zl17 8M99 734l7 3l-4 4zl11 10M124 732l5 5l-4 2zl5 12M149 730l2 7l-5 0zl0 14M173 730l0 8l-5-2zl-5 14M196 732l-2 7l-4-3zl-8 12M218 735l-3 6l-4-3zl-10 9M240 739l-6 5l-1-4zl-13 5M261 745l-7 2l0-5zl-14-1M281 750l-7 0l2-5zl-15-6M302 755l-7-2l3-4zl-16-11M323 759l-7-2l3-4zl-18-15M344 761l-7-3l3-3zl-19-17M363 761l-6-3l3-4zl-18-17M382 758l-7-3l3-3zl-18-14M400 754l-7-2l2-4zl-16-10M418 750l-8-1l2-4zl-15-6M436 747l-7 1l0-5zl-13-3M455 745l-7 2l0-5zl-12-1M474 743l-6 3l-1-5zl-12 1M493 741l-6 4l-2-4zl-11 3M511 739l-5 6l-3-4zl-10 5M528 737l-3 7l-4-3zl-7 7M544 734l0 8l-4-2zl-3 10M561 733l2 7l-5 0zl-1 11M578 736l4 6l-5 1zl2 8M595 741l7 3l-3 3zM615 748l3-6l4 3zM634 751l2-7l4 3zl4-7M652 753l2-7l4 2zl6-9M669 756l2-7l4 3zl9-12M687 766l1-7l4 2zl10-22M706 766l1-8l4 3zl11-22M720 744l7-2l0 4zl16 0M732 743l7-2l0 5zl24 1M746 739l7-1l-1 4zl30 5M761 736l7-1l-1 5zl34 8M778 737l7-1l-1 5zl37 7M798 739l7-1l-1 5zl36 5M820 743l7-2l0 4zl34 1M843 746l7-3l0 5zl31-2M865 748l7-3l1 5zl28-4M888 750l6-4l1 5zl25-6M910 751l6-4l1 5zl22-7M933 752l6-5l1 4zl19-8M958 750l5-5l2 5zl13-6M985 748l5-6l2 5zl6-4M1016 745l-7 2l0-5zM1040 743l-7 3l0-4zl-10 1M1065 744l-7 3l0-5zl-15 0M1087 748l-8 1l1-5zl-18-4M1105 752l-7-1l2-4zl-16-8M1121 754l-7-3l3-3zl-12-10M1135 753l-6-4l3-3zl-7-9M1148 751l-3-7l5 0zl0-7M1160 748l6-5l2 4zl7-4M1173 746l6-3l1 4zl14-2M1184 744l8-2l-1 5zl22 0M1197 744l7-3l0 5zl29 0M1211 744l7-3l0 5zl35 0M1228 743l7-2l0 5zl37 1M1249 743l7-2l0 5zl36 1M1273 743l7-2l0 4zl31 1M1299 742l7-2l0 5zl25 2M48 724l7-2l0 5zl22 0M73 722l7-1l0 5zl17 2M98 720l7 0l-1 4zl12 4M123 717l6 3l-4 3zl6 7M147 714l4 7l-5 1zl2 10M171 713l1 8l-5-2zl-3 11M195 714l-2 7l-4-3zl-7 10M217 716l-3 6l-4-3zl-9 8M239 720l-5 4l-2-4zl-12 4M261 724l-7 3l0-5zl-14 0M281 729l-7 0l1-4zl-15-5M302 734l-7-2l2-4zl-16-10M322 738l-7-3l3-4zl-17-14M341 739l-7-3l3-4zl-16-15M359 737l-7-3l3-3zl-14-13M376 734l-7-3l3-4zl-12-10M393 729l-7-1l2-4zl-9-5M410 726l-7 1l1-5zl-7-2M429 724l-7 3l0-5zM449 723l-7 4l-1-5zM467 721l-4 6l-3-4zl-5 3M486 719l-2 7l-4-3zl-4 5M504 717l0 7l-5-1zl-3 7M523 715l1 7l-5-1zl-2 9M542 712l2 8l-5-1zl-1 12M562 711l1 8l-4-1zl-2 13M582 714l1 8l-5-1zl-2 10M602 719l-1 8l-5-2zM620 729l-4-6l5-1zM638 730l-2-7l5 0zM656 731l0-8l4 2zl2-7M675 734l0-7l4 1zl3-10M693 744l-1-7l5 1zl4-20M710 743l0-8l5 2zl7-19M723 716l7 1l-2 4zl13 8M735 717l8 0l-2 4zl21 7M750 713l8 1l-2 4zl26 11M769 713l7 0l-2 5zl26 11M790 716l7 0l-1 4zl25 8M813 720l8-1l-1 5zl21 4M838 723l7-2l0 5zl16 1M861 726l7-3l1 4zl13-2M883 728l6-5l2 5zl10-4M904 729l5-5l2 4zl9-5M925 731l3-6l3 3zl7-7M946 733l2-7l4 2zl6-9M969 733l0-7l4 1zl2-9M994 732l-5-5l5-2zl-3-8M1020 730l-7-2l2-4zl-9-6M1046 727l-8 1l1-5zl-16-3M1069 726l-7 2l0-5zl-19-2M1089 727l-7 1l1-4zl-20-3M1107 729l-8 0l1-4zl-18-5M1122 729l-7 0l1-4zl-13-5M1136 728l-7-1l2-4zl-8-4M1152 728l-7-3l3-4zM1162 723l8-1l-2 5zM1176 721l7 0l-1 4zl11 3M1189 720l8-1l-2 5zl17 4M1203 720l7-1l-1 5zl23 4M1218 722l7-2l0 5zl28 2M1235 723l7-2l0 5zl30 1M1255 725l7-2l0 4zl30-1M1277 726l7-3l0 5zl27-2M1301 726l7-3l1 5zl23-2M53 710l6-5l1 5zl17-6M76 709l6-5l2 5zl14-5M100 706l6-4l1 5zl10-2M124 703l7-1l-1 5zM148 699l3 6l-4 1zM172 699l-2 7l-4-3zM195 699l-4 6l-3-4zl-7 5M218 700l-6 5l-2-5zl-10 4M240 702l-7 3l-1-4zl-13 2M261 705l-8 2l1-5zl-14-1M281 709l-8 0l2-4zl-15-5M300 714l-7-2l3-4zl-14-10M318 716l-6-3l3-3zl-13-12M335 717l-6-4l4-3zl-10-13M352 715l-6-5l4-3zl-7-11M368 711l-5-5l4-2zl-4-7M386 709l-5-6l4-2zM404 709l-3-6l5-1zM418 704l7-2l0 4zM438 701l7 2l-2 4zM457 699l7 3l-3 4zl5 5M475 697l6 3l-3 4zl7 7M494 695l6 4l-3 3zl7 9M515 693l5 5l-4 3zl6 11M537 691l4 7l-4 1zl4 13M561 690l2 7l-5 0zl-1 14M583 692l0 7l-4-1zl-3 12M603 697l-1 8l-5-3zl-4 7M624 702l-6 5l-2-5zM641 709l-5-6l4-2zM659 709l-4-6l5-1zM679 712l-3-6l4-1zl-1-8M698 722l-3-7l5 0zl-1-18M714 718l-1-7l5 1zl3-14M728 689l5 5l-4 2zl8 15M742 692l7 2l-3 4zl14 12M760 690l7 3l-4 4zl16 14M780 692l7 2l-3 4zl15 12M803 696l7 2l-3 4zl12 8M826 700l8 1l-2 4zl8 4M849 704l7-2l0 5zM869 707l5-6l2 4zM890 708l2-7l4 3zM911 709l0-7l4 1zM933 711l-3-7l5 0zl-1-7M955 715l-4-6l4-2zl-3-11M978 717l-5-5l4-2zl-7-13M1002 717l-7-4l4-3zl-11-13M1025 714l-7-2l3-4zl-14-10M1047 710l-7 0l1-4zl-17-6M1068 708l-8 1l1-5zl-18-4M1086 706l-7 2l1-5zl-17-2M1103 706l-7 1l1-4zl-14-2M1119 706l-7 1l0-5zl-10-2M1134 704l-7 2l0-4zM1150 699l-1 8l-4-2zM1164 699l6 4l-4 3zM1179 697l7 3l-3 3zl8 7M1195 696l7 2l-3 4zl11 8M1210 697l8 0l-2 5zl16 7M1227 699l7-1l-1 5zl19 5M1245 702l7-2l-1 5zl20 2M1264 705l7-3l0 5zl21-1M1285 706l7-3l0 5zl19-2M1307 707l7-4l0 5zl17-3M64 693l2-7l4 2zl6-9M86 693l1-8l4 2zl4-9M108 691l-1-8l5 2zl2-7M130 689l-4-6l5-1zM153 686l-7-1l2-4zM176 684l-7 2l1-5zl-8 0M199 684l-7 2l0-5zl-11 0M221 684l-7 2l0-5zl-13 0M243 685l-7 2l0-5zl-16-1M263 687l-7 1l1-5zl-16-3M283 690l-8 0l2-5zl-17-6M301 693l-8-2l3-4zl-15-9M317 695l-6-3l3-4zl-12-11M333 695l-6-4l4-3zl-8-11M349 693l-5-5l4-2zl-4-9M365 691l-3-7l5 0zl-1-7M382 689l0-8l5 2zM399 687l4-6l3 4zM416 685l7-4l1 5zl7-1M433 682l7-1l-1 5zl10 2M450 679l7 1l-1 4zl12 5M469 677l7 1l-2 4zl13 7M489 676l7 2l-2 4zl12 8M512 675l7 3l-4 3zl9 9M537 673l4 6l-4 1zl4 11M562 670l2 8l-5-1zl-2 14M586 670l-1 8l-4-2zl-6 14M608 674l-3 7l-3-3zl-9 10M628 680l-6 5l-2-5zl-9 4M647 684l-7 2l0-4zl-9 0M667 688l-7-1l2-4zl-9-4M687 691l-7-2l3-4zl-9-7M705 700l-5-6l4-2zl-8-16M720 695l-4-6l4-2zl-3-11M736 665l3 7l-5 0zl0 19M754 669l3 7l-4 0zl2 15M773 669l4 7l-5 1zl3 15M794 671l3 7l-5 1zl1 13M815 676l2 7l-5 0zl0 8M835 679l1 7l-4-1zM854 679l2 7l-5-1zM868 685l6-4l2 5zM896 688l-6-4l4-3zM917 689l-6-4l3-3zl-4-5M941 694l-7-4l4-3zl-9-10M964 698l-6-3l3-4zl-12-14M987 701l-7-4l4-3zl-16-17M1007 701l-6-3l3-4zl-16-17M1026 698l-6-3l3-4zl-15-14M1044 693l-7-1l3-4zl-14-9M1062 690l-8-1l3-4zl-12-6M1079 688l-7-1l2-4zl-10-4M1096 687l-7-1l2-4zl-7-3M1114 685l-8 1l2-5zM1133 682l-6 5l-1-5zM1146 679l5 5l-5 2zM1164 678l5 5l-4 2zl3 6M1182 675l6 5l-4 3zl5 9M1201 674l6 5l-5 3zl5 10M1220 675l6 5l-4 2zl6 9M1239 677l7 4l-3 3zl7 7M1259 681l7 0l-2 5zl6 3M1278 684l7-3l0 5zl7 0M1298 686l6-4l1 4zl6-2M1318 687l5-5l2 4zl6-3M77 672l-6-4l3-3zl-7-8M96 672l-6-4l4-3zl-6-8M116 671l-6-3l4-3zl-6-7M137 670l-7-3l3-3zl-8-6M159 668l-8-1l2-4zl-10-4M181 667l-8 0l1-4zl-13-3M203 666l-8 1l1-5zl-15-2M225 665l-8 2l1-5zl-17-1M246 665l-8 2l1-5zl-19-1M266 667l-8 1l1-5zl-19-3M284 669l-7 0l1-5zl-18-5M302 671l-8-1l2-4zl-16-7M318 672l-8-2l3-4zl-13-8M333 672l-7-3l4-4zl-8-8M348 671l-5-5l4-2zl-3-7M364 670l-2-7l5 0zM379 668l4-7l3 4zM395 667l5-5l2 5zl8-3M413 665l6-3l1 4zl10-1M431 662l8-1l-1 4zl12 2M451 660l7 0l-2 4zl11 4M471 658l8 1l-2 5zl11 6M494 658l7 2l-3 4zl7 6M518 657l5 6l-4 2zl3 7M543 655l0 8l-4-2zl-2 9M568 652l-2 7l-4-2zl-8 12M594 651l-4 6l-3-3zl-14 13M617 653l-4 6l-3-5zl-18 11M639 658l-6 4l-2-5zl-20 6M659 663l-7 2l0-4zl-21 1M679 667l-7 1l1-5zl-21-3M699 670l-8 0l2-4zl-21-6M716 676l-7-1l3-4zl-19-12M731 671l-8-1l3-5zl-14-7M750 644l-2 7l-4-3zl-14 20M771 648l-3 7l-3-4zl-15 16M792 649l-3 6l-3-3zl-16 15M813 651l-4 6l-3-4zl-18 13M833 654l-5 6l-2-5zl-18 10M851 658l-6 4l-1-4zl-17 6M870 661l-7 3l0-4zl-16 3M890 664l-7 2l0-5zl-16 0M912 667l-8 1l1-4zl-19-3M935 672l-7 0l1-5zl-22-8M958 677l-7-1l2-4zl-26-13M979 682l-7-2l3-4zl-27-18M997 683l-7-2l3-4zl-26-19M1013 682l-7-3l3-3zl-22-18M1026 679l-6-3l3-4zl-15-15M1040 675l-6-4l3-3zl-10-11M1056 672l-6-4l4-3zl-6-8M1075 671l-6-4l4-3zl-6-7M1096 670l-7-3l3-4zl-7-6M1115 667l-8-1l3-5zl-6-3M1133 666l-7-1l1-4zM1144 660l7 3l-4 4zM1165 659l5 5l-4 2zM1186 657l3 7l-4 0zl1 7M1209 656l0 7l-5-1zl-3 8M1231 656l-2 7l-4-2zl-5 8M1253 658l-4 6l-3-4zl-7 6M1274 661l-6 4l-1-4zl-9 3M1294 664l-7 2l1-5zl-9 0M1313 667l-7 0l2-5zl-9-3M1332 668l-7-1l2-4zl-8-4M84 649l-7-1l1-4zl-14-6M102 649l-8-1l2-4zl-12-6M120 649l-8-1l3-4zl-10-6M139 648l-8-1l3-4zl-10-5M159 647l-8 0l2-5zl-10-4M180 646l-8 1l1-5zl-12-3M201 644l-7 2l0-5zl-13-1M222 644l-7 2l0-5zl-14-1M243 643l-7 3l0-5zl-16 0M263 644l-7 2l0-5zl-16-1M281 645l-7 2l1-5zl-15-2M298 646l-7 1l1-5zl-12-3M314 647l-7 0l2-5zl-9-4M330 647l-7-2l3-4zM346 648l-4-6l4-1zM359 644l7-3l0 5zM366 639l7-1l-1 5zl18 4M372 643l8-3l-1 5zl31 0M401 647l7-3l1 4zl22-4M433 642l7-1l-1 4zl10 1M456 639l7 2l-2 4zl6 4M479 639l6 5l-5 2zM503 638l0 8l-4-2zM526 638l-3 7l-4-3zl-5 5M549 637l-4 6l-3-4zl-8 6M573 634l-4 6l-3-4zl-13 9M599 633l-5 5l-3-4zl-19 10M624 633l-6 5l-2-4zl-25 10M647 636l-7 4l-1-4zl-28 7M668 641l-7 3l0-5zl-30 2M688 645l-7 2l0-5zl-30-2M707 647l-7 1l0-4zl-29-4M724 652l-7 0l1-5zl-27-9M739 646l-7 2l0-5zl-22-3M761 624l-4 6l-3-4zl-25 19M787 628l-5 5l-2-4zl-31 15M812 629l-6 5l-2-5zl-36 14M835 630l-6 5l-1-5zl-40 13M857 633l-6 4l-1-4zl-42 10M877 637l-6 3l-1-4zl-43 6M898 641l-7 2l0-4zl-44 2M919 645l-7 2l0-5zl-45-2M940 649l-8 2l1-5zl-47-6M960 654l-7 0l1-4zl-47-11M978 658l-8 0l2-5zl-46-15M992 660l-7 0l2-5zl-40-17M1004 660l-8-1l3-4zl-33-17M1013 658l-7-2l3-4zl-22-15M1024 656l-7-4l3-3zl-13-13M1036 654l-5-5l4-3zl-6-11M1053 654l-4-6l4-1zl-3-11M1077 657l-5-5l4-2zl-8-14M1105 655l-7-2l3-4zl-16-12M1125 647l-7 1l1-5zl-16-4M1136 641l-6 4l-1-4zl-8 2M1149 638l1 8l-5-2zM1167 638l3 7l-5 0zM1190 639l-2 7l-4-3zM1214 637l-4 7l-3-4zl-8 6M1239 637l-5 5l-2-4zl-13 6M1263 639l-6 4l-1-5zl-17 4M1286 641l-7 3l0-4zl-21 2M1307 644l-8 2l1-4zl-22-1M1326 647l-8 1l1-5zl-22-4M1343 649l-7 0l1-4zl-19-6M84 627l-8 0l2-4zl-14-4M100 627l-7 0l2-5zl-10-4M118 627l-8-1l2-4zl-8-4M135 626l-7-1l2-4zl-6-3M154 625l-7 0l1-5zM174 624l-7 1l0-4zM194 623l-7 3l0-5zM215 622l-7 4l-1-5zl-7 1M235 622l-7 3l-1-4zl-8 1M255 622l-7 3l-1-4zl-8 1M273 622l-6 3l-1-4zl-7 1M291 622l-6 4l-1-5zM311 622l-7 4l-1-5zM321 620l7 3l-3 3zM340 621l7 1l-2 4zM357 615l7 4l-4 3zl7 8M369 602l6 4l-4 3zl15 21M383 617l7 0l-1 5zl20 6M409 635l4-7l3 4zl14-12M437 623l7-2l0 5zM462 617l3 7l-5 0zM485 617l-1 7l-4-2zl-3 6M507 617l-3 7l-4-3zl-6 6M528 617l-3 6l-4-3zl-7 6M550 616l-4 6l-3-4zl-9 7M572 615l-4 6l-3-4zl-12 8M596 614l-5 5l-2-4zl-16 9M621 614l-6 5l-2-4zl-22 9M644 616l-6 4l-1-4zl-25 7M666 619l-7 3l-1-5zl-28 4M685 621l-6 3l-1-5zl-27 2M704 623l-7 2l0-5zl-26 0M721 626l-7 1l0-4zl-24-3M737 622l-6 3l-1-5zl-20 1M763 606l-5 6l-2-4zl-27 17M792 609l-6 5l-1-5zl-36 14M820 610l-6 4l-2-4zl-44 13M846 611l-6 4l-1-4zl-51 12M871 614l-6 3l-1-4zl-56 9M895 617l-7 3l-1-4zl-61 6M916 621l-7 3l0-5zl-62 2M936 625l-7 2l0-4zl-62-2M954 629l-7 2l0-5zl-61-6M969 632l-8 1l1-5zl-56-9M980 634l-7 1l1-5zl-48-11M990 634l-8 1l2-5zl-38-11M997 633l-7 0l2-4zl-26-10M1006 632l-7-2l2-4zl-15-9M1017 630l-6-3l3-3zl-6-7M1031 631l-3-7l5-1zl-1-8M1048 635l-1-7l4 0zl2-12M1067 641l-1-7l4 0zl2-18M1087 638l-1-7l4 1zl2-15M1104 625l5-5l2 5zM1125 615l5 6l-5 1zl3 8M1145 617l5 5l-4 2zl3 6M1167 618l3 7l-5 0zM1191 619l-3 6l-3-3zl-4 4M1216 617l-4 6l-3-4zl-10 6M1241 617l-5 5l-2-5zl-15 6M1266 617l-6 5l-2-5zl-20 6M1288 620l-6 3l-1-5zl-23 3M1310 622l-7 3l-1-5zl-25 1M1329 625l-7 2l0-5zl-25-2M1347 627l-8 1l1-4zl-23-4M82 607l-8 0l2-5zl-12-4M99 607l-8-1l2-4zl-9-4M116 606l-8-1l3-4zl-6-3M134 606l-8-2l3-4zM153 605l-7-1l2-4zM173 604l-7 1l1-5zM193 602l-6 4l-1-5zM212 601l-5 5l-2-5zM232 600l-5 6l-3-4zM251 600l-4 6l-3-4zM269 599l-2 7l-4-3zM284 598l5 6l-5 1zM301 600l7 2l-2 4zM320 600l8 2l-3 4zM339 599l7 2l-2 4zl6 4M361 594l5 6l-5 2zl3 9M396 585l-2 7l-4-2zl-12 18M432 595l-6 4l-1-4zl-29 8M439 607l-7 1l1-5zl-16-4M446 599l-2 7l-4-3zM464 595l1 8l-5-1zl-2 8M485 595l0 8l-5-2zl-3 8M506 596l-2 7l-4-3zl-5 7M526 596l-2 7l-4-3zl-5 7M547 596l-3 7l-4-4zl-6 7M568 596l-4 6l-3-3zl-8 7M590 595l-4 7l-3-4zl-10 8M613 596l-5 5l-3-4zl-14 7M635 596l-6 5l-2-4zl-16 7M656 597l-6 5l-2-5zl-18 6M675 599l-6 4l-1-5zl-17 4M693 599l-6 4l-1-5zl-15 4M711 601l-7 3l0-4zl-14 2M728 599l-6 4l-1-4zl-11 4M753 589l-4 6l-3-4zl-17 14M782 592l-6 5l-1-5zl-26 11M809 593l-6 4l-1-4zl-33 10M836 594l-6 4l-1-5zl-41 9M862 596l-7 4l-1-5zl-47 7M885 599l-7 3l0-5zl-51 4M906 602l-7 3l0-5zl-52 1M923 605l-7 2l1-4zl-49-2M938 607l-7 2l1-5zl-45-4M951 609l-8 1l1-5zl-38-6M961 609l-7 1l1-5zl-29-6M971 609l-7 0l1-4zl-19-6M982 608l-7-1l2-4zl-11-5M995 608l-6-4l3-3zM1010 608l-2-7l5 0zM1027 608l1-7l5 3zl3-5M1042 612l3-7l4 3zl8-9M1053 616l4-6l3 4zl16-13M1061 614l6-5l2 5zl28-11M1079 603l7-2l0 4zl30 0M1108 596l8 0l-2 5zl20 7M1140 597l7 2l-3 4zl8 6M1166 598l4 6l-5 1zM1190 598l-1 7l-4-3zl-3 5M1214 596l-3 7l-4-4zl-8 7M1238 596l-5 5l-2-4zl-12 7M1261 596l-5 5l-2-4zl-15 7M1284 597l-6 5l-2-5zl-19 6M1304 600l-6 3l-1-5zl-19 3M1324 602l-7 3l0-5zl-20 1M1342 604l-7 2l1-5zl-18-1M83 587l-8 0l2-4zl-13-4M100 587l-7-1l2-4zl-10-4M118 586l-7 0l1-5zl-8-3M136 585l-7 0l1-5zl-7-2M154 584l-7 1l1-5zM174 583l-8 2l1-5zM193 583l-7 2l0-5zM213 583l-7 2l0-5zM232 583l-7 2l1-5zM252 584l-7 1l0-5zM271 584l-7 1l1-5zM291 585l-8-1l2-4zM301 580l7 2l-3 4zM321 579l7 3l-3 4zM342 578l6 5l-4 3zM363 578l4 6l-5 1zM389 576l-2 7l-4-3zl-5 7M415 577l-5 5l-2-4zl-12 6M431 578l-4 5l-3-4zl-8 5M447 576l-2 7l-4-2zl-4 7M467 575l-2 8l-4-3zl-5 8M487 576l-2 7l-4-3zl-5 7M508 576l-3 7l-4-4zl-7 7M528 576l-3 7l-4-4zl-7 7M549 577l-5 6l-2-4zl-8 6M569 577l-5 6l-2-4zl-9 6M590 577l-5 6l-2-5zl-10 6M611 577l-6 6l-2-5zl-12 6M631 577l-5 5l-2-4zl-12 6M651 578l-6 5l-2-5zl-13 5M669 578l-5 5l-2-5zl-11 5M687 578l-5 5l-2-4zl-9 5M705 579l-5 5l-2-4zl-8 4M722 578l-3 6l-4-3zl-5 5M744 572l-2 7l-4-2zl-8 11M768 575l-4 5l-3-4zl-12 8M792 576l-6 5l-2-5zl-16 7M815 577l-6 4l-2-4zl-20 6M837 579l-7 3l0-4zl-22 4M858 581l-7 3l-1-5zl-24 2M876 583l-7 2l1-4zl-22 0M893 585l-7 2l1-5zl-19-2M909 587l-7 0l1-4zl-16-4M923 587l-7 0l2-5zl-10-4M938 588l-7-3l3-4zl-6-5M953 588l-4-6l5-1zM970 588l0-7l4 1zM987 588l2-7l4 3zl4-5M1006 588l3-7l3 3zl5-5M1025 588l3-7l4 4zl5-5M1043 589l4-7l3 4zl7-6M1059 590l4-6l3 4zl10-7M1072 588l6-4l2 4zl17-5M1091 584l7-3l0 5zl18-1M1117 581l7-1l0 5zl11 2M1143 580l7 1l-2 5zM1168 577l1 8l-4-1zM1190 578l-2 8l-4-3zM1212 577l-3 7l-4-4zl-6 6M1234 577l-4 6l-3-4zl-8 6M1256 577l-5 6l-3-5zl-10 6M1277 578l-6 5l-2-5zl-12 5M1297 579l-6 4l-2-4zl-12 4M1316 581l-6 3l-1-5zl-12 2M1335 582l-6 3l-1-5zl-11 1M84 566l-8 0l1-4zl-14-4M103 565l-8 1l1-5zl-13-3M122 564l-8 2l1-5zl-12-2M140 563l-7 2l1-5zl-11-1M159 562l-7 3l0-5zl-10 0M178 562l-7 3l0-5zl-10 0M197 562l-7 3l0-5zl-9 0M216 562l-7 3l0-5zl-8 0M235 562l-7 3l0-5zl-8 0M254 562l-7 3l0-5zl-7 0M273 563l-7 2l0-5zl-7-1M292 563l-7 2l0-5zM311 562l-7 3l0-5zM330 562l-6 3l-1-5zM350 561l-6 4l-1-4zM370 560l-5 5l-2-4zl-6 2M391 559l-5 5l-3-4zl-7 3M412 558l-5 6l-3-5zl-9 4M433 558l-6 5l-2-4zl-10 4M454 557l-6 5l-2-4zl-11 5M475 557l-6 5l-1-4zl-13 5M496 557l-5 5l-2-5zl-14 5M518 557l-6 5l-1-5zl-17 5M539 558l-6 4l-1-5zl-18 4M561 558l-7 4l-1-5zl-20 4M581 559l-6 3l-1-5zl-21 3M602 559l-6 3l-1-4zl-22 3M622 559l-6 3l-1-4zl-23 3M642 559l-7 3l-1-4zl-23 3M660 559l-6 3l-1-5zl-22 3M678 558l-6 4l-1-5zl-20 4M696 558l-7 4l-1-5zl-18 4M712 558l-6 4l-1-4zl-15 4M728 558l-5 5l-2-5zl-11 4M746 555l-4 6l-3-4zl-10 7M765 556l-4 6l-3-4zl-9 6M784 557l-5 6l-2-4zl-8 5M802 558l-4 6l-3-4zl-7 4M821 560l-6 5l-2-5zl-6 2M839 561l-6 4l-1-4zM859 564l-7 0l1-4zM874 568l-3-7l5-1zM891 567l1-7l4 2zM909 568l2-7l4 3zl4-6M927 569l3-7l3 3zl5-7M946 570l2-7l4 3zl6-8M965 570l3-7l4 3zl6-8M986 570l2-7l4 3zl5-8M1006 570l2-7l4 2zl5-8M1027 569l1-7l4 2zl3-7M1047 568l1-7l4 2zM1067 567l1-7l4 2zM1086 567l2-7l4 2zM1106 567l1-7l5 2zM1132 566l-7-3l4-3zM1153 562l-7 3l0-5zM1172 561l-6 4l-1-4zM1192 561l-6 4l-1-4zM1212 561l-6 4l-1-4zM1232 561l-6 4l-1-5zl-6 1M1252 561l-6 4l-1-5zl-6 1M1272 562l-6 3l-1-5zl-7 0M1292 562l-7 3l0-5zl-7 0M1311 562l-7 3l0-5zl-7 0M1330 562l-7 3l0-5zl-6 0M81 543l-7 2l0-5zl-11-1M101 543l-7 2l0-5zl-11-1M121 542l-7 3l0-5zl-11 0M141 541l-7 3l0-5zl-12 1M160 541l-6 3l-1-5zl-11 1M180 540l-7 4l0-5zl-12 2M199 540l-6 4l-1-5zl-11 2M218 540l-6 4l-1-5zl-10 2M237 540l-6 4l-1-5zl-10 2M256 540l-6 4l-1-5zl-9 2M275 540l-6 4l-1-5zl-9 2M295 540l-7 4l-1-5zl-9 2M314 540l-6 4l-2-5zl-9 2M333 540l-6 4l-1-4zl-8 2M353 540l-6 4l-1-5zl-8 2M373 539l-6 5l-1-5zl-9 3M394 539l-6 5l-2-5zl-10 3M414 539l-6 4l-1-4zl-11 3M436 539l-6 4l-2-5zl-13 3M458 539l-7 4l-1-5zl-15 3M480 538l-7 4l-1-4zl-18 4M502 538l-7 4l-1-5zl-20 4M524 538l-6 4l-1-5zl-23 4M546 539l-6 3l-1-5zl-25 3M568 539l-7 3l0-5zl-27 3M590 539l-7 3l-1-5zl-30 3M610 539l-6 3l-1-5zl-30 3M631 539l-7 3l-1-5zl-32 3M650 539l-7 3l0-5zl-31 3M669 539l-7 3l-1-5zl-31 3M686 539l-6 3l-1-5zl-28 3M704 539l-7 3l-1-5zl-26 3M720 538l-7 4l0-5zl-23 4M735 538l-6 4l-1-5zl-18 4M752 537l-6 4l-2-4zl-16 5M768 537l-5 5l-2-4zl-12 5M784 538l-5 5l-2-4zl-8 4M801 538l-5 6l-2-4zl-6 4M818 538l-3 7l-3-3zM834 537l3 7l-5 0zM849 543l6-3l1 4zM869 545l5-6l2 5zM888 546l4-6l3 4zl5-4M906 548l4-6l3 3zl7-6M926 549l3-6l3 3zl6-7M946 550l2-7l4 3zl6-8M966 551l2-8l4 3zl5-9M987 550l1-7l4 2zl4-8M1008 549l0-7l5 2zl3-7M1029 548l-1-7l5 0zM1050 547l-3-6l5-1zM1072 546l-6-4l4-3zM1094 544l-8 0l2-5zM1114 543l-7 2l0-5zM1133 542l-6 3l-1-5zM1153 542l-6 3l-1-5zM1173 542l-7 3l0-5zM1193 543l-7 2l0-5zM1213 544l-8 0l1-4zl-7-2M1232 544l-7 0l1-4zl-6-2M1251 545l-7-1l2-4zl-5-3M1271 545l-8-1l3-4zM1290 545l-7-1l2-4zM1309 545l-7-1l2-5zM1329 544l-7 0l1-5zM76 522l-7 3l0-5zM96 522l-7 3l-1-5zM116 522l-7 2l0-4zM136 521l-7 3l0-4zl-7 1M156 521l-7 3l0-4zl-7 1M176 520l-7 4l-1-4zl-8 2M195 519l-6 5l-1-4zl-7 3M215 519l-6 5l-2-4zl-7 3M234 518l-5 6l-3-4zl-7 4M253 518l-4 6l-3-4zl-6 4M272 517l-4 7l-3-4zl-6 5M291 517l-3 7l-4-4zl-5 5M310 517l-3 7l-4-3zl-5 5M329 517l-3 7l-4-3zM348 518l-2 7l-4-3zM368 518l-3 7l-4-3zM388 518l-4 7l-3-4zM408 519l-5 6l-2-4zM428 519l-5 6l-2-4zM449 520l-6 4l-2-4zl-6 2M470 519l-6 5l-2-5zl-8 3M491 519l-6 5l-1-5zl-9 3M513 519l-7 4l-1-5zl-12 3M534 519l-6 4l-1-5zl-13 3M555 518l-6 4l-1-4zl-14 4M576 518l-6 4l-1-4zl-16 4M597 518l-6 4l-2-5zl-17 4M617 518l-6 4l-1-5zl-18 4M637 519l-7 3l-1-4zl-18 3M656 519l-7 3l-1-4zl-18 3M674 519l-6 4l-1-5zl-16 3M692 519l-6 4l-1-5zl-14 3M710 519l-6 4l-2-5zl-13 3M727 519l-6 4l-2-4zl-10 3M744 518l-5 6l-2-5zl-8 4M761 518l-4 6l-3-3zM778 517l-1 8l-4-3zM794 517l4 6l-5 1zM811 519l7 2l-4 4zM829 521l8-1l-2 5zM847 522l7-2l0 4zl7 0M866 524l6-4l1 5zl8-2M885 525l5-4l2 4zl8-3M904 527l5-6l2 5zl9-5M924 528l4-6l3 4zl8-6M944 528l4-6l3 4zl8-6M965 528l3-6l4 3zl6-6M986 528l3-7l4 3zl5-6M1007 526l3-7l3 3zM1027 527l2-8l4 3zM1049 527l-1-7l4 1zM1074 520l-5 5l-2-5zM1093 519l-4 6l-3-4zM1113 519l-5 6l-2-4zM1133 519l-5 6l-3-4zM1153 520l-6 5l-2-4zM1172 521l-6 4l-1-5zM1192 522l-7 2l0-4zM1212 523l-8 1l1-5zM1231 524l-8-1l3-4zM1250 525l-7-2l3-4zM1269 525l-7-2l3-4zM1289 525l-7-2l3-4zM1309 525l-7-2l2-4zM1329 524l-8 0l2-5zM75 504l-7-1l2-4zM95 504l-8-1l3-4zM114 505l-7-2l2-4zM134 505l-8-2l3-4zM153 504l-7-1l2-4zM173 503l-7 1l1-5zM193 501l-7 3l0-4zM212 499l-5 6l-2-4zM230 498l-2 7l-4-3zM249 497l-1 7l-4-1zM267 497l1 7l-4-1zM286 497l2 7l-5 0zM305 497l3 6l-5 1zM323 497l5 6l-5 1zM342 497l6 5l-5 3zM361 498l6 4l-3 3zM380 499l7 2l-3 4zM399 500l7 0l-2 5zM418 501l7-1l-1 5zM437 501l8-1l-1 5zM457 501l7-1l-1 5zM477 500l7 0l-2 5zM497 499l7 2l-3 4zM517 498l7 4l-4 3zM538 497l5 5l-4 3zM558 497l5 6l-5 1zM578 497l4 6l-4 1zM598 497l4 6l-5 1zM618 497l4 6l-5 1zM637 497l4 6l-4 1zM656 497l5 5l-4 2zM674 498l7 4l-4 3zM693 499l7 2l-3 4zM712 499l7 2l-2 4zM731 500l7 0l-1 5zM749 500l8 0l-2 4zl7 2M768 500l7-1l-1 5zl8 2M786 501l7-2l0 5zl9 1M804 502l7-3l0 5zl11 0M823 502l7-2l0 4zl11 0M842 503l6-3l1 5zl12-1M861 504l6-3l1 4zl13-2M880 505l6-4l2 5zl13-3M900 506l6-4l2 4zl13-4M920 506l6-4l2 4zl12-4M941 506l5-5l2 5zl11-4M961 506l6-5l2 4zl10-4M982 505l6-5l2 5zl9-3M1003 504l6-4l1 4zl8-2M1024 502l7-3l0 5zM1045 501l7-1l-1 5zM1065 499l7 2l-2 4zM1085 498l7 3l-4 4zM1106 497l6 5l-5 3zM1126 497l5 6l-4 1zM1146 497l4 6l-4 1zM1167 497l3 6l-5 1zM1187 497l2 7l-5-1zM1210 498l-3 7l-3-3zM1231 503l-7 1l1-5zM1250 505l-7-2l2-4zM1270 504l-7-1l2-4zM1290 504l-8-1l2-4zM1310 502l-8 2l1-5zM1329 501l-6 3l-1-4zM75 483l-7 0l1-4zM94 485l-7-2l3-4zM113 485l-6-3l3-3zM132 486l-6-4l4-3zM151 486l-5-5l4-2zM171 486l-6-5l5-2zM190 486l-5-5l4-2zM210 486l-5-5l4-2zM230 486l-6-5l4-2zM251 484l-7-1l2-4zM269 477l-2 7l-4-2zM286 476l2 7l-5 0zM305 476l3 7l-5 1zM323 477l5 5l-4 2zM340 479l7 1l-2 5zM359 482l7-3l0 5zM379 484l5-5l2 4zM399 485l5-6l2 4zM419 485l4-6l3 4zM438 484l5-5l2 4zM457 484l6-5l2 4zM477 483l6-4l1 4zM496 483l6-4l1 5zM515 482l7-3l0 5zM534 481l7-2l-1 5zl7 1M552 481l8-2l-1 5zl8 1M571 480l8-1l-1 5zl9 2M590 480l8-1l-1 4zl9 2M610 479l7 0l-1 4zl9 3M629 479l7 0l-1 4zl9 3M648 479l7 0l-1 4zl10 3M667 480l8-1l-1 4zl11 2M687 480l7-1l-1 4zl10 2M706 481l7-2l0 5zl11 1M726 482l7-3l0 5zl10 0M745 482l7-3l0 5zl11 0M765 483l6-3l1 5zl11-1M784 484l6-4l1 5zl11-2M804 485l6-4l1 4zl11-3M823 486l6-5l2 5zl11-4M843 486l5-5l2 5zl11-4M862 486l6-5l2 5zl12-4M882 486l6-5l1 5zl11-4M902 486l5-5l2 5zl11-4M922 485l5-4l2 4zl10-3M942 485l6-5l1 5zl10-3M962 484l6-4l1 5zl9-2M982 483l6-3l1 4zl9-1M1002 482l6-3l1 5zl9 0M1022 482l7-3l0 5zl8 0M1042 481l7-2l-1 5zl8 1M1061 481l8-2l-1 5zl8 1M1081 481l8-2l-1 5zl8 1M1101 481l8-2l-1 5zl8 1M1121 481l8-2l-1 5zl7 1M1142 481l7-2l-1 5zM1162 481l7-2l-1 5zM1182 481l7-1l-1 4zM1201 481l8-1l-1 4zM1221 480l7 0l-1 4zM1241 479l7 2l-2 4zM1264 477l4 5l-4 2zM1287 477l-1 7l-4-2zM1308 478l-3 7l-3-4zM1328 479l-4 6l-3-4zM76 461l-7 3l0-5zM95 462l-7 2l0-5zM115 463l-8 0l1-4zM134 463l-7 0l2-5zM153 464l-7-2l3-4zM172 465l-7-3l4-4zM191 465l-6-3l4-4zM211 466l-6-5l3-2zM230 466l-6-5l4-2zM250 465l-6-3l3-4zM270 465l-7-3l3-4zM290 464l-7-2l3-4zM310 464l-7-1l2-5zM330 464l-8-1l3-5zM349 464l-7-1l2-5zM369 464l-7-1l2-5zM388 464l-7-2l3-4zM407 465l-6-3l3-4zM427 465l-7-3l4-4zM445 466l-5-5l4-2zM464 466l-5-5l5-2zM482 467l-3-7l5 0zM500 466l0-7l4 1zM518 465l2-6l4 3zM536 464l5-6l2 4zM555 463l6-4l1 4zM573 462l7-3l0 5zl7-1M592 461l7-2l0 5zl7 0M611 461l7-2l-1 5zl8 0M630 460l7-1l-1 4zl8 1M649 460l7-1l0 4zl9 1M669 460l7-1l-1 4zl9 1M689 461l7-2l-1 5zl8 0M709 461l7-2l0 5zl8 0M729 463l6-4l1 5zl7-2M749 464l6-5l2 5zl7-3M770 465l4-6l3 4zl6-4M790 466l3-6l4 3zl5-5M810 467l3-7l3 3zl5-6M831 468l1-7l4 2zl3-7M851 468l1-8l4 3zl3-7M871 467l1-7l4 2zl3-6M890 466l2-7l4 3zM910 466l2-7l4 2zM928 465l4-7l3 4zM947 464l5-6l3 5zM966 463l6-4l2 4zM986 462l6-3l1 4zM1005 462l7-3l0 5zM1024 462l6-3l1 5zl6-1M1043 463l6-4l1 5zl7-2M1062 463l6-4l1 5zl7-2M1081 464l6-4l1 4zl8-3M1100 464l6-4l2 4zl9-3M1120 465l5-5l2 4zl8-4M1140 464l5-4l2 4zl8-3M1160 464l6-5l1 5zl7-3M1180 463l6-4l2 5zl7-2M1201 462l6-3l1 4zM1221 462l7-3l0 5zM1241 460l7-1l-1 5zM1262 457l6 4l-4 3zM1287 457l-1 7l-4-2zM1309 458l-5 6l-2-4zM1329 459l-6 5l-2-4zM75 439l-5 5l-2-4zM95 439l-5 5l-3-4zM114 438l-5 6l-2-4zM134 438l-5 6l-3-4zM153 438l-4 6l-3-4zM173 439l-5 5l-2-4zM193 439l-6 5l-2-4zM206 446l0-7l4 1zM224 446l2-8l4 3zM245 446l0-7l5 1zM267 446l-3-6l5-1zM289 446l-6-5l4-3zM309 445l-6-3l3-4zM330 444l-7-1l2-5zM350 444l-7-1l2-4zl-5-3M370 444l-7-1l2-4zl-6-3M390 444l-7-1l2-4zl-6-3M410 444l-8-1l2-4zl-7-3M429 444l-7-1l2-4zl-6-3M448 444l-7-1l2-4zl-5-3M467 444l-7-1l3-4zM486 445l-7-3l3-4zM505 445l-7-4l4-3zM523 446l-5-5l4-2zM542 446l-4-6l5-1zM559 446l-1-7l5 1zM577 445l2-7l4 3zM594 443l6-5l2 5zM614 441l7-2l0 5zM633 440l8-1l-1 5zM653 440l7-1l-1 5zM673 439l7 0l-2 5zM692 440l7-1l-1 5zM712 442l6-4l1 5zM733 445l2-7l4 3zM756 446l-2-7l5 1zM776 446l-3-6l5-1zM797 446l-5-6l5-1zM817 447l-5-6l5-1zM837 447l-5-5l4-2zl-3-6M857 447l-6-5l5-3zl-3-6M877 446l-6-5l4-2zM897 445l-7-3l4-4zM917 444l-7-2l3-4zM937 443l-7 0l1-5zM957 440l-6 4l-1-5zM974 437l-1 7l-5-2zM988 437l6 4l-4 3zM1005 440l8-1l-1 5zM1025 442l6-4l1 5zM1045 443l5-5l2 5zM1064 444l5-5l3 4zM1083 445l4-6l3 4zl6-4M1102 446l4-6l3 4zl7-5M1122 447l3-7l3 4zl6-6M1141 447l4-7l3 4zl7-6M1161 446l4-6l3 4zl6-5M1181 445l5-6l2 4zl6-4M1202 444l4-6l3 4zM1221 443l6-5l2 5zM1241 443l6-5l1 5zM1260 441l7-2l0 5zM1288 437l-2 7l-4-3zM1309 439l-5 5l-2-4zM1329 440l-6 4l-1-5zM69 416l4 6l-4 1zM88 416l5 6l-5 1zM107 416l6 5l-5 3zM127 416l5 5l-4 3zM146 416l6 5l-5 3zM166 416l5 5l-4 3zM186 416l5 5l-4 3zM204 417l6 3l-3 4zM221 420l8-1l-1 5zM237 422l7-3l0 5zl10-1M254 424l6-4l1 5zl12-3M275 425l5-5l2 5zl11-4M298 425l5-5l2 4zl7-4M321 425l3-7l4 3zM344 426l-1-7l4 1zM367 425l-6-4l4-3zM388 424l-7-2l3-4zM408 423l-7-1l2-4zM428 423l-8-1l2-4zM447 423l-7-1l2-4zM467 424l-8-2l3-4zM486 424l-7-2l3-4zM505 425l-7-4l4-3zM524 425l-6-4l4-3zM543 426l-5-5l4-3zM562 426l-5-6l5-2zM581 426l-4-6l4-2zM601 426l-5-6l5-2zM623 424l-7-2l3-4zM641 416l-1 8l-5-3zM661 417l-2 7l-4-3zM682 419l-5 5l-2-4zM702 422l-7 1l1-5zM721 424l-7-2l3-4zM740 425l-7-4l4-3zM759 425l-6-4l4-3zM779 425l-6-4l4-3zM798 425l-6-4l4-3zM818 425l-6-4l4-3zM838 425l-7-4l4-3zM858 424l-7-2l3-4zM878 424l-7-2l2-4zM898 422l-7 1l1-5zM918 419l-6 5l-2-5zM936 417l-3 7l-4-3zM954 416l-1 8l-4-3zM973 416l0 7l-4-1zM991 416l2 7l-4 0zM1009 416l4 6l-4 1zM1026 418l7 2l-3 4zM1045 422l6-4l1 5zM1065 424l5-6l2 4zM1085 424l4-6l3 4zM1105 425l3-7l3 3zM1125 425l2-7l4 3zM1144 425l3-7l3 3zM1164 425l3-7l3 3zM1183 425l4-7l3 3zM1202 424l4-6l3 4zM1221 423l5-5l3 4zM1241 422l6-4l1 5zM1260 421l7-2l0 4zM1280 419l7 0l-1 5zM1300 418l7 2l-3 4zM1321 417l6 4l-4 3zM65 401l7-3l0 5zM85 401l7-3l0 5zM104 400l8-1l-1 4zM124 400l7-1l-1 4zM144 399l7 0l-1 4zM164 399l7 0l-2 5zM186 396l5 6l-5 1zM209 396l0 7l-4-1zM226 396l4 6l-5 1zM240 397l7 1l-2 5zl7 4M250 401l7-3l0 5zl16 0M262 405l6-3l1 4zl24-4M280 408l6-4l1 5zl25-7M304 408l6-5l2 5zl21-7M331 406l6-5l1 5zl14-5M356 404l5-5l2 5zl8-3M378 402l6-4l1 5zl6-1M398 402l7-4l0 5zM418 401l7-3l0 5zM437 401l7-3l0 5zM457 400l7-1l0 4zM477 400l7-1l-1 4zM496 400l8-1l-1 4zM516 399l7 0l-1 4zM535 399l8 0l-2 5zM555 399l7 0l-1 5zM575 399l7 0l-1 4zM594 400l7-1l0 4zM614 401l7-3l0 5zM633 402l7-4l1 5zM653 403l6-5l2 4zM673 404l5-6l2 4zM693 404l4-6l3 3zM713 404l3-6l4 3zM733 405l3-7l3 3zM752 405l3-7l4 3zM772 404l3-6l3 3zM791 404l4-6l3 4zM810 403l5-5l2 4zM829 402l6-4l2 4zM849 401l6-3l1 5zM868 400l8-1l-1 4zM888 399l8 0l-2 5zM908 398l7 1l-2 5zM928 398l7 2l-3 4zM948 397l7 3l-3 4zM968 397l6 3l-3 4zM987 397l7 3l-3 4zM1007 397l7 3l-4 4zM1026 398l7 2l-3 4zM1045 398l7 1l-2 5zM1064 401l7-3l0 5zM1084 403l5-5l3 4zM1105 405l3-7l4 3zM1126 405l1-7l4 2zM1145 405l1-7l5 2zM1165 405l1-7l4 2zM1183 405l3-7l4 3zM1202 403l5-5l2 4zM1221 402l6-4l1 5zM1240 400l8-2l-1 5zM1260 400l8-1l-2 4zM1280 399l7 0l-1 5zM1300 399l7 0l-2 5zM1319 399l7 0l-2 4zM67 384l3-6l3 3zM89 386l-1-8l5 1zM110 386l-3-7l5-1zM131 385l-5-5l5-2zM152 385l-6-5l4-2zM172 384l-7-3l4-3zM193 383l-8-1l3-4zM214 381l-7 2l0-5zl-6-1M237 378l-7 4l-1-5zl-10 2M257 375l-5 5l-3-4zl-10 5M271 375l-3 7l-4-3zl-5 5M277 379l8-1l-1 5zl9 1M283 386l6-4l1 5zl22-6M296 391l5-4l2 4zl29-11M318 392l6-5l2 4zl27-12M346 389l5-5l2 4zl18-9M372 385l5-4l2 4zl12-5M395 383l6-4l1 4zl8-3M416 382l6-4l1 5zl7-2M436 380l7-2l0 5zl7 0M455 379l8-1l-1 5zl7 1M475 379l7-1l-1 5zl7 1M495 378l7 0l-2 5zl6 2M515 377l7 1l-2 5zl6 3M534 377l8 1l-3 5zl7 3M554 377l7 2l-2 4zl6 3M574 378l7 0l-2 5zl6 2M593 379l8-1l-2 5zl6 1M612 380l8-2l-1 5zl7 0M632 381l6-3l1 5zl6-1M651 383l6-5l1 5zl7-3M670 384l5-5l2 4zl8-4M689 384l5-5l2 5zl8-4M708 384l5-5l2 5zl9-4M727 384l5-5l2 5zl9-4M746 384l6-5l2 5zl10-4M765 383l7-4l1 5zl11-3M785 382l6-3l1 4zl10-2M805 381l6-3l1 5zl10-1M824 381l7-3l0 5zl10-1M844 380l7-2l0 5zl10 0M864 380l7-2l0 5zl10 0M884 380l8-2l-1 5zl9 0M905 380l7-2l0 5zl8 0M925 380l7-2l0 5zl7 0M946 381l7-3l0 5zM966 381l7-3l0 5zM986 382l6-4l1 4zM1006 382l5-4l2 4zM1026 383l4-5l3 4zM1047 385l2-7l4 2zM1071 386l-4-6l4-2zM1093 384l-7-3l3-3zM1113 383l-7-1l2-4zM1133 383l-8-1l3-4zM1152 383l-7-1l2-4zM1172 383l-7-1l2-4zM1191 383l-7-1l3-4zM1211 384l-7-3l3-3zM1228 386l-5-6l5-2zM1240 381l7-3l1 5zM1260 380l7-2l0 5zM1280 379l7 0l-1 4zM1299 379l8 0l-2 4zM1317 379l8-1l-2 5zl7 1M76 361l-8 1l1-4zM95 363l-8-1l2-5zM114 363l-7-1l2-5zM134 363l-7-1l2-5zM154 363l-7-1l2-4zl-5-3M175 364l-7-1l2-4zl-7-4M197 364l-7 0l2-5zl-9-4M219 363l-7 1l1-5zl-11-3M241 360l-6 2l-1-4zl-14 0M264 356l-6 4l-1-5zl-17 4M287 352l-5 5l-2-5zl-21 8M306 352l-5 5l-2-5zl-20 8M316 357l-6 4l-1-4zl-11 3M321 365l3-7l3 4zl4-5M328 371l5-5l3 3zl17-11M346 373l4-6l3 4zl18-13M371 369l4-6l3 4zl13-9M396 365l5-6l2 4zl7-5M418 363l5-6l3 5zM437 360l7-2l0 5zM458 357l7 3l-3 3zM479 356l6 4l-4 3zM499 356l5 5l-4 2zM518 355l6 5l-5 2zM537 355l6 5l-4 2zl4 5M556 355l6 4l-3 3zl4 5M575 356l7 3l-3 4zl5 4M594 357l7 2l-2 4zM612 359l8-1l-1 5zl7 1M631 361l7-3l0 5zl7-1M650 362l6-4l1 5zl8-2M668 363l6-4l2 4zl10-3M687 364l6-5l1 5zl10-4M706 364l5-4l2 4zl11-4M725 364l6-4l1 4zl11-4M744 363l6-4l1 5zl12-3M764 362l6-3l1 5zl12-2M783 361l7-3l1 5zl12-1M804 361l7-3l0 5zl11-1M824 360l7-2l0 5zl10 0M844 360l7-2l0 5zl10 0M865 360l7-2l0 5zl9 0M885 360l7-2l0 5zl8 0M906 361l7-3l1 5zl7-1M927 362l6-5l2 5zM948 363l4-6l3 4zM968 364l3-7l3 3zM989 365l1-7l4 2zM1010 365l-1-7l4 1zM1031 365l-3-6l4-1zM1052 365l-5-5l4-2zM1073 364l-7-4l4-3zM1093 364l-7-3l3-4zM1113 363l-7-2l3-4zM1132 363l-7-2l3-4zM1152 363l-7-2l3-4zM1172 363l-7-2l2-4zM1191 363l-7-2l3-4zM1211 363l-7-2l2-4zM1231 363l-8-2l3-4zM1250 363l-7-2l3-4zM1269 364l-7-3l4-4zM1285 365l-3-6l5-1zM1300 363l4-6l3 4zM1319 361l6-3l1 4zM68 335l5 6l-4 2zM90 335l2 7l-4 0zM115 338l-6 5l-2-5zM134 341l-7 1l1-5zM154 342l-8 0l2-5zM174 343l-7-1l2-4zM196 343l-7 0l2-4zl-8-3M219 342l-7 1l1-4zl-11-2M241 339l-7 3l-1-5zl-14 1M261 335l-6 5l-1-5zl-14 5M284 333l-6 5l-2-5zl-18 7M309 331l-5 5l-2-5zl-23 9M334 330l-6 5l-2-5zl-29 10M351 334l-7 4l-1-5zl-26 6M359 341l-7 2l1-5zl-14-1M367 347l-5-6l5-2zl-3-7M381 348l0-7l5 1zl3-8M402 345l0-7l4 1zM427 343l-7-2l3-4zM447 338l-5 5l-2-5zM467 336l-4 6l-3-4zl-5 4M487 335l-3 7l-4-4zl-5 5M506 334l-2 7l-4-3zl-5 6M525 333l-2 8l-3-3zl-4 7M544 333l-1 8l-4-3zl-3 7M563 334l-1 7l-4-2zl-3 6M582 334l0 8l-5-2zM601 335l0 7l-5-1zM620 335l1 7l-5-1zM637 335l4 6l-4 2zM653 340l7-2l0 4zM673 342l5-5l2 4zM693 343l4-6l3 4zM712 343l5-6l3 4zM732 342l5-5l2 4zM751 342l6-5l1 5zM770 341l7-4l1 5zM790 340l7-2l0 4zM810 339l7-1l-1 5zM830 337l7 2l-3 4zM854 335l2 7l-4 0zM877 336l-3 7l-3-3zM898 340l-7 3l0-5zM921 342l-7 1l1-5zl-8-2M951 343l-7 1l0-4zl-19-3M975 341l-7 2l0-4zl-23-1M987 340l-7 3l0-5zl-16 0M999 342l-8 1l1-5zl-8-2M1015 344l-7-3l3-4zM1035 344l-7-3l3-3zl-5-4M1055 344l-7-2l3-4zl-5-4M1075 344l-7-2l3-4zl-6-4M1095 344l-7-2l2-4zl-6-4M1114 344l-7-2l2-4zl-5-4M1133 344l-7-3l3-4zM1151 344l-6-4l3-3zM1171 344l-7-4l4-3zM1191 344l-7-3l4-4zM1211 344l-7-3l4-3zM1231 344l-7-2l3-4zl-5-4M1251 344l-7-2l3-4zl-5-4M1270 344l-7-3l3-3zM1288 344l-6-4l4-3zM1307 345l-6-5l5-3zM1325 345l-4-6l5-1zM64 316l7 1l-2 5zl6 4M84 317l7 1l-2 4zl6 3M104 318l7 0l-2 4zM124 319l7-1l-1 5zM144 320l6-3l1 5zM165 324l3-7l3 3zM190 325l-5-6l4-2zM213 322l-7 0l1-5zM235 317l-6 5l-2-5zl-8 3M254 313l-4 7l-3-4zl-7 7M273 313l-3 6l-4-3zl-7 7M296 313l-5 6l-3-4zl-10 7M322 312l-6 5l-2-4zl-17 8M349 311l-6 5l-2-5zl-24 9M371 312l-6 5l-1-5zl-26 8M387 316l-7 4l0-5zl-23 4M399 320l-7 2l0-5zl-15 0M413 321l-7 1l0-4zl-10-1M431 319l-6 3l-1-5zl-8 1M452 316l-6 5l-2-4zl-9 4M472 314l-5 6l-2-5zl-10 6M492 313l-4 6l-3-4zl-10 7M512 313l-5 6l-2-4zl-11 7M532 313l-5 6l-3-4zl-11 7M551 313l-4 6l-3-4zl-10 7M571 314l-5 5l-2-4zl-11 6M591 314l-6 6l-2-5zl-11 6M610 315l-5 5l-2-4zl-11 5M630 316l-6 5l-2-5zl-11 4M649 317l-6 4l-1-5zl-11 3M669 318l-6 3l-1-4zl-11 2M688 318l-6 4l-1-5zl-10 2M708 319l-7 3l0-5zl-11 1M727 319l-6 3l-1-5zl-10 1M747 319l-7 3l0-5zl-11 1M766 319l-6 3l-1-5zl-10 1M786 319l-7 3l0-5zl-10 1M807 319l-7 3l-1-5zl-12 1M827 319l-7 3l0-5zl-12 1M848 319l-7 3l0-5zl-14 1M869 318l-7 3l0-4zl-15 2M889 318l-7 3l0-4zl-15 2M909 320l-7 3l0-5zl-16 0M933 327l-7 0l1-5zl-20-7M961 329l-7 0l1-5zl-29-9M983 316l-6 3l-1-5zl-31 4M994 307l-5 6l-2-5zl-23 13M1004 313l-5 5l-2-4zl-13 7M1020 319l-7 3l0-5zl-9 1M1038 322l-7 1l1-5zl-8-2M1058 323l-7 0l1-5zl-8-3M1078 323l-7 0l1-5zl-9-3M1098 322l-7 1l1-5zl-9-2M1117 322l-7 1l1-5zl-8-2M1135 322l-8 0l2-5zl-7-2M1152 323l-7-2l2-4zM1168 325l-3-6l4-1zM1186 325l-1-7l5 1zM1206 325l-2-7l5 0zM1227 325l-4-6l5-1zM1248 325l-5-6l4-2zM1268 324l-6-4l4-3zM1287 325l-5-6l4-2zM1306 325l-4-6l4-1zM1324 325l-3-7l5 0zM61 298l7-1l-1 4zl9 2M80 298l7-1l-1 4zl10 2M99 298l7-1l0 4zl11 2M119 298l7-1l-1 5zl10 2M139 300l7-3l0 5zl10 0M160 303l6-5l2 4zl8-3M183 305l3-7l4 3zl5-5M206 305l0-8l4 1zM229 295l0 7l-5-2zM247 292l2 8l-5-1zl0 8M266 292l3 7l-5 1zl0 8M286 294l2 7l-5 0zM309 295l-2 7l-4-3zM334 294l-5 6l-2-4zl-9 6M360 293l-5 5l-2-5zl-15 7M385 293l-6 4l-1-5zl-21 7M406 293l-6 5l-1-5zl-22 7M423 294l-6 4l-1-4zl-20 6M439 294l-5 5l-2-5zl-16 6M456 293l-5 5l-2-4zl-13 7M475 293l-5 5l-3-4zl-13 7M494 293l-5 5l-2-4zl-12 7M514 294l-5 5l-2-5zl-13 6M534 294l-5 5l-2-4zl-13 6M555 295l-6 5l-1-5zl-14 5M576 296l-6 4l-2-5zl-16 4M597 297l-7 3l0-5zl-17 3M618 297l-7 3l0-5zl-19 3M639 297l-7 3l0-5zl-20 3M660 297l-7 3l-1-5zl-22 3M681 297l-7 3l-1-5zl-23 3M701 297l-7 3l0-5zl-23 3M721 297l-6 3l-1-5zl-24 3M741 297l-6 3l-1-5zl-24 3M761 297l-7 3l-1-5zl-25 3M780 298l-7 3l-1-5zl-24 2M799 299l-7 2l0-4zl-23 1M819 300l-7 2l0-5zl-24 0M840 300l-7 3l0-5zl-25 0M862 300l-7 2l0-4zl-28 0M883 299l-7 3l0-5zl-29 1M903 298l-7 3l0-5zl-29 2M919 298l-7 3l0-5zl-26 2M927 301l-7 2l1-5zl-14-1M928 302l5-5l2 4zM938 294l8 0l-2 5zl14 6M966 288l5 6l-4 2zl5 12M997 293l-3 6l-3-3zl-6 7M1021 297l-6 4l-1-4zl-10 3M1041 300l-7 2l0-5zl-11 0M1062 301l-8 2l1-5zl-12-1M1083 302l-7 1l0-5zl-14-2M1105 302l-7 1l0-5zl-16-2M1126 300l-7 2l0-4zl-17 0M1142 298l-6 3l-1-5zl-14 2M1156 298l-6 4l-1-5zl-8 2M1172 298l-6 4l-1-4zM1182 302l5-5l3 4zM1199 304l5-6l3 4zl7-4M1219 305l4-6l3 4zl7-5M1240 305l4-7l3 4zl6-5M1261 304l3-7l4 3zM1282 304l2-7l4 2zM1302 304l1-7l4 2zM1321 304l2-7l4 3zM63 279l7-2l0 5zl7 0M85 277l8 1l-3 4zM102 278l8-1l-2 5zl8 1M121 279l7-2l-1 5zl8 0M140 281l7-4l1 5zl9-2M161 285l4-6l3 3zl7-6M183 288l1-7l5 2zl5-9M205 286l0-8l5 2zl3-7M224 275l6 5l-4 2zM246 273l3 6l-5 1zl1 6M265 273l4 6l-5 2zl1 6M284 274l5 6l-5 2zM308 275l-1 7l-4-2zM330 278l-6 4l-1-4zM354 277l-6 4l-1-5zl-9 2M381 276l-7 4l-1-5zl-17 3M406 274l-6 4l-1-4zl-22 5M429 273l-7 4l-1-5zl-26 6M447 272l-6 4l-1-5zl-24 7M463 271l-6 5l-2-4zl-20 8M479 272l-6 5l-2-4zl-17 7M496 274l-6 5l-1-5zl-14 5M515 276l-6 4l-1-5zl-14 3M536 278l-7 3l0-5zl-15 1M557 279l-7 3l0-5zl-16 0M580 280l-7 2l0-5zl-20-1M602 280l-7 2l0-4zl-22-1M624 280l-7 2l1-5zl-25-1M647 279l-7 3l0-5zl-28 0M669 279l-7 2l0-4zl-31 0M691 278l-7 3l0-5zl-33 1M713 277l-6 3l-1-5zl-35 2M735 277l-7 3l0-5zl-38 2M756 276l-7 3l-1-5zl-39 3M774 276l-6 3l-1-5zl-38 3M792 276l-7 3l0-4zl-36 3M809 278l-7 3l0-5zl-33 1M828 280l-7 3l0-5zl-33-1M849 282l-7 2l1-5zl-34-3M872 283l-7 2l0-5zl-38-4M894 281l-7 2l0-4zl-40-2M914 278l-7 3l0-5zl-40 1M931 275l-7 3l0-4zl-38 4M944 274l-7 3l0-4zl-31 5M955 273l-7 4l-1-4zl-23 6M967 273l-5 5l-2-4zl-15 6M984 274l-6 5l-2-4zl-13 5M1002 276l-6 4l-1-4zl-11 3M1022 279l-7 3l0-5zl-11 0M1043 281l-7 1l1-4zl-13-2M1066 283l-7 1l1-5zl-16-4M1090 285l-7 1l1-5zl-21-6M1115 285l-8 1l1-5zl-26-6M1137 281l-7 2l0-5zl-28-2M1153 276l-7 3l0-5zl-25 3M1165 274l-6 4l-1-4zl-17 5M1176 276l-6 5l-2-5zl-9 3M1185 275l5 5l-5 2zM1199 283l5-5l3 4zl7-4M1214 286l5-6l3 5zl12-7M1233 287l5-6l2 4zl13-8M1254 286l5-5l2 4zl11-7M1276 285l5-6l2 4zl9-6M1297 284l5-6l3 4zl7-5M1318 283l5-6l3 4zl6-4M68 268l0-7l4 1zl2-9M114 260l-7 2l0-5zl-24-1M111 246l2 7l-5-1zl-1 13M124 257l8 1l-2 4zM144 261l6-5l1 5zM166 264l1-7l4 2zM187 268l-2-7l5 1zl1-9M207 266l-2-7l5 0zl1-7M230 255l-2 7l-4-3zM248 252l1 7l-5 0zl-1 7M268 253l1 7l-5-1zl-2 6M289 255l-3 7l-3-3zM311 260l-8 1l1-4zM332 261l-7 1l1-5zl-7-2M357 262l-8 1l1-5zl-12-3M383 262l-7 1l0-5zl-19-3M409 259l-7 3l0-5zl-25 0M433 255l-7 4l-1-5zl-30 4M452 251l-6 4l-1-4zl-29 8M468 250l-6 4l-2-4zl-25 9M482 251l-5 5l-2-5zl-20 8M498 254l-6 5l-1-5zl-16 5M517 258l-7 3l0-5zl-16 1M538 261l-7 2l0-5zl-17-2M561 263l-8 1l1-5zl-20-4M584 264l-7 1l1-5zl-24-5M608 264l-7 1l0-5zl-28-5M631 263l-7 2l1-5zl-32-4M655 263l-7 1l0-4zl-36-4M679 262l-8 2l1-5zl-41-3M703 261l-7 2l0-4zl-45-2M728 260l-7 3l0-5zl-50-1M753 259l-7 2l0-5zl-56 0M775 256l-7 3l0-5zl-58 3M793 253l-7 3l0-4zl-57 6M807 252l-6 4l-1-5zl-51 7M820 255l-6 3l-1-5zl-44 4M836 259l-7 2l0-4zl-41 0M856 263l-8 2l1-5zl-41-4M878 265l-7 1l0-5zl-44-6M901 263l-7 1l0-4zl-47-4M921 258l-7 2l0-4zl-47 1M938 253l-7 3l-1-5zl-45 6M951 250l-6 4l-1-5zl-38 9M963 249l-6 4l-1-4zl-31 10M974 249l-5 5l-2-4zl-22 10M984 251l-5 6l-2-4zl-13 8M995 255l-3 7l-4-4zM1015 262l-7-2l3-4zM1041 266l-7-2l2-4zl-11-7M1068 268l-7-1l2-4zl-18-9M1093 270l-7-1l2-4zl-24-11M1116 269l-7 0l1-4zl-27-10M1137 263l-8 1l1-4zl-28-4M1154 255l-6 3l-1-4zl-26 4M1170 252l-6 4l-2-4zl-22 7M1184 254l-6 4l-1-4zl-17 5M1197 258l-6 3l-1-5zl-10 1M1210 263l-6-4l3-3zM1220 266l3-7l4 3zl6-7M1234 269l4-6l3 4zl12-10M1251 270l4-6l3 4zl14-11M1272 269l5-7l2 4zl13-10M1295 266l4-6l3 4zl9-7M1320 273l0-8l5 1zl4-14M56 243l6-4l2 5zl14-4M53 238l7-2l0 5zl37 1M100 231l7 2l-3 4zl10 8M125 235l7 3l-3 4zM144 238l7-1l-1 5zM168 244l-2-7l5 1zM187 246l-1-7l4 0zl1-7M207 244l-2-7l5 1zM226 234l4 6l-5 1zM247 230l2 7l-5 0zl0 9M268 231l1 7l-5-1zl-2 8M289 235l-3 7l-3-3zM311 240l-8 1l1-5zM332 243l-7-1l2-4zl-7-4M356 246l-7-1l3-4zl-11-7M382 248l-8-1l2-5zl-18-9M407 245l-7 1l1-5zl-23-6M430 239l-7 2l0-5zl-27 0M449 232l-6 4l-1-5zl-26 7M465 228l-5 5l-2-4zl-22 11M480 229l-5 6l-2-5zl-18 10M497 234l-6 4l-2-4zl-15 5M516 239l-8 2l1-4zl-15 0M537 243l-7 1l1-5zl-16-4M560 246l-7 0l2-5zl-19-7M585 247l-8 0l2-4zl-25-8M609 247l-7 0l1-4zl-29-8M633 246l-7 1l1-4zl-34-7M657 246l-7 1l0-4zl-38-7M682 246l-8 2l1-5zl-44-7M708 247l-7 1l1-5zl-50-8M736 246l-7 2l0-5zl-58-7M761 243l-7 2l0-5zl-64-4M781 237l-7 3l0-5zl-64 2M800 230l-7 3l-1-5zl-64 9M817 225l-6 4l-1-5zl-61 14M827 227l-7 4l-1-5zl-51 12M839 234l-7 3l-1-5zl-44 5M855 241l-7 2l1-5zl-40-2M876 244l-7 2l1-5zl-42-5M899 242l-7 2l0-5zl-45-3M919 234l-7 4l0-5zl-45 5M936 227l-7 4l-1-4zl-43 12M949 222l-5 6l-2-5zl-36 17M961 221l-5 6l-2-4zl-29 18M970 220l-3 7l-3-3zl-18 19M976 220l1 8l-5-1zl-5 19M983 230l7 4l-4 3zl8 9M1003 246l3-6l4 3zl8-7M1034 255l-4-6l5-1zl-4-16M1066 254l-7-3l3-3zl-16-15M1090 253l-7-2l2-4zl-21-14M1109 250l-7-1l2-4zl-20-11M1128 244l-7 0l1-4zl-19-5M1149 237l-6 3l-1-5zl-21 2M1172 234l-6 4l-2-5zl-24 5M1192 235l-6 3l-1-4zl-25 4M1209 237l-6 3l-1-5zl-22 2M1223 239l-7 2l0-4zl-17 0M1234 243l-8-1l3-4zl-8-4M1244 247l-1-7l5 1zl2-8M1256 251l3-7l4 3zl9-12M1273 251l3-7l4 4zl12-12M1293 249l4-7l3 4zl11-10M1312 250l3-6l4 3zl12-11M51 220l7-3l0 5zl19-1M72 219l7-3l0 5zl18 0M96 218l7-2l0 5zl14 1M120 218l7-2l0 5zl9 1M142 219l7-3l1 5zl7 0M163 222l5-6l2 4zM182 224l3-6l4 3zl6-5M200 222l6-5l2 4zl8-3M220 215l7 1l-2 4zl7 4M242 209l5 5l-4 3zl5 10M264 210l4 6l-5 1zl2 9M285 214l4 6l-5 1zM304 224l-1-7l5 0zM326 224l-4-6l5-1zM347 230l-4-7l5-1zl-2-11M370 233l-5-6l4-2zl-6-14M392 230l-6-4l4-3zl-8-11M413 222l-7 0l1-5zl-10-3M432 212l-4 6l-3-4zl-9 7M450 207l-2 7l-4-2zl-7 12M468 208l-1 7l-5-2zl-6 11M487 214l-4 6l-3-3zl-5 5M507 220l-8 1l1-5zM528 225l-6-2l3-4zl-7-6M552 229l-7-3l3-4zl-11-10M576 230l-7-2l2-4zl-16-11M599 229l-7-1l2-4zl-19-10M622 228l-8 0l2-5zl-23-9M644 229l-7 0l2-5zl-25-10M668 231l-8 0l2-5zl-30-12M693 233l-8 0l2-4zl-35-14M719 234l-7 0l2-5zl-41-15M746 230l-8 0l2-4zl-49-11M769 219l-7 2l0-5zl-52 0M788 205l-6 4l-2-5zl-52 14M801 196l-5 6l-2-5zl-45 23M812 198l-5 5l-2-4zl-36 21M825 207l-6 5l-2-4zl-30 12M841 218l-7 3l0-5zl-26 1M861 223l-7 2l1-5zl-27-4M883 220l-8 2l1-5zl-29-1M903 211l-6 4l-2-5zl-29 8M921 201l-5 6l-2-4zl-28 18M937 195l-3 6l-4-3zl-24 24M951 192l-2 8l-4-3zl-19 27M965 189l-1 8l-4-2zl-13 30M976 187l1 8l-5-1zl-5 32M988 202l3 6l-4 1zl3 17M1007 230l0-7l4 1zl4-11M1034 244l-4-7l5 0zl-4-25M1061 239l-6-5l4-2zl-11-20M1083 232l-7-3l4-3zl-14-13M1102 228l-7-2l3-4zl-13-9M1122 224l-8 0l2-5zl-13-5M1145 220l-7 2l0-5zl-17-1M1170 217l-7 3l0-5zl-22 2M1194 216l-6 3l-1-5zl-27 3M1216 215l-7 3l-1-5zl-29 4M1233 214l-6 4l-1-5zl-27 5M1247 215l-7 4l0-5zl-21 4M1258 219l-7 2l0-4zl-12 0M1268 224l-5-5l4-2zM1279 228l2-7l4 2zl6-9M1294 228l4-6l3 3zl10-9M1313 227l4-6l3 4zl11-8M47 199l7-3l0 5zl23 0M65 202l6-4l1 5zl25-3M87 204l6-4l1 4zl23-5M112 204l6-4l1 4zl17-5M136 203l6-4l1 4zl13-4M157 203l5-5l2 5zl11-4M174 204l6-5l2 4zl14-5M191 202l7-4l1 5zl17-3M211 196l7-1l-1 5zl16 3M233 192l8 1l-2 4zl14 7M257 192l7 2l-3 4zl9 7M279 196l7 0l-2 5zl7 3M299 200l6-4l1 5zl6-1M318 205l3-6l4 3zl7-6M336 212l2-8l4 3zl9-13M353 215l2-7l4 3zl11-16M371 213l3-7l3 3zl13-14M389 204l6-5l2 5zl14-5M409 194l7 0l-1 5zl14 5M430 189l7 2l-3 4zl13 10M452 190l7 3l-3 3zl10 9M473 196l7 0l-1 4zl9 3M494 202l5-5l3 4zl7-3M516 208l1-7l4 2zl5-9M538 212l-1-8l4 1zl3-13M560 213l-2-7l4 0zl0-14M581 210l-3-6l4-1zl-1-11M600 209l-3-7l5 0zl-1-10M619 211l-2-7l4-1zl0-12M639 214l-3-7l5 0zl-1-15M659 217l-3-7l5 0zl-1-18M679 219l-3-7l5-1zl-1-20M699 214l-3-7l5-1zl-2-15M720 203l-6-4l4-3zM738 184l1 7l-4 0zl-2 15M757 173l2 7l-5 0zl-1 26M776 175l2 7l-5 0zl0 24M795 186l2 7l-4 0zl0 13M813 194l5 5l-5 2zM835 204l-3-6l5-1zM857 203l-6-5l4-2zM876 190l0 8l-4-2zl-2 9M897 179l1 7l-5-1zl-4 20M917 172l1 7l-4-1zl-4 27M937 169l2 7l-5-1zl-5 30M959 166l1 7l-5-1zl-7 33M982 164l0 7l-4-1zl-11 35M1006 180l-3 7l-3-3zl-15 19M1025 210l-7-2l3-4zl-14-11M1039 225l-5-6l5-1zl-9-26M1054 220l-4-6l5-1zl-4-21M1072 212l-3-6l4-1zl-3-13M1092 208l-4-6l4-1zl-3-9M1113 205l-6-5l4-2zl-4-6M1134 202l-7-1l2-5zl-6-3M1157 199l-7 2l1-5zl-9 0M1182 197l-7 3l-1-5zl-15 2M1206 194l-6 4l-1-5zl-19 5M1230 190l-6 5l-1-5zl-24 9M1251 188l-6 5l-2-5zl-25 11M1267 189l-5 5l-2-4zl-21 10M1279 193l-5 5l-2-5zl-14 6M1290 198l-7 3l0-5zM1300 201l4-5l3 4zM1312 203l6-5l2 5zl12-4M57 174l7 0l-1 4zl13 4M71 181l7-3l1 5zl19-3M91 188l5-5l2 4zl19-10M114 190l4-6l3 4zl15-12M137 188l4-6l3 3zl12-10M158 184l5-5l2 4zl10-6M175 182l6-4l1 4zl13-4M189 180l7-3l0 5zl19-2M205 179l7-3l0 5zl22-1M225 178l7-2l0 5zl22 0M249 179l7-3l0 5zl17-1M274 180l6-3l1 5zl12-2M295 182l6-4l2 4zl10-4M314 186l4-6l3 4zl11-8M329 191l4-6l3 3zl16-13M344 194l4-6l3 4zl20-16M358 193l5-6l2 4zl26-15M375 186l6-4l1 5zl28-8M395 178l7-2l0 5zl28 0M418 174l7-1l0 4zl25 4M442 175l8-1l-1 4zl20 3M465 179l7-2l1 4zl17-1M487 185l5-5l2 4zl14-7M507 190l4-6l3 4zl14-12M528 195l2-7l4 3zl13-17M548 194l2-7l4 3zl12-16M566 190l4-7l3 4zl14-12M582 187l5-5l3 4zl17-9M598 188l5-5l2 5zl21-10M614 192l5-6l3 4zl24-14M630 195l5-6l2 4zl28-17M644 196l5-6l2 5zl34-18M657 191l6-4l2 4zl40-13M673 180l7-3l0 5zl44-2M693 166l7-1l-1 5zl43 12M717 157l7 1l-2 5zl39 21M743 159l7 2l-2 4zl33 19M768 170l7 0l-2 4zl27 8M790 182l6-4l1 5zl25-4M810 188l5-5l2 4zl24-10M830 184l6-4l1 5zl24-6M851 174l7-1l-1 5zl23 4M874 163l7 2l-3 4zl19 15M899 155l6 5l-5 3zl14 23M924 153l5 6l-5 2zl8 25M951 152l3 7l-5 1zl1 26M981 154l0 7l-5-2zl-10 24M1010 166l-5 6l-2-4zl-19 12M1028 187l-7-1l2-4zl-17-9M1036 199l-4-6l4-1zl-6-21M1045 198l-1-7l5 1zl5-20M1060 195l2-8l4 3zl9-17M1080 191l2-7l4 3zl9-13M1102 187l2-7l4 3zl7-9M1123 184l3-7l4 3zl5-6M1144 181l4-6l3 4zM1163 181l5-6l2 4zM1191 175l-4 6l-3-4zM1217 171l-4 6l-3-4zl-11 7M1243 166l-4 6l-3-4zl-17 12M1266 163l-4 6l-3-4zl-20 15M1285 164l-4 6l-3-4zl-20 14M1300 167l-4 6l-3-4zl-15 11M1311 171l-3 7l-4-3zl-7 7M1320 175l7 2l-3 4zM75 146l0 8l-5-2zl-5 12M93 154l-2 7l-4-3zM108 167l-1-8l5 1zl2-9M126 171l0-7l4 1zl3-13M146 168l-1-7l5 1zl3-10M166 163l1-7l4 2zM183 158l7-2l0 4zM203 155l7 2l-3 4zM218 155l7 0l-1 4zl9 3M233 159l6-3l1 5zl14-1M250 164l6-5l2 5zl16-6M271 166l5-6l2 5zl15-8M292 165l5-5l2 4zl13-7M311 166l5-6l2 5zl14-8M327 168l5-5l2 4zl18-10M341 170l5-5l2 4zl23-12M355 170l5-5l2 4zl29-12M372 166l6-4l1 5zl31-8M393 162l6-3l1 4zl30-4M417 160l7-3l0 5zl26-2M442 161l7-4l0 5zl20-3M466 164l6-5l1 5zl16-6M488 168l4-6l3 4zl13-10M508 172l3-6l3 3zl13-14M528 176l2-7l4 3zl13-18M547 175l2-7l4 3zl13-17M564 167l5-6l2 5zl16-9M579 162l6-4l1 5zl20-4M593 163l7-4l0 5zl26-5M608 166l6-4l2 4zl30-8M623 167l6-4l1 5zl35-9M636 167l6-4l1 5zl42-9M649 163l7-3l0 5zl48-5M664 155l8-2l-1 5zl53 3M684 147l8-1l-1 5zl52 11M708 142l8 0l-2 5zl48 16M734 145l7 0l-1 4zl42 13M757 154l8-1l-1 4zl38 4M778 164l6-3l1 5zl37-6M796 170l6-5l2 5zl38-12M815 168l6-4l2 5zl39-10M837 160l7-3l0 5zl37-2M862 151l7-1l-1 5zl31 7M889 144l7 2l-3 4zl24 14M916 142l7 3l-4 4zl16 16M943 143l6 5l-4 2zl9 15M971 146l3 7l-5 0zl0 12M997 153l-4 6l-3-4zl-6 5M1016 164l-7-4l4-3zl-5-6M1027 172l-1-8l5 1zl3-14M1037 175l3-7l4 3zl13-17M1052 177l3-7l4 3zl17-19M1071 176l3-7l4 4zl18-18M1093 172l4-6l3 3zl16-14M1117 167l4-6l3 4zl11-9M1140 163l5-6l2 4zl8-5M1162 160l6-5l1 5zM1182 158l7-2l0 4zM1209 153l-1 8l-4-2zM1234 149l-3 7l-4-3zl-8 9M1259 144l-3 7l-3-4zl-13 14M1283 141l-3 7l-3-4zl-18 17M1304 141l-3 7l-3-4zl-19 17M1323 144l-5 6l-2-3zl-19 14M1339 151l-5 5l-2-4zl-15 7M84 122l-3 7l-3-3zl-14 16M104 131l-5 6l-2-5zl-14 7M121 140l-7 1l1-4zl-11-2M136 145l-6-3l3-4zl-7-7M152 143l-6-4l5-3zl-3-5M172 142l-7-4l4-3zM192 135l-4 6l-3-4zM213 132l-3 7l-4-3zl-5 6M234 130l-3 7l-3-3zl-7 8M252 133l-3 6l-4-3zl-5 5M264 143l1-8l4 2zM278 143l5-6l3 4zl8-5M292 143l6-4l2 4zl13-5M307 142l6-4l1 5zl18-4M322 142l6-3l1 4zl23-4M337 144l6-4l1 5zl27-6M352 145l7-4l1 5zl32-7M371 145l6-4l2 5zl32-7M393 145l7-4l1 5zl30-7M419 145l6-4l1 4zl24-7M444 146l6-5l2 4zl18-8M469 148l4-6l3 3zl13-10M492 150l2-7l4 3zl9-12M513 154l1-7l4 2zl8-16M534 158l0-8l4 2zl7-20M554 154l0-7l4 2zl6-16M571 143l5-6l2 4zl9-5M587 135l7-1l-1 5zl12 3M602 136l7-1l0 4zl17 2M618 139l7-3l0 5zl20-1M634 140l7-3l0 5zl24-2M650 138l7-2l0 4zl28 0M665 135l8-2l-1 5zl32 3M682 130l7-1l-1 5zl35 8M701 125l7 0l-1 4zl35 13M722 123l7 0l-2 5zl34 15M742 126l8 0l-2 5zl34 12M761 133l8-1l-1 5zl34 5M778 142l7-3l1 5zl37-4M795 148l6-4l1 5zl39-10M813 149l6-4l1 5zl41-11M834 145l6-3l1 4zl40-7M858 139l7-3l1 5zl35-1M885 134l8-2l-1 5zl28 4M913 131l7 0l-2 5zl19 7M939 132l7 0l-2 5zl13 6M963 134l8 1l-3 4zl8 4M986 137l7-1l-1 5zM1005 141l5-6l3 4zM1021 145l4-6l3 4zl9-7M1036 149l4-6l3 4zl14-11M1050 153l4-6l3 4zl19-15M1066 156l4-6l3 4zl23-18M1086 155l4-6l3 4zl23-17M1108 151l5-6l3 4zl20-13M1133 146l5-5l2 4zl15-8M1158 142l5-5l2 4zl9-4M1181 139l7-4l1 5zM1202 135l7 2l-2 4zM1227 132l1 8l-4-1zM1251 128l-1 7l-5-2zl-5 10M1276 124l-3 7l-4-3zl-11 14M1300 123l-3 6l-3-3zl-15 15M1325 125l-5 5l-3-4zl-21 13M1347 131l-6 4l-1-5zl-23 7M80 105l-2 7l-4-3zl-10 13M103 110l-5 6l-3-4zl-13 8M122 115l-6 4l-1-5zl-12 3M139 118l-7 2l0-5zl-10 0M155 117l-7 3l0-5zl-6 1M173 115l-5 6l-2-5zM191 114l-2 7l-4-4zM211 112l-1 7l-4-3zl-3 6M233 109l-2 7l-4-2zl-6 9M254 108l-3 7l-3-3zl-7 10M271 109l-1 7l-4-2zl-5 9M285 111l3 7l-4 1zl1 7M296 113l7 1l-2 4zl9 5M308 113l7-1l-1 5zl17 5M321 114l7-1l0 4zl24 4M336 117l7-2l0 4zl28 1M354 121l6-3l1 5zl30-3M374 125l6-4l1 5zl29-7M397 129l5-5l2 4zl26-11M422 131l5-6l2 4zl21-13M448 132l3-7l3 4zl14-14M473 132l1-7l4 3zl9-14M496 133l0-8l5 2zl5-15M519 136l-2-7l5 0zl2-18M540 139l-2-7l5 1zl1-21M561 134l-3-7l5 0zl-1-16M579 123l-2-7l5 0zM597 110l4 6l-4 1zl2 8M614 112l6 4l-3 3zl5 6M632 115l7 0l-2 5zl6 3M649 115l8 0l-2 4zl9 3M667 113l7 1l-2 4zl11 5M684 109l7 2l-2 4zl13 9M701 105l7 2l-3 4zl16 13M719 101l7 3l-4 3zl17 17M736 99l7 3l-3 4zl20 19M753 101l7 3l-2 3zl23 17M769 108l8 0l-2 4zl26 10M784 116l7-2l0 5zl31 2M799 124l7-3l1 4zl35-6M816 129l6-4l2 4zl38-11M836 129l6-4l2 4zl38-11M859 126l6-4l1 5zl34-8M884 123l6-4l1 5zl29-5M909 119l7-3l0 5zl23-1M934 118l7-3l0 5zl18 0M956 117l7-2l0 5zl15 1M978 117l7-2l0 5zl13 1M998 118l6-2l1 4zl13 0M1016 120l7-4l1 5zl14-2M1034 122l6-5l2 5zl16-4M1050 125l6-5l2 4zl19-7M1066 128l5-5l2 5zl23-10M1082 131l5-5l2 4zl27-13M1100 131l5-5l2 4zl28-13M1121 128l6-5l1 5zl27-10M1145 124l6-4l1 5zl22-6M1169 121l6-4l1 5zl18-3M1192 118l7-3l0 5zl14 0M1215 115l8-1l-2 5zl11 3M1239 112l7 2l-4 4zl7 6M1263 109l4 6l-5 1zl2 9M1289 108l0 7l-5-2zl-4 10M1315 109l-4 6l-3-3zl-11 9M1340 113l-6 4l-1-4zl-16 5M76 93l-4 7l-3-4zl-6 4M100 95l-6 4l-2-5zl-10 2M122 96l-7 3l0-4zl-12 1M142 96l-6 3l-1-4zl-13 1M162 95l-7 4l-1-5zl-13 2M181 94l-6 4l-2-5zl-13 3M199 92l-5 5l-2-4zl-11 5M217 90l-4 6l-3-4zl-9 7M236 88l-3 6l-4-3zl-9 9M254 85l-1 7l-5-2zl-7 12M272 83l0 7l-5-2zl-6 14M289 81l1 8l-5-1zl-3 16M304 81l3 7l-5 0zl1 16M319 82l5 6l-4 2zl6 15M335 86l6 4l-3 3zl10 11M352 91l8 1l-2 5zl12 6M371 99l7-3l0 4zl13-2M391 106l5-6l2 4zl12-9M413 112l2-7l4 3zl10-15M435 116l0-8l5 2zl8-19M458 117l-1-8l5 2zl4-20M480 116l-2-7l5 0zl2-19M502 115l-3-7l5 0zl-1-18M524 118l-4-7l5-1zl-3-21M545 121l-4-7l5 0zl-4-24M565 115l-4-6l5-2zl-5-18M586 98l-8 2l1-5zM606 87l-2 8l-4-3zl-7 10M625 90l-2 7l-4-3zl-6 7M644 94l-5 6l-2-5zl-6 3M663 94l-5 6l-2-4zM680 91l0 8l-5-2zl-2 6M697 87l3 7l-5 0zl0 10M714 82l3 6l-4 1zl3 15M730 77l4 6l-4 2zl6 20M746 75l5 5l-4 2zl10 22M762 76l6 4l-4 3zl14 21M777 81l7 3l-3 4zl18 16M792 91l7-1l-1 5zl23 6M807 101l6-4l1 5zl27-4M822 108l6-4l2 4zl32-11M839 112l5-5l2 5zl35-15M858 113l5-5l2 4zl35-16M880 112l5-5l2 4zl33-15M904 108l6-5l1 5zl28-11M927 103l7-4l1 5zl25-6M949 99l7-3l0 5zl22-2M969 97l7-2l0 5zl22 0M989 96l7-2l0 5zl22 1M1009 96l7-2l0 5zl21 1M1029 96l7-2l-1 5zl21 1M1048 97l7-3l0 5zl21 0M1066 99l6-3l1 5zl23-2M1082 102l7-4l1 5zl27-5M1099 105l6-4l1 4zl29-8M1116 106l6-4l1 5zl32-9M1135 106l6-4l2 5zl32-9M1157 104l6-4l1 5zl30-7M1179 102l7-4l1 5zl27-5M1203 99l6-3l1 5zl23-2M1227 97l7-2l0 5zl19 0M1252 95l7-1l-1 5zl13 2M1277 94l8 1l-2 4zl8 3M1302 93l5 5l-4 2zM1329 97l-7 3l0-5zM77 83l-6-2l3-4zl-7-6M102 84l-7-1l2-5zl-12-7M126 83l-7 0l1-5zl-16-6M149 81l-7 1l1-5zl-20-4M171 78l-7 2l0-5zl-22-1M192 75l-7 3l0-5zl-24 2M212 71l-6 4l-1-4zl-24 6M231 68l-6 4l-2-4zl-23 9M249 64l-5 6l-2-4zl-22 13M267 60l-4 7l-3-4zl-20 17M285 57l-3 7l-4-3zl-19 20M303 55l-3 7l-3-3zl-17 22M321 54l-2 7l-4-2zl-16 23M340 56l-2 7l-4-3zl-15 21M360 61l-3 7l-4-4zl-15 16M379 68l-4 6l-3-4zl-15 9M399 77l-7 2l0-4zl-15 0M418 85l-7-1l2-4zl-15-8M436 92l-6-3l3-4zl-13-15M455 96l-6-4l4-3zl-12-19M473 97l-6-5l5-2zl-11-20M491 95l-5-5l4-2zl-9-18M510 94l-5-5l4-2zl-9-17M529 97l-5-6l5-2zl-8-20M549 101l-5-6l5-1zl-8-24M569 95l-5-5l4-2zl-9-18M591 79l-7 1l1-5zl-11-2M615 69l-5 5l-2-4zl-16 8M639 72l-7 4l-1-5zl-20 5M660 75l-7 3l0-4zl-22 2M679 74l-7 3l0-4zl-21 3M695 69l-5 5l-2-4zl-17 8M710 64l-3 6l-4-3zl-13 13M724 58l0 8l-5-2zl-7 19M739 53l1 8l-4-1zl-3 24M754 50l3 7l-5 0zl2 27M771 51l3 6l-5 1zl5 26M787 56l5 6l-5 2zl8 21M803 66l6 3l-3 4zl12 11M818 77l7-2l0 5zl16 0M832 85l6-5l2 5zl22-8M845 90l5-5l2 4zl29-13M860 96l4-5l3 4zl33-19M880 102l4-6l3 3zl33-25M904 99l4-6l3 3zl28-22M928 90l5-6l2 5zl24-13M950 82l6-4l1 5zl21-5M970 78l7-3l0 5zl21-1M990 75l7-2l0 5zl21 2M1010 74l7-1l-1 4zl20 3M1030 73l8-1l-1 5zl20 4M1051 74l7-1l-1 4zl18 3M1071 75l7-2l0 5zl18 2M1090 77l7-2l0 5zl19 0M1109 80l7-3l0 5zl19-3M1127 84l6-5l1 5zl21-7M1145 86l5-5l2 5zl22-9M1163 88l6-5l2 4zl24-11M1183 88l5-5l2 4zl23-11M1204 87l6-5l2 4zl22-10M1227 86l5-5l2 4zl19-9M1250 85l6-6l2 5zl15-8M1275 84l4-6l3 4zl10-7M1300 84l2-7l4 2zl4-7M1325 84l-3-6l4-1zl-1-7M79 72l-6-5l5-2zl-9-15M102 72l-6-4l4-3zl-12-15M126 71l-7-3l3-4zl-16-14M149 68l-8-1l3-5zl-20-11M172 64l-8 0l2-5zl-23-7M194 58l-7 2l0-5zl-26-1M215 52l-6 4l-1-5zl-27 5M236 46l-5 5l-2-5zl-28 11M256 40l-5 6l-2-4zl-29 17M276 35l-5 6l-2-3zl-29 22M295 32l-4 6l-3-4zl-29 25M314 30l-3 6l-3-3zl-28 27M335 30l-4 6l-3-3zl-30 27M355 33l-4 6l-3-4zl-30 24M376 38l-5 6l-2-5zl-31 19M396 45l-6 5l-1-5zl-32 12M415 53l-7 4l0-5zl-31 4M433 61l-7 2l1-5zl-30-4M450 67l-7 0l1-5zl-27-10M466 70l-7-1l2-4zl-23-13M482 71l-7-2l2-4zl-20-14M498 69l-7-2l3-4zl-16-12M515 69l-7-3l4-3zl-14-12M533 73l-6-4l4-3zl-12-16M552 80l-5-5l4-2zl-11-23M573 78l-6-5l4-2zl-13-21M597 65l-8-1l2-4zl-17-8M624 57l-7 3l0-5zl-25 0M651 59l-7 2l0-5zl-32-2M675 58l-7 2l0-4zl-37-1M694 50l-6 4l-1-5zl-36 7M709 40l-5 5l-3-4zl-31 17M721 32l-3 7l-4-3zl-24 25M733 28l-1 7l-4-2zl-16 29M747 25l0 8l-5-2zl-11 32M763 24l1 8l-5-1zl-7 33M781 26l1 7l-5 0zl-5 31M799 32l1 8l-5-1zl-4 25M817 43l1 7l-4-1zl-2 14M835 52l2 7l-5 0zM849 57l7-3l0 5zM865 61l5-5l2 4zl9-4M880 74l2-7l4 3zl13-17M899 91l0-7l5 2zl14-34M922 91l0-7l4 1zl10-34M945 77l0-8l5 2zl7-20M967 64l2-7l4 2zl4-7M986 58l6-4l1 5zM1007 53l7 4l-4 3zM1029 52l4 6l-5 1zM1051 52l1 7l-5-1zM1073 53l-3 7l-4-3zM1094 56l-6 4l-1-5zM1113 59l-7-1l2-4zM1131 61l-6-4l4-3zM1150 64l-4-6l4-1zl-2-7M1169 67l-4-6l5-1zl-2-10M1187 70l-3-7l5 0zl0-13M1205 72l-2-7l5 0zl1-15M1223 73l-1-7l5 1zl3-16M1242 73l-1-7l5 1zl4-16M1263 74l-2-8l5 1zl2-17M1284 74l-2-7l5 0zl1-17M1306 74l-3-7l5 0zl-2-17M1328 74l-4-6l5-1zl-4-17M72 56l-3-7l5 0zl-2-19M92 57l-3-7l5 0zl-2-20M112 57l-3-7l5 0zl-2-20M133 55l-4-7l5-1zl-4-18M155 50l-5-5l4-2zl-6-13M177 43l-7-2l3-4zl-9-6M199 35l-6 4l-1-5zl-11 2M222 27l-5 6l-2-4zl-14 10M244 19l-3 6l-4-3zl-17 18M266 12l-3 7l-3-3zl-19 25M287 7l-2 7l-4-3zl-21 30M309 5l-2 7l-4-3zl-23 32M330 5l-2 7l-4-3zl-25 32M352 8l-3 7l-4-4zl-27 29M373 13l-4 7l-3-4zl-28 24M393 20l-5 5l-2-4zl-29 17M412 27l-6 4l-1-4zl-28 10M430 33l-6 4l-1-5zl-27 4M447 38l-7 2l1-5zl-24-1M464 41l-7 1l1-5zl-21-4M480 42l-7 0l1-4zl-18-5M497 42l-7 0l1-5zl-15-5M514 44l-7-2l2-4zl-13-7M532 50l-7-4l4-3zl-11-13M550 61l-5-6l4-2zl-9-24M569 64l-5-6l5-1zl-9-27M591 58l-5-5l4-2zl-11-21M617 54l-7-4l3-3zl-18-17M642 52l-7-1l3-5zl-23-15M666 42l-8 1l1-4zl-28-5M685 23l-5 5l-2-4zl-27 14M702 4l-3 7l-3-3zl-24 33M716-7l0 7l-5-2zl-19 44M731-10l1 8l-5-2zl-14 47M748-7l1 7l-5-1zl-12 44M767-3l1 7l-5-1zl-11 40M788 2l0 8l-5-2zl-12 35M809 10l-1 7l-4-2zl-14 27M830 20l-3 7l-4-3zl-15 17M850 29l-5 6l-2-5zl-16 8M871 32l-7 4l-1-4zl-17 5M891 34l-6 4l-1-5zl-17 3M912 52l-7-3l3-4zl-19-15M931 74l-6-5l5-2zl-18-37M948 75l-5-5l4-2zl-16-38M966 59l-6-5l4-2zl-14-22M986 44l-7-1l2-4zl-15-7M1008 37l-7 2l0-5zl-17 0M1029 34l-7 3l0-4zl-18 3M1050 34l-6 3l-1-5zl-20 3M1071 34l-7 3l0-4zl-21 3M1091 36l-6 2l-1-4zl-22 1M1111 38l-7 2l1-5zl-22-1M1131 40l-7 1l0-4zl-22-3M1150 42l-7 1l1-5zl-22-5M1169 45l-8-1l2-4zl-21-8M1187 47l-8-1l3-4zl-20-10M1205 49l-8-2l3-4zl-18-12M1222 51l-7-3l4-3zl-16-14M1240 53l-7-4l4-3zl-14-16M1257 55l-6-5l5-2zl-11-18M1275 57l-5-5l4-3zl-10-20M1293 59l-4-6l4-2zl-8-22M1312 60l-5-6l5-1zl-8-23M1331 61l-4-6l4-1zl-7-24" fill="#000" stroke="#000" stroke-width="1.7" stroke-linejoin="miter"/><path d="M78.1 134.3l8.7 3l7-6l12.1 0l1.8 9l6.9 6l8.8 3l8.7-3l12.1 3l0.9 3.1l4.4 18l3.5 9l1.7 9l3.5 9l5.2 9l1.7 1.5l12.2-1.5l-1.7 12.1l-3.5 9l-5.2 9l-5.2 9l-3.5 9l-1.8 9l1.8 12.1l0.8 12l-6 9l-3.5 6l0.8 12l-4.3 6l-0.9 9.1l-4.3 6l-5.3 9l-8.7 1.5l-6.1 0l-0.8-7.5l-3.5-9l-1.8-9.1l-1.7-12l-3.5-12l2.6-15l-0.8-12l-1.8-9.1l-5.2-15l0.9-9l-0.9-6l-5.2-1.5l-3.5-6l-5.2 1.5l-5.2 3l-5.3 0l-5.2 1.5l-5.2-7.5l-3.5-6l-3.5-6l-3.5-11.2l0.9-9.9l0.9-9l-1.8 0l3.5-9l3.5-10.5l5.2-6l0.9-7.6l4.3-6l1.8-6M78.1 134.3l-5.2-3l-0.9-6l0.9-9l1.7-4.5l10.5 0l1.7-7.5l-6.1-7.5l4.4-0.6l3.4-2.4l3.5-4.6l3.5-3l1.7-4.5l5.3-1.5l0.8-9l3.5-1.5l-0.9 6l3.5 4.5l3.5 0l7-1.5l5.2-1.5l0-6l5.2-1.5l-0.9-4.5l7.9-1.5l3.5-1.5l-7-1.5l-6.1 1.5l-1.7-3l0-6l6.1-6l-1.8-3l-3.5 1.5l-1.7 4.5l-6.1 6l-0.9 3l2.6 3l-3.4 9l-0.9 3l-3.5 1.5l-1.7 0l-0.9-3l-2.6-7.5l-1.8 0l-3.4 3l-4.4-3l-0.9-7.5l5.3-6l6.9-7.5l5.2-7.5l7-4.6l10.5-3l5.2 0l5.2 3l3.5 1.5l7 1.6l6.9 4.5l-1.7 4.5l-8.7-1.5l-1.8 4.5l1.8 3l5.2 0l3.5-1.5l0-4.5l6.9-1.5l0-4.5l3.5 0l3.5 3l10.5-4.5l10.4-1.5l0.9-3.1l11.3 3.1l3.5 1.5l-3.5-7.6l3.5-6l6.9 3l-1.7 12.1l3.5 3l-1.8-6l3.5-9.1l8.7-4.5l10.5-5.1M285.3 16.5l0 3.6l8.7 3l10.4-1.5l5.3 3l5.2 4.5l8.7-1.5l8.7-3l8.7 0l8.7 3l8.7 1.5l8.7 3l3.5 1.5l5.2 0l8.7-1.5l10.5 1.5l6.9 1.6l8.7 4.5l8.7 4.5l-5.2 4.5l-8.7-3l-3.5 1.5l-3.4 1.5l1.7 6l-7 1.5l-8.7 6l-8.7 0l-3.5 6l-1.7 6l-3.5 9l-5.2 6l-1.8-9l0-9l7-10.5l5.2-4.5l-8.7 1.5l-5.2 6l-8.7 0l-8.7 0l-7 7.5l-5.2 7.5l3.5 4.5l1.7 3l-1.7 9.1l-3.5 7.5l-5.2 7.5l-5.2 3l-3.5 3l-3.5 6l-0.9 1.5l3.5 7.5l-0.9 6l-4.3 1.5l-0.9-7.5l-1.7-3l0-4.5l-5.3-3l-1.7 4.5l-5.2 0l0 3l5.2 1.5l2.6 1.5l-4.3 3l-1.8 3l3.5 9l1.7 4.6l-1.7 7.5l-2.6 7.5l-4.4 6l-5.2 3l-6.9 4.5l0 3l-3.5-4.5l-3.5 7.5l1.7 7.5l3.5 10.5l0 4.5l-4.3 4.6l-2.6 4.5l0-4.5l-3.5-3l-3.5-6.1l-1.8-1.5l-0.8 7.6l0.8 6l1.8 6l4.3 9l0.9 7.5l-0.9 0.6l-4.3-5.1l-0.9-9l-3.5-6l0-6l-0.8-9.1l-0.9-9l-4.4 0l-0.8-6l-4.4-10.5l-1.7-3l-3.5 1.5l-3.5 3l-1.7 3l-7 10.5l-3.5 4.5l0 9l-0.8 6.1l-2.7 6l-1.7-1.5l-1.7-7.5l-2.7-9.1l-2.6-9l0-9l-0.8-3l-4.4 0l-1.7-4.5l-3.5-6l-5.2-2.4l-7 0l-5.2-1.2l-0.9-3.9l-4.3 0.9l-3.5-3l-3.5-6.9l-2.6 0l-0.9 3l3.5 7.5l1.7 4.5l1.8 3l3.5 0l4-6.9l0.3 5.4l3.5 3l2.3 3l-3.2 7.5l-1.7 6l-3.5 3l-5.2 3l-5.3 6l-6.9 3.6l-2.6 0.3l-1.4-6.9l-1.2-6l-3.5-9l-1.8-7.5l-3.4-9l-3.5-7.5l-0.9-4.5l-0.9 4.5l-1.7-3l-0.9-3M144.8 148.7l3.5-0.3l1.2-5.1l1.7-7.5l0-3.6l-3.5 1.2l-3.5 0.3l-2.6-0.9l-4.3-0.6l-1.8-2.4l-0.8-4.5l0-3.6l4.3-2.4l4.4-0.6l6.1-2.4l5.2 3l6.1-1.5l0-3l-4.4-4.5l-2.6-3l0.9-6l-5.2 4.5l2.6 0.6l-2.6 1.5l-2.6 0.9l-0.9-4.5l-3.5-1.5l-1.7 3l-2.6 6l-0.9 4.5l1.7 3l-5.2 0.6l-3.5 0.9l-2.1 0.6l0.4 3.9l1.7 3l-1.7 4.5l-1.8-0.6l-0.8-2.4l-0.9-4.5l-2.6-4.5l0-4.5l-6.1-4.5l-2.6-4.5l-1.8-2.1l-2.1 1.2l0.4 3.9l2.6 4.5l3.5 1.8l4.3 5.1l-2.6-0.9l-0.8 3l0.8 1.5l-1.7 3l-0.5 0l0.5-3l-0.9-3l-2.6-3l-2.6-1.5l-2.6-3l-1.8-4.5l-2-1.2l-2.3 1.8l-2.6 2.4l-3.5-1.5l-1.7 3l0.3 2.1l-4.7 3.9l-1.4 3l0.5 2.4l-1.2 3l-2.2 2.7l-4.4 0.3l-1.7 2.1M422.8 45.4l7-2.7l3.5-1.5l-3.5-3l-3.5-1.5l5.2-3.1l10.5-5.4l8.7 1.5l12.2 2.4l6.9 1.2l8.7 1.9l10.5-3.1l3.5-1.5l5.2 3l8.7 0l8.7 3.1l8.7 1.5l3.5 3l5.2-3l8.7 0l7 0l3.5-3l-1.8-9.1l5.3 6l3.4 3.1l7 3l7-3l1.7 3l-3.5 6l-5.2 0l-1.7 6l-5.3 1.5l-5.2 4.5l-2.6 6l0.9 3.9l2.6 5.1l6.1 1.5l6.9 3.6l5.3 0.9l0 6l2.6 4.5l2.6 0l0-7.5l3.5-6l-1.8-7.5l0-4.5l0.9-7.5l6.1 0.6l7 3.9l0.8 6l4.4 2.1l3.5-5.1l0.8-0.9l4.4 8.4l1.7 4.5l5.2 4.5l3.5 4.5l0.6 3l-2.3 1.5l-5.2 3.6l-8.7 0.3l-3.5 2.8l-3.5 2.4l-3.5 4.8l1.8-0.3l8.7-6.6l0.8 3.6l-0.8 3l1.7 3l5.2 1.5l1.8-1.5l-1.8 2.4l-4.3 2.1l-4.4 3l0-3l2.6-3l-4.3 1.5l-3.5 3l-2.6 3l-0.4 3l1.3 0.9l-3.5 1.5l-3.5 1.8l0 3.3l-2.6 4.5l-0.9 3l0.4 3l0.5 2.4l-2.6 2.1l-1.8 1.8l-2.6 2.7l-2.6 4.5l-0.5 4.6l1.4 6l0.8 4.5l-0.5 3.6l-1.2 0.3l-1.7-3.9l-1.3-4.5l-0.5-3l-1.7-3l-2.6 0.9l-2.6-2.1l-3.5 0.3l-0.5 3.3l-2.1 0l-4.4-1.5l-3.5 1.5l-3.5 3.6l-0.5 6l-0.7 6l-0.1 5.1l1.3 5.4l1.8 4.5l1.7 1.5l1.8 0.9l3.5-1.2l1.7-1.8l0.9-4.8l0.8-0.9l4.4-1.2l1.2 1.5l-1.2 4.5l-0.9 3.6l-0.5 5.4l-0.9 2.1l4.9-0.3l3.5 0.3l1.4 2.4l-0.5 6l-0.4 6.1l1.2 3l1.8 3l1.7 0.6l2.1-1.8l3.1 0.3l1.8 3l1.7-3.6l0.9-3l1.7-1.5l4.4-3.7l0.8 3.7l2.7-1.6l2.6 3.1l4.3 0l3.5 0l3.5-0.6l1.7 3.6l1.8 3l2.6 4.5l2.6 3l5.2 0.9l3.5 2.7l1.7 2.4l1.8 6.6l0 5.4l2.6 2.1l2.6 0l4.4 4.8l2.6 0.6l5.2 0.9l2.6 2.7l2.6 3.3l3 1.5l0.7 5.1l-0.2 6.1l-3.5 7.5l-2.6 4.5l-0.9 6l0 7.5l-1.7 7.5l-1.8 6l-1.7 3l-4.3 0.6l-3.2 2.4l-2.9 4.5l-1.3 6.1l-0.5 4.5l-2.6 6l-2.6 4.5l-2.6 4.5l-2.6 3l-3.5-1.5l-2.6-1.5l2.2 6.9l0.4 5.1l-3.5 2.4l-5.2 0.6l-0.5 5.4l-4.7 0.6l1.7 4.5l-1.7 1.5l-0.9 6l-3.5 3l2.6 4.6l-2.6 4.5l-2.6 4.5l0.9 5.4l-2.6 0.6l2.6 1.5l2.6 6l2.6 0l-4.4 1.5l-5.2-4.5l-3.5-1.5l-2.6-4.5l-1.7-6l0.9-6l-0.9-4.5l2.6-4.6l0-6l0.9-4.5l-0.4-6l0.4-7.5l1.7-6l1.7-9l0-9l1.8-12.1l0.3-15l0-5.1l-2.9-3.9l-5.2-4.5l-2.3-4.5l-1.2-6l-2.6-7.5l-1.8-7.6l-2.6-3l-0.5-4.5l2.2-3l-0.8-3.6l-0.9-3.9l1.7-4.5l1.8-3l0.9-3l1.7-4.5l0.3-6l-0.3-4.5l-1.7-1.5l-1.8-2.7l-1.7 2.7l0.8 2.1l-2.6-1.5l-2.2-1.2l-1.6-1.5l-2.3-3.9l-1.4-2.7l-1.7-3.4l-1.2-3l-2.6-1.2l-3.5-1.5l-2.3-2.1l-2.9-4.5l-1.8 0.3l-2.6 0.9l-3.5-1.8l-2.6-2.1l-3.5-3l-3.4-3l-2.7-3l0.4-4.5l-1.2-4.5l-3.5-6l-2.6-4.5l-1.8-3l-2.6-4.5l-1.7-6.1l-3-2.1l0 5.2l3 6l1.7 4.5l2.6 6l1.8 4.5l-1.4-1.5l-3-4.5l-0.8-4.5l-2.7-3l-0.8-3l-2.3-4.5l-1.7-6.1l-0.9-3l-2.1-3l-3.5-1.5l-2.2-6l-1.3-3.9l-2.2-5.1l-0.9-3l0.2-7.5l0.3-9l-1.2-7.2l3-0.3l0.8 3l-0.8-4.5l-3.5-3l-4.4-3.1l-0.8-4.5l-3.5-4.5l-1.8-4.5l-4.3-4.5l-2.6-3l-3.5-1.5l-4.4-3.9l-4.3-0.6l-3.5-0.6l-3.5-2.4l-3.5 0.6l-2.6 3l-4.3 2.4l0.9-6l-4.4 7.5l-3.5 3l-3.5 3l-4.3 3l-4.4 2.1l-2.6 0.3l4.4-3.3l3.5-2.1l3.4-3l0.9-3.6l-2.6 0.6l-5.2-1.5l0-3l-5.2-1.5l-1.8-3.9l1.8-2.1l0.8-1.5l6.1-1.5l0-3l-3.5 0l-5.2 0l-3.5-3.3M-12.5 16.5l1.8 3.6l3.5 6l1.7 4.5l5.2 3l-4.3 4.6l0.9 6l2.6 6l2.6 4.5l3.5 4.5l6.9 3l3.5-6l3.5-7.5l5.2-3.6l7-5.4l8.7-2.4l5.2-3.7l5.2-2.4l-3.5-3.6l3.5-3l0-4.5l4.4-3.6M614.3 16.5l1.8 3.6l3.5 6l1.7 4.5l5.2 3l-4.3 4.6l0.9 6l2.6 6l2.6 4.5l3.5 4.5l6.9 3l3.5-6l3.5-7.5l5.2-3.6l7-5.4l8.7-2.4l5.2-3.7l5.2-2.4l-3.5-3.6l3.5-3l0-4.5l4.4-3.6M46.7 45.7l3.5-2.4l7 0.9l5.2-0.6l2.3 3.6l-2.3 2.1l-6.1 2.4l-4.3-0.9l-2.6-0.6l0.8-2.4l-3.5-2.1M79 92.3l4.3-1.6l7-2.1l1.2-4.5l-3-2.4l-0.3-3l-2.3-3l-0.8-1.5l-1.8 0l1.8-4.5l-3.5-0.6l1.7-2.7l-3.5 0l-1.7 3.3l0.9 4.5l0.8 3l2.6 0.3l0.9 2.7l0 1.8l-2.6 0.3l0.3 2.4l-1.5 2.1l2.9 0.9l0.9 0.9l-4.3 3.7M78.1 85.6l-7 1.8l0-5.7l2.6-3l0.9-2.1l3.5 0l0.9 2.1l-0.9 3l0 3.9M314.9 147.8l1.7 0l1.8-6l5.2-0.6l3.5-3l3.4-0.9l3.2-2.1l0.3-6.9l1.8-4.5l-0.9-5.4l-2.1 0.9l-0.5 3l-0.4 4.5l-3.1 4.5l-2.1 0l-1.4 3l-3.5 1.5l-3.4 1.5l-1.8 3l-1.7 2.1l0 5.4M332.3 117.8l2.6-4.5l0.3-6.9l2.3 3l4 1.8l-0.5 2.1l-2.6 3l-3.5-1.5l-2.6 3M335.8 104.3l0-12l0.8-10.6l0.9-1.5l0.5 6l-0.5 7.6l2.6 1.5l-2.6 6l-1.7 3M299.2 167.4l1.7 0l-1.7 9l-1.7-3l1.7-6M278.3 183.9l3.5-1.5l-0.9 4.5l-2.6 0.6l0-3.6M298.3 186.9l3 0.6l-0.4 6.9l-0.8 6l4.3 3l0 1.5l-3.5-3l-2.2-1.5l-1.2-6l0.8-7.5M300.9 221.5l2.7-4.5l3.4-3.9l1.8 6.9l-1.8 4.5l-2.6-1.5l-3.5-1.5M300.9 207l1.8 0.9l0.5 4.6l-1.4 1.5l-0.9-3l0-4M305 204.9l2 1.5l0 4.6l-1.2 0.9l-0.5-3.3l-0.3-3.7M292.6 217l4-8.4M278.3 238l1.8-0.6l2.6-2.4l2.6-3l3.5-4.5l3.1-6l3.8 6l-1.7 6l-0.4 6l-0.5 6l-1.7 7.5l-3.5 1.5l-4.4-2.1l-3.4-2.4l-1.8-6l0-6M254.5 225.4l3.8 1.5l4.3 7.2l6.1 8.4l1.8 6l2.6 3.6l-0.4 7.8l-2.2-0.3l-4.4-5.1l-2.6-6l-2.6-7.5l-3.5-7.5l-2.9-8.1M271.9 262l4.7 0l5.2 0l3.5 1.5l2.6 2.5l-0.4 2.4l-7.4-1.8l-6.1-2.2l-2.1-2.4M296.6 259l1.7-7.5l-1.7-6l0.9-5.4l3.4-0.6l4.4-1.5l0.9 0.6l-3.5 2.4l-3.5 0l-0.9 4.5l4.4 0l-1.8 3l0.9 7.5l-2.6-4.5l-0.9 7.5l-1.7 0M303.6 273.5l6.1-5.7l-3.5 2.7l-2.6 3M290.5 268.1l5.2-0.3l7-0.3l-5.2 1.8l-7 0l0-1.2M310.5 236.5l1.8 3l-0.9 5.4l-0.9-3.9l0-4.5M316.6 244.9l5.2 0l1.8 7.5l5.2-4.8l5.2 2.7l7 5.7l4.3 4.5l-0.8 3l6.1 10.6l-5.3-1.5l-4.3-6l-3.5 3l-3.5 0l-4.3-2.1l-0.9-4l-1.7-6l-3.5-1.5l-4.4-1.5l-0.8-3.6l-1.8-6M347.1 259l6.1-3.9l0 3.9l-4.4 2.4l-1.7-2.4M287 308.6l-0.9 9l2.7 18.1l0 9.9l5.2 2.1l3.5-3l6.9-3l3.5-2.1l5.2-1.8l4.4-0.6l4.3 4.5l2.7 5.4l3.4-5.4l0.9 7.5l2.6 1.5l1.8 6l5.2 2.4l2.6-1.5l2.6 2.1l2.6-3.6l3.5-1.5l1.7-9.9l2.7-6l1.7-10.5l-0.9-9.1l-3.5-6l-3.4-9l-4.4-4.5l-1.7-12l-0.9-1.5l-2.6-1.5l-1.8-9.6l-1.7 6.6l-0.9 12l-2.6 1.5l-6.1-6l0.9-10.5l-6.1-1.5l-3.5 2.4l-2.6 8.1l-4.3-3l-3.5 3l-4.4 6l-0.9 4.5l-5.2 4.5l-5.2 2.4l-3.5 3.6M340.5 364.8l5.7 0.9l0 6l-2.6 1.5l-2.1-3l-1-5.4M389.7 346.2l2.7 4.5l2.6 4.5l4.3 0.6l-2.6 5.4l-2.6 6l-1.2-0.6l0.3-3.9l-2.1-2.1l1.6-3.9l-3-10.5M389.2 364.2l2.8 3.6l-2.3 3.9l-2.9 3.9l-1.1 5.1l-3.8 1.9l-3.5-1.9l2.6-6l5.3-4.5l2.9-6M174.4 278.6l2.1 10.5l-2.7 7.5l-2 15l-1.4 6l-3.5 1.5l-2.6-7.5l0.8-9l0.9-12l4.4-3l1.7-4.5l2.3-4.5M227.8 213.1l3.2 6.9l-1.4 4.5l-1.8 0l-0.5-6l0.5-5.4M567.3 176.4l5.3-3l3.4 0l5.3 4.5l4.8 3.9l-5.7 0.9l-0.9-2.4l-4.3-3.9l-2.6-1.5l-3.5 2.1l-1.8-0.6M585.6 183l4.4-0.6l3.5 0.9l2.6 3.6l-4.4 1.5l-3.5-0.9l-2.6-0.6l0-3.9M579 187.2l3.5 0.9l-2.1 0.9l-1.4-1.8M598.3 187.2l2.6 0.3l-1.4 1.2l-1.2-1.5M170.4 107.3l3.4-4.5l3.5-1.5l3.5 0.6l0 5.4l-3.5 0l-0.8 1.5l0.8 4.5l3.2 3l1.2 4.5l-0.9 4.5l1.8 6l-5.3 0.9l-3.5-2.4l0-3l0.9-5.4l-2.6-5.1l-0.9-3l-0.8-3l0-3M190.4 102.8l4.3 0l0.9 4.5l-3.5 3l-2.1-3l0.4-4.5M269.6 87.7l3.5-3l5.2-4.5l1.8-5.1l-1.8 2.1l-2.6 6l-6.1 4.5M217.4 107.3l5.2-5.1l3.5 0.6M555.2 102.2l5.2-3.9l5.2 1.5l2.3 3l-4 0l-5.3-0.3l-3.4-0.3M563 116.3l2.1 0l0.5-6l1.7-5.4l-3.4 0.9l-1.8 4.5l0.9 6M569.1 104.3l5.2 0l1.7 3l-2.6 1.5l-1.4 3.9l-2-2.4l0-4.5l-0.9-1.5M570.3 117.2l7.5-3.3l-1.8 1.5l-4.3 2.4l-1.4-0.6M576.6 112.4l5.9-2.1l-0.4 1.5l-4.3 0.6l-1.2 0M546.4 90.7l-2.6-4.5l-0.8-4.5l2.6 0l1.7 7.5l-0.9 1.5M501.2 47.2l5.2-6l3.5 3l-5.2 3l-3.5 0M511.6 59.2l5.2-4.5l7 0l-3.5 3l-5.2 2.1l-3.5-0.6M144.2 241.6l3.5 0l0 3.9l-0.8 4.5l-2.7 0l-0.5-4.5l0.5-3.9M139.5 253l0.7 7.5l2.3 7.6M147.7 271.1l0.9 7.5l0.9 6.9M603 53.2l5.3-10.5l-11.4-9.1l-6.9-6l-10.5-4.5l-5.2-2.1l-13.9 0.6l-1.8 4.5l8.7 6l5.3 0l6.9 0l5.3 6.1l3.4 1.5l0 7.5l-8.7 0l0 3l10.5 3l6.9 1.5l5.3 1.5l0.8-3M511.6 27.6l20.9-4.5l7 9l-7 3.1l-15.7 0l-5.2-3.1l0-4.5M497.7 26.1l5.2-7.5l10.5 3l-7 6l-8.7-1.5M563.9 45.7l6.9 0l4.4 6l-7.9 1.5l-3.4-7.5M612.1 99.2l3.1-5.4l2.6-6.4l0.9 1.8l-0.9 3.1l3.5 1.5l1.8 3l0.5 3l-1.4 2.7l-4.4-1.2l-5.7-2.1M186 16.5l-4.3 5.1l-3.5 6l2.6 2.4l5.2-2.4l3.5-6l0-5.1M110.3 128.3l5.2-0.6l-0.9 4.5l-4.3-2.7l0-1.2M103 119.3l2.4 0l-0.3 5.4l-1.8 0.6l-0.3-6M104.2 113.3l0.9 3l-0.9 1.8l-0.7-2.7l0.7-2.1M129.4 135.8l4.9 0.9l-4 0.6l-0.9-1.5M144.8 137.3l3.8-1.8l-1.7 2.7l-2.1-0.9M443.7 181.8l1.8 1.5l-1.3 2.1l-0.5-3.6M320.1 140.3l2.6-0.6l-0.9 2.7l-2.6 0.9l0.9-3M374.1 303.2l5.2 6.3M541.2 23.1l5.2-1.5l0 6l-5.2 0l0-4.5M549.1 20.1l4.3 0l1.8 3.6l-5.3 0.9l-0.8-4.5M555.2 16.5l6.9 2.1l10.5 0l3.4-2.1M609.1 397.3l5.2-0.6l-1.7 3l-3.5-0.9l0-1.5M327.1 16.5l5.2 2.1l5.2 1.5l3.5-3.6M173 34.6l2.6 0.6l-0.9 0.9l-1.7-1.5M181.7 204.6l1.7 0.3M249.9 201.9l0.2 6" fill="none" stroke="#000" stroke-width="0.9" stroke-linejoin="round"/>
<path d="M88.5 19.5V410.5M193 19.5V410.5M297.5 19.5V410.5M401.9 19.5V410.5M506.4 19.5V410.5M610.9 19.5V410.5" stroke="#9a98a4" stroke-width="1" stroke-dasharray="1.5 3.55" fill="none"/><path d="M40.8 32.1H663.1M40.8 62.2H663.1M40.8 92.3H663.1M40.8 122.3H663.1M40.8 152.4H663.1M40.8 182.4H663.1M40.8 212.5H663.1M40.8 242.5H663.1M40.8 272.6H663.1M40.8 302.6H663.1M40.8 332.7H663.1M40.8 362.7H663.1M40.8 392.8H663.1" stroke="#9a98a4" stroke-width="1" stroke-dasharray="1.5 4.75" fill="none"/>
</g>
<rect x="36.3" y="17" width="626.8" height="393.5" fill="none" stroke="#000" stroke-width="1.8"/><text x="84.9" y="426.8" font-size="13" textLength="8.5" lengthAdjust="spacingAndGlyphs" class="a">0</text><text x="180.5" y="426.8" font-size="13" textLength="26.2" lengthAdjust="spacingAndGlyphs" class="a">60E</text><text x="280.1" y="426.8" font-size="13" textLength="36.1" lengthAdjust="spacingAndGlyphs" class="a">120E</text><text x="389.5" y="426.8" font-size="13" textLength="26.2" lengthAdjust="spacingAndGlyphs" class="a">180</text><text x="489" y="426.8" font-size="13" textLength="36.1" lengthAdjust="spacingAndGlyphs" class="a">120W</text><text x="598.4" y="426.8" font-size="13" textLength="26.2" lengthAdjust="spacingAndGlyphs" class="a">60W</text><text x="0.7" y="36.9" font-size="13" textLength="26.2" lengthAdjust="spacingAndGlyphs" class="a">70N</text><text x="0.7" y="66.9" font-size="13" textLength="26.2" lengthAdjust="spacingAndGlyphs" class="a">60N</text><text x="0.7" y="97" font-size="13" textLength="26.2" lengthAdjust="spacingAndGlyphs" class="a">50N</text><text x="0.7" y="127.1" font-size="13" textLength="26.2" lengthAdjust="spacingAndGlyphs" class="a">40N</text><text x="0.7" y="157.1" font-size="13" textLength="26.2" lengthAdjust="spacingAndGlyphs" class="a">30N</text><text x="0.7" y="187.2" font-size="13" textLength="26.2" lengthAdjust="spacingAndGlyphs" class="a">20N</text><text x="0.7" y="217.2" font-size="13" textLength="26.2" lengthAdjust="spacingAndGlyphs" class="a">10N</text><text x="8.8" y="247.3" font-size="13" textLength="18.1" lengthAdjust="spacingAndGlyphs" class="a">EQ</text><text x="0.7" y="277.3" font-size="13" textLength="26.2" lengthAdjust="spacingAndGlyphs" class="a">10S</text><text x="0.7" y="307.4" font-size="13" textLength="26.2" lengthAdjust="spacingAndGlyphs" class="a">20S</text><text x="0.7" y="337.4" font-size="13" textLength="26.2" lengthAdjust="spacingAndGlyphs" class="a">30S</text><text x="0.7" y="367.5" font-size="13" textLength="26.2" lengthAdjust="spacingAndGlyphs" class="a">40S</text><text x="0.7" y="397.5" font-size="13" textLength="26.2" lengthAdjust="spacingAndGlyphs" class="a">50S</text><path d="M88.5 410.5v4.2M193 410.5v4.2M297.5 410.5v4.2M401.9 410.5v4.2M506.4 410.5v4.2M610.9 410.5v4.2M36.3 32.1h-5M36.3 62.2h-5M36.3 92.3h-5M36.3 122.3h-5M36.3 152.4h-5M36.3 182.4h-5M36.3 212.5h-5M36.3 242.5h-5M36.3 272.6h-5M36.3 302.6h-5M36.3 332.7h-5M36.3 362.7h-5M36.3 392.8h-5" stroke="#000" stroke-width="1.2" fill="none"/>
<g stroke="#000" stroke-width="0.9" stroke-linejoin="miter"><path d="M676.4 101.8L684 72.6L691.6 101.8Z" fill="#dc0063"/><rect x="676.4" y="101.8" width="15.2" height="28.1" fill="#f00000"/><rect x="676.4" y="129.9" width="15.2" height="28.1" fill="#f08228"/><rect x="676.4" y="157.9" width="15.2" height="28.1" fill="#e6af2d"/><rect x="676.4" y="186" width="15.2" height="28.1" fill="#a0e632"/><rect x="676.4" y="214.1" width="15.2" height="28.1" fill="#00dc00"/><rect x="676.4" y="242.1" width="15.2" height="28.1" fill="#00d28c"/><rect x="676.4" y="270.2" width="15.2" height="28.1" fill="#00a0ff"/><rect x="676.4" y="298.3" width="15.2" height="28.1" fill="#1e3cff"/><rect x="676.4" y="326.3" width="15.2" height="28.1" fill="#8200dc"/><path d="M676.4 354.4L684 383.6L691.6 354.4Z" fill="#a000c8"/></g><text x="695" y="106.2" font-size="12.3" textLength="16.8" lengthAdjust="spacingAndGlyphs" class="c">25</text><text x="695" y="134.3" font-size="12.3" textLength="16.8" lengthAdjust="spacingAndGlyphs" class="c">20</text><text x="695" y="162.3" font-size="12.3" textLength="16.8" lengthAdjust="spacingAndGlyphs" class="c">15</text><text x="695" y="190.4" font-size="12.3" textLength="16.8" lengthAdjust="spacingAndGlyphs" class="c">10</text><text x="695" y="218.5" font-size="12.3" textLength="8.2" lengthAdjust="spacingAndGlyphs" class="c">5</text><text x="695" y="246.5" font-size="12.3" textLength="8.2" lengthAdjust="spacingAndGlyphs" class="c">0</text><text x="695" y="274.6" font-size="12.3" textLength="16.8" lengthAdjust="spacingAndGlyphs" class="c">-5</text><text x="695" y="302.7" font-size="12.3" textLength="25.4" lengthAdjust="spacingAndGlyphs" class="c">-10</text><text x="695" y="330.7" font-size="12.3" textLength="25.4" lengthAdjust="spacingAndGlyphs" class="c">-15</text><text x="695" y="358.8" font-size="12.3" textLength="25.4" lengthAdjust="spacingAndGlyphs" class="c">-20</text><text x="671.4" y="35.2" font-size="10.6" textLength="35.2" lengthAdjust="spacingAndGlyphs" class="t" letter-spacing="1.2">gpm</text>
<text class="t" y="10" font-size="10.4" xml:space="preserve"><tspan x="8.6" textLength="50.3" lengthAdjust="spacingAndGlyphs">ZUV500</tspan> <tspan x="66.3" textLength="133" lengthAdjust="spacingAndGlyphs">(jun2022-aug2022)</tspan> <tspan x="206.6" textLength="54.1" lengthAdjust="spacingAndGlyphs">forecast</tspan> <tspan x="268" textLength="30.6" lengthAdjust="spacingAndGlyphs">from</tspan> <tspan x="307.1" textLength="59.5" lengthAdjust="spacingAndGlyphs">1oct2021</tspan> <tspan x="376.2" textLength="43" lengthAdjust="spacingAndGlyphs">(NUIST</tspan> <tspan x="426.2" textLength="45.6" lengthAdjust="spacingAndGlyphs">CFS1.0;</tspan> <tspan x="483.2" textLength="73.1" lengthAdjust="spacingAndGlyphs">9-member</tspan> <tspan x="564.1" textLength="41.1" lengthAdjust="spacingAndGlyphs">mean)</tspan></text>
<path d="M523.6 439H558.6" stroke="#000" stroke-width="1.1" fill="none"/><path d="M559.4 439l-4.2 -1.6v3.2z" fill="#000"/><text x="537.6" y="450.7" font-size="11.8" textLength="7.6" lengthAdjust="spacingAndGlyphs" class="t">3</text><text x="552.4" y="450.7" font-size="11.5" fill="#2846ff" textLength="22.4" lengthAdjust="spacingAndGlyphs">ms</text><text x="576.2" y="445.6" font-size="7.4" fill="#2846ff" textLength="8.2" lengthAdjust="spacingAndGlyphs">-1</text>
</g>
<g transform="translate(735.9 461.1)">
<g clip-path="url(#cp)">
<rect x="34.3" y="15" width="630.8" height="397.5" fill="#a000c8"/><path d="M30.5 11l638 0l0 404l-638 0zM96.5 88.5l-2 1l-2 2.5l-1 5l1 2.5l2 2.5l2 1l2 0.5l2-1l2-2l1-3.5l0-2l-1-3l-2-2.5l-2-1zM630.5 389l-4 1l-4 2.5l-3 2.5l-1 2l-0.5 2l0 4l3 4l5.5 3.5l4 1.5l4 0l4 0l4-1l4-1.5l3-2.5l2.5-4l0-4l-1.5-4l-2-2l-3-2l-5-2l-4-0.5z" fill="#8200dc" fill-rule="evenodd"/><path d="M30.5 11l638 0l0 387l-2-5l-2-3.5l-4-4l-3.5-2.5l-4.5-2l-6-2l-6-1.5l-6 0l-10 1l-8 3l-6.5 3.5l-5.5 6l-2 6l0 6l2 6l5 6l-575.5 0l5.5-6l1.5-4l0.5-4l-0.5-6l-2.5-4l-3-4l-5-4zM92.5 78.5l-4 2.5l-2 2.5l-2 3.5l-1.5 6l1 8l2.5 6l4 4.5l4 2l2 0.5l4 0l4-2l2-2l3-5l2-6l0-4l-0.5-4l-2.5-6l-4-4.5l-2.5-1.5l-3.5-1.5l-4 0zM436.5 84.5l-5.5 4.5l-4.5 6l-1.5 6l0 4l1.5 3l2 2.5l4 3.5l6 2.5l4 0.5l4-1.5l2-1.5l4-5l2-6l0-4l-0.5-4l-2-6l-4-4l-3.5-1.5l-2-0.5zM668 405l0.5-2l0 12l-7.5 0l3.5-4z" fill="#1e3cff" fill-rule="evenodd"/><path d="M30.5 11l638 0l0 26.5l-8 0.5l-10 1.5l-22 8.5l-20 6l-10 3.5l-10.5 5.5l-7.5 6l-4 4.5l-2 3.5l-0.5 2l0 2l1 2l3.5 2.5l6 1l8-1l6.5-2.5l8-4l9-6l14.5-11l8-4l10-2.5l20-2l0 325l-6-4l-8-3l-8-2l-8-1l-8 0.5l-8 1l-8 2l-7.5 3l-6 4l-4.5 4l-3 4l-3 6l-0.5 4l0.5 6l1.5 6l3.5 6l-546 0l3.5-6l1.5-6l0-6l-2-6l-4-6l-4-4.5l-6-4.5l-8-3.5l0-318l14-1.5l8-1.5l2-0.5l3-2l1.5-2l-0.5-2l-1.5-2l-3-2l-5-2l-8.5-1.5l-10 0.5zM92.5 69l-4 1l-2 1l-2 2l-3 4l-2 4l-1.5 6l-0.5 10l2 10l5 8.5l3 3.5l3 2l4 1.5l4 0l4-1l4-2l4-4l2-2.5l2-4l2-6l0.5-4l0-6l-1.5-6l-1.5-4l-2.5-4l-3-4l-4-3l-4-2l-4-1zM224.5 388.5l-4.5 2.5l-0.5 2l0 2l3 3l4 1.5l6 1.5l8-0.5l4-1.5l2-1l1-1l1-2l-1-2l-2-2l-3.5-2l-3.5-1l-8-1zM270.5 73l-3.5 2l-1 2l0 2l1 4l3.5 4l6 5.5l8 5.5l8 4l10 4l10 3l10 2l10 1.5l10 0.5l8 0l8-1.5l6-2l2.5-2.5l0-2l-1.5-2l-6-4l-35-15.5l-14-5.5l-12-3.5l-12-2.5l-10-0.5zM406.5 357l-8 1l-6 1.5l-9 3.5l-7 4l-4.5 4l-2.5 4l-1 4l2 4l2 2l4 2.5l9 3.5l11 1.5l12-0.5l8-1l10.5-4l9.5-6l4.5-6l1.5-4l-0.5-2l-2.5-4l-3-2.5l-4-2l-8-2l-10-1.5zM438.5 74.5l-4 2l-4 2.5l-7.5 8l-7 10l-1.5 4l0 4l0.5 2l2.5 4l3.5 4l5.5 4.5l8 4.5l4 1.5l4 0l4-0.5l4-2l4-3.5l2-2.5l2-4l2-6l0.5-6l0-6l-1-6l-1.5-4l-4.5-6l-3.5-3l-4-1.5l-4-0.5z" fill="#00a0ff" fill-rule="evenodd"/><path d="M30.5 11l638 0l0 19l-14 0.5l-14 3l-30 11l-20 8.5l-12 7l-10 8l-5.5 7l-1.5 4l-0.5 4l1.5 6l2 3l4 3l4 1l4 1l8-1l8-2.5l10-4l11-6.5l21-13.5l8-3.5l12-3.5l14-1.5l0 305.5l-8-3.5l-8-2l-10-1l-10-0.5l-10 1l-8 1.5l-9 3l-8.5 4l-6.5 4.5l-5.5 5.5l-3 4l-2.5 6l-1 6l0.5 6l1.5 6l3 8l-274.5 0l5.5-3l4-3l4-4l2-4l1.5-4l0-2l-2-4l-2-2l-3-2l-8-4l-16.5-5.5l-16-2.5l-18-1l-22 1l-14 1.5l-12 3.5l-4 2l-4.5 3l-3.5 4l-1.5 4l-0.5 4l1.5 4l2.5 4l4 3.5l6 4l5 2.5l-153 0l2.5-8l0.5-8l-2.5-8l-4-8l-5-6l-7.5-6.5l-8-4.5l-10-3.5l0-300.5l14-1.5l16 0l8 1.5l2 1l2 1.5l1 2.5l0 4l-1.5 14l-0.5 8l1 6l1.5 8l3.5 10l5 8l4 5l4 2l6 0.5l6-2l6-3.5l5.5-6l4.5-7.5l2-6.5l1.5-6l0-8l-1-6l-2.5-7.5l-4-6.5l-3.5-4l-4.5-4.5l-4-2.5l-14-6.5l-4-2.5l-9-10l-5-4l-8-4.5l-10-3l-10-1.5l-12 0.5zM264.5 62.5l-6 2l-4 2.5l-2.5 2l-1.5 4l0 4l1 4l5 10l8 10.5l4 4l6 4.5l12 6.5l14 4.5l10 1.5l10 1l12 0l14-1l20-2.5l24-7l4-0.5l4 0l6 1.5l4 2l18 13l6 3l6 2l6 0.5l4-1l4-2l5.5-4.5l4.5-7l3-9l1-8l0.5-8l-1-8l-1.5-5.5l-2.5-4.5l-3.5-5l-4-3.5l-6-2.5l-4-0.5l-4 0l-4 1l-4 2l-8 6.5l-12 13.5l-6 5.5l-6 3l-6 1l-10-1.5l-22-7.5l-12-4.5l-28-13l-18-6l-12-3l-10-1l-10 0zM488.5 344l-1 1l1 2l1-2zM394.5 346.5l-6 1.5l-8 3.5l-20 10l-8.5 5.5l-4 4l-4 6l-1.5 6l1.5 4l4.5 3.5l5 2.5l9 3l10 2.5l10 1.5l10 1l10 0l8-0.5l8-1.5l8-2l6-2l8.5-4l6-4l5-4l4-4l3.5-6l1-6l-0.5-4l-1-2l-3.5-4l-7-4l-12-3l-20-3l-12-1z" fill="#00d28c" fill-rule="evenodd"/><path d="M30.5 11l638 0l0 12l-8 0l-10 1l-10 1.5l-10 3l-16 5.5l-18 7.5l-12 6l-10 5.5l-10 7l-7.5 7l-2.5 4l-2 4l-1 4l-0.5 4l1 6l1.5 4l3 5l4 4l4 2.5l4 1.5l4 1l6-0.5l8-2l10-4.5l10-5.5l26-16.5l10-5l12-4l14-1.5l0 284l-10-2l-14-0.5l-12 0l-12 1l-10 2l-10 3l-10 4l-8 4.5l-6 5l-4.5 4.5l-4 6l-2 6l0 6l1 6l5.5 18l-213 0l5-2l8-2l32-2.5l14-2l14-4l12.5-5.5l10-6l8-6l6.5-6l8-10l3-2.5l2.5-1.5l9.5-3.5l6-4.5l3-4l1.5-4l1-4l-0.5-6l-2-6l-2.5-4l-2.5-2.5l-4-2.5l-4-1.5l-8-1.5l-8 0l-8 2l-4.5 2l-9 8l-2.5 1.5l-4 1.5l-6 0.5l-8 0l-8-1.5l-20-6.5l-10-1.5l-6 0.5l-5 1.5l-4.5 2l-10.5 6.5l-4 1l-4-1.5l-6-6l-2-1l-2 0l-2 0.5l-1.5 2.5l-4 12l-4 6l-6.5 6.5l-4 2l-4 1.5l-4 0.5l-6 0l-24-3l-14-1l-26 0.5l-16 1.5l-14 2.5l-12 3l-10 4l-6 3.5l-6 4.5l-5.5 6l-5 8l-3 8l-1 6l1.5 6l2 4l-92 0l0.5-4l0-6l-2.5-10l-5-12.5l-8-12.5l-8-9l-8-6.5l-8-3l-12-2l0-281l10-1l10 0l4 1l4 1.5l4 3.5l2 5.5l1.5 16l2 10l7 26l2 16l1.5 3.5l2 2l4 1.5l6-1l6-3.5l12-11l8-10l5-9.5l4-10l1.5-8l-0.5-10l-1-6l-1.5-6l-5-10l-6.5-9l-10-9l-18-14.5l-8-5l-8-3.5l-8-2.5l-10-2l-10-0.5l-10 0zM268.5 51l-8 1.5l-6 2l-6 3l-5 3.5l-3 4l-1 4l-0.5 4l0.5 6l2.5 10l3 8l3.5 6l4.5 6l6 6l7.5 5.5l8 4l8 3.5l10 3.5l12 2.5l12 1.5l12 0l16-2l42-9.5l6-0.5l6 0l6 1.5l4.5 2l15.5 11l8 4.5l6 2l6 0.5l4-0.5l4-1.5l6-3.5l5.5-6.5l4-8l2.5-10l2-12l0-12l-1-10l-2.5-8l-3.5-6l-5-5.5l-6-3.5l-4-1.5l-6-0.5l-6 1l-6 2l-6 4l-4 3l-12 13l-6 5l-6 2.5l-8 1l-10-1.5l-12-4l-40-19l-22-8l-10-2.5l-10-1.5l-10-0.5z" fill="#00dc00" fill-rule="evenodd" stroke="#000" stroke-width="1"/><path d="M30.5 11l638 0l0 0.5l-16 0.5l-14 2.5l-14 3.5l-16 5.5l-20 8.5l-18 9.5l-14 9l-7.5 6.5l-4 6l-2.5 6l-1 6l0.5 8l1 6l3.5 8l14 24l1 4l-0.5 2l-1.5 4l-4.5 6l-22.5 22l-2.5 4l-1 4l0.5 2l1.5 2l5.5 3.5l7 2.5l9 1l10-0.5l8-1.5l8-3l7.5-4l6-6l2.5-4l0.5-4l0-4l-0.5-4l-7.5-18l0-4l0.5-2l4-6l8-8l12-10l11-8l12-7l10-5l8-2.5l8-1.5l8-0.5l0 248l-12 4l-8 2l-34 4l-10 2l-12 3l-12 4l-14 6l-14.5 7.5l-6 4l-2 2l-2 4l0 4l0.5 4l3 8l12 22l4.5 12l-136.5 0l11-5.5l14-7.5l38-23.5l14-6.5l22-9l6.5-4l2-2l1.5-4l0.5-6l0-6l-2.5-14l-2-6l-2.5-4l-5.5-6l-10-6l-12-4.5l-14-2.5l-12-1l-14 0.5l-12 1.5l-32 4.5l-40 2.5l-6-0.5l-4-1l-16-8l-4-1l-4 0l-4 1.5l-3.5 2l-6.5 6l-5 8l-7 16l-2 2.5l-4 2.5l-8 1.5l-38-1l-32 1.5l-16 2l-14 2l-10 3l-8 3l-6 3.5l-6 6.5l-4 6.5l-8.5 16.5l-5.5 10l-6 9l-8 8.5l-6 5.5l-4.5 3l-18 0l-3.5-3l-6-6.5l-8-11l-8.5-15.5l-3.5-8l-2-6l0-6l1.5-6l9-12l3.5-6l0.5-4l-0.5-2l-2.5-4l-3.5-3l-6-2.5l-8-1.5l-8-0.5l-8 1l-8 1.5l-20 6.5l0-251l8-1l8 1l6 3l2 2l2 3l2 5.5l4 16.5l2 11.5l1 8l-0.5 10l-3.5 16l-0.5 4l1 4l2.5 5.5l4 4l6 3l6 1.5l6 0l4-1l8-3l4-3l4-3.5l6-8l4-8l8-19l6-16.5l1-6l1-6l-0.5-6l-1-8l-2-8l-2.5-8l-4-8l-4-7l-10-13.5l-6-6.5l-6-4.5l-12-7.5l-8-3.5l-8-2.5l-16-3.5l-10-1l-12 0.5zM204.5 134.5l-24.5 14.5l-5.5 4.5l-4 5.5l-3.5 8l-0.5 4l0.5 4l1.5 4l2 2.5l2 2l4 3l4 1.5l6 0.5l4-0.5l6-2l6-3l5-4l4-4l3-4l2.5-6l0.5-6l0-8l-1.5-8l-1.5-5l-2.5-3l-3.5-1.5zM258.5 38.5l-6 2l-6 3.5l-6 4l-6 6.5l-3 4.5l-1.5 4l-1 6l0.5 8l1.5 12l1.5 8l2.5 8l4 8l5.5 7l6 6l8 6l8 4.5l14 6l14 4l16 3l16 1l10-1l8-1.5l8-2.5l20-8l8-2l8-1.5l8 0l6 2l5.5 3l16.5 14l6 4l6 3l8 2l8-0.5l8-3l6-4l4-5.5l3-8l2-12l3.5-38l0-16l-1.5-10l-3.5-8l-4.5-6l-7-5l-6-2.5l-8-1l-8 1l-6 2.5l-6 3l-6 4.5l-16 15.5l-5.5 4l-2.5 1.5l-4 1.5l-6 0.5l-8-1l-8-2.5l-46-21l-16-6l-12-4.5l-12-3l-10-1.5l-10 0z" fill="#a0e632" fill-rule="evenodd"/><path d="M130.5 11l94 0l3 6l1.5 6l0 6l-1 6l-6.5 18l-1.5 8l-0.5 8l1 32l-0.5 6l-1.5 4l-1.5 2l-3 2l-11.5 5.5l-14 9.5l-16 9l-6 5l-12 12.5l-6 4l-4 1l-4 0l-2-0.5l-4-2.5l-2-2l-2-3.5l-2-8l0-6l1-6l7.5-24l1-6l0.5-6l-0.5-8l-2-10l-8.5-32l-2.5-12l0-6l0.5-6l2-6zM325 13l6-2l62 0l11.5 4.5l4 2l3.5 3.5l1.5 2l1.5 4l-0.5 6l-2.5 6l-4 6l-5.5 6l-6 5l-5.5 3l-4.5 1l-6 0l-6-1l-14-4l-18.5-8l-14.5-8l-8-6l-5.5-6l-0.5-4l0.5-2l3.5-4zM502.5 43l4-0.5l2 0.5l4 2l4 3.5l4 5.5l3 7l19 46l3 10l-0.5 6l-1.5 4l-3 5.5l-4 4l-6 4.5l-6 3l-6 2l-6 1l-6 0l-6-1l-4-1.5l-4-2.5l-4-5l-2-4l-2.5-10l-0.5-10l1-9.5l7-44.5l1.5-6l3.5-5.5l2.5-2.5zM30.5 83l8 0.5l6 2.5l4 3.5l3.5 5.5l3 8l2 10l0.5 8l-0.5 6l-2 6l-2.5 5.5l-4 5.5l-4 4l-4 2.5l-4 2l-6 1.5zM648 85l10.5-2l6 0.5l4 1l0 65.5l-4 2l-6 1.5l-6 0.5l-8-1l-8-2.5l-6-3l-6-4.5l-6-6l-5.5-8l-1.5-6l-0.5-6l1.5-4l2-4l4.5-6l6.5-6l7-4.5l8-4.5zM382 151l4.5-0.5l4 0l4 1l3 1.5l3 2l3 4l2 4l1 4l0.5 4l-1 4l-1.5 4l-2 3l-4 3.5l-4 2.5l-8 2.5l-8-0.5l-4-1.5l-4-2l-5.5-5.5l-2-4l-0.5-4l0-4l1.5-4l4-6l6.5-4.5zM215.5 199l5-1.5l4-0.5l4 0.5l4 2l4 3.5l2.5 4l1.5 4l1.5 6l0 6l-1 6l-2 6l-2 4l-3.5 4l-3 3l-4 2l-6 1.5l-4 0l-4-1l-4-2l-4-3.5l-3-4l-2.5-4l-2-8l0.5-8l1-4l2-4l6-6.5l4-3zM157.5 261l5-1l6 0l6 0.5l6 2l4 2.5l2 2l1 4l-1 4l-2 2.5l-4 3l-8 2.5l-4 0.5l-6 0l-4-0.5l-5.5-2l-3-2l-2-2l-1.5-2l-0.5-4l1.5-4l2-2l3-2zM116 345l4.5-1l6-1l6 1l4 1.5l4 3l3.5 4.5l2 4l1 4l0.5 4l-0.5 6l-2 6l-2.5 4l-3 4l-4.5 4l-4.5 3l-4 1l-6 0.5l-4-0.5l-4-1.5l-4-2.5l-4-3.5l-3.5-4.5l-2.5-5.5l-1.5-4.5l-0.5-4l0.5-4l1.5-4l2-2.5l6-6l4-2.5zM500 387l8.5-0.5l8 0.5l8 1.5l8 3.5l6 4l6 5.5l4 6l2.5 7.5l-101 0l3.5-4l4.5-4l8-6l6.5-4l14-6.5l8-2.5z" fill="#e6af2d" fill-rule="evenodd"/><path d="M173.5 13l5 0l6 0.5l6 2l4 2.5l4 3l4 4l3 4l2 4l1.5 6l1 8l0 32l-1.5 16l-1.5 4l-2 4l-3 4l-4.5 4l-11 7.5l-18 7.5l-4 3l-12 12.5l-4 2l-4 0.5l-2-1l-2-2l-2-6l1-8l5.5-16l1.5-10l-0.5-10l-5-32l0-8l1-8l1.5-6l3-5.5l3-4.5l3.5-4l5-4l4.5-2.5l6-2.5zM508.5 71l4 2.5l12 14.5l4 6l3.5 7l3.5 10l0.5 4l-0.5 4l-1.5 4l-2.5 4l-3 3.5l-4 2.5l-8 2.5l-8 0l-4-1l-4-2l-4-3.5l-2-3l-2-4.5l-1-4.5l-0.5-10l2.5-12l7-17.5l2-3.5l2-2.5zM30.5 92.5l6 1l4 2.5l3 3l2.5 4l1.5 4l1 4l0.5 6l-0.5 4l-1 4l-4 6l-5 4.5l-4 1.5l-4 1zM649 93l5.5-1l6 0.5l4 1.5l4 3l0 36l-4 2.5l-6 2.5l-4 0.5l-6 0l-6-1.5l-4.5-2l-5.5-4l-4-4l-2-4l-1.5-4l0-4l1-4l2-4l3-4l8-6l5.5-2.5zM494.5 397l8-1l8 0l8 1l6 2l6 3l4 3.5l4 4.5l2 5l-73.5 0l3.5-6l6-4.5l8-4.5z" fill="#f08228" fill-rule="evenodd"/><path d="M170 35l4.5-1l6 0l6 2.5l4 3.5l3.5 5l2.5 6l1.5 6l1 8l0 8l-0.5 8l-2 8l-2 4.5l-4 5.5l-4 3l-4 2l-6 1.5l-6-0.5l-4-1l-2-1.5l-3.5-3.5l-2.5-5.5l-2-5.5l-2-7.5l-1.5-9.5l0-12l1.5-6l2-5l2-3.5l4-4.5l4-3zM507 95l3.5-1l2 0l4 2l4 3.5l4 6.5l1 5l-0.5 6l-2.5 4l-4 3l-6 1l-4-1l-4-2.5l-3-4.5l-1.5-6l0.5-6l2.5-6zM30.5 104.5l2 1l3 3.5l1 2l0.5 4l-0.5 3.5l-2 2.5l-4 3zM647 105l5.5-1.5l4 1l4 2l2 2l1.5 4.5l-0.5 4l-1 3l-3 3l-5 2l-6-0.5l-4-1.5l-4-4l-1-4l1-4l3-4zM498.5 405l10-0.5l8 1.5l6 3l2.5 2l2.5 4l-45 0l3-4l2.5-2l4.5-2.5z" fill="#f00000" fill-rule="evenodd"/><path transform="scale(.5)" d="M54 843l3-7l4 3zl16-18M75 845l2-7l4 3zl15-20M96 846l1-7l4 3zl14-21M117 845l1-7l4 3zl12-20M138 843l2-7l4 3zl11-18M160 841l1-7l4 2zl8-16M182 838l1-7l4 2zl6-13M204 834l0-7l5 2zl4-9M226 830l-1-7l5 1zM245 830l0-7l5 1zM265 820l4 6l-5 2zM284 819l4 6l-4 2zl2 6M301 818l6 5l-4 2zl4 7M320 817l5 5l-4 2zl5 8M339 816l5 5l-3 3zl6 9M358 816l6 4l-4 3zl6 9M378 815l5 5l-4 2zl6 10M397 815l6 4l-5 3zl6 10M416 814l5 5l-4 2zl7 11M434 815l7 4l-4 3zl9 10M454 816l7 4l-4 3zl8 9M475 818l7 4l-4 3zl7 7M496 819l7 4l-4 3zl5 6M517 821l6 3l-3 4zM536 823l7 1l-2 4zM555 825l7-2l0 5zM574 827l6-4l2 4zM593 829l5-6l3 4zl6-4M612 830l4-6l3 4zl7-5M631 831l4-6l3 4zl7-6M650 832l4-6l3 3zl8-7M668 832l5-6l2 4zl10-7M686 831l5-5l2 4zl11-6M703 829l6-4l1 5zl14-4M719 828l6-4l1 5zl17-3M734 826l7-2l0 4zl22-1M749 825l7-2l0 5zl27 0M766 826l7-3l0 5zl29-1M784 827l7-3l0 5zl31-2M804 829l6-3l1 5zl30-4M826 832l6-4l1 5zl28-7M848 836l6-5l2 5zl26-11M872 840l4-6l3 4zl21-15M894 844l4-6l3 3zl19-19M916 847l2-7l4 3zl16-22M936 848l2-7l4 3zl16-23M955 846l2-7l4 3zl16-21M973 840l4-6l3 3zl18-15M992 832l6-5l2 5zl19-7M1012 822l7-1l-1 5zl18 3M1032 814l7 2l-2 4zl18 11M1053 807l6 4l-3 3zl16 18M1074 803l5 5l-3 2zl15 22M1094 801l5 5l-4 2zl15 24M1113 800l6 5l-4 2zl15 25M1132 799l6 5l-4 2zl16 26M1150 799l6 5l-4 2zl17 26M1168 800l6 5l-4 3zl19 25M1186 803l7 4l-4 3zl20 22M1205 808l7 3l-3 3zl21 17M1224 815l7 1l-2 4zl22 10M1244 823l7-2l0 5zl21 2M1266 831l6-4l1 5zl19-6M1288 839l4-6l3 3zl16-14M1311 845l2-7l4 2zl13-20M67 823l-1-8l4 1zl3-18M86 826l-1-7l5 1zl4-21M105 827l-1-7l5 1zl5-22M126 827l-2-8l5 1zl3-22M147 825l-2-7l5 0zl2-20M169 823l-2-7l4 0zl-1-18M193 821l-5-6l5-2zl-5-16M217 817l-6-4l3-3zl-9-12M240 811l-7 0l2-5zl-13-6M261 805l-7 3l1-5zl-14 0M281 800l-6 5l-2-5zl-15 5M299 796l-5 6l-2-4zl-13 9M316 795l-3 6l-4-3zl-11 10M334 795l-3 7l-4-3zl-9 10M352 795l-2 7l-4-3zl-7 10M371 794l-2 8l-4-3zl-7 11M389 793l0 7l-5-2zl-5 12M406 791l1 7l-5-1zl-3 14M420 790l4 6l-5 1zl3 15M435 792l5 5l-4 2zl8 13M454 797l6 3l-3 3zl8 8M477 800l7 4l-4 3zl5 5M500 800l4 6l-5 1zM522 800l1 7l-5-1zM542 800l0 7l-4-1zM555 807l6-5l1 5zM576 809l3-7l4 4zM595 810l3-7l3 4zl4-5M613 812l2-7l4 3zl6-7M630 813l4-7l3 4zl8-8M648 813l4-6l3 4zl10-8M664 811l5-5l2 5zl14-6M678 809l7-4l1 5zl19-4M692 805l7-2l0 4zl25 0M704 801l7-1l0 5zl32 4M717 799l7-1l-1 5zl39 6M731 799l7-1l0 5zl45 6M748 801l7-2l0 5zl47 4M766 804l8-2l-1 5zl49 1M787 808l7-3l0 5zl47-3M808 813l7-3l1 4zl46-8M831 819l6-5l1 5zl43-14M855 824l5-6l2 5zl38-19M878 827l5-6l2 4zl35-22M901 829l4-6l3 3zl31-24M921 828l4-6l3 4zl31-23M939 825l5-6l2 5zl32-20M956 820l6-5l2 5zl35-15M975 813l6-3l1 4zl36-8M995 806l7-3l0 5zl35-1M1018 798l7-1l-1 5zl32 7M1042 792l7 1l-2 4zl27 13M1067 787l7 3l-3 3zl22 18M1091 784l6 4l-3 3zl18 21M1115 781l5 5l-4 2zl13 24M1137 779l5 6l-5 2zl11 26M1158 779l5 5l-5 2zl9 26M1179 779l4 6l-4 2zl8 26M1199 782l5 6l-5 2zl7 23M1220 787l4 6l-4 2zl6 18M1240 795l6 5l-5 2zl6 10M1261 803l7 1l-2 4zM1283 812l0-7l4 1zl2-7M1304 820l-2-7l5 0zl0-15M1326 826l-3-7l5-1zl-2-21M83 801l-6-4l3-3zl-13-16M101 804l-6-5l5-3zl-11-19M119 805l-5-5l4-2zl-9-20M139 805l-6-5l5-2zl-10-20M159 805l-5-5l4-2zl-10-20M181 804l-6-4l4-3zl-13-19M204 803l-6-4l3-3zl-16-18M229 799l-8-2l3-4zl-21-14M252 793l-7 0l1-4zl-25-8M274 786l-7 2l0-5zl-27-1M294 779l-7 4l-1-5zl-28 6M311 774l-5 5l-2-4zl-25 11M328 773l-5 5l-2-4zl-23 12M346 773l-5 6l-3-4zl-21 12M364 774l-5 6l-3-4zl-19 11M382 774l-4 6l-3-4zl-18 11M401 772l-4 6l-3-4zl-17 13M420 767l-3 7l-4-3zl-17 18M438 765l-2 7l-4-3zl-15 20M456 769l-3 7l-3-3zl-13 16M474 778l-4 5l-3-4zl-12 7M493 783l-7 4l-1-5zl-11 2M511 783l-7 4l-1-5zl-10 2M528 782l-6 5l-1-5zl-7 3M545 783l-5 5l-2-5zM565 786l-7 1l1-5zM579 790l-2-7l5 0zM597 791l0-7l5 2zl2-6M614 793l2-7l4 2zl5-8M631 793l3-6l3 3zl7-8M647 792l5-6l2 4zl11-7M661 788l7-4l1 5zl17-3M675 783l7-2l-1 5zl22 2M688 778l7 0l-1 4zl29 7M702 775l7 0l-1 4zl34 10M718 774l8 0l-2 4zl38 11M737 776l8-1l-1 5zl39 9M758 779l8-1l-1 4zl37 6M780 783l7-2l0 4zl35 2M800 787l7-3l0 5zl34-2M819 793l6-4l1 4zl35-8M837 799l6-5l2 5zl37-14M857 805l4-5l3 4zl36-20M877 810l5-6l2 4zl36-25M899 811l4-7l3 4zl33-26M920 808l4-6l3 4zl32-23M940 804l5-5l2 4zl31-19M959 799l6-5l2 4zl32-14M979 794l6-5l1 5zl32-9M1000 788l7-3l0 4zl30-3M1023 782l7-2l0 5zl27 3M1048 777l7 0l-2 4zl21 8M1073 772l7 3l-3 3zl16 13M1099 768l5 5l-4 2zl10 17M1123 765l4 6l-4 1zl5 20M1147 762l3 7l-5 0zl1 23M1171 761l1 7l-5 0zl-4 24M1193 762l1 7l-5-1zl-6 23M1216 764l-1 8l-4-2zl-10 21M1238 769l-2 7l-4-3zl-12 16M1259 776l-4 6l-3-4zl-13 9M1280 784l-6 3l-1-5zl-15 1M1301 792l-7-1l2-4zl-16-7M1321 799l-7-3l3-3zl-17-14M1340 805l-6-4l4-3zl-16-20M99 777l-8-1l2-4zl-29-12M115 780l-7-2l3-4zl-25-15M132 781l-7-2l3-4zl-22-16M150 782l-7-3l3-3zl-21-17M168 783l-6-3l3-3zl-19-18M188 784l-6-3l3-3zl-20-19M210 784l-7-3l3-3zl-22-19M232 781l-7-2l2-4zl-24-16M254 775l-8 0l2-5zl-27-10M275 766l-7 2l0-5zl-28-1M295 758l-7 4l-1-5zl-29 7M313 753l-5 5l-2-4zl-27 12M332 752l-6 5l-2-4zl-27 13M350 753l-6 5l-2-4zl-25 12M368 754l-5 5l-2-4zl-23 11M388 755l-6 5l-2-5zl-24 10M408 753l-5 5l-2-4zl-24 12M430 750l-5 6l-2-5zl-27 15M455 748l-5 6l-2-5zl-32 17M479 750l-6 5l-2-4zl-36 15M496 755l-6 4l-1-4zl-34 10M509 759l-6 3l-1-4zl-27 6M520 760l-6 4l-1-5zl-19 5M534 760l-6 5l-2-5zl-13 5M550 762l-7 4l-1-4zl-9 3M566 766l-7 1l1-5zl-6-1M584 769l-7-4l4-3zM601 772l-4-7l5-1zl-2-7M618 773l-2-7l5 0zl1-8M635 773l1-8l4 2zl3-8M651 769l5-6l3 4zl7-4M667 764l7-2l0 5zl11 1M682 759l8 0l-2 5zl15 6M699 755l8 1l-3 4zl18 10M718 753l7 2l-2 4zl18 12M739 754l7 2l-3 4zl17 11M761 758l7 0l-2 5zl15 7M784 761l8 0l-2 4zl11 4M807 763l7-1l-1 5zl8 2M826 765l7-3l0 5zl8 0M843 769l6-5l1 5zl11-4M859 776l4-6l3 3zl15-11M876 783l3-7l3 4zl17-18M893 788l3-6l3 3zl20-23M912 790l3-7l3 3zl20-25M932 788l3-7l3 3zl20-23M952 783l3-7l3 4zl19-18M972 777l4-6l3 4zl19-12M993 772l5-5l2 5zl18-7M1014 768l7-4l1 5zl16-3M1037 764l7-2l0 5zl13 1M1061 760l7 1l-2 4zl8 5M1085 756l5 5l-4 2zl4 9M1109 752l2 7l-5 0zl0 13M1133 749l0 8l-4-2zl-5 16M1158 747l-2 7l-4-2zl-10 18M1182 746l-3 7l-3-3zl-15 19M1206 747l-4 6l-3-3zl-19 18M1229 749l-4 6l-3-4zl-23 16M1252 753l-5 5l-2-4zl-26 12M1274 759l-6 3l-1-4zl-28 6M1295 765l-7 2l0-4zl-30 0M1314 772l-7 0l1-4zl-29-7M1332 777l-7 0l2-5zl-28-12M1350 782l-8-2l3-4zl-26-17M108 753l-8 1l1-5zl-38-9M123 755l-7 0l1-4zl-33-11M139 756l-8 0l2-4zl-29-12M154 758l-7-1l2-4zl-25-14M170 760l-7-2l3-4zl-21-16M187 762l-7-3l4-3zl-19-18M205 763l-7-3l4-3zl-17-19M223 761l-6-3l3-4zl-15-17M243 755l-7-2l2-4zl-16-11M263 747l-8 1l1-5zl-16-3M283 738l-6 5l-1-4zl-17 6M304 733l-5 6l-2-4zl-18 11M325 732l-5 6l-3-4zl-20 12M345 733l-5 5l-2-4zl-20 11M366 734l-6 6l-2-5zl-21 10M386 735l-6 5l-2-4zl-22 9M406 735l-5 5l-2-5zl-22 9M427 733l-6 6l-2-5zl-24 11M448 732l-5 6l-2-5zl-25 12M469 732l-6 6l-2-5zl-26 12M487 734l-5 5l-2-5zl-25 10M504 735l-6 5l-2-4zl-22 9M520 737l-6 5l-2-4zl-19 7M537 740l-6 4l-2-4zl-16 4M554 743l-7 3l0-5zl-13 1M572 746l-7 2l0-5zl-12-2M590 749l-8-1l2-4zl-10-5M608 752l-7-3l3-4zl-9-8M625 753l-6-4l4-3zl-6-9M643 751l-6-4l4-3zl-5-7M662 748l-7-3l4-3zM678 739l2 7l-5 0zM698 738l2 7l-5 0zl-1 6M719 735l1 7l-5-1zl-2 9M741 733l-1 7l-4-1zl-5 11M761 735l-1 7l-5-2zl-5 9M779 738l-1 8l-4-3zl-3 6M799 741l-3 6l-4-3zM819 741l-4 6l-3-3zM839 743l-6 4l-1-4zM857 749l-6-4l4-3zM876 753l-4-6l4-2zl-2-9M894 759l-3-6l5-1zl-1-15M912 764l-2-7l4 1zl1-20M928 766l-1-7l5 0zl4-22M944 763l0-8l5 2zl8-19M958 758l3-6l4 3zl13-14M977 755l4-6l3 4zl14-11M1001 751l4-6l3 4zl10-7M1024 748l5-6l2 5zl6-4M1045 745l6-3l1 5zM1069 739l3 7l-5 0zM1093 739l-3 7l-3-2zM1116 737l-3 6l-4-3zl-7 7M1140 735l-4 6l-3-4zl-12 9M1164 733l-5 6l-2-4zl-16 11M1188 732l-5 6l-2-4zl-21 12M1212 733l-5 5l-2-5zl-25 11M1236 734l-6 5l-1-5zl-30 10M1259 737l-6 4l-1-5zl-33 7M1281 741l-7 3l0-4zl-35 3M1301 746l-7 2l0-5zl-36-2M1320 750l-7 2l0-5zl-35-6M1337 754l-8 1l2-5zl-33-10M1352 757l-7 0l2-5zl-28-13M107 729l-7 2l1-5zl-37-5M122 730l-8 1l1-4zl-32-6M135 732l-7 0l1-5zl-25-8M149 733l-8 0l2-5zl-20-9M163 736l-7-3l3-3zl-14-12M177 739l-5-5l4-2zl-9-15M193 740l-5-6l5-1zl-5-16M209 739l-3-7l4 0zl-1-15M226 733l-2-7l5 1zl1-9M243 728l3-7l4 4zM267 719l2 7l-5 0zM290 714l-1 7l-4-1zl-4 10M313 713l-2 7l-4-3zl-8 11M337 713l-4 7l-3-4zl-12 11M359 715l-4 6l-3-4zl-14 9M381 716l-5 5l-3-4zl-17 8M402 716l-6 5l-2-5zl-18 8M422 715l-5 5l-2-4zl-19 9M442 715l-5 5l-2-4zl-19 9M462 715l-5 5l-2-4zl-19 9M482 716l-5 5l-2-5zl-20 8M502 717l-6 5l-2-5zl-20 7M521 720l-6 4l-2-5zl-20 4M540 722l-7 3l0-5zl-19 2M559 725l-7 2l0-5zl-18-1M577 727l-7 1l1-4zl-17-3M596 730l-8 0l2-5zl-16-6M614 731l-7-1l2-4zl-15-7M632 731l-7-1l2-4zl-13-7M650 729l-8-1l2-4zl-12-5M667 724l-7 3l0-5zl-9 0M686 721l-6 5l-1-5zl-8 3M709 720l-6 5l-2-5zl-12 4M734 717l-5 5l-2-4zl-17 7M758 714l-5 5l-2-5zl-22 10M778 713l-5 5l-2-4zl-22 11M796 716l-6 5l-2-5zl-20 8M812 720l-6 4l-1-5zl-17 4M830 723l-6 3l-1-5zl-15 1M851 725l-8 2l1-5zl-17-1M872 728l-7 1l1-5zl-18-4M893 732l-7 0l2-5zl-19-8M912 736l-8-2l3-4zl-19-12M927 739l-7-4l4-3zl-14-15M939 738l-5-5l4-2zl-7-14M947 732l2-7l4 2zl5-8M951 729l7-4l1 5zl20-5M970 737l5-5l2 4zl21-13M1001 734l3-6l3 3zl10-10M1026 729l3-7l4 3zM1049 729l-1-7l4 1zM1075 725l-8 1l1-4zM1095 723l-6 4l-1-5zM1118 721l-6 5l-1-5zl-9 3M1141 719l-6 5l-1-4zl-13 5M1165 718l-6 5l-2-5zl-17 6M1189 717l-6 5l-2-5zl-22 7M1212 718l-6 4l-1-5zl-25 6M1236 718l-6 4l-1-5zl-30 6M1259 720l-7 3l0-4zl-33 4M1280 723l-7 2l0-4zl-34 1M1300 726l-7 2l0-5zl-35-2M1318 728l-8 2l1-5zl-33-4M1333 731l-7 1l1-5zl-29-7M1347 733l-7 0l2-5zl-23-9M100 705l-7 2l1-5zl-30-1M113 705l-7 2l0-5zl-23-1M125 706l-7 2l0-5zl-15-2M137 708l-7-1l2-4zl-8-4M150 712l-3-7l4-1zl-1-8M164 715l1-8l4 2zl4-11M180 716l2-7l4 3zl8-12M196 715l3-6l3 3zl12-11M213 711l5-5l2 4zl14-7M232 705l7-3l0 5zl15-1M254 699l8 0l-2 5zl12 5M279 695l6 4l-4 3zl7 9M304 694l3 7l-4 0zl1 10M329 695l-1 7l-4-2zl-4 9M352 696l-3 7l-3-4zl-7 8M375 697l-5 6l-2-4zl-11 7M396 698l-5 5l-2-4zl-12 6M418 698l-6 5l-2-4zl-15 6M439 698l-6 5l-2-4zl-16 6M460 699l-6 4l-2-4zl-17 5M480 700l-6 4l-1-5zl-18 4M501 701l-7 4l0-5zl-19 3M521 703l-7 3l0-5zl-20 1M541 705l-7 2l0-5zl-20-1M561 706l-8 2l1-5zl-20-2M580 707l-8 2l1-5zl-20-3M599 708l-8 1l1-4zl-19-4M617 709l-7 0l1-4zl-18-5M635 708l-7 1l1-5zl-16-4M652 704l-7 3l0-5zl-14 0M668 700l-5 5l-2-5zl-10 4M686 699l-5 6l-3-4zl-8 5M707 702l-6 4l-1-5zl-10 2M733 701l-6 4l-1-5zl-16 3M759 696l-6 5l-1-5zl-23 8M783 694l-6 4l-1-4zl-27 10M805 696l-6 4l-2-5zl-29 8M826 700l-6 3l-1-5zl-31 4M848 704l-6 2l-1-5zl-33 0M871 706l-8 2l1-5zl-37-2M891 708l-7 2l0-5zl-37-4M909 709l-8 2l1-5zl-35-5M922 710l-7 1l1-5zl-29-6M932 710l-7 1l2-5zl-19-6M941 708l-7-1l2-4zl-9-4M949 697l5 6l-4 2zl3 7M955 698l7 0l-2 5zl16 6M973 724l3-7l4 3zl18-20M1003 721l0-7l5 2zl8-17M1028 712l0-8l4 2zl2-8M1050 709l-3-7l5 0zM1073 708l-7-4l4-3zM1095 706l-8 0l2-5zM1117 704l-7 2l0-4zl-8 0M1139 702l-6 4l-1-5zl-11 2M1162 701l-6 4l-1-5zl-14 3M1185 700l-6 4l-1-5zl-18 4M1208 700l-6 4l-1-5zl-21 4M1231 700l-7 4l-1-5zl-25 4M1252 701l-6 4l-1-5zl-26 3M1273 703l-7 3l0-5zl-27 1M1292 705l-7 2l0-5zl-27-1M1309 707l-7 1l1-5zl-24-3M1325 708l-8 1l1-5zl-21-4M1338 709l-8 0l2-5zl-14-5M94 680l-6 4l-1-5zl-24 4M108 680l-6 4l-1-5zl-18 4M121 681l-6 4l-2-5zl-11 3M134 684l-7 2l0-5zM147 689l0-8l5 2zM162 692l2-7l4 3zl6-8M177 693l4-6l3 4zl11-9M193 692l5-6l2 5zl15-8M210 688l6-4l1 5zl17-4M229 683l7-2l0 5zl18 1M250 679l8 0l-2 4zl16 5M274 677l7 1l-2 4zl12 7M298 676l7 3l-4 4zl7 8M322 677l5 6l-4 1zl3 7M346 678l1 8l-5-1zM368 680l-3 6l-3-3zM390 681l-5 5l-2-5zl-6 3M412 682l-6 4l-1-5zl-9 2M434 683l-7 3l-1-5zl-11 1M455 683l-7 3l0-5zl-12 1M476 684l-7 2l0-4zl-14 0M498 685l-8 2l1-5zl-16-1M518 685l-7 2l1-5zl-17-1M539 686l-7 1l0-5zl-18-2M559 686l-7 1l0-4zl-18-2M578 686l-7 1l1-4zl-18-2M598 686l-8 1l1-4zl-18-2M616 685l-7 2l0-5zl-17-1M634 684l-7 2l0-5zl-15 0M651 679l-5 5l-2-5zl-13 5M667 674l-3 7l-4-3zl-9 10M683 676l-2 7l-4-2zl-5 8M702 683l-6 3l-1-4zM724 685l-8 1l1-5zl-7-1M747 680l-5 5l-2-5zl-11 4M771 677l-5 5l-2-4zl-15 7M796 679l-7 4l-1-5zl-20 5M820 683l-7 3l0-5zl-25 1M844 686l-7 2l1-5zl-29-2M866 687l-7 2l1-5zl-32-3M885 686l-7 2l0-5zl-31-2M901 685l-7 2l0-5zl-27-1M913 683l-7 3l0-5zl-20 1M925 682l-7 4l0-5zl-12 2M938 681l-5 5l-2-4zl-6 3M957 672l-1 8l-4-2zl-5 12M983 675l-4 7l-3-4zl-12 9M1001 704l-5-5l4-2zl-10-20M1013 703l-3-7l4-1zl-2-19M1030 693l-2-7l5 0zl0-9M1051 690l-4-6l5-1zl-1-6M1072 689l-6-6l5-2zM1093 687l-7-2l3-4zM1114 684l-7 2l0-5zM1135 683l-6 3l-1-5zl-7 1M1157 681l-7 5l-1-5zl-9 3M1178 681l-6 4l-1-5zl-11 3M1200 680l-6 5l-1-5zl-13 4M1221 681l-6 4l-1-5zl-15 3M1242 682l-7 3l0-5zl-16 2M1262 683l-7 3l0-5zl-16 1M1281 685l-7 2l0-5zl-16-1M1299 686l-8 1l1-4zl-14-2M1314 686l-7 1l1-5zl-10-2M1329 686l-8-1l3-4zM92 658l-6 4l-1-5zl-22 6M110 657l-6 5l-1-5zl-20 7M128 659l-6 4l-2-5zl-18 5M144 662l-6 3l-1-5zl-15 2M160 666l-8 1l1-5zl-11-2M174 669l-7-3l3-4zl-6-5M187 670l-1-7l4 1zl1-6M200 669l4-6l3 4zl8-5M215 666l6-4l1 5zl12-2M232 662l7-2l-1 5zl15 2M251 659l8 0l-2 5zl15 5M273 658l7 1l-2 4zl13 6M295 658l8 1l-3 4zl10 6M318 659l7 2l-2 4zl7 5M340 660l7 3l-2 4zM360 660l7 3l-3 4zM389 663l-7 3l0-5zM408 665l-7 0l2-4zM428 665l-7 0l1-4zM450 666l-8 0l2-5zl-7-2M471 666l-7 0l1-4zl-9-2M493 666l-8 1l1-5zl-11-2M514 665l-8 2l1-5zl-13-1M535 664l-8 2l1-4zl-14 0M555 664l-7 2l0-5zl-14 0M575 663l-7 3l0-5zl-15 1M595 663l-7 3l-1-5zl-15 1M614 662l-7 3l-1-5zl-15 2M632 660l-6 4l-1-4zl-13 4M650 656l-4 5l-3-4zl-12 8M668 651l-2 7l-4-3zl-10 13M686 654l-3 7l-3-3zl-8 10M705 664l-7 2l0-5zl-8 0M726 667l-8 0l2-5zl-9-3M748 663l-7 3l0-5zl-12 1M770 660l-6 4l-1-5zl-14 4M792 662l-7 3l0-5zl-16 2M813 666l-7 1l0-5zl-18-2M832 668l-7 0l1-4zl-17-4M850 667l-7 1l1-5zl-16-3M867 664l-7 2l0-5zl-13 0M884 661l-6 4l-2-5zl-10 3M901 659l-5 5l-3-4zl-8 5M918 659l-3 6l-4-4zl-5 5M937 660l-4 6l-3-4zl-5 4M962 658l-5 6l-3-5zl-10 6M993 662l-6 3l-1-5zl-22 2M1011 677l-7-2l3-4zl-20-13M1018 677l-6-5l5-2zl-7-13M1032 673l-4-7l5-1zl-2-9M1050 671l-3-7l5-1zl0-7M1070 669l-3-7l5 0zM1089 669l-2-7l4 0zM1113 667l-7-3l3-3zM1130 659l0 7l-5-2zM1150 659l-1 7l-4-2zM1170 659l-2 7l-4-2zM1191 660l-4 7l-3-4zM1211 661l-5 5l-2-4zM1231 663l-6 3l-1-5zM1251 665l-7 1l1-5zM1270 666l-7-1l2-4zM1289 667l-7-2l3-4zM1308 667l-7-3l4-3zM1328 667l-7-3l4-3zM88 639l-6 4l-1-5zl-18 4M110 639l-7 4l-1-5zl-20 4M131 640l-7 3l0-4zl-21 3M150 642l-6 3l-1-5zl-21 1M167 644l-7 2l0-4zl-18-1M182 646l-8 1l1-5zl-14-3M194 646l-7-1l2-4zl-6-3M204 647l3-7l3 4zM220 643l7-2l-1 5zl7 0M235 641l8-1l-1 5zl12 2M254 639l7 0l-1 5zl12 4M274 639l7 0l-2 5zl12 4M295 639l7 1l-2 4zl10 4M316 641l7-1l-1 5zl9 2M337 642l8-1l-1 5zl8 1M359 644l7-3l0 5zM379 645l6-5l1 5zM400 648l2-7l4 2zM424 648l-4-6l5-1zM447 647l-7-3l3-4zM467 645l-7 0l1-4zM489 644l-8 2l1-5zl-7-1M510 643l-7 3l0-5zl-9 0M531 642l-7 3l0-4zl-10 1M552 641l-7 4l0-5zl-11 2M572 641l-6 4l-1-5zl-12 2M593 641l-7 3l-1-4zl-13 2M612 641l-6 3l-1-4zl-13 2M632 639l-6 5l-2-5zl-13 4M652 635l-5 6l-2-4zl-14 8M673 631l-4 6l-3-4zl-15 12M694 635l-5 5l-2-4zl-16 8M716 646l-7 1l0-5zl-19-3M737 650l-7 0l1-5zl-20-7M759 645l-7 2l0-5zl-23-2M781 642l-6 3l-1-5zl-25 1M802 642l-7 3l0-5zl-26 1M820 644l-7 2l0-5zl-25-1M835 644l-7 2l0-4zl-20-1M849 643l-7 3l0-5zl-15 0M865 641l-7 4l-1-5zl-11 2M882 638l-5 6l-2-4zl-8 5M901 638l-4 6l-3-4zl-8 5M921 639l-5 5l-2-4zl-8 4M942 641l-6 4l-1-5zl-10 2M964 644l-7 2l0-5zl-12-1M987 647l-7 1l1-5zl-16-4M1004 652l-7-2l3-4zl-13-9M1017 653l-6-4l4-3zl-6-10M1033 652l-5-6l5-2zl-3-9M1050 650l-3-7l5 0zl0-7M1067 648l1-7l4 2zM1084 646l6-6l2 5zM1103 643l8-2l-1 5zM1123 641l8 1l-2 4zM1143 640l7 2l-2 4zM1163 640l7 2l-3 4zM1182 641l8 1l-3 4zM1201 642l8 0l-1 4zM1221 645l6-4l1 4zM1242 647l3-7l4 4zM1263 648l1-7l4 2zM1283 648l0-7l5 2zM1304 649l-2-8l5 1zM1326 648l-5-5l5-2zM79 621l-6 4l-1-5zl-9 2M100 621l-6 4l-1-5zl-10 2M122 622l-7 3l-1-5zl-12 1M142 622l-7 3l0-5zl-13 1M160 623l-7 3l0-5zl-11 0M176 623l-7 3l0-5zl-8 0M193 623l-7 3l0-5zM203 620l7 2l-2 4zM221 621l8 0l-2 5zl6 2M238 620l8 0l-2 5zl9 3M257 620l7 0l-2 4zl9 3M276 620l8 0l-2 4zl10 3M297 621l7-1l-1 5zl8 2M317 622l8-1l-1 4zl8 1M338 623l7-2l0 5zl7 0M359 624l7-3l0 4zM379 625l6-5l1 5zM399 626l5-6l2 4zM422 628l-1-7l5 1zM447 625l-7 0l2-5zM467 623l-6 3l-1-5zM487 622l-6 4l-1-5zM509 621l-6 4l-2-4zl-8 2M530 620l-6 5l-2-5zl-9 3M551 620l-6 4l-1-4zl-10 3M572 620l-6 4l-2-4zl-12 3M592 621l-6 3l-1-4zl-12 2M613 621l-7 3l-1-4zl-14 2M633 620l-6 4l-1-5zl-14 3M655 617l-6 5l-2-5zl-17 6M678 614l-5 5l-2-5zl-20 9M702 617l-6 4l-1-4zl-24 6M724 627l-8 2l1-5zl-27-4M743 631l-8 0l2-4zl-26-8M762 627l-7 1l1-5zl-26-4M783 622l-7 3l0-5zl-27 1M803 621l-6 3l-1-5zl-27 2M821 621l-7 3l0-5zl-26 2M837 620l-6 4l-1-5zl-22 3M853 619l-7 4l-1-5zl-19 4M869 618l-6 5l-1-5zl-15 5M888 618l-6 5l-2-5zl-14 5M908 618l-6 5l-2-5zl-15 5M928 620l-6 4l-1-5zl-15 3M949 623l-7 2l0-4zl-17 0M968 626l-7 1l1-5zl-16-3M987 628l-8 0l2-4zl-16-5M1004 631l-8-2l3-4zl-13-8M1019 631l-7-3l4-3zl-8-8M1035 630l-6-4l4-3zl-5-7M1051 629l-4-7l5-1zM1067 628l1-7l4 2zM1084 625l6-5l1 5zM1103 623l8-2l-1 5zM1122 621l8 0l-2 5zM1142 621l7 0l-2 5zl6 2M1161 621l8 0l-2 5zM1181 622l8-1l-1 5zM1201 623l7-2l0 5zM1221 625l6-5l1 5zM1241 626l4-5l3 4zM1260 627l4-6l3 4zl5-4M1281 628l2-7l4 3zl4-5M1301 628l2-7l4 2zM1322 628l0-7l5 1zM71 598l1 7l-4-1zM94 599l-3 7l-4-3zM114 600l-5 6l-2-4zM134 601l-6 5l-1-5zM153 601l-5 5l-2-4zM172 599l-3 7l-4-3zM187 598l4 6l-5 1zM204 599l6 4l-3 3zM223 600l7 2l-3 4zM242 600l7 2l-2 4zM262 600l7 2l-2 4zM281 600l8 2l-3 4zM301 600l7 2l-2 4zM323 598l5 5l-4 3zM350 602l-7 4l0-5zM369 603l-7 2l1-5zM389 603l-7 2l0-4zM409 602l-7 4l-1-5zM428 601l-6 5l-1-5zM447 601l-5 5l-2-5zM468 600l-5 5l-2-4zl-6 3M489 600l-5 5l-2-5zl-7 3M510 599l-5 5l-2-4zl-9 4M531 599l-5 5l-2-5zl-10 4M552 600l-6 4l-1-5zl-11 3M573 600l-6 4l-1-5zl-13 3M594 601l-7 3l0-4zl-14 2M614 602l-6 3l-1-5zl-15 1M635 602l-7 3l0-5zl-16 1M657 600l-6 3l-1-5zl-19 3M681 597l-6 4l-1-5zl-23 6M705 600l-7 3l0-5zl-27 3M726 607l-8 1l1-4zl-29-4M742 610l-7 0l1-4zl-25-7M759 606l-8 1l1-4zl-23-3M777 602l-7 3l0-5zl-21 1M796 600l-6 3l-1-4zl-20 3M815 599l-7 4l-1-5zl-20 4M833 599l-7 4l-1-5zl-18 4M851 598l-6 5l-2-5zl-17 5M870 598l-6 5l-2-5zl-16 5M889 599l-6 4l-1-5zl-15 4M910 600l-7 4l-1-5zl-17 3M930 602l-7 3l0-5zl-17 1M950 604l-7 2l0-5zl-18-1M969 606l-7 1l1-4zl-17-3M987 608l-7 0l2-4zl-16-5M1005 609l-8-1l2-4zl-14-6M1021 609l-7-1l2-4zl-10-6M1037 609l-7-3l3-4zl-7-6M1054 607l-7-3l4-3zM1072 607l-6-4l4-3zM1089 608l-2-7l4 0zM1103 602l8-1l-1 4zM1123 601l8 1l-2 4zM1143 600l7 2l-2 4zM1162 601l8 0l-2 5zM1182 602l7-1l-1 5zM1201 603l7-3l0 5zM1221 605l6-5l2 5zM1241 606l5-6l2 4zM1261 606l4-6l3 4zM1281 606l4-6l3 4zM1300 606l4-6l3 4zM1320 606l4-6l3 4zM67 578l6 5l-4 2zM88 578l5 6l-5 1zM110 577l2 7l-5 0zM131 578l0 7l-5-1zM152 578l-2 7l-4-2zM172 579l-3 7l-4-4zM192 579l-4 7l-3-4zM212 580l-5 6l-2-5zM232 581l-6 4l-1-4zM252 583l-7 2l0-5zM273 584l-8 1l1-5zl-7-1M297 585l-7 1l1-5zl-11-2M322 585l-7 1l1-4zl-17-2M346 584l-7 2l0-5zl-21-1M366 582l-7 3l0-5zl-21 1M382 580l-6 4l-1-5zl-18 3M398 580l-6 4l-1-5zl-14 3M416 580l-6 4l-1-5zl-13 3M436 579l-7 4l-1-4zl-13 4M456 579l-6 4l-1-5zl-13 4M477 578l-6 4l-1-4zl-15 5M498 578l-6 4l-1-4zl-16 5M519 578l-6 4l-1-4zl-18 5M541 579l-7 3l-1-4zl-20 4M562 580l-7 3l-1-5zl-21 3M583 581l-7 3l-1-5zl-23 2M603 582l-7 2l0-4zl-23 1M624 583l-7 2l0-5zl-25 0M644 583l-7 2l0-5zl-25 0M665 581l-6 3l-1-5zl-27 2M688 580l-6 3l-1-5zl-30 3M711 582l-7 2l0-5zl-33 1M730 586l-7 2l0-5zl-33-3M746 587l-8 2l1-5zl-29-4M761 585l-8 2l1-5zl-25-2M777 582l-7 3l0-5zl-21 1M795 581l-6 3l-1-5zl-19 2M813 580l-6 4l-1-5zl-18 3M832 580l-7 4l-1-5zl-17 3M850 580l-6 4l-1-5zl-16 3M869 581l-6 3l-1-5zl-15 2M889 581l-7 3l0-5zl-15 2M909 582l-7 3l0-5zl-16 1M929 583l-7 2l0-4zl-16 0M948 584l-7 2l1-5zl-16-1M968 586l-8 1l1-5zl-16-3M986 586l-7 1l1-5zl-15-3M1005 587l-8 0l2-4zl-14-4M1022 587l-7 0l2-5zl-11-4M1040 587l-7-1l2-4zl-10-4M1058 586l-7 0l1-5zl-8-3M1076 585l-7 0l1-5zl-7-2M1094 584l-7 1l1-5zM1114 584l-8 1l1-5zM1133 583l-7 2l1-5zM1153 583l-7 2l0-5zM1173 582l-7 3l-1-5zM1192 583l-7 2l0-5zM1211 586l-7-3l3-3zM1222 586l4-6l3 4zM1241 585l5-5l2 4zM1260 585l6-5l2 4zM1280 585l6-5l1 4zM1300 585l5-5l2 4zM1319 585l5-5l2 4zM69 557l4 6l-5 1zM90 557l2 7l-4 0zM111 557l0 8l-4-2zM132 558l-2 7l-4-3zM153 560l-4 5l-3-4zM173 561l-6 4l-1-4zM193 562l-7 3l0-5zM214 564l-8 1l1-5zM234 565l-7 0l1-5zl-7-3M255 567l-7-1l2-5zl-8-5M279 569l-8-1l3-4zl-13-7M305 571l-7-1l2-4zl-19-9M333 570l-7 0l1-4zl-28-8M358 565l-7 2l1-5zl-33-3M378 559l-7 3l-1-5zl-33 3M391 555l-6 4l-1-5zl-27 7M404 554l-5 5l-2-4zl-20 8M420 555l-6 5l-1-4zl-17 7M438 556l-5 5l-2-4zl-15 6M458 556l-6 5l-1-4zl-15 6M478 556l-6 5l-1-4zl-16 6M498 556l-6 5l-1-4zl-16 6M518 557l-6 5l-1-5zl-17 5M538 558l-6 4l-1-4zl-17 4M558 559l-6 4l-1-5zl-17 3M579 560l-7 4l-1-5zl-19 2M599 562l-7 2l-1-5zl-19 0M618 562l-7 3l0-5zl-19 0M638 563l-7 2l0-5zl-19-1M658 562l-7 3l0-5zl-20 0M680 562l-7 2l0-4zl-22 0M701 563l-7 2l0-5zl-23-1M720 565l-8 2l1-5zl-23-3M736 566l-8 1l1-4zl-19-4M752 565l-7 1l0-4zl-16-3M769 564l-7 2l0-5zl-13-2M787 563l-7 2l0-5zl-11-1M806 563l-7 2l0-5zl-11-1M825 563l-7 2l0-5zl-10-1M844 563l-7 2l0-5zl-10-1M863 563l-7 2l0-5zl-9-1M883 562l-7 3l0-5zl-9 0M903 563l-7 2l0-5zl-10-1M924 563l-8 2l1-5zl-11-1M944 563l-7 2l0-5zl-12-1M964 563l-7 2l0-5zl-12-1M984 564l-8 1l1-4zl-13-2M1003 564l-7 2l1-5zl-12-2M1022 564l-7 2l1-5zl-11-2M1042 565l-8 1l1-5zl-12-3M1061 565l-8 1l1-5zl-11-3M1079 565l-7 1l1-5zl-10-3M1098 565l-7 0l1-4zl-9-3M1117 565l-7 0l1-4zl-8-3M1136 564l-8 1l2-5zl-8-2M1154 564l-7 1l1-5zl-6-2M1172 564l-7 0l1-4zM1192 564l-7 0l1-4zM1212 564l-8 0l1-4zM1231 565l-8-1l3-4zM1240 563l7-3l1 5zM1260 563l7-3l0 5zM1280 563l6-3l1 5zM1299 564l6-4l1 5zM1318 564l6-4l1 5zl6-2M70 535l3 7l-5 0zl0 7M91 536l1 7l-5 0zM112 537l-1 8l-4-2zM133 539l-4 6l-3-3zM154 541l-6 4l-2-5zM174 543l-8 1l1-4zM194 544l-8 0l2-4zM214 546l-8-2l3-4zl-6-4M233 547l-7-2l3-4zl-6-5M253 548l-7-3l4-3zl-6-6M272 550l-6-4l4-3zl-6-8M291 552l-5-5l4-2zl-5-10M310 550l-6-5l4-2zl-5-8M330 545l-8-1l3-5zM348 536l-1 8l-5-3zl-3 6M368 532l0 7l-4-2zl-4 10M389 532l-1 7l-4-2zl-5 10M410 533l-2 7l-4-2zl-7 9M431 535l-4 6l-3-3zl-8 7M450 535l-3 7l-3-4zl-7 7M469 535l-3 7l-4-3zl-7 7M487 536l-3 7l-4-3zl-5 6M504 537l-1 7l-4-2zM523 537l0 8l-5-2zM541 537l2 7l-5 0zM559 537l4 7l-5 0zM576 539l7 3l-4 3zM594 542l7-2l0 5zM614 543l6-3l1 4zM633 544l6-5l2 5zM653 545l5-6l3 5zM674 546l3-7l4 3zM695 547l1-7l4 2zM713 547l3-7l4 3zM732 547l3-7l4 3zl4-5M751 546l4-6l3 4zl5-4M771 546l4-6l3 3zM791 546l4-7l3 4zM811 546l4-7l3 4zM830 545l4-6l3 4zM850 546l4-7l3 4zM878 540l-5 5l-2-4zM898 540l-5 5l-3-4zM917 540l-5 5l-2-4zM938 540l-6 5l-2-5zM959 540l-6 5l-2-5zl-7 2M980 541l-7 3l-1-4zl-9 1M1000 542l-7 3l0-5zl-9 0M1020 543l-7 2l1-5zl-9-1M1040 544l-7 1l1-5zl-10-2M1060 545l-7 1l1-5zl-10-3M1079 546l-7 0l2-5zl-10-4M1099 546l-8 0l2-5zl-10-4M1118 547l-8-1l2-5zl-9-5M1136 546l-7-1l2-4zl-8-4M1155 546l-8-1l2-5zl-7-4M1173 545l-8-1l3-4zM1192 545l-8-1l2-5zM1211 545l-7-1l2-5zM1230 546l-7-3l4-4zM1240 543l7-3l1 4zM1260 543l7-3l0 5zM1280 543l6-3l1 4zM1299 544l6-4l1 4zM1318 545l6-5l1 4zl6-3M69 516l4 6l-5 1zM90 517l2 7l-4 0zM111 517l0 7l-4-1zM134 520l-5 5l-2-4zM154 524l-8 0l2-5zM173 525l-7-2l2-4zM192 526l-7-3l3-4zM212 526l-6-2l3-4zl-4-4M232 526l-7-2l3-4zl-5-4M251 526l-6-3l3-3zM270 526l-7-4l4-3zM285 527l-1-7l4 0zM300 523l6-4l2 5zM318 520l7 0l-1 4zl7 2M337 517l7 2l-2 4zl8 5M360 515l6 5l-5 2zl4 7M383 515l3 7l-5 0zl1 7M406 516l0 7l-5-2zl-3 6M427 516l-2 7l-4-2zl-4 6M446 516l-1 8l-5-3zl-3 6M463 516l1 8l-4-1zM480 517l5 6l-5 1zM496 518l7 2l-3 4zl5 4M513 519l7 0l-1 5zl8 3M530 520l8-1l-1 5zl11 2M548 521l7-2l-1 5zl12 1M565 522l7-3l0 5zl15 0M583 522l7-2l0 5zl16 0M601 523l7-3l0 5zl18-1M620 524l7-3l0 4zl18-2M639 524l7-3l0 5zl19-2M659 525l6-3l1 5zl19-3M679 527l6-4l1 4zl18-5M699 527l6-4l1 5zl18-5M719 528l6-5l2 5zl17-6M740 527l6-4l2 4zl16-5M762 527l5-5l2 5zl14-5M783 526l6-4l2 4zl12-4M805 525l6-4l1 4zl10-3M827 523l6-3l1 5zl7-1M848 522l7-2l0 5zM869 520l7 1l-2 4zM890 517l6 5l-4 3zM913 517l2 7l-5 0zM934 517l0 8l-5-2zM955 518l-2 7l-4-3zM976 519l-5 6l-2-4zM996 521l-6 4l-1-5zM1016 523l-7 1l0-5zM1036 525l-7-1l2-4zM1056 526l-7-2l2-4zl-6-4M1075 527l-6-2l3-4zl-6-5M1095 528l-7-3l4-4zl-6-6M1114 528l-6-3l3-4zl-5-6M1133 528l-6-4l3-3zl-5-6M1152 527l-6-4l3-3zl-4-5M1171 526l-7-3l4-4zM1191 525l-7-2l3-4zM1211 525l-7-2l3-4zM1230 525l-7-2l3-4zM1245 527l-2-7l5 0zM1261 525l5-6l2 4zM1280 525l5-6l3 4zM1300 525l5-6l2 4zM1320 525l4-6l3 4zM68 497l5 5l-4 3zM88 497l5 5l-4 2zM108 497l4 6l-4 1zM133 505l-7-2l3-4zM152 506l-6-4l3-3zM172 505l-7-3l4-3zM192 505l-7-2l3-4zM212 505l-7-2l2-4zM232 504l-7 0l2-5zM252 503l-7 1l1-5zM272 501l-7 3l0-4zM291 500l-6 5l-1-5zM310 498l-4 7l-3-4zM328 497l-2 7l-4-3zM347 496l-1 8l-4-2zM366 496l0 8l-4-2zM385 497l1 7l-5-1zM404 497l2 7l-5-1zM422 497l4 6l-5 1zM439 498l6 3l-3 4zM456 499l8 1l-2 4zl6 3M472 500l8-1l-1 5zl10 2M488 501l8-2l-1 5zl13 1M505 501l7-2l-1 5zl16 1M521 501l7-2l0 5zl20 1M537 502l7-3l0 5zl23 0M554 502l7-3l0 5zl26 0M571 502l7-2l0 5zl28 0M589 503l7-3l0 5zl30-1M607 503l7-2l0 5zl31-1M626 504l7-3l0 5zl32-2M646 505l7-3l0 5zl32-3M667 506l6-3l1 5zl30-4M688 507l6-4l1 5zl29-5M710 507l6-4l1 5zl26-5M732 507l6-4l1 5zl24-5M754 506l7-4l1 5zl22-4M777 505l6-4l1 5zl18-3M799 503l7-3l0 5zl16-1M821 502l7-3l0 5zl13 0M843 500l7-1l0 5zl11 2M864 499l8 0l-2 4zl10 3M885 498l8 1l-2 4zl8 4M906 498l7 1l-2 4zl7 4M926 498l7 2l-2 4zl6 4M946 499l8 1l-2 4zM966 501l7-1l-1 4zM986 502l6-3l1 5zM1006 504l5-5l2 4zM1026 506l3-7l4 4zM1046 507l2-7l4 3zl4-5M1066 508l1-7l4 2zl3-6M1086 508l1-7l4 2zl3-6M1107 508l-1-8l5 2zl2-6M1127 507l-1-7l5 1zM1147 507l-2-7l5 0zM1168 507l-3-7l4 0zM1189 507l-5-6l4-2zM1210 505l-6-3l3-3zM1231 504l-8-1l3-4zM1250 504l-7-1l2-4zM1269 505l-7-2l3-4zM1288 506l-6-4l4-3zM1306 507l-4-6l4-2zM1324 507l-2-7l4 0zM67 478l6 3l-3 4zM87 477l6 5l-4 2zM114 484l-7-1l2-4zM134 484l-8-1l3-4zM153 484l-7-1l2-4zM173 484l-7-1l2-4zM193 483l-7 1l1-5zM213 482l-7 2l0-5zM233 481l-6 3l-1-5zM253 479l-6 5l-1-5zl-6 3M272 478l-5 6l-2-5zl-6 4M292 477l-5 6l-2-3zl-6 5M310 477l-3 6l-3-3zl-5 5M329 476l-2 8l-4-3zl-4 6M347 477l-1 7l-4-2zM365 476l1 8l-4-1zM382 477l5 5l-5 2zM399 479l7 2l-2 4zM418 481l7-2l-1 5zM435 482l7-3l0 5zl8 0M452 482l7-3l0 5zl10 0M469 483l7-3l0 4zl13-1M486 483l7-3l0 5zl15-1M503 483l7-3l0 5zl18-1M521 482l7-2l0 5zl20 0M538 482l7-2l0 4zl22 0M556 482l7-3l0 5zl24 0M575 482l7-2l0 4zl24 0M593 482l7-2l0 4zl26 0M613 483l7-3l0 5zl25-1M633 483l7-3l0 5zl25-1M653 484l7-3l0 5zl25-2M674 484l7-3l0 5zl23-2M696 485l6-4l1 5zl21-3M717 484l7-3l0 5zl19-2M739 484l6-3l1 4zl17-2M760 483l7-3l1 5zl16-1M782 482l7-2l0 4zl13 0M803 481l7-2l0 5zl12 1M824 480l7-1l-1 5zl10 2M844 479l7 0l-1 4zl10 3M863 479l8-1l-1 5zl11 3M883 479l7-1l-1 5zl10 3M902 479l7-1l-1 5zl11 3M920 480l7-1l0 4zl12 2M939 481l7-2l0 5zl13 1M958 483l6-3l1 5zl13-1M977 484l6-3l1 4zl14-2M996 485l6-4l1 5zl15-3M1016 486l6-4l1 4zl14-4M1036 487l6-5l2 5zl14-5M1057 487l5-5l2 4zl12-5M1078 487l5-6l2 5zl11-5M1099 486l6-5l2 4zl10-4M1121 485l5-5l2 4zl7-3M1143 484l5-5l2 4zM1163 484l5-5l2 4zM1183 486l3-7l4 3zM1209 486l-5-5l4-2zM1230 485l-7-2l3-4zM1250 484l-7-1l2-4zM1269 485l-7-3l3-3zM1289 485l-7-3l3-3zM1308 486l-7-4l4-3zM1327 486l-6-5l4-2zM75 460l-6 4l-1-4zM95 462l-7 2l0-5zM115 462l-7 2l0-5zM134 462l-7 1l1-4zM154 462l-7 2l1-5zM175 462l-7 2l0-5zl-7-1M195 461l-7 3l-1-5zl-7 0M214 460l-6 4l-1-5zl-6 1M233 459l-5 5l-2-5zl-6 2M252 458l-4 6l-3-4zl-5 3M271 457l-4 7l-3-4zM289 457l-2 7l-4-3zM307 457l0 7l-4-2zM325 456l2 7l-4 0zM342 457l6 5l-5 2zM360 458l7 2l-3 4zM377 458l7 1l-1 4zl7 3M394 459l7-1l-1 5zl9 2M411 461l7-2l0 5zl12 0M429 463l7-3l0 5zl14-2M447 465l7-4l1 5zl15-4M466 465l6-4l2 5zl16-4M485 465l7-4l1 5zl16-4M505 464l6-4l1 5zl16-3M524 463l7-3l1 5zl17-2M544 463l7-3l0 4zl16-2M564 462l7-3l1 5zl16-1M585 462l7-3l0 5zl14-1M606 462l7-3l0 5zl13-1M627 462l7-3l0 5zl11-1M648 462l7-3l0 5zl10-1M669 462l7-3l0 5zl9-1M690 462l7-3l0 5zl7-1M711 461l7-2l0 5zM731 461l7-2l0 5zM751 461l7-2l-1 5zM771 460l7 0l-1 4zM790 459l8 1l-2 4zM810 459l7 1l-2 4zM830 459l7 1l-2 4zM849 460l7 0l-1 4zM868 461l7-2l0 5zM886 461l7-2l0 5zl7 0M904 462l7-3l0 5zl9-1M922 463l6-3l1 4zl10-2M940 464l6-4l1 5zl12-3M958 465l6-4l1 4zl13-4M977 465l6-4l1 5zl14-4M996 465l6-4l1 5zl15-4M1016 465l6-4l1 5zl14-4M1036 465l6-4l1 5zl14-4M1056 465l7-4l1 4zl13-4M1078 464l6-4l1 5zl11-3M1099 463l7-3l0 4zl10-2M1121 463l6-4l1 5zl7-2M1142 462l7-3l1 4zM1162 463l6-4l2 4zM1183 465l4-7l3 4zM1207 467l-3-7l5-1zM1229 466l-6-5l4-2zM1249 465l-6-3l3-4zM1269 465l-7-3l4-3zM1288 466l-6-5l4-2zM1307 466l-6-5l5-2zM1326 466l-5-5l5-2zM76 441l-7 3l0-5zM96 441l-7 3l0-5zM116 441l-7 3l0-5zl-6 0M136 441l-7 3l0-5zl-7 0M156 441l-7 3l0-5zl-7 0M175 440l-7 4l0-5zl-7 1M194 440l-6 4l-1-5zl-6 1M213 439l-6 5l-1-5zM232 438l-5 6l-3-4zM250 437l-3 7l-3-3zM267 436l1 7l-4-1zM284 436l5 6l-5 2zM302 438l6 3l-3 3zM320 438l7 1l-3 5zM337 438l8 1l-2 4zl8 3M355 437l7 1l-2 4zl9 4M373 435l7 1l-2 5zl11 6M391 435l7 1l-2 4zl12 6M408 438l8-1l-1 5zl15 3M427 443l6-3l1 5zl16-2M446 447l5-4l2 4zl16-6M465 449l5-5l2 4zl17-8M485 448l6-5l1 4zl16-7M505 446l6-5l2 5zl16-5M526 444l6-4l2 5zl15-3M547 443l7-3l1 5zl13-2M569 443l6-4l1 5zl11-2M591 442l6-3l1 5zl8-1M612 442l7-3l0 5zl7-1M633 441l7-2l0 5zM653 439l8 1l-2 4zM676 436l4 6l-4 2zM699 436l0 8l-5-2zM719 437l-1 7l-4-2zM739 437l-2 7l-4-3zM759 437l-2 7l-4-3zM779 437l-3 7l-3-3zM799 437l-3 7l-4-3zM819 438l-4 6l-3-3zM838 438l-3 6l-4-4zM850 445l4-7l3 4zM869 444l5-6l2 4zM889 444l4-6l3 4zM908 444l4-5l3 4zM926 445l4-6l3 5zl6-4M944 445l5-5l2 4zl8-4M962 445l6-5l2 5zl9-4M981 445l6-5l1 5zl10-4M1000 444l6-4l2 5zl11-3M1020 444l6-4l1 4zl10-3M1040 443l6-4l1 5zl10-2M1060 442l7-3l1 5zl9-1M1081 442l7-3l0 5zl8-1M1102 441l7-2l0 5zl7 0M1123 441l7-2l0 4zM1143 442l6-3l1 4zM1162 443l6-5l2 5zM1183 445l4-7l3 4zM1205 446l0-7l4 1zM1226 446l-2-7l4 0zM1246 446l-3-6l5-1zM1266 446l-3-6l4-1zM1285 446l-3-6l5-1zM1304 446l-2-7l5 1zM1322 446l1-7l4 2zM76 420l-6 3l-1-4zM96 420l-6 3l-1-4zl-6 1M116 420l-7 3l0-4zl-6 1M135 420l-6 3l-1-4zl-6 1M155 420l-7 3l-1-4zM174 420l-7 4l-1-5zM193 420l-6 4l-1-5zM212 419l-5 5l-2-4zM229 416l0 7l-5-1zM243 417l7 3l-4 4zM262 419l7 1l-2 4zM280 419l8 0l-2 5zM298 419l8-1l-2 5zl7 2M317 419l7-1l-1 5zl8 2M337 417l7 1l-2 4zl8 4M357 415l7 2l-3 4zl7 6M377 412l6 4l-4 3zl7 9M397 411l6 5l-4 2zl6 10M416 415l7 2l-3 4zl7 6M434 421l7-2l0 4zl9 0M452 428l4-6l3 4zl10-7M470 430l4-6l3 4zl12-9M488 429l5-6l3 4zl13-8M508 427l5-5l3 4zl13-6M529 426l6-5l1 4zl12-5M550 425l6-5l2 4zl10-4M572 424l6-5l2 5zl8-3M594 423l6-5l1 5zM614 422l6-4l1 5zM634 418l7 2l-3 4zM659 416l1 7l-5-1zM679 416l0 7l-4-1zM699 415l0 8l-4-2zM718 414l1 8l-5-1zl-1 7M737 414l2 7l-5 0zl-1 7M755 415l3 7l-4 0zM774 416l4 6l-4 1zM794 416l4 6l-5 1zM813 416l5 6l-5 1zM831 425l3-7l3 3zM852 426l1-8l4 2zM871 425l1-7l4 3zM890 425l2-7l4 3zM908 426l3-7l4 3zl5-5M926 426l4-6l3 3zl6-5M945 426l4-6l3 4zl7-5M964 425l5-5l2 4zl7-4M983 425l5-5l2 4zl8-4M1002 424l6-5l2 5zl9-3M1022 423l6-4l1 5zl8-2M1042 422l7-3l0 4zl8-1M1062 421l7-2l1 4zl7 0M1083 421l7-2l0 4zM1103 421l7-3l0 5zM1123 421l7-3l0 5zM1143 422l6-4l1 5zM1162 423l6-5l2 5zM1182 424l5-6l3 4zM1202 424l4-6l3 4zM1222 425l4-7l3 3zM1242 425l3-7l4 3zM1262 425l3-7l3 3zM1281 424l4-6l3 4zM1299 423l6-5l2 5zM1319 420l7-1l-1 5zM75 399l-5 5l-2-5zM95 399l-6 5l-2-5zM115 399l-6 5l-2-5zM134 399l-6 5l-1-5zM154 400l-6 3l-1-4zM173 400l-6 3l-1-4zM193 400l-6 3l-1-4zM205 396l5 5l-4 2zM222 400l7-1l0 4zM241 400l8-2l-1 5zM260 400l8-2l-1 5zM279 400l7-2l0 5zl7 1M299 400l7-2l-1 5zl6 1M320 400l7-1l-1 4zM341 397l7 3l-4 4zM366 395l0 7l-4-1zM388 391l0 7l-5-2zl-4 10M409 389l-1 7l-4-2zl-6 12M428 392l-1 7l-4-2zl-5 9M447 398l-5 6l-2-4zM461 406l-1-7l5 0zM477 409l1-8l5 3zl5-8M494 409l3-7l3 3zl7-8M512 407l4-6l3 4zl9-6M532 406l5-6l3 4zl9-5M553 405l5-6l2 4zl7-4M574 404l5-6l2 5zl6-3M594 402l6-4l2 4zM614 400l7-1l-1 4zM635 396l6 5l-4 3zM657 396l4 6l-5 1zM677 394l3 6l-5 1zl1 7M695 392l4 6l-5 1zl2 9M712 391l5 5l-4 2zl5 10M729 391l6 4l-4 3zl7 10M746 393l7 2l-3 4zl10 8M765 397l7 0l-2 4zl11 4M786 400l7-2l-1 5zl9 1M808 402l6-4l1 5zl7-1M829 404l5-6l3 4zM850 405l3-7l4 3zM870 406l2-7l4 3zM889 406l2-7l4 3zl4-5M908 406l2-6l4 3zl5-5M926 406l4-6l3 3zl6-5M945 406l4-6l3 3zl7-5M965 405l4-6l3 4zl6-4M984 404l5-5l3 4zl7-3M1004 403l6-5l2 5zl7-2M1025 403l5-5l2 5zM1045 402l6-4l1 5zM1064 402l6-4l2 5zM1084 402l6-4l1 5zM1104 402l6-4l1 5zM1123 402l6-4l2 4zM1143 403l6-5l1 4zM1162 402l6-4l2 4zM1182 402l6-4l1 4zM1201 402l7-4l1 5zM1221 401l7-3l0 5zM1240 400l8-2l-1 5zM1260 399l8 0l-2 5zM1280 398l8 1l-3 5zM1301 397l6 3l-3 4zM1322 396l5 5l-4 2zM72 376l0 7l-4-2zM93 376l-2 7l-4-2zM113 377l-3 6l-3-3zM134 379l-6 4l-1-4zM154 380l-7 3l0-5zM174 380l-7 3l-1-5zM193 380l-7 3l0-5zM213 380l-7 3l0-5zM222 381l7-3l0 5zM241 381l7-3l1 5zM261 381l7-3l0 5zM280 381l7-3l1 5zM301 382l5-4l2 4zM327 385l-5-5l5-2zM351 381l-7 2l0-5zl-6-1M376 377l-6 4l-1-4zl-12 3M400 372l-5 5l-2-4zl-16 8M420 368l-4 6l-3-4zl-17 12M438 370l-4 6l-3-4zl-15 10M453 375l-5 6l-2-5zl-10 5M467 382l-7 0l1-4zM481 386l-1-7l4 0zM497 386l2-7l4 3zl4-6M515 386l3-7l3 4zl6-6M533 385l5-6l3 4zl8-5M553 383l6-4l1 4zl7-3M573 382l6-4l1 5zl7-2M593 380l7-2l-1 5zl6 0M612 378l8 0l-2 5zl7 2M632 376l7 2l-3 4zl6 4M652 373l6 4l-3 3zl6 7M671 371l6 4l-4 3zl7 9M688 369l7 4l-4 3zl9 11M705 368l6 3l-3 4zl12 12M720 369l7 2l-2 4zl16 11M737 373l7 0l-2 5zl19 7M756 379l7-2l-1 5zl20 1M778 384l6-4l1 5zl17-4M802 387l5-6l2 5zl13-7M826 387l4-6l3 4zl8-7M849 387l2-7l4 3zl5-7M870 387l1-7l4 2zl4-7M890 387l1-8l4 2zl3-7M910 386l1-7l4 2zl3-6M929 386l2-7l4 2zM949 385l2-7l4 3zM968 385l3-7l3 3zM988 385l2-7l4 3zM1008 385l2-7l4 2zM1028 385l1-7l4 2zM1050 386l-3-7l5 0zM1073 385l-7-4l4-3zM1093 383l-7-1l3-4zM1113 383l-7-1l2-4zM1133 382l-7 0l1-4zM1153 381l-7 2l0-5zM1170 376l-2 7l-4-2zM1184 376l6 4l-4 3zM1203 377l6 3l-3 3zM1222 377l7 3l-3 3zM1242 377l7 3l-4 3zM1262 376l6 4l-4 3zM1282 376l6 5l-4 2zM1303 375l4 6l-4 2zM1325 375l1 8l-5-1zM68 355l5 6l-4 2zM88 355l5 6l-5 2zM113 357l-3 6l-3-3zM136 360l-7 3l0-5zl-7 0M160 361l-7 2l0-5zl-11-1M181 360l-7 2l0-4zl-13 0M198 359l-6 3l-1-5zl-10 1M213 359l-6 4l-1-5zM232 358l-5 5l-3-4zM242 359l7-1l-1 5zM261 360l7-2l0 5zM280 362l6-4l2 4zM303 365l1-7l4 2zM328 366l-5-5l4-2zl-3-6M355 365l-7-1l2-4zl-10-5M381 361l-7 2l0-5zl-17-1M403 353l-5 5l-2-5zl-19 7M423 348l-5 6l-2-4zl-20 12M439 347l-4 7l-3-4zl-16 13M454 352l-5 6l-2-4zl-11 8M467 357l-5 6l-2-4zM480 365l0-7l5 1zM497 363l5-6l2 5zM514 362l6-4l2 5zl7-2M532 361l7-3l0 5zl9-1M551 360l7-2l0 5zl9 0M570 359l7-2l-1 5zl10 1M589 357l7 0l-1 4zl10 3M608 356l7 0l-2 5zl11 4M627 354l8 1l-3 4zl11 6M647 352l7 2l-3 4zl11 8M666 351l7 2l-3 4zl12 9M685 349l6 3l-3 3zl12 11M702 348l7 2l-3 4zl15 12M719 349l7 2l-2 4zl17 11M736 355l8-1l-2 5zl20 5M756 362l6-3l1 5zl20-2M778 369l5-6l2 5zl17-9M803 372l3-7l3 4zl12-12M828 372l1-7l4 2zl6-12M852 370l-1-7l5 1zl2-10M875 368l-4-6l5-1zl-1-8M896 367l-5-6l4-2zl-3-7M916 365l-6-5l4-2zM935 365l-6-5l5-2zM954 365l-5-5l4-2zM973 365l-4-6l4-1zM992 365l-4-6l5-1zM1012 365l-4-6l4-1zM1033 364l-6-4l4-3zM1054 363l-7-2l3-4zM1074 362l-7 0l2-5zM1095 362l-7 0l1-4zM1115 361l-7 2l0-5zl-6-1M1134 360l-7 3l0-5zM1153 359l-6 4l-2-5zM1172 358l-5 5l-2-4zM1190 356l-2 7l-4-3zM1207 355l2 7l-5 0zM1225 355l4 6l-5 2zM1243 356l6 5l-5 2zM1262 356l6 5l-4 2zM1282 356l6 4l-4 3zM1302 356l5 5l-4 2zM1329 359l-6 4l-1-4zM61 336l7 1l-1 4zl9 4M83 339l8-1l-1 4zl7 1M108 345l0-7l4 1zM137 345l-7-2l2-4zl-8-5M165 344l-7 1l1-5zl-16-4M189 340l-7 2l0-5zl-21 0M206 336l-6 4l-1-5zl-18 4M220 334l-6 6l-2-5zl-12 6M232 335l-3 7l-3-4zl-5 5M245 335l4 6l-4 1zM259 337l7 1l-1 4zl7 3M276 342l6-4l1 5zl10-2M298 347l3-6l3 3zl7-7M324 350l-2-7l5 1zl1-10M350 349l-6-5l4-2zl-5-9M374 344l-8-1l2-4zl-10-4M396 335l-6 5l-2-4zl-12 5M416 328l-3 6l-4-3zl-13 12M433 325l-2 7l-4-2zl-10 15M449 328l-1 8l-5-3zl-6 12M464 333l1 8l-5-2zl-2 7M479 336l6 4l-4 3zM496 339l8-1l-2 5zM513 339l8-1l-1 4zl8 1M531 338l8-1l-1 5zl10 2M550 337l7 0l-1 4zl10 3M569 336l7 0l-1 5zl11 4M588 335l7 1l-1 4zl11 5M608 335l7 1l-2 4zl11 5M627 334l8 1l-3 5zl11 6M647 334l8 1l-3 4zl11 6M667 333l7 2l-2 4zl11 7M687 331l7 3l-3 4zl10 9M707 330l7 4l-4 3zl10 10M727 332l7 3l-3 3zl9 8M746 337l7 0l-1 4zl10 3M766 345l5-5l2 4zl10-5M787 352l2-7l4 3zl8-12M810 356l0-8l5 2zl5-16M835 355l-3-7l5 0zl-1-15M859 352l-5-5l5-2zl-5-12M883 349l-7-3l3-4zl-9-9M904 345l-8-1l2-4zl-11-5M922 343l-7 0l1-5zl-9-3M939 341l-7 1l0-4zl-7-1M957 340l-7 2l0-4zM977 341l-8 1l1-5zM986 342l6-5l1 5zM1006 342l5-5l2 5zM1026 343l4-6l3 4zM1048 345l0-7l5 1zM1072 345l-6-5l4-3zM1094 342l-8 0l2-5zM1115 341l-8 1l1-4zM1135 339l-7 3l-1-4zl-7 1M1154 338l-6 5l-2-5zM1172 338l-5 5l-2-4zM1191 336l-4 7l-3-3zM1209 335l-1 8l-4-2zM1226 335l3 7l-5 0zM1243 336l6 4l-4 3zM1261 337l7 2l-3 4zM1280 339l7-1l-1 5zM1299 341l7-4l1 5zM1321 345l2-8l4 3zM50 319l7-2l0 5zl20 1M74 324l6-4l1 4zl16-4M101 329l3-7l3 4zl9-9M131 332l-4-7l5 0zl-2-12M161 329l-7-2l3-4zl-12-9M187 320l-7 2l0-5zl-19 0M208 311l-6 5l-2-4zl-20 9M223 308l-4 6l-3-4zl-15 12M236 308l-2 7l-4-3zl-9 12M246 308l3 7l-5 0zl1 12M255 310l7 3l-3 3zl11 10M267 318l8-1l-1 4zl19 2M288 329l5-5l3 4zl17-9M314 333l2-6l4 3zl11-13M338 331l1-7l4 3zl7-11M360 325l2-7l4 4zl4-5M381 315l6 5l-4 3zM406 309l1 8l-5-1zl-3 11M427 305l0 7l-4-1zl-4 15M444 306l2 7l-5 0zl-1 14M461 311l3 6l-4 1zl1 9M479 314l5 5l-4 3zM497 316l7 3l-3 3zM515 316l8 2l-3 4zl6 4M535 316l7 2l-3 4zl6 4M554 316l7 2l-2 4zl6 4M574 316l8 2l-3 4zl6 4M595 316l7 3l-3 4zM615 316l7 3l-4 4zM635 316l6 4l-3 3zM655 315l6 5l-4 3zM676 315l4 6l-4 1zM697 315l3 7l-5 0zM718 314l1 7l-5-1zM739 315l-1 7l-4-2zM761 319l-6 3l-1-4zM780 326l-6-4l4-3zl-4-6M799 333l-4-6l5-1zl-4-13M820 337l-4-6l4-2zl-5-17M843 337l-5-5l4-3zl-9-17M868 333l-7-3l3-3zl-14-13M891 328l-8-1l2-4zl-17-8M911 323l-7 1l0-5zl-18-3M927 318l-6 3l-1-4zl-14 2M941 316l-5 5l-2-4zl-9 4M954 315l-1 7l-4-2zM967 316l7 3l-3 3zM981 317l7 0l-1 4zl10 3M996 319l8-2l-1 5zl15 1M1015 321l6-3l1 5zl15-1M1036 324l6-5l2 5zl14-4M1060 324l5-5l3 4zl9-4M1085 324l3-7l4 4zM1109 325l-3-7l5 0zM1133 320l-7 2l0-5zM1153 318l-6 5l-2-5zM1172 317l-5 6l-2-4zM1191 317l-4 6l-3-4zM1209 315l-2 8l-3-3zM1224 315l5 6l-5 1zM1241 317l7 1l-2 5zM1259 319l7-1l0 4zM1277 320l6-3l1 5zl8 0M1296 322l6-4l1 5zl8-2M1317 325l4-6l3 4zl7-5M38 304l7-3l0 5zl32-4M63 310l5-5l2 5zl27-10M90 315l4-6l3 4zl20-15M119 318l1-7l4 2zl10-18M148 313l-2-7l5 0zl1-13M177 301l-7 1l0-4zl-9-1M203 289l-4 6l-3-4zl-15 11M225 282l-3 6l-4-3zl-17 18M240 279l-1 7l-4-2zl-13 21M250 277l1 7l-4-1zl-3 23M256 279l5 5l-4 2zl10 21M265 293l8 0l-2 4zl21 7M284 310l5-6l2 5zl21-10M306 315l4-6l3 4zl19-15M327 312l5-6l2 4zl18-12M347 307l6-5l2 4zl17-7M372 302l6-4l1 5zl12-2M400 294l6 5l-4 3zM425 286l1 7l-5 0zl-2 14M443 285l2 7l-5 0zl0 15M461 290l3 7l-5 1zl1 10M481 294l3 7l-4 1zM501 294l3 7l-5 0zM523 295l-1 7l-4-2zM545 297l-5 6l-2-4zM566 298l-7 4l-1-4zM588 299l-7 3l-1-5zl-8 1M609 299l-7 3l0-5zl-10 1M631 299l-7 3l-1-5zl-12 1M651 299l-7 3l0-5zl-13 1M671 299l-7 3l0-5zl-13 1M690 298l-7 4l0-5zl-12 2M709 297l-6 4l-1-5zl-12 3M730 296l-7 4l-1-4zl-13 4M750 296l-6 4l-1-4zl-14 4M770 299l-7 3l0-5zl-14 1M789 305l-7 0l1-5zl-13-5M807 311l-6-3l3-3zl-12-11M827 316l-6-4l4-3zl-12-16M850 317l-7-3l4-3zl-16-17M874 315l-7-3l3-3zl-20-15M898 308l-7 0l1-4zl-24-8M917 300l-7 2l0-4zl-24 0M931 293l-6 5l-1-5zl-18 7M941 290l-3 7l-3-4zl-9 10M950 289l4 7l-5 0zl2 11M959 290l7 2l-3 4zl12 10M969 292l8 0l-2 5zl22 8M982 296l7-2l0 5zl29 4M999 301l7-3l0 5zl31-1M1021 305l7-3l1 4zl29-5M1047 308l6-5l2 5zl22-8M1075 307l5-5l2 4zl14-7M1102 304l4-6l3 4zl7-4M1124 303l4-6l3 3zM1153 299l-7 3l0-5zM1172 297l-5 6l-2-5zM1191 296l-4 7l-3-4zM1208 295l0 7l-4-2zM1222 296l7 3l-3 4zM1239 297l7 0l-2 5zl7 3M1253 298l8-2l-1 5zl12 2M1269 300l7-3l0 5zl16 0M1286 303l7-4l1 5zl18-3M1307 307l6-5l2 4zl17-7M33 289l6-4l1 4zl37-10M58 295l6-5l2 4zl32-16M86 300l3-6l4 3zl24-21M114 302l2-7l4 3zl15-23M144 297l-1-7l5 1zl5-18M176 285l-8-3l3-3zl-8-6M207 270l-5 5l-2-4zl-19 9M232 258l-3 7l-3-4zl-24 21M249 251l-2 7l-4-3zl-22 28M259 245l0 7l-4-2zl-12 34M266 247l2 7l-4 0zl0 32M275 266l6 4l-3 3zl11 13M289 288l5-5l3 4zl16-9M306 295l4-7l3 4zl19-16M323 291l5-5l2 4zl22-12M341 288l5-4l2 4zl23-9M364 289l6-6l2 5zl20-10M393 282l6-4l2 5zl10-3M420 269l4 6l-4 1zl3 10M441 266l3 7l-5 0zl2 13M462 272l3 7l-5 0zl0 7M486 277l-5 5l-2-4zM509 280l-7 2l0-5zl-8-1M533 281l-8 1l1-4zl-12-2M556 282l-7 1l1-5zl-15-3M580 282l-7 2l0-5zl-20-3M602 283l-7 1l1-5zl-22-4M624 282l-7 2l0-5zl-25-3M644 282l-7 2l1-5zl-25-3M664 281l-7 2l0-5zl-26-2M682 280l-7 2l0-5zl-24-1M701 278l-7 3l0-5zl-23 1M719 277l-6 3l-1-5zl-22 2M738 276l-6 3l-1-5zl-21 3M758 275l-7 4l0-5zl-22 4M777 277l-7 4l0-5zl-21 2M795 282l-7 2l0-5zl-19-3M813 289l-8-1l3-5zl-18-10M832 295l-7-3l3-3zl-17-16M855 299l-7-3l3-3zl-21-20M880 298l-7-2l3-4zl-26-19M904 290l-7 0l1-5zl-30-11M923 278l-7 2l0-4zl-30 1M935 267l-5 6l-2-4zl-22 12M943 262l-2 7l-4-2zl-11 17M949 261l3 6l-5 1zl3 18M955 262l6 3l-3 4zl16 17M963 265l7 1l-2 4zl28 14M974 271l7-1l-1 5zl37 8M991 280l7-3l0 5zl39-1M1014 288l6-4l1 5zl36-9M1041 292l6-5l2 4zl28-13M1071 292l4-6l3 4zl18-13M1099 288l4-7l3 4zl10-9M1125 283l2-6l4 3zM1149 285l-4-7l5-1zM1172 277l-5 5l-2-4zM1190 275l-2 7l-4-3zM1205 274l4 7l-4 1zM1221 275l7 3l-3 3zl5 4M1234 274l8 1l-2 4zl12 5M1247 275l7-1l-1 5zl18 4M1260 278l7-2l0 5zl25 1M1277 283l6-3l1 5zl27-4M1297 289l6-4l2 4zl27-10M41 272l6-5l1 4zl29-13M66 279l4-6l3 3zl24-20M94 284l2-7l4 2zl16-25M123 286l-1-7l5 1zl6-27M155 283l-4-6l4-1zl-6-24M188 272l-7-2l3-4zl-20-13M220 254l-6 4l-1-5zl-32 5M245 237l-5 5l-3-4zl-37 22M260 223l-3 7l-4-3zl-33 36M269 215l-1 7l-4-2zl-22 44M279 219l0 7l-4-1zl-13 40M290 240l1 7l-5-1zl-4 19M300 263l5-6l2 4zM311 270l4-6l3 4zl14-11M323 268l5-5l2 5zl22-9M339 268l5-4l2 4zl25-9M358 273l5-6l2 5zl26-14M381 269l6-5l2 4zl22-10M408 254l7 0l-1 5zl15 5M436 251l6 4l-3 3zl7 8M466 256l-4 6l-3-4zM491 263l-7 0l2-5zl-9-4M517 265l-7 0l1-4zl-16-6M542 266l-7 0l1-4zl-21-7M566 267l-7 0l1-4zl-25-8M589 267l-8 0l2-4zl-29-8M610 266l-8 1l1-5zl-30-7M629 264l-7 2l1-5zl-30-5M648 263l-7 1l0-4zl-29-4M667 261l-7 2l0-5zl-29-2M686 259l-7 3l0-5zl-28 0M706 258l-7 3l0-5zl-28 1M727 256l-7 3l0-5zl-30 3M748 255l-7 3l0-5zl-31 4M768 254l-6 3l-1-4zl-32 5M787 255l-7 3l0-4zl-31 4M804 259l-7 2l0-4zl-28 0M820 266l-7 0l1-4zl-25-7M839 275l-8-2l3-4zl-24-16M861 282l-7-3l3-3zl-27-23M886 282l-7-2l2-4zl-32-23M910 271l-8 0l2-4zl-36-12M928 255l-7 3l0-5zl-35 4M939 240l-4 6l-3-4zl-26 19M946 232l-1 8l-4-3zl-14 27M952 231l2 7l-5 0zl0 28M958 233l6 5l-5 2zl13 26M967 237l7 3l-3 4zl24 22M979 246l8 0l-2 5zl32 13M997 259l7-3l0 5zl33 0M1020 271l6-5l2 4zl30-12M1048 277l4-6l3 4zl21-18M1077 277l2-7l4 2zl12-18M1105 271l0-7l4 1zl4-12M1129 265l-3-6l4-1zM1153 261l-8 0l2-5zM1172 257l-5 5l-2-4zM1189 254l-1 8l-4-2zM1204 254l5 5l-4 2zM1219 251l6 4l-3 3zl7 8M1232 249l7 2l-3 4zl14 10M1244 251l7 0l-1 4zl21 8M1258 256l7-2l-1 5zl27 3M1274 264l7-4l0 5zl30-5M1294 273l6-5l2 4zl30-14M61 254l2-8l4 3zl9-15M84 262l-1-7l5 1zl6-23M108 269l-2-7l5 0zl2-30M136 273l-4-6l5-1zl-7-34M167 272l-6-5l4-2zl-18-33M199 261l-7-2l3-4zl-31-22M228 240l-7 2l0-5zl-40-1M249 215l-5 6l-3-4zl-41 24M261 197l-2 7l-4-3zl-34 42M271 188l-1 8l-4-2zl-24 51M283 194l0 7l-4-2zl-17 45M296 213l0 8l-5-2zl-10 26M305 234l3 7l-5 0zM313 242l6-4l1 5zl12-3M324 243l6-4l1 5zl21-4M340 246l6-4l1 4zl24-7M357 252l5-5l2 4zl27-13M376 251l5-5l2 4zl27-12M402 242l7-3l1 5zl21-3M436 240l6-3l1 4zl7-1M468 246l-7-4l4-3zl-6-7M496 250l-7-3l3-3zl-14-11M522 251l-7-1l3-4zl-21-12M546 251l-7-1l2-4zl-25-12M568 251l-8-1l2-4zl-27-12M587 249l-7 0l2-5zl-27-10M606 247l-8 0l2-4zl-26-8M624 245l-8 1l2-5zl-25-6M643 243l-8 1l1-4zl-24-4M663 242l-7 2l1-5zl-25-3M686 241l-8 2l1-5zl-28-2M709 239l-7 3l0-5zl-31 0M731 237l-7 3l0-5zl-34 2M752 235l-7 3l0-5zl-35 4M771 232l-6 4l-1-5zl-35 7M789 232l-7 4l-1-5zl-33 7M805 235l-6 3l-1-5zl-29 4M822 242l-7 2l1-5zl-27-3M841 254l-7-1l2-5zl-26-15M863 264l-7-3l3-4zl-29-25M886 264l-7-2l3-4zl-32-25M908 251l-7 0l2-4zl-34-12M926 230l-6 4l-1-4zl-33 9M939 211l-3 7l-4-3zl-26 28M948 202l0 7l-5-2zl-16 37M957 201l1 7l-4 0zl-5 38M967 204l4 7l-5 0zl4 35M980 211l5 5l-5 2zl11 28M996 223l6 3l-3 3zl15 16M1015 239l7-2l0 4zl15 0M1038 255l2-7l4 3zl12-16M1064 263l-1-7l5 1zl5-24M1090 262l-2-7l4 0zl-1-23M1116 255l-5-5l4-2zl-7-16M1138 247l-7-3l3-4zl-10-8M1158 240l-7 2l0-5zl-10-1M1175 236l-6 5l-1-5zl-8 3M1191 233l-2 8l-4-3zl-4 6M1206 231l3 6l-5 1zl0 8M1220 227l5 6l-4 2zl6 12M1234 225l7 4l-4 3zl12 14M1249 227l7 2l-3 4zl16 12M1265 234l8-1l-2 5zl20 5M1283 244l6-4l1 5zl21-5M1303 255l4-6l3 4zl21-16M83 233l-7-4l4-3zl-13-14M101 244l-5-6l4-2zl-11-25M120 253l-5-6l5-2zl-10-34M142 260l-5-6l5-1zl-13-41M167 262l-5-5l4-2zl-18-43M193 251l-6-4l4-3zl-25-32M218 225l-8 1l1-5zl-30-6M236 194l-4 6l-3-3zl-28 25M249 171l0 7l-5-2zl-22 48M261 163l1 7l-5-1zl-14 56M276 170l1 7l-4-1zl-10 49M291 187l2 8l-5-1zl-5 32M303 204l3 7l-4 1zl2 15M313 213l7 1l-2 4zl12 6M327 218l7-2l-1 4zl18 1M344 223l6-4l1 5zl20-4M363 229l5-5l3 4zl21-10M384 232l4-6l3 4zl19-13M410 231l4-7l3 4zl13-12M442 231l-2-7l5 0zl1-12M472 234l-6-5l4-2zl-10-15M499 236l-7-3l3-4zl-17-17M522 236l-7-3l3-4zl-21-17M543 234l-7-2l3-4zl-22-15M562 232l-7-2l2-4zl-21-13M580 229l-7-1l2-4zl-20-10M599 227l-8 0l2-5zl-19-8M619 226l-8 0l2-5zl-20-7M640 226l-7 0l1-5zl-21-7M662 225l-8 0l2-4zl-24-6M681 223l-7 1l1-5zl-23-4M698 220l-8 2l1-5zl-20-1M712 216l-6 4l-1-5zl-15 3M727 212l-5 6l-2-4zl-10 7M743 210l-2 7l-4-3zl-7 9M762 209l-2 7l-4-2zl-6 10M782 212l-3 6l-3-3zl-6 7M803 220l-7 1l0-5zl-8-1M824 233l-6-5l4-2zl-9-14M847 244l-5-5l4-2zl-13-25M871 245l-6-5l4-2zl-17-26M894 230l-8-1l3-4zl-20-11M913 205l-4 6l-3-4zl-20 14M930 184l-1 7l-4-2zl-17 35M945 174l0 7l-4-1zl-13 45M960 175l1 7l-5-1zl-8 44M977 180l1 7l-5-1zl-6 39M994 188l2 8l-5-1zl-3 31M1014 203l1 7l-5-1zl-3 16M1035 222l-7-2l2-4zM1056 239l-4-6l4-1zl-6-20M1078 249l-4-6l5-2zl-9-30M1101 248l-5-6l4-2zl-12-29M1123 239l-6-4l4-3zl-14-20M1145 228l-7-1l2-4zl-17-9M1165 220l-7 2l1-5zl-17-1M1183 214l-6 4l-1-4zl-16 5M1199 210l-4 6l-3-4zl-12 9M1213 206l-1 8l-4-3zl-7 13M1228 203l2 8l-5-1zl-2 16M1244 202l3 7l-4 0zl2 17M1262 205l4 6l-5 1zl3 14M1281 212l6 5l-5 2zl4 7M1300 223l3-7l4 4zM1320 235l-1-7l5 1zl4-16M96 210l-7 0l2-5zl-26-11M110 221l-7-3l4-4zl-20-22M123 233l-5-6l5-2zl-13-34M138 243l-3-6l4-1zl-9-44M156 248l-4-7l5-1zl-7-49M174 236l-3-6l5-1zl-6-37M194 208l-6-5l4-2zl-6-9M212 172l1 8l-4-1zl-4 27M230 146l2 8l-5-1zl-3 53M247 139l3 7l-5 0zl0 60M266 147l3 7l-5 0zl0 52M285 162l2 7l-4 1zl1 37M300 177l4 6l-4 1zl5 22M315 186l7 4l-4 3zl10 13M332 194l7 0l-1 5zl13 5M352 202l6-4l1 4zl12-3M373 210l3-7l4 3zl11-11M396 215l0-7l5 2zl7-16M421 218l-2-7l5 0zl2-19M448 220l-4-6l4-2zl-5-21M473 221l-5-5l4-3zl-11-22M496 220l-6-4l4-3zl-14-21M517 218l-6-4l4-3zl-16-19M537 215l-7-3l4-3zl-16-16M557 213l-7-3l3-4zl-16-14M578 211l-8-2l3-4zl-18-12M598 209l-7-1l3-4zl-18-10M618 208l-8-1l2-4zl-19-9M633 205l-7 0l2-5zl-14-6M644 201l-7-1l2-4zl-6-2M653 196l7 1l-2 4zM661 192l8 0l-2 5zl17 7M673 189l7 0l-1 5zl24 10M688 187l8 1l-2 4zl29 12M706 187l8 0l-2 4zl30 12M726 187l8 0l-2 5zl30 12M748 191l8-1l-2 5zl28 8M772 200l6-3l1 5zl23-1M796 213l4-6l3 4zl19-14M821 225l1-7l4 2zl13-26M846 226l-1-7l5 1zl8-27M869 210l0-7l5 1zl5-11M892 184l3 7l-5 0zl1 15M914 161l2 8l-4-1zl-1 38M936 152l2 7l-5 0zl-4 47M958 154l2 7l-5 0zl-6 45M981 161l0 7l-4-1zl-10 38M1002 171l0 7l-5-2zl-11 28M1024 187l-4 6l-3-3zl-13 12M1045 206l-7-1l2-4zl-15-7M1065 223l-6-5l4-2zl-15-24M1082 232l-4-6l4-2zl-13-33M1100 231l-4-6l4-1zl-11-32M1120 223l-5-5l5-2zl-11-24M1143 212l-7-3l4-3zl-15-13M1166 201l-7 2l1-5zl-18-2M1188 193l-6 4l-1-5zl-21 6M1208 186l-5 6l-2-4zl-21 13M1225 182l-3 6l-3-4zl-19 17M1242 179l-2 7l-4-3zl-16 20M1260 179l-2 7l-4-3zl-14 20M1278 182l-2 7l-4-3zl-13 17M1298 190l-4 6l-3-4zl-13 9M1317 200l-7 2l1-5zl-13-1M1335 211l-6-3l3-3zl-11-12M100 185l-7 0l1-4zl-30-7M112 195l-7-2l3-4zl-22-17M123 207l-5-5l4-2zl-13-29M133 219l-3-6l5-1zl-4-41M144 225l-2-7l5 0zl5-47M156 215l0-7l4 2zl12-37M171 187l5-5l2 4zl17-9M190 152l6 4l-4 3zl18 26M212 126l5 6l-5 2zl15 52M237 119l3 7l-4 0zl10 59M261 127l3 7l-4 0zl5 51M283 140l3 7l-4 0zl3 38M303 153l3 7l-5 0zl2 25M321 163l4 6l-4 2zl4 15M340 173l6 4l-3 3zl5 5M360 183l3-7l3 4zl4-5M381 193l-1-8l5 1zl3-15M403 200l-2-7l5 0zl0-22M426 204l-3-7l4 0zl-3-26M448 206l-3-7l4-1zl-5-28M470 205l-4-6l5-1zl-8-27M491 203l-4-5l4-2zl-9-25M512 200l-5-5l4-2zl-11-22M533 198l-5-5l4-3zl-12-20M554 195l-6-4l3-3zl-13-17M571 191l-6-4l4-3zl-11-13M584 186l-5-5l4-2zl-4-8M593 181l6-5l2 4zl6-3M600 175l8-1l-1 5zl19 3M609 170l8 0l-2 4zl29 8M622 167l7-1l-1 5zl36 11M639 165l7 0l-2 4zl39 13M656 164l8 0l-2 5zl41 14M675 164l7 0l-2 4zl42 14M693 164l7 0l-1 4zl43 14M713 166l7-1l-1 5zl43 12M735 171l8-1l-1 4zl41 7M759 181l7-3l0 5zl36-3M783 196l5-6l2 4zl32-18M806 208l3-7l4 3zl28-30M828 208l3-7l4 4zl26-30M850 192l5-5l2 4zl24-14M873 166l8 2l-3 4zl20 12M899 145l5 5l-5 2zl14 33M926 137l4 6l-5 1zl6 41M954 139l2 7l-5 0zl-2 39M979 145l1 8l-5-1zl-8 33M1002 154l-1 8l-4-2zl-11 24M1023 171l-4 6l-3-5zl-12 7M1045 190l-7-2l3-4zl-15-12M1063 203l-5-5l4-2zl-13-25M1077 210l-4-6l5-1zl-8-32M1090 211l-3-7l5 0zl-1-33M1107 206l-2-7l4 1zl2-28M1129 197l-3-7l5 0zl-1-19M1155 187l-7-4l4-3zl-7-9M1182 176l-7 4l0-5zl-15 2M1208 167l-5 5l-2-4zl-21 11M1232 159l-4 6l-3-3zl-26 19M1253 155l-3 7l-4-4zl-27 23M1273 155l-4 6l-3-4zl-27 23M1292 158l-4 6l-3-3zl-27 20M1311 166l-5 5l-2-4zl-26 12M1329 175l-7 4l0-5zl-25 3M1345 185l-8 0l2-4zl-21-7M105 157l-6 3l-1-5zl-35 1M118 167l-7 0l1-5zl-28-9M129 178l-7-4l4-3zl-19-20M137 189l-4-6l5-1zl-8-31M143 195l-2-7l5 0zl6-37M149 187l2-7l4 3zl19-29M160 164l6-4l1 5zl28-6M179 133l7 3l-4 4zl29 25M204 111l6 5l-5 2zl23 47M233 104l4 7l-4 1zl14 54M262 111l3 6l-5 1zl4 47M286 122l3 7l-5 0zl0 36M308 133l2 7l-5 0zl-3 25M328 143l1 8l-5-1zl-3 15M347 153l-1 8l-4-3zM366 166l-4-6l5-1zl-2-8M385 176l-3-6l5-1zl-1-18M405 184l-3-7l5 0zl-2-26M425 189l-3-7l5-1zl-2-31M445 190l-3-7l5-1zl-2-32M465 188l-3-6l5-1zl-3-30M484 186l-3-7l5 0zl-2-28M503 182l-3-7l5 0zl-2-24M519 177l-2-8l5 1zl2-19M530 170l3-7l4 3zl11-12M540 162l6-4l1 5zl20-4M549 155l7-2l0 5zl31 3M562 149l7 0l-1 4zl37 9M578 147l8-1l-2 5zl41 11M598 145l7 0l-1 4zl40 13M618 144l8 0l-2 4zl40 14M638 142l8 1l-2 4zl40 16M657 141l8 1l-2 4zl40 17M677 141l7 0l-2 5zl40 17M698 142l7 0l-2 5zl38 16M720 146l7 0l-1 4zl36 12M743 153l8-1l-1 4zl33 5M766 164l7-4l1 5zl29-6M788 177l4-6l3 4zl27-19M806 188l3-6l4 3zl28-30M823 188l3-6l4 3zl31-30M841 174l5-5l2 4zl33-16M863 151l7-1l-1 5zl30 7M889 132l7 3l-4 4zl24 26M919 125l5 5l-5 2zl13 33M948 127l3 7l-4 0zl4 31M975 130l1 7l-4 0zl-4 28M998 136l0 7l-5-1zl-7 22M1019 154l-5 5l-3-4zl-8 4M1040 173l-6-5l4-2zl-10-15M1057 181l-4-6l4-2zl-7-23M1069 184l-2-7l5 0zl0-26M1079 186l0-7l5 1zl10-28M1092 186l1-7l4 2zl17-28M1110 182l2-7l4 3zl18-24M1134 175l2-7l4 3zl14-17M1162 166l2-8l4 3zl5-8M1193 155l-5 5l-3-4zl-6 3M1223 144l-4 7l-3-4zl-17 14M1251 137l-4 6l-3-3zl-25 21M1276 134l-4 6l-3-4zl-30 24M1298 136l-4 6l-3-4zl-33 22M1318 142l-5 5l-2-4zl-33 16M1336 150l-6 4l-1-5zl-32 8M1352 158l-7 3l0-5zl-28 0M116 131l-7 4l-1-5zl-46 7M133 138l-8 3l1-5zl-43 0M145 146l-8 1l1-5zl-35-8M152 154l-8-2l3-4zl-23-16M154 158l-4-6l5-1zl-5-20M157 153l2-7l4 3zl11-15M164 136l7-2l0 5zl24 2M181 115l7 2l-4 4zl27 23M206 98l5 5l-4 3zl21 40M235 93l4 7l-5 1zl12 45M263 98l3 7l-4 0zl3 40M289 106l2 7l-5 0zl-3 32M311 115l1 7l-5-1zl-6 23M331 124l-1 8l-4-2zl-6 14M350 136l-6 5l-2-5zM368 148l-5-6l5-2zl-4-10M386 159l-3-7l5 0zl-2-21M404 167l-3-7l5 0zl-1-29M421 171l-2-7l5 0zl2-33M439 171l-2-7l5 1zl4-33M455 169l-1-8l5 1zl7-31M469 163l1-7l4 2zl13-25M480 156l4-6l3 3zl21-18M491 147l6-4l2 4zl30-9M504 139l7-3l0 5zl37-1M519 133l7-2l0 5zl41 5M538 129l8-1l-1 4zl42 9M559 127l8-1l-2 5zl40 11M580 125l8 0l-2 5zl39 13M600 124l8 0l-2 4zl38 14M619 122l8 0l-2 5zl39 16M639 120l7 1l-2 4zl39 18M660 120l7 1l-2 4zl37 18M682 121l7 1l-2 4zl35 17M705 125l8 0l-2 5zl31 13M730 130l7-1l-2 5zl26 8M753 137l7-2l0 5zl23 1M775 146l6-5l1 5zl20-8M794 157l3-6l4 3zl21-19M809 166l3-7l4 3zl25-28M823 165l4-6l3 3zl31-27M839 153l5-5l2 5zl35-15M859 135l8-2l-1 5zl34 3M885 119l7 2l-2 4zl28 19M915 113l6 5l-4 2zl17 25M944 114l4 6l-4 1zl8 24M971 113l2 7l-4 0zl0 25M995 115l1 8l-5-1zl-4 23M1016 134l-4 6l-3-4zl-5 4M1036 153l-5-6l5-1zl-6-15M1053 156l-4-7l5-1zl-3-18M1066 155l-1-8l4 1zl3-17M1076 158l2-8l4 3zl13-20M1086 161l3-7l4 4zl23-23M1100 163l3-7l3 4zl28-25M1117 162l4-6l3 3zl31-24M1141 157l4-6l3 4zl26-19M1169 148l5-5l2 4zl18-10M1200 137l7-1l0 4zl6 1M1232 127l-1 7l-4-2zl-6 11M1264 121l-4 6l-3-3zl-18 17M1293 119l-5 6l-2-4zl-28 19M1319 122l-6 5l-2-4zl-34 16M1342 128l-6 4l-2-5zl-38 10M1362 134l-7 3l-1-5zl-38 4M116 112l-7 3l0-5zl-46 6M136 113l-6 3l-1-4zl-46 5M151 114l-7 3l0-5zl-41 4M159 116l-7 3l0-5zl-30 2M162 117l-7 3l0-5zl-13 1M164 114l7 3l-3 4zM172 106l7 2l-2 4zl16 12M188 94l6 4l-4 3zl20 24M211 85l5 5l-4 3zl16 33M237 82l4 7l-4 1zl10 36M264 85l3 7l-5 0zl2 33M288 90l2 7l-5 0zl-2 28M310 96l1 8l-5-1zl-5 22M330 105l0 7l-5-2zl-5 13M350 116l-6 4l-2-4zM367 128l-4-6l5-1zl-3-10M385 139l-3-7l5 0zl-1-21M401 147l-2-7l5 0zl2-29M416 150l-1-8l5 1zl7-32M430 148l1-7l4 2zl13-30M443 143l2-7l4 3zl19-25M455 136l5-6l3 4zl27-18M469 128l6-4l2 4zl32-10M486 121l6-3l1 5zl35-3M504 115l7-2l0 5zl37 3M524 111l8-1l-1 5zl36 7M545 108l7-1l-1 5zl35 10M565 105l7 0l-2 5zl34 13M584 103l7 0l-2 5zl35 15M603 101l7 1l-2 4zl35 17M623 100l7 1l-2 4zl35 18M644 100l7 1l-2 4zl34 18M666 102l8 1l-3 4zl31 16M690 106l7 0l-2 5zl27 12M714 110l7 0l-2 5zl22 8M737 115l7-1l0 5zl19 3M759 121l6-3l1 4zl17-3M779 128l5-5l2 4zl16-10M797 136l3-7l3 4zl18-18M811 141l3-6l4 3zl23-23M825 141l4-7l3 4zl29-23M840 131l6-5l2 5zl34-13M860 117l7-2l0 5zl33 1M885 105l7 1l-1 5zl28 13M913 101l7 2l-4 4zl19 17M941 99l5 5l-4 3zl11 19M968 96l3 6l-5 1zl3 22M994 96l1 7l-5 0zl-3 22M1017 113l-5 6l-2-4zl-6 5M1036 130l-5-5l4-2zl-6-12M1052 130l-4-6l5-1zl-2-12M1066 127l0-8l5 2zl3-9M1079 129l3-7l4 3zl10-11M1091 134l4-6l3 3zl18-16M1103 139l4-6l3 3zl25-21M1117 143l4-6l3 3zl31-25M1133 144l4-7l3 4zl34-26M1154 140l4-6l3 4zl33-22M1180 133l5-6l2 4zl26-15M1210 124l6-5l1 4zl16-6M1241 115l7 1l-2 5zM1276 112l-5 5l-3-4zl-11 6M1307 111l-6 4l-1-4zl-22 7M1336 113l-7 3l-1-4zl-32 5M1360 114l-7 3l0-4zl-36 4M88 96l-6 3l-1-5zl-18 1M109 91l-6 5l-1-5zl-19 6M126 85l-4 6l-3-4zl-16 12M139 80l-1 8l-4-3zl-10 17M150 79l2 7l-5 0zl-1 18M161 79l4 5l-4 2zl7 18M174 77l6 4l-4 3zl14 20M192 73l5 5l-4 2zl16 24M214 70l5 5l-4 2zl13 27M238 69l5 6l-5 1zl9 28M263 70l3 6l-5 1zl3 27M286 72l2 7l-4 0zl0 25M308 77l1 7l-4-1zl-3 20M328 84l1 8l-5-1zl-3 13M349 94l-4 6l-3-4zM366 107l-3-6l4-1zl-2-10M384 118l-3-7l5 0zl0-21M400 124l-2-7l5 1zl3-27M415 126l-1-7l5 1zl8-29M429 123l1-7l5 2zl14-26M444 118l3-7l4 3zl18-21M460 111l5-5l2 4zl22-14M478 105l5-4l2 4zl23-8M496 99l7-3l0 5zl25-2M515 94l7-1l0 4zl26 3M534 90l7-1l-1 5zl26 7M553 86l8 0l-2 5zl27 11M573 82l7 2l-2 4zl26 15M592 80l8 2l-3 4zl27 17M613 79l7 2l-3 4zl25 18M634 80l7 2l-3 4zl24 17M656 82l7 2l-3 4zl22 15M678 86l8 2l-3 4zl19 11M701 91l7 0l-2 5zl16 6M722 96l7-2l0 5zl14 1M743 100l6-4l1 5zl13-3M763 105l5-6l2 4zl13-8M781 110l4-7l3 4zl14-13M798 114l3-6l3 3zl17-17M813 117l3-6l4 3zl21-20M828 116l4-6l3 4zl26-19M844 109l6-5l1 4zl30-12M864 99l7-3l0 5zl29-2M887 90l8 0l-2 4zl26 7M913 86l7 1l-2 5zl19 11M939 84l7 4l-4 3zl13 13M966 81l4 5l-4 2zl5 16M993 80l1 7l-4 0zl-2 17M1017 93l-4 6l-3-4zl-6 4M1036 106l-6-4l4-3zl-6-9M1053 105l-5-6l4-1zl-3-8M1069 103l-2-7l5 0zM1086 104l1-8l4 2zl3-7M1102 108l1-7l4 2zl7-11M1116 113l2-7l4 3zl12-16M1129 118l3-6l3 3zl19-21M1142 122l3-6l4 3zl25-25M1157 124l4-7l3 4zl30-27M1175 122l4-6l3 3zl31-25M1198 118l4-6l3 4zl28-21M1224 113l4-6l3 4zl22-16M1252 109l4-7l3 4zl13-12M1281 106l1-7l4 1zl4-9M1308 103l-6-5l4-2zl-4-6M1331 99l-7 1l1-5zl-7-2M52 80l7-3l0 4zl18-3M72 71l7 0l-2 4zl18 6M91 61l7 3l-3 4zl19 16M110 54l7 4l-4 3zl19 23M130 52l6 4l-4 3zl19 25M150 53l6 4l-4 3zl18 24M171 54l6 4l-4 3zl17 23M192 55l6 4l-4 3zl16 22M215 54l5 5l-4 2zl12 23M238 53l5 6l-5 2zl9 24M261 53l4 6l-5 1zl5 24M284 53l3 7l-5 1zl2 24M306 57l2 7l-5 0zl-1 20M327 64l1 7l-4-1zl-2 13M348 73l-3 7l-3-3zM367 86l-5-6l5-2zl-3-9M385 96l-3-7l5 0zl-1-19M403 102l-3-7l5 0zl0-25M420 103l-2-7l5 0zl3-26M437 100l-1-7l5 1zl6-23M454 95l1-7l4 2zl8-18M471 90l3-7l4 3zl11-13M490 84l5-6l2 4zl11-7M508 78l7-3l0 5zl13-1M527 73l7 0l-1 4zl14 4M546 68l8 2l-3 4zl14 9M566 64l7 3l-4 4zl14 13M586 61l7 4l-4 3zl13 16M607 60l6 4l-4 3zl12 17M628 60l6 5l-4 2zl10 17M649 62l6 5l-4 3zl9 15M670 66l6 4l-4 3zl8 11M691 70l6 4l-3 3zl6 7M710 75l8 0l-2 5zl7 2M730 79l6-4l1 5zl6-2M748 83l4-6l3 4zl8-6M766 87l3-7l4 3zl10-10M783 90l3-7l4 3zl12-13M800 92l3-7l3 4zl15-15M816 93l3-6l4 3zl18-16M832 91l4-5l3 4zl22-14M849 86l6-4l2 4zl25-9M869 79l7-3l0 5zl24-2M891 73l8-1l-1 5zl22 4M915 70l8 1l-2 4zl17 7M940 69l7 2l-3 4zl12 8M965 66l6 5l-4 2zl6 11M991 66l3 7l-5 0zl0 11M1016 74l-5 6l-2-4zM1036 82l-7-3l3-4zl-6-5M1054 81l-7-3l3-3zM1074 80l-7-2l2-4zM1092 81l-6-3l4-4zM1111 84l-5-6l5-2zl-2-7M1127 87l-1-7l4 0zl1-10M1143 91l0-7l4 2zl5-14M1157 96l1-8l4 3zl10-19M1170 99l3-7l3 3zl17-22M1184 101l3-7l4 4zl22-24M1200 102l3-7l4 4zl26-25M1217 101l4-6l3 4zl29-24M1236 99l4-6l3 4zl29-22M1256 96l5-6l2 4zl29-19M1275 91l6-6l2 5zl29-14M1294 82l7-3l1 5zl30-5M42 60l7-3l0 4zl28-3M60 51l8-1l-1 5zl30 6M81 44l7 0l-2 5zl29 13M103 38l7 2l-3 4zl26 19M126 36l7 3l-3 4zl23 21M150 37l6 4l-3 3zl18 20M172 39l7 3l-4 3zl16 18M194 39l7 4l-4 3zl14 18M216 38l6 5l-4 2zl11 19M238 36l5 6l-4 2zl9 21M260 35l4 6l-4 1zl6 22M282 34l4 7l-5 1zl4 23M304 37l3 7l-5 0zl1 20M326 44l2 7l-5 0zl-1 13M348 53l-3 7l-3-3zM368 65l-5-5l4-2zl-4-8M388 75l-4-6l5-1zl-4-18M407 81l-4-7l5-1zl-4-24M425 82l-3-7l5 0zl-2-25M444 79l-3-7l5 0zl-1-22M462 74l-2-7l4 0zl0-17M481 68l-2-7l5 0zl1-11M500 62l0-7l4 1zM516 55l8 1l-3 4zM539 51l4 6l-5 2zM559 47l3 7l-5 0zl1 10M579 44l3 7l-5 0zl1 13M600 42l2 7l-5 0zl-1 15M620 42l2 7l-5-1zl-1 15M641 43l1 7l-5-1zl-3 14M661 45l0 8l-4-1zl-3 12M680 49l0 7l-4-1zl-2 8M699 52l0 8l-5-2zM721 60l-7-2l3-4zM735 62l0-7l4 1zM752 64l1-7l5 2zl4-7M770 67l1-7l4 2zl6-10M787 69l2-7l4 3zl8-12M804 70l2-7l4 3zl11-13M821 70l3-7l3 4zl13-13M838 68l4-6l3 4zl16-11M856 64l6-5l2 5zl18-7M876 59l7-3l0 5zl17-2M898 55l7-1l-1 4zl15 2M920 53l8 0l-2 4zl12 4M943 52l8 1l-3 5zl9 5M967 51l6 4l-4 3zl4 6M991 51l2 7l-4 0zM1015 54l-5 6l-2-4zM1035 59l-7 0l1-5zM1055 59l-8 0l2-5zM1075 58l-8 1l1-5zM1095 59l-8 0l2-5zM1114 61l-7-2l3-4zl-5-4M1133 63l-6-4l3-3zl-5-6M1150 65l-4-6l5-1zl-2-8M1167 68l-2-7l4 0zl0-11M1182 71l0-7l4 2zl5-14M1196 75l1-8l4 3zl10-18M1209 77l3-7l4 4zl17-20M1223 79l3-6l3 3zl23-22M1237 79l4-6l3 4zl28-22M1251 77l5-6l2 4zl34-20M1266 71l6-4l1 4zl38-14M1283 64l6-4l1 5zl41-7M55 39l7-4l0 5zl15-2M73 34l7-1l-1 4zl17 3M93 29l7 1l-2 4zl17 8M113 26l8 2l-3 4zl16 11M135 25l7 3l-3 3zl14 12M156 25l7 3l-3 3zl12 12M177 25l7 3l-4 4zl11 12M198 24l6 4l-4 3zl10 13M218 22l6 5l-4 2zl9 15M239 19l5 6l-4 2zl8 18M260 17l4 6l-4 1zl6 20M282 16l4 7l-5 0zl4 21M304 18l3 7l-5 1zl1 19M326 25l2 7l-5-1zl-1 12M349 34l-4 6l-3-4zM369 45l-5-5l4-2zl-5-8M389 54l-4-6l5-1zl-5-17M409 59l-4-6l5-1zl-6-22M428 60l-4-6l5-1zl-5-23M447 57l-4-6l5-1zl-4-20M467 52l-5-6l5-1zl-5-15M486 46l-5-5l4-2zl-4-9M506 40l-7-2l3-4zM526 35l-6 5l-1-5zM546 31l-3 7l-3-4zl-5 6M567 28l-3 7l-3-3zl-7 9M587 25l-2 8l-4-3zl-7 12M607 24l-2 8l-4-3zl-8 13M627 25l-2 7l-4-3zl-8 12M647 26l-3 7l-3-3zl-9 11M666 28l-3 7l-4-3zl-8 9M685 32l-4 6l-3-4zl-7 5M703 35l-6 4l-1-4zM722 39l-8-1l2-4zM739 42l-5-5l4-3zM757 44l-3-7l4 0zl-1-7M774 46l-1-7l5 0zl2-9M791 47l1-8l4 2zl4-10M809 47l1-7l5 2zl6-10M827 46l2-7l4 3zl7-9M845 44l4-6l3 4zl9-7M863 42l6-6l2 5zl11-5M883 38l7-3l0 5zl10-1M904 36l7-2l-1 5zl9 1M925 35l7-1l-1 5zl7 2M947 34l7 1l-2 4zM968 33l6 3l-3 4zM990 32l4 6l-5 1zM1015 33l-4 7l-3-4zM1035 38l-7 1l1-5zM1055 38l-8 0l2-4zM1074 38l-7 1l1-5zM1094 39l-8-1l2-4zM1113 39l-7-1l2-4zM1132 40l-7-3l3-3zM1150 41l-5-5l4-2zM1168 43l-3-7l5 0zl-1-6M1185 45l-1-7l5 1zl2-8M1201 48l1-7l5 2zl5-11M1217 51l2-8l4 3zl9-14M1232 53l3-7l3 3zl14-16M1246 53l4-6l3 4zl19-16M1261 52l5-6l3 4zl24-15M1277 49l6-5l2 4zl27-12M1295 43l6-4l1 5zl29-6" fill="#000" stroke="#000" stroke-width="1.7" stroke-linejoin="miter"/><path d="M78.1 134.3l8.7 3l7-6l12.1 0l1.8 9l6.9 6l8.8 3l8.7-3l12.1 3l0.9 3.1l4.4 18l3.5 9l1.7 9l3.5 9l5.2 9l1.7 1.5l12.2-1.5l-1.7 12.1l-3.5 9l-5.2 9l-5.2 9l-3.5 9l-1.8 9l1.8 12.1l0.8 12l-6 9l-3.5 6l0.8 12l-4.3 6l-0.9 9.1l-4.3 6l-5.3 9l-8.7 1.5l-6.1 0l-0.8-7.5l-3.5-9l-1.8-9.1l-1.7-12l-3.5-12l2.6-15l-0.8-12l-1.8-9.1l-5.2-15l0.9-9l-0.9-6l-5.2-1.5l-3.5-6l-5.2 1.5l-5.2 3l-5.3 0l-5.2 1.5l-5.2-7.5l-3.5-6l-3.5-6l-3.5-11.2l0.9-9.9l0.9-9l-1.8 0l3.5-9l3.5-10.5l5.2-6l0.9-7.6l4.3-6l1.8-6M78.1 134.3l-5.2-3l-0.9-6l0.9-9l1.7-4.5l10.5 0l1.7-7.5l-6.1-7.5l4.4-0.6l3.4-2.4l3.5-4.6l3.5-3l1.7-4.5l5.3-1.5l0.8-9l3.5-1.5l-0.9 6l3.5 4.5l3.5 0l7-1.5l5.2-1.5l0-6l5.2-1.5l-0.9-4.5l7.9-1.5l3.5-1.5l-7-1.5l-6.1 1.5l-1.7-3l0-6l6.1-6l-1.8-3l-3.5 1.5l-1.7 4.5l-6.1 6l-0.9 3l2.6 3l-3.4 9l-0.9 3l-3.5 1.5l-1.7 0l-0.9-3l-2.6-7.5l-1.8 0l-3.4 3l-4.4-3l-0.9-7.5l5.3-6l6.9-7.5l5.2-7.5l7-4.6l10.5-3l5.2 0l5.2 3l3.5 1.5l7 1.6l6.9 4.5l-1.7 4.5l-8.7-1.5l-1.8 4.5l1.8 3l5.2 0l3.5-1.5l0-4.5l6.9-1.5l0-4.5l3.5 0l3.5 3l10.5-4.5l10.4-1.5l0.9-3.1l11.3 3.1l3.5 1.5l-3.5-7.6l3.5-6l6.9 3l-1.7 12.1l3.5 3l-1.8-6l3.5-9.1l8.7-4.5l10.5-5.1M285.3 16.5l0 3.6l8.7 3l10.4-1.5l5.3 3l5.2 4.5l8.7-1.5l8.7-3l8.7 0l8.7 3l8.7 1.5l8.7 3l3.5 1.5l5.2 0l8.7-1.5l10.5 1.5l6.9 1.6l8.7 4.5l8.7 4.5l-5.2 4.5l-8.7-3l-3.5 1.5l-3.4 1.5l1.7 6l-7 1.5l-8.7 6l-8.7 0l-3.5 6l-1.7 6l-3.5 9l-5.2 6l-1.8-9l0-9l7-10.5l5.2-4.5l-8.7 1.5l-5.2 6l-8.7 0l-8.7 0l-7 7.5l-5.2 7.5l3.5 4.5l1.7 3l-1.7 9.1l-3.5 7.5l-5.2 7.5l-5.2 3l-3.5 3l-3.5 6l-0.9 1.5l3.5 7.5l-0.9 6l-4.3 1.5l-0.9-7.5l-1.7-3l0-4.5l-5.3-3l-1.7 4.5l-5.2 0l0 3l5.2 1.5l2.6 1.5l-4.3 3l-1.8 3l3.5 9l1.7 4.6l-1.7 7.5l-2.6 7.5l-4.4 6l-5.2 3l-6.9 4.5l0 3l-3.5-4.5l-3.5 7.5l1.7 7.5l3.5 10.5l0 4.5l-4.3 4.6l-2.6 4.5l0-4.5l-3.5-3l-3.5-6.1l-1.8-1.5l-0.8 7.6l0.8 6l1.8 6l4.3 9l0.9 7.5l-0.9 0.6l-4.3-5.1l-0.9-9l-3.5-6l0-6l-0.8-9.1l-0.9-9l-4.4 0l-0.8-6l-4.4-10.5l-1.7-3l-3.5 1.5l-3.5 3l-1.7 3l-7 10.5l-3.5 4.5l0 9l-0.8 6.1l-2.7 6l-1.7-1.5l-1.7-7.5l-2.7-9.1l-2.6-9l0-9l-0.8-3l-4.4 0l-1.7-4.5l-3.5-6l-5.2-2.4l-7 0l-5.2-1.2l-0.9-3.9l-4.3 0.9l-3.5-3l-3.5-6.9l-2.6 0l-0.9 3l3.5 7.5l1.7 4.5l1.8 3l3.5 0l4-6.9l0.3 5.4l3.5 3l2.3 3l-3.2 7.5l-1.7 6l-3.5 3l-5.2 3l-5.3 6l-6.9 3.6l-2.6 0.3l-1.4-6.9l-1.2-6l-3.5-9l-1.8-7.5l-3.4-9l-3.5-7.5l-0.9-4.5l-0.9 4.5l-1.7-3l-0.9-3M144.8 148.7l3.5-0.3l1.2-5.1l1.7-7.5l0-3.6l-3.5 1.2l-3.5 0.3l-2.6-0.9l-4.3-0.6l-1.8-2.4l-0.8-4.5l0-3.6l4.3-2.4l4.4-0.6l6.1-2.4l5.2 3l6.1-1.5l0-3l-4.4-4.5l-2.6-3l0.9-6l-5.2 4.5l2.6 0.6l-2.6 1.5l-2.6 0.9l-0.9-4.5l-3.5-1.5l-1.7 3l-2.6 6l-0.9 4.5l1.7 3l-5.2 0.6l-3.5 0.9l-2.1 0.6l0.4 3.9l1.7 3l-1.7 4.5l-1.8-0.6l-0.8-2.4l-0.9-4.5l-2.6-4.5l0-4.5l-6.1-4.5l-2.6-4.5l-1.8-2.1l-2.1 1.2l0.4 3.9l2.6 4.5l3.5 1.8l4.3 5.1l-2.6-0.9l-0.8 3l0.8 1.5l-1.7 3l-0.5 0l0.5-3l-0.9-3l-2.6-3l-2.6-1.5l-2.6-3l-1.8-4.5l-2-1.2l-2.3 1.8l-2.6 2.4l-3.5-1.5l-1.7 3l0.3 2.1l-4.7 3.9l-1.4 3l0.5 2.4l-1.2 3l-2.2 2.7l-4.4 0.3l-1.7 2.1M422.8 45.4l7-2.7l3.5-1.5l-3.5-3l-3.5-1.5l5.2-3.1l10.5-5.4l8.7 1.5l12.2 2.4l6.9 1.2l8.7 1.9l10.5-3.1l3.5-1.5l5.2 3l8.7 0l8.7 3.1l8.7 1.5l3.5 3l5.2-3l8.7 0l7 0l3.5-3l-1.8-9.1l5.3 6l3.4 3.1l7 3l7-3l1.7 3l-3.5 6l-5.2 0l-1.7 6l-5.3 1.5l-5.2 4.5l-2.6 6l0.9 3.9l2.6 5.1l6.1 1.5l6.9 3.6l5.3 0.9l0 6l2.6 4.5l2.6 0l0-7.5l3.5-6l-1.8-7.5l0-4.5l0.9-7.5l6.1 0.6l7 3.9l0.8 6l4.4 2.1l3.5-5.1l0.8-0.9l4.4 8.4l1.7 4.5l5.2 4.5l3.5 4.5l0.6 3l-2.3 1.5l-5.2 3.6l-8.7 0.3l-3.5 2.8l-3.5 2.4l-3.5 4.8l1.8-0.3l8.7-6.6l0.8 3.6l-0.8 3l1.7 3l5.2 1.5l1.8-1.5l-1.8 2.4l-4.3 2.1l-4.4 3l0-3l2.6-3l-4.3 1.5l-3.5 3l-2.6 3l-0.4 3l1.3 0.9l-3.5 1.5l-3.5 1.8l0 3.3l-2.6 4.5l-0.9 3l0.4 3l0.5 2.4l-2.6 2.1l-1.8 1.8l-2.6 2.7l-2.6 4.5l-0.5 4.6l1.4 6l0.8 4.5l-0.5 3.6l-1.2 0.3l-1.7-3.9l-1.3-4.5l-0.5-3l-1.7-3l-2.6 0.9l-2.6-2.1l-3.5 0.3l-0.5 3.3l-2.1 0l-4.4-1.5l-3.5 1.5l-3.5 3.6l-0.5 6l-0.7 6l-0.1 5.1l1.3 5.4l1.8 4.5l1.7 1.5l1.8 0.9l3.5-1.2l1.7-1.8l0.9-4.8l0.8-0.9l4.4-1.2l1.2 1.5l-1.2 4.5l-0.9 3.6l-0.5 5.4l-0.9 2.1l4.9-0.3l3.5 0.3l1.4 2.4l-0.5 6l-0.4 6.1l1.2 3l1.8 3l1.7 0.6l2.1-1.8l3.1 0.3l1.8 3l1.7-3.6l0.9-3l1.7-1.5l4.4-3.7l0.8 3.7l2.7-1.6l2.6 3.1l4.3 0l3.5 0l3.5-0.6l1.7 3.6l1.8 3l2.6 4.5l2.6 3l5.2 0.9l3.5 2.7l1.7 2.4l1.8 6.6l0 5.4l2.6 2.1l2.6 0l4.4 4.8l2.6 0.6l5.2 0.9l2.6 2.7l2.6 3.3l3 1.5l0.7 5.1l-0.2 6.1l-3.5 7.5l-2.6 4.5l-0.9 6l0 7.5l-1.7 7.5l-1.8 6l-1.7 3l-4.3 0.6l-3.2 2.4l-2.9 4.5l-1.3 6.1l-0.5 4.5l-2.6 6l-2.6 4.5l-2.6 4.5l-2.6 3l-3.5-1.5l-2.6-1.5l2.2 6.9l0.4 5.1l-3.5 2.4l-5.2 0.6l-0.5 5.4l-4.7 0.6l1.7 4.5l-1.7 1.5l-0.9 6l-3.5 3l2.6 4.6l-2.6 4.5l-2.6 4.5l0.9 5.4l-2.6 0.6l2.6 1.5l2.6 6l2.6 0l-4.4 1.5l-5.2-4.5l-3.5-1.5l-2.6-4.5l-1.7-6l0.9-6l-0.9-4.5l2.6-4.6l0-6l0.9-4.5l-0.4-6l0.4-7.5l1.7-6l1.7-9l0-9l1.8-12.1l0.3-15l0-5.1l-2.9-3.9l-5.2-4.5l-2.3-4.5l-1.2-6l-2.6-7.5l-1.8-7.6l-2.6-3l-0.5-4.5l2.2-3l-0.8-3.6l-0.9-3.9l1.7-4.5l1.8-3l0.9-3l1.7-4.5l0.3-6l-0.3-4.5l-1.7-1.5l-1.8-2.7l-1.7 2.7l0.8 2.1l-2.6-1.5l-2.2-1.2l-1.6-1.5l-2.3-3.9l-1.4-2.7l-1.7-3.4l-1.2-3l-2.6-1.2l-3.5-1.5l-2.3-2.1l-2.9-4.5l-1.8 0.3l-2.6 0.9l-3.5-1.8l-2.6-2.1l-3.5-3l-3.4-3l-2.7-3l0.4-4.5l-1.2-4.5l-3.5-6l-2.6-4.5l-1.8-3l-2.6-4.5l-1.7-6.1l-3-2.1l0 5.2l3 6l1.7 4.5l2.6 6l1.8 4.5l-1.4-1.5l-3-4.5l-0.8-4.5l-2.7-3l-0.8-3l-2.3-4.5l-1.7-6.1l-0.9-3l-2.1-3l-3.5-1.5l-2.2-6l-1.3-3.9l-2.2-5.1l-0.9-3l0.2-7.5l0.3-9l-1.2-7.2l3-0.3l0.8 3l-0.8-4.5l-3.5-3l-4.4-3.1l-0.8-4.5l-3.5-4.5l-1.8-4.5l-4.3-4.5l-2.6-3l-3.5-1.5l-4.4-3.9l-4.3-0.6l-3.5-0.6l-3.5-2.4l-3.5 0.6l-2.6 3l-4.3 2.4l0.9-6l-4.4 7.5l-3.5 3l-3.5 3l-4.3 3l-4.4 2.1l-2.6 0.3l4.4-3.3l3.5-2.1l3.4-3l0.9-3.6l-2.6 0.6l-5.2-1.5l0-3l-5.2-1.5l-1.8-3.9l1.8-2.1l0.8-1.5l6.1-1.5l0-3l-3.5 0l-5.2 0l-3.5-3.3M-12.5 16.5l1.8 3.6l3.5 6l1.7 4.5l5.2 3l-4.3 4.6l0.9 6l2.6 6l2.6 4.5l3.5 4.5l6.9 3l3.5-6l3.5-7.5l5.2-3.6l7-5.4l8.7-2.4l5.2-3.7l5.2-2.4l-3.5-3.6l3.5-3l0-4.5l4.4-3.6M614.3 16.5l1.8 3.6l3.5 6l1.7 4.5l5.2 3l-4.3 4.6l0.9 6l2.6 6l2.6 4.5l3.5 4.5l6.9 3l3.5-6l3.5-7.5l5.2-3.6l7-5.4l8.7-2.4l5.2-3.7l5.2-2.4l-3.5-3.6l3.5-3l0-4.5l4.4-3.6M46.7 45.7l3.5-2.4l7 0.9l5.2-0.6l2.3 3.6l-2.3 2.1l-6.1 2.4l-4.3-0.9l-2.6-0.6l0.8-2.4l-3.5-2.1M79 92.3l4.3-1.6l7-2.1l1.2-4.5l-3-2.4l-0.3-3l-2.3-3l-0.8-1.5l-1.8 0l1.8-4.5l-3.5-0.6l1.7-2.7l-3.5 0l-1.7 3.3l0.9 4.5l0.8 3l2.6 0.3l0.9 2.7l0 1.8l-2.6 0.3l0.3 2.4l-1.5 2.1l2.9 0.9l0.9 0.9l-4.3 3.7M78.1 85.6l-7 1.8l0-5.7l2.6-3l0.9-2.1l3.5 0l0.9 2.1l-0.9 3l0 3.9M314.9 147.8l1.7 0l1.8-6l5.2-0.6l3.5-3l3.4-0.9l3.2-2.1l0.3-6.9l1.8-4.5l-0.9-5.4l-2.1 0.9l-0.5 3l-0.4 4.5l-3.1 4.5l-2.1 0l-1.4 3l-3.5 1.5l-3.4 1.5l-1.8 3l-1.7 2.1l0 5.4M332.3 117.8l2.6-4.5l0.3-6.9l2.3 3l4 1.8l-0.5 2.1l-2.6 3l-3.5-1.5l-2.6 3M335.8 104.3l0-12l0.8-10.6l0.9-1.5l0.5 6l-0.5 7.6l2.6 1.5l-2.6 6l-1.7 3M299.2 167.4l1.7 0l-1.7 9l-1.7-3l1.7-6M278.3 183.9l3.5-1.5l-0.9 4.5l-2.6 0.6l0-3.6M298.3 186.9l3 0.6l-0.4 6.9l-0.8 6l4.3 3l0 1.5l-3.5-3l-2.2-1.5l-1.2-6l0.8-7.5M300.9 221.5l2.7-4.5l3.4-3.9l1.8 6.9l-1.8 4.5l-2.6-1.5l-3.5-1.5M300.9 207l1.8 0.9l0.5 4.6l-1.4 1.5l-0.9-3l0-4M305 204.9l2 1.5l0 4.6l-1.2 0.9l-0.5-3.3l-0.3-3.7M292.6 217l4-8.4M278.3 238l1.8-0.6l2.6-2.4l2.6-3l3.5-4.5l3.1-6l3.8 6l-1.7 6l-0.4 6l-0.5 6l-1.7 7.5l-3.5 1.5l-4.4-2.1l-3.4-2.4l-1.8-6l0-6M254.5 225.4l3.8 1.5l4.3 7.2l6.1 8.4l1.8 6l2.6 3.6l-0.4 7.8l-2.2-0.3l-4.4-5.1l-2.6-6l-2.6-7.5l-3.5-7.5l-2.9-8.1M271.9 262l4.7 0l5.2 0l3.5 1.5l2.6 2.5l-0.4 2.4l-7.4-1.8l-6.1-2.2l-2.1-2.4M296.6 259l1.7-7.5l-1.7-6l0.9-5.4l3.4-0.6l4.4-1.5l0.9 0.6l-3.5 2.4l-3.5 0l-0.9 4.5l4.4 0l-1.8 3l0.9 7.5l-2.6-4.5l-0.9 7.5l-1.7 0M303.6 273.5l6.1-5.7l-3.5 2.7l-2.6 3M290.5 268.1l5.2-0.3l7-0.3l-5.2 1.8l-7 0l0-1.2M310.5 236.5l1.8 3l-0.9 5.4l-0.9-3.9l0-4.5M316.6 244.9l5.2 0l1.8 7.5l5.2-4.8l5.2 2.7l7 5.7l4.3 4.5l-0.8 3l6.1 10.6l-5.3-1.5l-4.3-6l-3.5 3l-3.5 0l-4.3-2.1l-0.9-4l-1.7-6l-3.5-1.5l-4.4-1.5l-0.8-3.6l-1.8-6M347.1 259l6.1-3.9l0 3.9l-4.4 2.4l-1.7-2.4M287 308.6l-0.9 9l2.7 18.1l0 9.9l5.2 2.1l3.5-3l6.9-3l3.5-2.1l5.2-1.8l4.4-0.6l4.3 4.5l2.7 5.4l3.4-5.4l0.9 7.5l2.6 1.5l1.8 6l5.2 2.4l2.6-1.5l2.6 2.1l2.6-3.6l3.5-1.5l1.7-9.9l2.7-6l1.7-10.5l-0.9-9.1l-3.5-6l-3.4-9l-4.4-4.5l-1.7-12l-0.9-1.5l-2.6-1.5l-1.8-9.6l-1.7 6.6l-0.9 12l-2.6 1.5l-6.1-6l0.9-10.5l-6.1-1.5l-3.5 2.4l-2.6 8.1l-4.3-3l-3.5 3l-4.4 6l-0.9 4.5l-5.2 4.5l-5.2 2.4l-3.5 3.6M340.5 364.8l5.7 0.9l0 6l-2.6 1.5l-2.1-3l-1-5.4M389.7 346.2l2.7 4.5l2.6 4.5l4.3 0.6l-2.6 5.4l-2.6 6l-1.2-0.6l0.3-3.9l-2.1-2.1l1.6-3.9l-3-10.5M389.2 364.2l2.8 3.6l-2.3 3.9l-2.9 3.9l-1.1 5.1l-3.8 1.9l-3.5-1.9l2.6-6l5.3-4.5l2.9-6M174.4 278.6l2.1 10.5l-2.7 7.5l-2 15l-1.4 6l-3.5 1.5l-2.6-7.5l0.8-9l0.9-12l4.4-3l1.7-4.5l2.3-4.5M227.8 213.1l3.2 6.9l-1.4 4.5l-1.8 0l-0.5-6l0.5-5.4M567.3 176.4l5.3-3l3.4 0l5.3 4.5l4.8 3.9l-5.7 0.9l-0.9-2.4l-4.3-3.9l-2.6-1.5l-3.5 2.1l-1.8-0.6M585.6 183l4.4-0.6l3.5 0.9l2.6 3.6l-4.4 1.5l-3.5-0.9l-2.6-0.6l0-3.9M579 187.2l3.5 0.9l-2.1 0.9l-1.4-1.8M598.3 187.2l2.6 0.3l-1.4 1.2l-1.2-1.5M170.4 107.3l3.4-4.5l3.5-1.5l3.5 0.6l0 5.4l-3.5 0l-0.8 1.5l0.8 4.5l3.2 3l1.2 4.5l-0.9 4.5l1.8 6l-5.3 0.9l-3.5-2.4l0-3l0.9-5.4l-2.6-5.1l-0.9-3l-0.8-3l0-3M190.4 102.8l4.3 0l0.9 4.5l-3.5 3l-2.1-3l0.4-4.5M269.6 87.7l3.5-3l5.2-4.5l1.8-5.1l-1.8 2.1l-2.6 6l-6.1 4.5M217.4 107.3l5.2-5.1l3.5 0.6M555.2 102.2l5.2-3.9l5.2 1.5l2.3 3l-4 0l-5.3-0.3l-3.4-0.3M563 116.3l2.1 0l0.5-6l1.7-5.4l-3.4 0.9l-1.8 4.5l0.9 6M569.1 104.3l5.2 0l1.7 3l-2.6 1.5l-1.4 3.9l-2-2.4l0-4.5l-0.9-1.5M570.3 117.2l7.5-3.3l-1.8 1.5l-4.3 2.4l-1.4-0.6M576.6 112.4l5.9-2.1l-0.4 1.5l-4.3 0.6l-1.2 0M546.4 90.7l-2.6-4.5l-0.8-4.5l2.6 0l1.7 7.5l-0.9 1.5M501.2 47.2l5.2-6l3.5 3l-5.2 3l-3.5 0M511.6 59.2l5.2-4.5l7 0l-3.5 3l-5.2 2.1l-3.5-0.6M144.2 241.6l3.5 0l0 3.9l-0.8 4.5l-2.7 0l-0.5-4.5l0.5-3.9M139.5 253l0.7 7.5l2.3 7.6M147.7 271.1l0.9 7.5l0.9 6.9M603 53.2l5.3-10.5l-11.4-9.1l-6.9-6l-10.5-4.5l-5.2-2.1l-13.9 0.6l-1.8 4.5l8.7 6l5.3 0l6.9 0l5.3 6.1l3.4 1.5l0 7.5l-8.7 0l0 3l10.5 3l6.9 1.5l5.3 1.5l0.8-3M511.6 27.6l20.9-4.5l7 9l-7 3.1l-15.7 0l-5.2-3.1l0-4.5M497.7 26.1l5.2-7.5l10.5 3l-7 6l-8.7-1.5M563.9 45.7l6.9 0l4.4 6l-7.9 1.5l-3.4-7.5M612.1 99.2l3.1-5.4l2.6-6.4l0.9 1.8l-0.9 3.1l3.5 1.5l1.8 3l0.5 3l-1.4 2.7l-4.4-1.2l-5.7-2.1M186 16.5l-4.3 5.1l-3.5 6l2.6 2.4l5.2-2.4l3.5-6l0-5.1M110.3 128.3l5.2-0.6l-0.9 4.5l-4.3-2.7l0-1.2M103 119.3l2.4 0l-0.3 5.4l-1.8 0.6l-0.3-6M104.2 113.3l0.9 3l-0.9 1.8l-0.7-2.7l0.7-2.1M129.4 135.8l4.9 0.9l-4 0.6l-0.9-1.5M144.8 137.3l3.8-1.8l-1.7 2.7l-2.1-0.9M443.7 181.8l1.8 1.5l-1.3 2.1l-0.5-3.6M320.1 140.3l2.6-0.6l-0.9 2.7l-2.6 0.9l0.9-3M374.1 303.2l5.2 6.3M541.2 23.1l5.2-1.5l0 6l-5.2 0l0-4.5M549.1 20.1l4.3 0l1.8 3.6l-5.3 0.9l-0.8-4.5M555.2 16.5l6.9 2.1l10.5 0l3.4-2.1M609.1 397.3l5.2-0.6l-1.7 3l-3.5-0.9l0-1.5M327.1 16.5l5.2 2.1l5.2 1.5l3.5-3.6M173 34.6l2.6 0.6l-0.9 0.9l-1.7-1.5M181.7 204.6l1.7 0.3M249.9 201.9l0.2 6" fill="none" stroke="#000" stroke-width="0.9" stroke-linejoin="round"/>
<path d="M88.5 19.5V410.5M193 19.5V410.5M297.5 19.5V410.5M401.9 19.5V410.5M506.4 19.5V410.5M610.9 19.5V410.5" stroke="#9a98a4" stroke-width="1" stroke-dasharray="1.5 3.55" fill="none"/><path d="M40.8 32.1H663.1M40.8 62.2H663.1M40.8 92.3H663.1M40.8 122.3H663.1M40.8 152.4H663.1M40.8 182.4H663.1M40.8 212.5H663.1M40.8 242.5H663.1M40.8 272.6H663.1M40.8 302.6H663.1M40.8 332.7H663.1M40.8 362.7H663.1M40.8 392.8H663.1" stroke="#9a98a4" stroke-width="1" stroke-dasharray="1.5 4.75" fill="none"/>
</g>
<rect x="36.3" y="17" width="626.8" height="393.5" fill="none" stroke="#000" stroke-width="1.8"/><text x="84.9" y="426.8" font-size="13" textLength="8.5" lengthAdjust="spacingAndGlyphs" class="a">0</text><text x="180.5" y="426.8" font-size="13" textLength="26.2" lengthAdjust="spacingAndGlyphs" class="a">60E</text><text x="280.1" y="426.8" font-size="13" textLength="36.1" lengthAdjust="spacingAndGlyphs" class="a">120E</text><text x="389.5" y="426.8" font-size="13" textLength="26.2" lengthAdjust="spacingAndGlyphs" class="a">180</text><text x="489" y="426.8" font-size="13" textLength="36.1" lengthAdjust="spacingAndGlyphs" class="a">120W</text><text x="598.4" y="426.8" font-size="13" textLength="26.2" lengthAdjust="spacingAndGlyphs" class="a">60W</text><text x="0.7" y="36.9" font-size="13" textLength="26.2" lengthAdjust="spacingAndGlyphs" class="a">70N</text><text x="0.7" y="66.9" font-size="13" textLength="26.2" lengthAdjust="spacingAndGlyphs" class="a">60N</text><text x="0.7" y="97" font-size="13" textLength="26.2" lengthAdjust="spacingAndGlyphs" class="a">50N</text><text x="0.7" y="127.1" font-size="13" textLength="26.2" lengthAdjust="spacingAndGlyphs" class="a">40N</text><text x="0.7" y="157.1" font-size="13" textLength="26.2" lengthAdjust="spacingAndGlyphs" class="a">30N</text><text x="0.7" y="187.2" font-size="13" textLength="26.2" lengthAdjust="spacingAndGlyphs" class="a">20N</text><text x="0.7" y="217.2" font-size="13" textLength="26.2" lengthAdjust="spacingAndGlyphs" class="a">10N</text><text x="8.8" y="247.3" font-size="13" textLength="18.1" lengthAdjust="spacingAndGlyphs" class="a">EQ</text><text x="0.7" y="277.3" font-size="13" textLength="26.2" lengthAdjust="spacingAndGlyphs" class="a">10S</text><text x="0.7" y="307.4" font-size="13" textLength="26.2" lengthAdjust="spacingAndGlyphs" class="a">20S</text><text x="0.7" y="337.4" font-size="13" textLength="26.2" lengthAdjust="spacingAndGlyphs" class="a">30S</text><text x="0.7" y="367.5" font-size="13" textLength="26.2" lengthAdjust="spacingAndGlyphs" class="a">40S</text><text x="0.7" y="397.5" font-size="13" textLength="26.2" lengthAdjust="spacingAndGlyphs" class="a">50S</text><path d="M88.5 410.5v4.2M193 410.5v4.2M297.5 410.5v4.2M401.9 410.5v4.2M506.4 410.5v4.2M610.9 410.5v4.2M36.3 32.1h-5M36.3 62.2h-5M36.3 92.3h-5M36.3 122.3h-5M36.3 152.4h-5M36.3 182.4h-5M36.3 212.5h-5M36.3 242.5h-5M36.3 272.6h-5M36.3 302.6h-5M36.3 332.7h-5M36.3 362.7h-5M36.3 392.8h-5" stroke="#000" stroke-width="1.2" fill="none"/>
<g stroke="#000" stroke-width="0.9" stroke-linejoin="miter"><path d="M676.4 101.8L684 72.6L691.6 101.8Z" fill="#dc0063"/><rect x="676.4" y="101.8" width="15.2" height="28.1" fill="#f00000"/><rect x="676.4" y="129.9" width="15.2" height="28.1" fill="#f08228"/><rect x="676.4" y="157.9" width="15.2" height="28.1" fill="#e6af2d"/><rect x="676.4" y="186" width="15.2" height="28.1" fill="#a0e632"/><rect x="676.4" y="214.1" width="15.2" height="28.1" fill="#00dc00"/><rect x="676.4" y="242.1" width="15.2" height="28.1" fill="#00d28c"/><rect x="676.4" y="270.2" width="15.2" height="28.1" fill="#00a0ff"/><rect x="676.4" y="298.3" width="15.2" height="28.1" fill="#1e3cff"/><rect x="676.4" y="326.3" width="15.2" height="28.1" fill="#8200dc"/><path d="M676.4 354.4L684 383.6L691.6 354.4Z" fill="#a000c8"/></g><text x="695" y="106.2" font-size="12.3" textLength="16.8" lengthAdjust="spacingAndGlyphs" class="c">25</text><text x="695" y="134.3" font-size="12.3" textLength="16.8" lengthAdjust="spacingAndGlyphs" class="c">20</text><text x="695" y="162.3" font-size="12.3" textLength="16.8" lengthAdjust="spacingAndGlyphs" class="c">15</text><text x="695" y="190.4" font-size="12.3" textLength="16.8" lengthAdjust="spacingAndGlyphs" class="c">10</text><text x="695" y="218.5" font-size="12.3" textLength="8.2" lengthAdjust="spacingAndGlyphs" class="c">5</text><text x="695" y="246.5" font-size="12.3" textLength="8.2" lengthAdjust="spacingAndGlyphs" class="c">0</text><text x="695" y="274.6" font-size="12.3" textLength="16.8" lengthAdjust="spacingAndGlyphs" class="c">-5</text><text x="695" y="302.7" font-size="12.3" textLength="25.4" lengthAdjust="spacingAndGlyphs" class="c">-10</text><text x="695" y="330.7" font-size="12.3" textLength="25.4" lengthAdjust="spacingAndGlyphs" class="c">-15</text><text x="695" y="358.8" font-size="12.3" textLength="25.4" lengthAdjust="spacingAndGlyphs" class="c">-20</text><text x="671.4" y="35.2" font-size="10.6" textLength="35.2" lengthAdjust="spacingAndGlyphs" class="t" letter-spacing="1.2">gpm</text>
<text class="t" y="10" font-size="10.4" xml:space="preserve"><tspan x="8.6" textLength="50.3" lengthAdjust="spacingAndGlyphs">ZUV500</tspan> <tspan x="66.3" textLength="133" lengthAdjust="spacingAndGlyphs">(sep2022-nov2022)</tspan> <tspan x="206.6" textLength="54.1" lengthAdjust="spacingAndGlyphs">forecast</tspan> <tspan x="268" textLength="30.6" lengthAdjust="spacingAndGlyphs">from</tspan> <tspan x="307.1" textLength="59.5" lengthAdjust="spacingAndGlyphs">1oct2021</tspan> <tspan x="376.2" textLength="43" lengthAdjust="spacingAndGlyphs">(NUIST</tspan> <tspan x="426.2" textLength="45.6" lengthAdjust="spacingAndGlyphs">CFS1.0;</tspan> <tspan x="483.2" textLength="73.1" lengthAdjust="spacingAndGlyphs">9-member</tspan> <tspan x="564.1" textLength="41.1" lengthAdjust="spacingAndGlyphs">mean)</tspan></text>
<path d="M523.6 439H558.6" stroke="#000" stroke-width="1.1" fill="none"/><path d="M559.4 439l-4.2 -1.6v3.2z" fill="#000"/><text x="537.6" y="450.7" font-size="11.8" textLength="7.6" lengthAdjust="spacingAndGlyphs" class="t">3</text><text x="552.4" y="450.7" font-size="11.5" fill="#2846ff" textLength="22.4" lengthAdjust="spacingAndGlyphs">ms</text><text x="576.2" y="445.6" font-size="7.4" fill="#2846ff" textLength="8.2" lengthAdjust="spacingAndGlyphs">-1</text>
</g>
</svg>
</body></html>
